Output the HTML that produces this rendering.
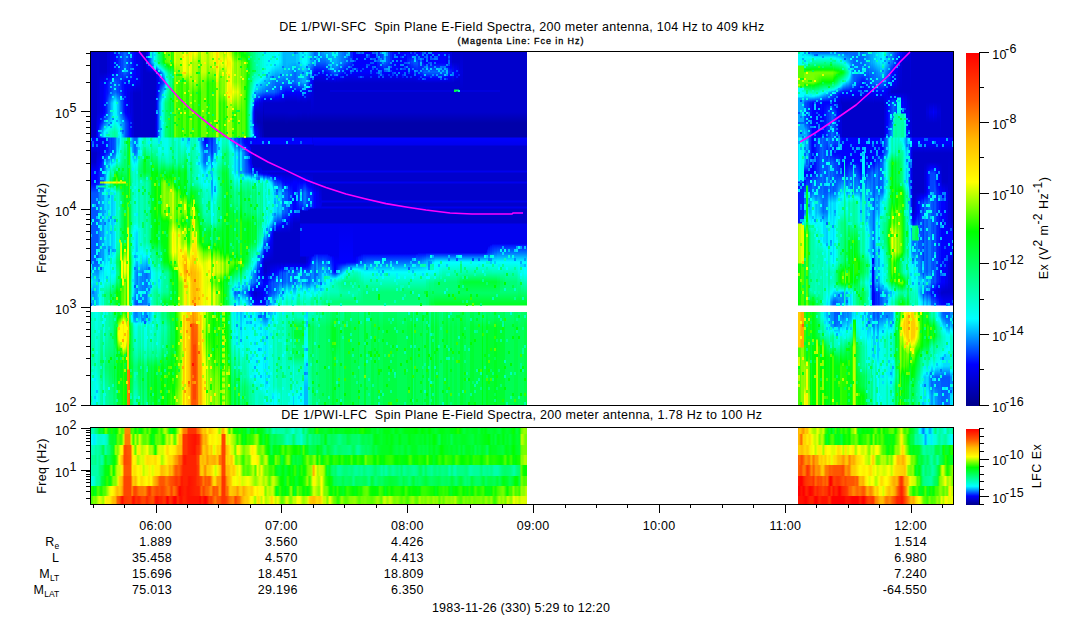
<!DOCTYPE html>
<html><head><meta charset="utf-8"><title>DE 1/PWI spectrogram</title>
<style>
html,body{margin:0;padding:0;background:#fff}
body{width:1083px;height:620px;position:relative;overflow:hidden;font-family:"Liberation Sans",sans-serif;font-size:12.5px;letter-spacing:.29px;color:#000}
.t{position:absolute;white-space:nowrap;line-height:14px;height:14px}
.r{text-align:right}
.c{text-align:center}
.sub{font-size:8.5px;position:relative;top:3px;letter-spacing:0}
.rot{position:absolute;white-space:nowrap;line-height:14px;height:14px;transform-origin:0 0;transform:rotate(-90deg);text-align:center}
.rot sup{font-size:12px;position:relative;top:-6px;vertical-align:baseline;line-height:0}
#m,#l{position:absolute;left:90px;overflow:hidden}
#m{top:51px;width:864px;height:354px}
#l{top:428px;width:864px;height:76px}
#m i{position:absolute;top:0;width:2px;height:354px}
#m i.w1{width:1px}#m i.w3{width:3px}
#l b{position:absolute}
#m s{position:absolute;top:0}
#ws{position:absolute;left:0;top:255px;width:864px;height:6px;background:#fff}
svg{position:absolute;left:0;top:0}
.cb{position:absolute;left:966px;width:13px}
</style></head><body>
<div class="t c" style="left:221.8px;width:600px;top:20.1px">DE 1/PWI-SFC&nbsp; Spin Plane E-Field Spectra, 200 meter antenna, 104 Hz to 409 kHz</div>
<div class="t c" style="left:321px;width:400px;top:33.8px;font-size:9px;letter-spacing:.93px;-webkit-text-stroke:.3px #000">(Magenta Line: Fce in Hz)</div>
<div class="t c" style="left:221.8px;width:600px;top:408.2px">DE 1/PWI-LFC&nbsp; Spin Plane E-Field Spectra, 200 meter antenna, 1.78 Hz to 100 Hz</div>
<div class="t c" style="left:321px;width:400px;top:600.9px;letter-spacing:.2px">1983-11-26 (330) 5:29 to 12:20</div>
<div id="m">
<i class=w1 style="left:0px;background:linear-gradient(#00c 0,#00c 86px,#00f 87px,#00f 92px,#00c 102px,#00c 111px,#00f 121px,#00f 132px,#05f 142px,#05f 211px,#0ef 231px,#0af 242px,#0af 254px,#fff 255px,#fff 260px,#0fe 261px,#0fc 306px,#0fe 326px,#0ff 353px)"></i>
<i style="left:1px;background:linear-gradient(#00c 0,#00c 86px,#00f 87px,#00f 92px,#00c 102px,#00c 111px,#00f 121px,#00f 132px,#05f 142px,#05f 211px,#0ef 231px,#0af 242px,#0af 254px,#fff 255px,#fff 260px,#0fc 261px,#0f9 306px,#0fa 316px,#0fc 326px,#0fd 353px)"></i>
<i style="left:3px;background:linear-gradient(#00c 0,#00c 86px,#00f 87px,#00f 92px,#00c 102px,#00c 111px,#00f 121px,#00f 132px,#05f 142px,#05f 211px,#0df 231px,#09f 242px,#09f 254px,#fff 255px,#fff 260px,#0fd 261px,#0fa 306px,#0fb 316px,#0fd 326px,#0fe 353px)"></i>
<i class=w1 style="left:5px;background:linear-gradient(#00c 0,#00c 86px,#00f 87px,#00f 92px,#00c 102px,#00c 111px,#00f 121px,#00f 131px,#05f 142px,#05f 211px,#0df 231px,#0af 242px,#0af 254px,#fff 255px,#fff 260px,#0fe 261px,#0fc 306px,#0fc 315px,#0fe 326px,#0ef 353px)"></i>
<i class=w1 style="left:6px;background:linear-gradient(#00c 0,#00c 62px,#00e 86px,#00f 87px,#00f 92px,#00c 102px,#00d 111px,#00f 121px,#00f 131px,#01f 134px,#0fd 135px,#0fd 136px,#03f 137px,#05f 142px,#05f 211px,#0cf 231px,#0af 242px,#0af 254px,#fff 255px,#fff 260px,#0fe 261px,#0fc 306px,#0fc 315px,#0fe 335px,#0ff 353px)"></i>
<i class=w1 style="left:7px;background:linear-gradient(#00c 0,#00d 61px,#00f 82px,#00f 92px,#00d 102px,#00f 120px,#01f 131px,#02f 134px,#0fd 135px,#0fc 136px,#03f 137px,#05f 142px,#05f 211px,#0cf 231px,#0bf 254px,#fff 255px,#fff 260px,#0fe 261px,#0fb 315px,#0fe 335px,#0ff 353px)"></i>
<i class=w1 style="left:8px;background:linear-gradient(#00c 0,#00d 61px,#00f 77px,#02f 81px,#02f 86px,#00f 87px,#00d 102px,#00f 118px,#01f 122px,#01f 131px,#02f 134px,#0fc 135px,#0fc 136px,#04f 137px,#06f 142px,#06f 211px,#0cf 231px,#0cf 254px,#fff 255px,#fff 260px,#0fd 261px,#0fa 315px,#0fd 335px,#0fd 353px)"></i>
<i class=w1 style="left:9px;background:linear-gradient(#00c 0,#00c 21px,#00d 32px,#00d 61px,#00f 72px,#04f 82px,#04f 86px,#00f 87px,#00d 102px,#00f 114px,#02f 121px,#02f 131px,#04f 134px,#0fa 135px,#0fa 136px,#05f 137px,#08f 142px,#08f 211px,#0cf 222px,#0ff 232px,#0ff 254px,#fff 255px,#fff 260px,#0fd 261px,#0fa 315px,#0fc 336px,#0fd 353px)"></i>
<i class=w1 style="left:10px;background:linear-gradient(#00c 0,#00c 21px,#00e 32px,#00e 61px,#00f 70px,#06f 82px,#06f 86px,#00f 87px,#00e 101px,#00f 110px,#03f 121px,#03f 130px,#9f0 131px,#9f0 132px,#04f 133px,#04f 134px,#0fa 135px,#0fa 136px,#06f 137px,#08f 142px,#08f 211px,#0df 222px,#0ff 233px,#0fe 242px,#0fe 254px,#fff 255px,#fff 260px,#0fb 261px,#0fa 276px,#0f7 315px,#0fa 336px,#0fa 353px)"></i>
<i class=w1 style="left:11px;background:linear-gradient(#00c 0,#00c 21px,#00e 32px,#00e 61px,#00f 67px,#02f 72px,#09f 82px,#09f 86px,#00f 87px,#00e 101px,#00f 107px,#03f 121px,#04f 130px,#9f0 131px,#9f0 132px,#04f 133px,#05f 134px,#0fa 135px,#0fa 136px,#06f 137px,#09f 142px,#09f 211px,#0df 222px,#0ff 233px,#0fd 242px,#0fd 254px,#fff 255px,#fff 260px,#0fa 261px,#0f9 285px,#0f6 315px,#0f9 336px,#0fa 353px)"></i>
<i class=w1 style="left:12px;background:linear-gradient(#00c 0,#00c 21px,#00e 32px,#00e 61px,#00f 65px,#03f 72px,#0bf 82px,#0bf 86px,#00f 87px,#00e 101px,#00f 105px,#03f 112px,#04f 121px,#04f 130px,#af0 131px,#af0 132px,#05f 133px,#06f 134px,#0fa 135px,#0fa 136px,#07f 137px,#09f 142px,#09f 211px,#0ef 222px,#0ff 231px,#0fc 242px,#0fc 254px,#fff 255px,#fff 260px,#0fa 261px,#0f9 285px,#0f6 315px,#0f9 336px,#0f9 353px)"></i>
<i class=w1 style="left:13px;background:linear-gradient(#00c 0,#00c 21px,#00e 32px,#00f 63px,#04f 71px,#0df 82px,#0df 86px,#00f 87px,#00e 101px,#00f 104px,#04f 112px,#04f 130px,#9f0 131px,#9f0 132px,#05f 133px,#06f 134px,#0fa 135px,#0fa 136px,#07f 137px,#09f 142px,#09f 211px,#0df 221px,#0ef 231px,#0ff 234px,#0fd 242px,#0fd 254px,#fff 255px,#fff 260px,#0fe 261px,#0fd 285px,#0fa 315px,#0fd 336px,#0fd 353px)"></i>
<i class=w1 style="left:14px;background:linear-gradient(#00c 0,#00c 21px,#00f 32px,#00f 62px,#05f 71px,#0ff 81px,#0ff 82px,#0ff 86px,#00f 87px,#00f 102px,#06f 112px,#07f 130px,#df0 131px,#df0 132px,#07f 133px,#08f 134px,#0f8 135px,#0f8 136px,#0af 137px,#0cf 142px,#0cf 211px,#0ff 217px,#0fe 222px,#0fe 231px,#0f9 242px,#0f9 254px,#fff 255px,#fff 260px,#0fe 261px,#0fd 285px,#0f9 316px,#0fc 336px,#0fd 353px)"></i>
<i class=w1 style="left:15px;background:linear-gradient(#00c 0,#00c 21px,#00f 32px,#01f 61px,#06f 71px,#0ff 80px,#0fe 82px,#0fe 86px,#00f 87px,#00f 101px,#08f 112px,#09f 130px,#ef0 131px,#ef0 132px,#0af 133px,#0af 134px,#0f7 135px,#0f7 136px,#0bf 137px,#0df 142px,#0df 211px,#0ff 216px,#0fe 222px,#0fd 231px,#0f9 242px,#0f9 254px,#fff 255px,#fff 260px,#0fb 261px,#0fa 285px,#0f6 316px,#0f9 336px,#0fa 353px)"></i>
<i class=w1 style="left:16px;background:linear-gradient(#00c 0,#00c 21px,#00f 31px,#01f 42px,#02f 52px,#02f 61px,#07f 71px,#0ff 79px,#0fd 82px,#0fd 86px,#01f 87px,#01f 101px,#09f 112px,#0cf 121px,#0ef 130px,#ef0 131px,#ef0 132px,#0ef 133px,#0ef 134px,#0f7 135px,#0f7 136px,#0ef 137px,#0df 142px,#0df 201px,#0ff 213px,#0fd 231px,#0f8 242px,#0f8 254px,#fff 255px,#fff 260px,#0fa 261px,#0fa 286px,#0f6 316px,#0f9 336px,#0f9 353px)"></i>
<i class=w1 style="left:17px;background:linear-gradient(#00d 0,#00d 21px,#00f 29px,#01f 32px,#01f 42px,#04f 52px,#04f 61px,#08f 71px,#0ff 78px,#0fd 82px,#0fd 86px,#01f 87px,#01f 101px,#09f 112px,#0ff 123px,#0fe 130px,#df0 131px,#df0 132px,#0fe 133px,#0fe 134px,#0f7 135px,#0f8 136px,#0ef 137px,#0cf 142px,#0cf 201px,#0ff 218px,#0fe 231px,#0f8 242px,#0f8 254px,#fff 255px,#fff 260px,#0fa 261px,#0fa 286px,#0f6 316px,#0f9 336px,#0f9 353px)"></i>
<i class=w1 style="left:18px;background:linear-gradient(#00d 0,#00d 21px,#00f 28px,#02f 32px,#02f 42px,#06f 52px,#06f 61px,#0af 71px,#0ff 77px,#0fd 81px,#0fc 86px,#02f 87px,#02f 101px,#0ff 118px,#0fc 130px,#ef0 131px,#ef0 132px,#0fc 133px,#0fd 134px,#0f7 135px,#0f7 136px,#0fe 137px,#0ff 139px,#0cf 142px,#0cf 201px,#0ff 210px,#0ff 221px,#0fd 231px,#0f8 242px,#0f8 254px,#fff 255px,#fff 260px,#0fa 261px,#0f9 286px,#0f6 316px,#0f8 336px,#0f9 353px)"></i>
<i class=w1 style="left:19px;background:linear-gradient(#00d 0,#00d 21px,#00f 27px,#03f 32px,#03f 41px,#07f 51px,#07f 62px,#0bf 71px,#0ff 76px,#0fc 81px,#0fc 86px,#03f 87px,#03f 101px,#0af 111px,#0ff 116px,#0fc 122px,#0f9 130px,#ef0 131px,#ef0 132px,#0fa 133px,#0fb 134px,#0f6 135px,#0f6 136px,#0fd 137px,#0ff 140px,#0df 142px,#0df 201px,#0ff 207px,#0fe 212px,#0ff 222px,#0fd 231px,#0f7 242px,#0f7 254px,#fff 255px,#fff 260px,#0f9 261px,#0f8 295px,#0f5 316px,#0f8 345px,#0f8 353px)"></i>
<i class=w1 style="left:20px;background:linear-gradient(#00e 0,#00e 21px,#00f 26px,#03f 32px,#03f 42px,#09f 52px,#09f 61px,#0cf 71px,#0ff 75px,#0fb 81px,#0fb 86px,#04f 87px,#04f 101px,#0ef 112px,#0ff 113px,#0f8 121px,#0f5 130px,#fe0 131px,#fe0 132px,#0f6 133px,#0f7 134px,#0f3 135px,#0f4 136px,#0fa 137px,#0fe 142px,#0fe 201px,#0fc 211px,#0fd 222px,#0fb 231px,#0f4 242px,#0f4 254px,#fff 255px,#fff 260px,#0f9 261px,#0f8 295px,#0f5 316px,#0f8 345px,#0f8 353px)"></i>
<i class=w1 style="left:21px;background:linear-gradient(#00e 0,#00e 21px,#00f 25px,#04f 32px,#04f 42px,#0bf 52px,#0bf 62px,#0df 71px,#0ff 74px,#0fb 81px,#0fb 86px,#03f 87px,#03f 101px,#0af 111px,#0ff 115px,#0fa 122px,#0f6 130px,#ef0 131px,#df0 132px,#0f7 133px,#0f8 134px,#0f6 135px,#0f7 136px,#0fc 137px,#0ff 140px,#0cf 142px,#0cf 201px,#0ff 208px,#0fe 212px,#0ff 217px,#0ef 221px,#0ff 225px,#0fd 232px,#0f7 242px,#0f7 254px,#fff 255px,#fff 260px,#0f9 261px,#0f8 295px,#0f5 316px,#0f8 345px,#0f8 353px)"></i>
<i class=w1 style="left:22px;background:linear-gradient(#00e 0,#00e 21px,#00f 24px,#04f 32px,#05f 42px,#0cf 52px,#0cf 62px,#0ef 71px,#0ff 73px,#0fa 81px,#0fa 86px,#04f 87px,#04f 101px,#0bf 111px,#0ef 113px,#0ff 114px,#0f8 122px,#0f4 130px,#ef0 131px,#ef0 132px,#0f5 133px,#0f7 134px,#0f6 135px,#0f6 136px,#0fb 137px,#0ff 140px,#0ef 141px,#0cf 142px,#0cf 201px,#0ff 207px,#0fe 212px,#0ff 218px,#0ef 221px,#0ff 224px,#0fd 231px,#0f6 242px,#0f6 254px,#fff 255px,#fff 260px,#0f8 261px,#0f8 295px,#0f5 316px,#0f5 326px,#0f8 345px,#0f8 353px)"></i>
<i class=w1 style="left:23px;background:linear-gradient(#00e 0,#00f 23px,#05f 32px,#06f 42px,#0ef 52px,#0ff 72px,#0fa 81px,#0fa 86px,#04f 87px,#04f 101px,#0cf 111px,#0ff 113px,#0f6 122px,#0f2 130px,#ff0 131px,#ff0 132px,#0f3 133px,#0f5 134px,#0f6 136px,#0fa 137px,#0fe 140px,#0ef 141px,#0df 142px,#0df 201px,#0ff 205px,#0fd 212px,#0ff 218px,#0ef 221px,#0ff 224px,#0fd 231px,#0f5 242px,#0f5 254px,#fff 255px,#fff 260px,#0f7 261px,#0f7 282px,#0f6 283px,#0f6 284px,#0f7 285px,#0f7 295px,#0f5 316px,#0f7 353px)"></i>
<i class=w1 style="left:24px;background:linear-gradient(#00f 0,#00f 22px,#06f 32px,#06f 42px,#0ff 51px,#0fe 71px,#0f9 81px,#0f9 86px,#05f 87px,#05f 101px,#0df 111px,#0ef 112px,#0ff 113px,#0f4 122px,#0f0 129px,#1f0 130px,#ff0 131px,#ff0 132px,#0f1 133px,#0f4 135px,#0f5 136px,#0f8 137px,#0ff 141px,#0df 142px,#0df 201px,#0ff 204px,#0fc 212px,#0ff 219px,#0ef 221px,#0ff 224px,#0fc 231px,#0f4 242px,#0f4 254px,#fff 255px,#fff 260px,#0f6 261px,#0f6 273px,#0f4 274px,#0f4 284px,#0f4 293px,#0f6 294px,#0f6 295px,#0f3 316px,#0f3 326px,#0f6 345px,#0f6 353px)"></i>
<i class=w1 style="left:25px;background:linear-gradient(#00f 0,#00f 21px,#05f 31px,#06f 41px,#0ff 51px,#0fe 71px,#0fa 81px,#0f9 86px,#06f 87px,#06f 101px,#0ef 111px,#0ff 112px,#0f5 121px,#0f1 127px,#0f0 128px,#2f0 130px,#ff0 131px,#ff0 132px,#0f0 133px,#0f4 135px,#0f5 136px,#0f8 137px,#0fd 140px,#0ff 141px,#0ef 142px,#0ff 201px,#0fb 212px,#0ff 222px,#0fb 231px,#0f3 242px,#0f3 254px,#fff 255px,#fff 260px,#0f7 261px,#0f7 269px,#0f5 270px,#0f3 284px,#0f5 297px,#0f7 298px,#0f5 315px,#0f5 325px,#0f7 345px,#0f7 353px)"></i>
<i class=w1 style="left:26px;background:linear-gradient(#01f 0,#01f 21px,#05f 32px,#05f 41px,#0ef 52px,#0ff 71px,#0fa 82px,#0fa 86px,#0af 87px,#0bf 101px,#0ff 105px,#0fc 111px,#0f2 121px,#0f0 123px,#7f0 130px,#fd0 131px,#fd0 132px,#4f0 133px,#1f0 134px,#0f1 135px,#0f2 136px,#0f4 137px,#0fa 141px,#0fb 142px,#0fb 191px,#0fa 201px,#0f6 211px,#0f9 222px,#0f6 232px,#0f0 241px,#1f0 242px,#1f0 254px,#fff 255px,#fff 260px,#0f6 261px,#0f6 266px,#0f5 267px,#0f2 276px,#0f1 284px,#0f4 300px,#0f6 301px,#0f4 325px,#0f6 345px,#0f6 353px)"></i>
<i class=w1 style="left:27px;background:linear-gradient(#01f 0,#01f 21px,#04f 31px,#04f 41px,#0cf 52px,#0cf 62px,#0ef 71px,#0ff 73px,#0fb 82px,#0fb 86px,#0cf 87px,#0cf 92px,#0ef 101px,#0ff 103px,#0fc 111px,#0f3 121px,#0f0 125px,#5f0 130px,#fd0 131px,#fd0 132px,#3f0 133px,#0f0 134px,#0f1 135px,#0f2 136px,#0f4 137px,#0fa 141px,#0fb 142px,#0fb 191px,#0f9 201px,#0f5 211px,#0f8 222px,#0f6 231px,#0f0 241px,#1f0 254px,#fff 255px,#fff 260px,#0f3 261px,#0f3 265px,#0f1 266px,#0f0 269px,#7f0 277px,#9f0 283px,#7f0 288px,#0f0 298px,#0f1 301px,#0f2 302px,#0f1 325px,#0f3 353px)"></i>
<i class=w1 style="left:28px;background:linear-gradient(#02f 0,#02f 21px,#04f 31px,#04f 41px,#0bf 52px,#0bf 62px,#0df 71px,#0ff 75px,#0fd 81px,#0fd 86px,#0bf 87px,#0bf 92px,#0df 101px,#0ff 105px,#0fd 112px,#0f5 121px,#0f0 130px,#ff0 131px,#ff0 132px,#0f1 133px,#0f4 136px,#0fb 141px,#0fc 142px,#0fc 191px,#0f9 201px,#0f5 211px,#0f8 222px,#0f7 231px,#0f1 242px,#0f1 254px,#fff 255px,#fff 260px,#0f2 261px,#0f2 263px,#0f1 264px,#0f0 267px,#bf0 276px,#ef0 280px,#ff0 283px,#ef0 285px,#df0 288px,#4f0 297px,#0f0 302px,#0f2 304px,#0f1 325px,#0f3 353px)"></i>
<i class=w1 style="left:29px;background:linear-gradient(#03f 0,#03f 41px,#09f 51px,#09f 62px,#0cf 71px,#0ff 77px,#0fe 82px,#0fe 86px,#0cf 87px,#0cf 91px,#0ff 100px,#0fc 111px,#0f5 122px,#0f1 130px,#ff0 131px,#ff0 132px,#0f2 133px,#0fa 142px,#0fa 188px,#9f0 189px,#9f0 191px,#0fa 192px,#0f8 201px,#0f3 211px,#0f5 222px,#0f5 231px,#0f1 242px,#0f1 254px,#fff 255px,#fff 260px,#0f3 261px,#0f0 266px,#1f0 267px,#ef0 276px,#ff0 278px,#ff0 289px,#3f0 298px,#0f0 302px,#0f1 304px,#0f2 305px,#0f2 325px,#0f3 353px)"></i>
<i class=w1 style="left:30px;background:linear-gradient(#03f 0,#03f 41px,#07f 52px,#07f 62px,#0ff 81px,#0ff 92px,#0fb 111px,#0f1 130px,#fe0 131px,#fe0 132px,#0f1 133px,#0f8 142px,#0f8 188px,#bf0 189px,#df0 209px,#0f1 210px,#0f1 212px,#0f2 221px,#0f3 231px,#0f0 240px,#1f0 242px,#1f0 254px,#fff 255px,#fff 260px,#0f2 261px,#0f2 262px,#0f0 263px,#0f0 264px,#1f0 266px,#7f0 270px,#ef0 274px,#ff0 275px,#ff0 292px,#4f0 299px,#0f0 303px,#0f0 304px,#0f2 305px,#0f2 306px,#0f1 325px,#0f3 353px)"></i>
<i class=w1 style="left:31px;background:linear-gradient(#04f 0,#04f 21px,#02f 31px,#02f 41px,#05f 51px,#06f 62px,#0df 81px,#0df 86px,#0fd 87px,#0fd 92px,#0f9 112px,#0f0 130px,#fe0 131px,#fe0 132px,#0f1 133px,#0f6 142px,#0f6 191px,#df0 192px,#ff0 209px,#ff0 227px,#0f0 228px,#0f1 231px,#0f0 234px,#4f0 242px,#4f0 254px,#fff 255px,#fff 260px,#0f1 261px,#1f0 262px,#4f0 266px,#ef0 272px,#ff0 273px,#ff0 294px,#4f0 301px,#0f0 305px,#0f1 306px,#0f1 325px,#0f2 353px)"></i>
<i class=w1 style="left:32px;background:linear-gradient(#04f 0,#04f 21px,#01f 31px,#01f 41px,#04f 51px,#04f 61px,#09f 72px,#0bf 81px,#0bf 86px,#0fc 87px,#0fc 92px,#0fa 101px,#0f8 112px,#0f5 121px,#0f1 130px,#fe0 131px,#fe0 132px,#0f1 133px,#0f5 142px,#0f5 191px,#0f0 202px,#5f0 209px,#ff0 210px,#ff0 234px,#3f0 235px,#5f0 242px,#5f0 254px,#fff 255px,#fff 260px,#0f0 261px,#2f0 262px,#5f0 266px,#ef0 271px,#ff0 272px,#ff0 295px,#7f0 300px,#0f1 306px,#0f1 353px)"></i>
<i class=w1 style="left:33px;background:linear-gradient(#05f 0,#05f 21px,#01f 32px,#01f 41px,#02f 52px,#02f 61px,#08f 72px,#09f 86px,#0fc 87px,#0fc 92px,#0f9 102px,#0f6 121px,#0f2 130px,#fe0 131px,#fe0 132px,#0f2 133px,#0f4 142px,#0f4 191px,#0f0 199px,#af0 212px,#9f0 221px,#6f0 227px,#ff0 228px,#ff0 234px,#4f0 235px,#5f0 242px,#5f0 254px,#fff 255px,#fff 260px,#4f0 261px,#4f0 262px,#7f0 263px,#9f0 266px,#ef0 269px,#ff0 270px,#fe0 272px,#fe0 294px,#ff0 297px,#6f0 304px,#3f0 305px,#3f0 306px,#2f0 353px)"></i>
<i class=w1 style="left:34px;background:linear-gradient(#06f 0,#06f 21px,#00f 32px,#01f 61px,#07f 72px,#07f 86px,#0fa 87px,#0fa 92px,#0f6 102px,#0f6 121px,#0f2 130px,#fe0 131px,#fe0 132px,#0f1 133px,#0f2 142px,#0f2 191px,#0f0 195px,#7f0 202px,#ff0 212px,#ff0 221px,#7f0 232px,#8f0 254px,#fff 255px,#fff 260px,#3f0 261px,#3f0 262px,#5f0 263px,#7f0 266px,#ef0 270px,#ff0 271px,#ff0 296px,#9f0 300px,#4f0 304px,#1f0 305px,#1f0 306px,#1f0 353px)"></i>
<i class=w1 style="left:35px;background:linear-gradient(#06f 0,#06f 21px,#00f 31px,#00f 62px,#05f 72px,#05f 86px,#0fa 87px,#0fa 92px,#0f6 102px,#0f6 121px,#0f2 130px,#fe0 131px,#fe0 132px,#0f2 133px,#0f2 191px,#0f0 195px,#7f0 202px,#ff0 212px,#ef0 221px,#7f0 232px,#7f0 254px,#fff 255px,#fff 260px,#2f0 261px,#2f0 263px,#4f0 264px,#5f0 266px,#ff0 272px,#ff0 294px,#ff0 295px,#4f0 303px,#1f0 304px,#1f0 306px,#0f0 353px)"></i>
<i class=w1 style="left:36px;background:linear-gradient(#05f 0,#05f 21px,#00f 31px,#00f 63px,#04f 72px,#04f 86px,#0fb 87px,#0fb 92px,#0f8 102px,#0f6 121px,#0f3 132px,#0f3 191px,#0f0 198px,#4f0 202px,#af0 212px,#af0 221px,#3f0 232px,#2f0 254px,#fff 255px,#fff 260px,#0f2 261px,#0f2 265px,#0f0 266px,#ff0 276px,#ef0 290px,#3f0 301px,#0f0 302px,#0f1 306px,#0f1 353px)"></i>
<i class=w1 style="left:37px;background:linear-gradient(#04f 0,#04f 21px,#00f 31px,#00e 42px,#00e 61px,#00f 65px,#03f 72px,#03f 86px,#0f4 87px,#0f2 151px,#5f0 152px,#5f0 176px,#df0 177px,#df0 191px,#ff0 205px,#ef0 254px,#fff 255px,#fff 260px,#fd0 261px,#fc0 283px,#fc0 318px,#f70 319px,#f70 353px)"></i>
<i class=w1 style="left:38px;background:linear-gradient(#04f 0,#04f 21px,#00f 31px,#00e 42px,#00e 61px,#00f 67px,#02f 72px,#02f 86px,#0f3 87px,#0f1 151px,#6f0 152px,#6f0 176px,#ef0 177px,#ef0 191px,#ff0 199px,#ff0 254px,#fff 255px,#fff 260px,#fd0 261px,#fc0 282px,#fc0 318px,#f70 319px,#f70 353px)"></i>
<i class=w1 style="left:39px;background:linear-gradient(#03f 0,#03f 21px,#00f 31px,#00e 42px,#00e 61px,#00f 70px,#01f 86px,#1f0 87px,#2f0 100px,#4f0 131px,#4f0 151px,#0f3 152px,#0f3 171px,#0f5 182px,#0f5 192px,#0f0 207px,#2f0 212px,#0f0 222px,#0f2 232px,#0f3 254px,#fff 255px,#fff 260px,#0f5 261px,#0f5 266px,#0f1 273px,#1f0 274px,#3f0 276px,#4f0 285px,#2f0 293px,#0f0 294px,#0f2 305px,#0f1 318px,#f60 319px,#f60 353px)"></i>
<i class=w1 style="left:40px;background:linear-gradient(#03f 0,#03f 21px,#00f 31px,#00d 42px,#00d 61px,#00f 72px,#00f 86px,#0fd 87px,#0fd 92px,#0f8 112px,#0f4 132px,#0f4 171px,#0f6 181px,#0f6 191px,#0f1 212px,#0f4 231px,#0f6 254px,#fff 255px,#fff 260px,#0f8 261px,#0f8 266px,#0f3 275px,#0f2 282px,#0f1 283px,#0f1 284px,#0f2 285px,#0f3 305px,#0f2 316px,#0f4 353px)"></i>
<i class=w1 style="left:41px;background:linear-gradient(#02f 0,#02f 21px,#00f 30px,#00d 42px,#00e 86px,#0cf 87px,#0cf 92px,#0ff 103px,#0fa 121px,#0f8 132px,#0f8 171px,#0fb 181px,#0fb 191px,#0f7 212px,#0fa 231px,#0fa 241px,#0fc 254px,#fff 255px,#fff 260px,#0ff 261px,#0ff 266px,#0fd 271px,#0f7 272px,#0f5 276px,#0f5 305px,#0f3 316px,#0f5 345px,#0f5 353px)"></i>
<i class=w1 style="left:42px;background:linear-gradient(#01f 0,#01f 21px,#00f 30px,#00d 42px,#00d 86px,#09f 87px,#0af 101px,#0ff 110px,#0fb 121px,#0fa 131px,#0fa 171px,#0fd 182px,#0fd 192px,#0fb 211px,#0fe 231px,#0fe 241px,#0ff 254px,#fff 255px,#fff 260px,#0ef 261px,#0ef 265px,#0ff 268px,#0fe 271px,#0f9 272px,#0f7 276px,#0f6 305px,#0f3 316px,#0f6 345px,#0f6 353px)"></i>
<i class=w1 style="left:43px;background:linear-gradient(#01f 0,#00f 31px,#00c 42px,#00d 86px,#07f 87px,#08f 101px,#0ff 112px,#0fc 122px,#0fb 171px,#0ff 182px,#0fd 211px,#0ff 222px,#0ef 241px,#0bf 251px,#0bf 254px,#fff 255px,#fff 260px,#0af 261px,#0af 266px,#0cf 271px,#0fd 272px,#0fb 276px,#0f8 305px,#0f6 315px,#0f9 345px,#0f9 353px)"></i>
<i class=w1 style="left:44px;background:linear-gradient(#00f 0,#00f 31px,#00c 42px,#00c 86px,#06f 87px,#06f 101px,#0ff 114px,#0fc 122px,#0fc 171px,#0ff 180px,#0ef 182px,#0ff 211px,#0bf 222px,#0bf 241px,#07f 251px,#07f 254px,#fff 255px,#fff 260px,#08f 261px,#08f 266px,#0bf 271px,#0ff 272px,#0fd 276px,#0fb 296px,#0f7 316px,#0fb 345px,#0fb 353px)"></i>
<i class=w1 style="left:45px;background:linear-gradient(#00f 0,#00f 31px,#00c 42px,#00c 86px,#06f 87px,#06f 101px,#0ff 112px,#0fb 122px,#0fc 171px,#0ff 180px,#0ef 182px,#0df 211px,#09f 222px,#09f 241px,#05f 251px,#05f 254px,#fff 255px,#fff 260px,#07f 261px,#08f 266px,#0af 271px,#0ef 272px,#0ff 273px,#0fe 276px,#0fd 286px,#0fa 305px,#0f7 316px,#0fb 345px,#0fb 353px)"></i>
<i class=w1 style="left:46px;background:linear-gradient(#00e 0,#00e 31px,#00c 42px,#00c 86px,#06f 87px,#07f 101px,#0ff 113px,#0fc 122px,#0fd 132px,#0fd 171px,#0ff 177px,#0df 182px,#0bf 211px,#08f 222px,#08f 241px,#05f 251px,#04f 254px,#fff 255px,#fff 260px,#07f 261px,#08f 266px,#0af 271px,#0ef 272px,#0ff 273px,#0fe 276px,#0fc 295px,#0fa 305px,#0f7 316px,#0fb 345px,#0fb 353px)"></i>
<i class=w1 style="left:47px;background:linear-gradient(#00e 0,#00e 31px,#00c 42px,#00c 86px,#08f 87px,#09f 101px,#0ff 110px,#0fb 122px,#0fd 132px,#0fd 171px,#0ff 178px,#0df 182px,#0df 192px,#0bf 211px,#07f 222px,#07f 241px,#04f 254px,#fff 255px,#fff 260px,#08f 261px,#08f 266px,#0bf 271px,#0ff 272px,#0fd 276px,#0fb 296px,#0fa 305px,#0f6 316px,#0fa 345px,#0fa 353px)"></i>
<i class=w1 style="left:48px;background:linear-gradient(#00e 0,#00e 31px,#00c 42px,#00c 86px,#0df 87px,#0df 92px,#0ff 100px,#0fa 112px,#0f7 121px,#0fa 132px,#0fa 171px,#0fd 182px,#0fd 192px,#0ff 209px,#0ef 212px,#0af 222px,#0af 241px,#07f 251px,#06f 254px,#fff 255px,#fff 260px,#0af 261px,#0af 266px,#0df 271px,#0fe 272px,#0fb 276px,#0fa 296px,#0f8 305px,#0f4 316px,#0f8 345px,#0f8 353px)"></i>
<i class=w1 style="left:49px;background:linear-gradient(#00e 0,#00e 31px,#00c 42px,#00c 86px,#0ff 87px,#0ff 93px,#0fd 101px,#0f9 111px,#0f6 121px,#0fa 132px,#0fa 171px,#0fc 181px,#0fc 192px,#0ff 207px,#0ef 212px,#09f 222px,#09f 241px,#06f 254px,#fff 255px,#fff 260px,#0af 261px,#0af 266px,#0df 271px,#0fe 272px,#0fb 276px,#0fa 296px,#0f8 305px,#0f4 316px,#0f7 345px,#0f7 353px)"></i>
<i class=w1 style="left:50px;background:linear-gradient(#00d 0,#00d 31px,#00c 42px,#00c 86px,#0ff 87px,#0ff 92px,#0fd 101px,#0f8 111px,#0f6 121px,#0fb 132px,#0fb 171px,#0fd 181px,#0fd 192px,#0ff 202px,#0df 211px,#08f 222px,#08f 241px,#06f 254px,#fff 255px,#fff 260px,#0af 261px,#0bf 266px,#0ef 271px,#0fd 272px,#0fb 276px,#0f9 296px,#0f7 305px,#0f4 316px,#0f6 353px)"></i>
<i class=w1 style="left:51px;background:linear-gradient(#00d 0,#00c 86px,#0fe 87px,#0fe 92px,#0fb 101px,#0f7 112px,#0f5 121px,#0fb 132px,#0fb 171px,#0fc 181px,#0fc 192px,#0ff 202px,#0cf 211px,#08f 222px,#08f 241px,#06f 254px,#fff 255px,#fff 260px,#08f 261px,#08f 266px,#0af 271px,#0ef 272px,#0ff 273px,#0fd 276px,#0fc 295px,#0fa 305px,#0f6 316px,#0f9 353px)"></i>
<i class=w1 style="left:52px;background:linear-gradient(#00d 0,#00c 86px,#0fd 87px,#0fd 92px,#0fa 101px,#0f6 112px,#0f5 121px,#0fb 132px,#0fb 171px,#0fc 191px,#0ff 201px,#0cf 211px,#07f 222px,#07f 241px,#06f 254px,#fff 255px,#fff 260px,#0af 261px,#0af 266px,#0df 271px,#0fd 272px,#0fb 276px,#0fa 295px,#0f8 305px,#0f4 316px,#0f6 353px)"></i>
<i class=w1 style="left:53px;background:linear-gradient(#00c 0,#00c 86px,#0fb 87px,#0fb 92px,#0f3 112px,#0f3 121px,#0fa 132px,#0fa 191px,#0ff 205px,#08f 222px,#07f 254px,#fff 255px,#fff 260px,#0af 261px,#0af 266px,#0df 271px,#0fd 272px,#0fb 276px,#0fa 295px,#0f8 305px,#0f4 316px,#0f5 353px)"></i>
<i style="left:54px;background:linear-gradient(#00c 0,#00c 86px,#0fa 87px,#0fa 92px,#0f2 111px,#0f2 121px,#0f9 132px,#0f9 191px,#0ff 205px,#07f 222px,#07f 254px,#fff 255px,#fff 260px,#07f 261px,#08f 266px,#0af 271px,#0df 272px,#0ff 274px,#0fe 276px,#0fd 295px,#0fb 305px,#0f7 316px,#0f7 335px,#0f8 353px)"></i>
<i class=w1 style="left:56px;background:linear-gradient(#00e 0,#00e 11px,#00c 22px,#00c 86px,#0fd 87px,#0fd 92px,#0f5 111px,#0f4 121px,#0fb 132px,#0fb 191px,#0ff 200px,#06f 222px,#07f 254px,#fff 255px,#fff 260px,#08f 261px,#08f 266px,#0af 271px,#0ef 272px,#0ff 274px,#0fd 295px,#0fb 305px,#0f7 316px,#0f7 335px,#0f8 353px)"></i>
<i class=w1 style="left:57px;background:linear-gradient(#00f 0,#00f 11px,#00c 22px,#00c 86px,#0fd 87px,#0fd 92px,#0f5 111px,#0f4 121px,#0fa 132px,#0fa 191px,#0ff 201px,#0bf 212px,#07f 222px,#07f 231px,#09f 242px,#09f 254px,#fff 255px,#fff 260px,#0cf 261px,#0cf 266px,#0ef 271px,#0fd 272px,#0fb 276px,#0fa 295px,#0f8 305px,#0f3 316px,#0f3 335px,#0f4 353px)"></i>
<i class=w1 style="left:58px;background:linear-gradient(#02f 0,#02f 11px,#00f 14px,#00c 22px,#00c 86px,#0fd 87px,#0fd 92px,#0f5 111px,#0f4 121px,#0f9 132px,#0f9 191px,#0fe 201px,#0ff 205px,#0df 212px,#08f 222px,#08f 232px,#0bf 242px,#0bf 254px,#fff 255px,#fff 260px,#0df 261px,#0df 266px,#0ef 271px,#0fc 272px,#0fb 276px,#0fa 295px,#0f8 305px,#0f3 316px,#0f2 335px,#0f3 353px)"></i>
<i class=w1 style="left:59px;background:linear-gradient(#04f 0,#04f 11px,#00f 16px,#00c 22px,#00c 86px,#0fe 87px,#0fe 92px,#0f6 111px,#0f4 121px,#0f8 132px,#0f8 191px,#0fe 201px,#0ff 209px,#0ef 212px,#09f 222px,#09f 232px,#0cf 242px,#0cf 254px,#fff 255px,#fff 260px,#0bf 261px,#0bf 266px,#0df 271px,#0fd 272px,#0fc 276px,#0fb 296px,#0f9 305px,#0f4 316px,#0f4 335px,#0f5 353px)"></i>
<i class=w1 style="left:60px;background:linear-gradient(#06f 0,#06f 11px,#00f 17px,#00c 22px,#00c 86px,#0fe 87px,#0fe 92px,#0f6 111px,#0f4 121px,#0f7 132px,#0f7 191px,#0fd 201px,#0ff 212px,#0af 222px,#0af 231px,#0ef 242px,#0ef 254px,#fff 255px,#fff 260px,#0cf 261px,#0df 271px,#0fd 272px,#0fb 296px,#0f9 305px,#0f4 316px,#0f4 335px,#0f4 353px)"></i>
<i class=w1 style="left:61px;background:linear-gradient(#09f 0,#09f 11px,#08f 12px,#01f 17px,#00f 18px,#00c 22px,#00c 86px,#0fc 87px,#0fb 92px,#0f3 111px,#0f0 121px,#0f3 132px,#0f3 191px,#0fa 202px,#0fb 211px,#0ff 221px,#0ff 232px,#0fc 242px,#0fc 254px,#fff 255px,#fff 260px,#0df 261px,#0ef 271px,#0fc 272px,#0fa 296px,#0f8 305px,#0f3 316px,#0f2 335px,#0f3 353px)"></i>
<i class=w1 style="left:62px;background:linear-gradient(#0bf 0,#0bf 11px,#0af 12px,#00f 18px,#00c 22px,#00c 86px,#0fc 87px,#0fc 92px,#0f4 111px,#0f0 122px,#0f2 132px,#0f2 191px,#0f9 201px,#0fb 212px,#0ff 222px,#0ff 232px,#0fb 242px,#0fb 254px,#fff 255px,#fff 260px,#0fe 261px,#0fc 296px,#0f9 305px,#0f4 316px,#0f3 335px,#0f4 353px)"></i>
<i class=w1 style="left:63px;background:linear-gradient(#0df 0,#0df 11px,#0cf 12px,#01f 18px,#00e 19px,#00c 22px,#00c 86px,#0fd 87px,#0fd 92px,#0f5 111px,#0f1 122px,#0f2 132px,#0f2 191px,#0f9 201px,#0fa 212px,#0fe 222px,#0fe 231px,#0fa 242px,#0fa 254px,#fff 255px,#fff 260px,#0fd 261px,#0fb 296px,#0f9 305px,#0f4 316px,#0f3 335px,#0f3 353px)"></i>
<i class=w1 style="left:64px;background:linear-gradient(#0ff 0,#0ff 11px,#0ef 12px,#01f 18px,#00f 19px,#00c 22px,#00c 86px,#0fd 87px,#0fd 92px,#0f1 122px,#0f1 191px,#0f9 201px,#0fa 212px,#0fe 222px,#0fe 231px,#0f9 242px,#0f9 254px,#fff 255px,#fff 260px,#0fb 261px,#0fb 276px,#0fa 296px,#0f8 305px,#0f2 316px,#0f1 335px,#0f1 353px)"></i>
<i class=w1 style="left:65px;background:linear-gradient(#0fd 0,#0fd 11px,#0ff 13px,#01f 19px,#00c 22px,#00c 30px,#00d 86px,#0fe 87px,#0fd 92px,#0f1 121px,#0f0 131px,#0f1 191px,#0f8 201px,#0f9 212px,#0fd 222px,#0fd 231px,#0f9 242px,#0f9 254px,#fff 255px,#fff 260px,#0fa 261px,#0fb 276px,#0fa 295px,#0f7 305px,#0f2 316px,#0f1 335px,#0f1 353px)"></i>
<i class=w1 style="left:66px;background:linear-gradient(#0fc 0,#0fc 11px,#0ff 14px,#01f 20px,#00e 22px,#00d 30px,#00e 52px,#00e 86px,#0fd 87px,#0fd 92px,#0f0 123px,#1f0 132px,#1f0 161px,#0f0 171px,#0f0 191px,#0f7 201px,#0f7 212px,#0fc 222px,#0fc 231px,#0f8 242px,#0f7 254px,#fff 255px,#fff 260px,#0fa 261px,#0fb 276px,#0fa 295px,#0f7 305px,#0f2 316px,#0f1 335px,#0f1 353px)"></i>
<i class=w1 style="left:67px;background:linear-gradient(#0fa 0,#0fa 11px,#0ff 15px,#0df 16px,#01f 21px,#00f 22px,#00e 30px,#00f 43px,#02f 52px,#02f 86px,#0fd 87px,#0fd 92px,#0f6 111px,#0f0 122px,#3f0 132px,#3f0 161px,#0f0 171px,#0f0 191px,#0f6 201px,#0f7 212px,#0fc 222px,#0fc 231px,#0f8 242px,#0f6 254px,#fff 255px,#fff 260px,#0fc 261px,#0fd 276px,#0fc 295px,#0f9 305px,#0f4 316px,#0f3 335px,#0f3 353px)"></i>
<i class=w1 style="left:68px;background:linear-gradient(#0f8 0,#0f8 11px,#0f9 12px,#0ff 16px,#0df 17px,#03f 21px,#02f 22px,#00f 26px,#00e 30px,#00f 37px,#05f 52px,#05f 86px,#0df 87px,#0df 91px,#0ff 95px,#0fd 102px,#0f9 111px,#0f4 122px,#0f1 132px,#0f1 161px,#0f4 172px,#0f4 191px,#0f9 201px,#0f9 212px,#0fe 222px,#0fe 232px,#0f9 251px,#0f9 254px,#fff 255px,#fff 260px,#0fb 261px,#0fd 276px,#0fb 295px,#0f9 305px,#0f4 316px,#0f3 335px,#0f3 353px)"></i>
<i class=w1 style="left:69px;background:linear-gradient(#0f7 0,#0f7 11px,#0f8 12px,#0fe 17px,#0df 18px,#05f 21px,#04f 22px,#00f 31px,#00f 33px,#09f 52px,#09f 86px,#0df 87px,#0df 91px,#0ff 95px,#0fd 103px,#0f9 112px,#0f4 122px,#0f1 132px,#0f1 161px,#0f4 172px,#0f4 191px,#0f8 201px,#0f8 212px,#0fe 222px,#0fe 232px,#0fc 241px,#0f8 251px,#0f8 254px,#fff 255px,#fff 260px,#0fb 261px,#0fc 276px,#0fb 296px,#0f8 305px,#0f4 316px,#0f3 335px,#0f3 353px)"></i>
<i class=w1 style="left:70px;background:linear-gradient(#0f6 0,#0f6 11px,#0f7 12px,#0fe 17px,#0ef 18px,#07f 21px,#05f 22px,#01f 31px,#0bf 52px,#0bf 86px,#0df 87px,#0ef 92px,#0ff 96px,#0fe 102px,#0fa 111px,#0f3 122px,#0f0 132px,#0f0 161px,#0f4 172px,#0f4 191px,#0f7 201px,#0f8 212px,#0fe 222px,#0fe 232px,#0fc 241px,#0f8 251px,#0f7 254px,#fff 255px,#fff 260px,#0fa 261px,#0fa 266px,#0fc 276px,#0fa 296px,#0f8 305px,#0f4 316px,#0f3 335px,#0f3 353px)"></i>
<i class=w1 style="left:71px;background:linear-gradient(#0f5 0,#0f5 11px,#0f5 12px,#0fe 18px,#0ef 19px,#09f 21px,#07f 22px,#02f 31px,#02f 32px,#0ef 52px,#0ef 86px,#0fe 87px,#0fd 101px,#0f8 111px,#0f2 121px,#0f0 125px,#5f0 132px,#5f0 161px,#0f0 168px,#0f1 172px,#0f1 191px,#0f4 201px,#0f4 211px,#0fb 222px,#0fb 231px,#0fa 241px,#0f5 251px,#0f4 254px,#fff 255px,#fff 260px,#0f8 261px,#0f8 266px,#0fa 276px,#0f8 296px,#0f6 305px,#0f1 316px,#0f0 335px,#0f0 353px)"></i>
<i class=w1 style="left:72px;background:linear-gradient(#0f3 0,#0f3 11px,#0f4 12px,#0fe 19px,#0ef 20px,#09f 22px,#03f 31px,#03f 32px,#0ff 49px,#0fe 52px,#0fe 91px,#0fd 101px,#0f9 111px,#0f2 121px,#0f0 125px,#6f0 132px,#6f0 161px,#0f0 169px,#0f1 172px,#0f1 191px,#0f4 202px,#0f4 211px,#0fb 222px,#0fa 241px,#0f4 251px,#0f4 254px,#fff 255px,#fff 260px,#0f7 261px,#0f7 266px,#0fa 276px,#0f7 296px,#0f1 316px,#0f0 335px,#0f0 353px)"></i>
<i class=w1 style="left:73px;background:linear-gradient(#0f1 0,#0f1 11px,#0f2 12px,#0fe 20px,#0ef 21px,#0cf 22px,#04f 31px,#04f 32px,#0ff 45px,#0fc 52px,#0fc 86px,#0fe 87px,#0fd 101px,#0f9 111px,#0f1 121px,#1f0 124px,#8f0 132px,#8f0 161px,#0f0 170px,#0f1 172px,#0f1 191px,#0f2 202px,#0f2 211px,#0fa 222px,#0f9 241px,#0f3 251px,#0f2 254px,#fff 255px,#fff 260px,#0f7 261px,#0f7 266px,#0f9 276px,#0f7 296px,#0f1 316px,#0f0 335px,#0f0 353px)"></i>
<i class=w1 style="left:74px;background:linear-gradient(#2f0 0,#2f0 11px,#0f0 12px,#0fe 21px,#0ef 22px,#06f 31px,#06f 32px,#0ff 42px,#0fa 52px,#0fa 86px,#0fe 87px,#0fe 101px,#0f9 111px,#0f0 123px,#1f0 124px,#9f0 132px,#9f0 161px,#0f0 170px,#0f1 172px,#0f1 211px,#0f9 222px,#0f9 241px,#0f2 251px,#0f1 254px,#fff 255px,#fff 260px,#0f8 261px,#0f8 266px,#0fb 276px,#0f9 296px,#0f3 316px,#0f2 335px,#0f2 353px)"></i>
<i class=w1 style="left:75px;background:linear-gradient(#6f0 0,#6f0 11px,#4f0 12px,#2f0 13px,#0f1 14px,#0fc 21px,#0ff 26px,#0af 31px,#0af 32px,#0ff 37px,#0f7 52px,#0f7 86px,#0fe 87px,#0fe 101px,#0fa 111px,#0f0 124px,#1f0 125px,#8f0 132px,#8f0 161px,#0f0 170px,#0f1 172px,#0f1 211px,#0f9 222px,#0f9 241px,#0f2 251px,#0f2 254px,#fff 255px,#fff 260px,#0f8 261px,#0f8 266px,#0fb 276px,#0f8 296px,#0f3 316px,#0f2 353px)"></i>
<i class=w1 style="left:76px;background:linear-gradient(#5f0 0,#5f0 11px,#4f0 12px,#1f0 13px,#0f1 14px,#0fc 22px,#0ff 29px,#0df 31px,#0df 32px,#0ff 35px,#0f7 52px,#0f7 86px,#0fe 87px,#0fe 101px,#0fb 111px,#0f3 121px,#0f0 126px,#5f0 132px,#7f0 142px,#7f0 161px,#0f0 169px,#0f1 172px,#0f1 182px,#0f1 211px,#0f9 222px,#0f9 241px,#0f3 251px,#0f2 254px,#fff 255px,#fff 260px,#0f7 261px,#0f7 266px,#0fa 276px,#0f8 296px,#0f3 316px,#0f2 353px)"></i>
<i class=w1 style="left:77px;background:linear-gradient(#6f0 0,#6f0 11px,#4f0 12px,#0f0 14px,#0fa 22px,#0fe 31px,#0f6 52px,#0f6 86px,#0fe 87px,#0fe 101px,#0fb 111px,#0f3 121px,#0f0 127px,#4f0 132px,#7f0 141px,#7f0 161px,#0f0 170px,#0f1 172px,#0f0 179px,#1f0 201px,#0f0 205px,#0f1 212px,#0f9 222px,#0f9 241px,#0f3 251px,#0f2 254px,#fff 255px,#fff 260px,#0f5 261px,#0f5 266px,#0f8 276px,#0f6 296px,#0f1 316px,#0f0 353px)"></i>
<i class=w1 style="left:78px;background:linear-gradient(#6f0 0,#6f0 11px,#5f0 12px,#1f0 14px,#0f0 15px,#0f8 22px,#0fc 31px,#0f5 52px,#0f5 86px,#0fd 87px,#0fd 101px,#0fb 111px,#0f3 121px,#1f0 128px,#3f0 132px,#7f0 142px,#7f0 161px,#0f0 171px,#3f0 182px,#3f0 201px,#0f0 211px,#0f8 222px,#0f8 241px,#0f3 251px,#0f2 254px,#fff 255px,#fff 260px,#0f5 261px,#0f5 266px,#0f7 276px,#0f5 296px,#0f1 316px,#1f0 353px)"></i>
<i class=w1 style="left:79px;background:linear-gradient(#7f0 0,#7f0 11px,#6f0 12px,#1f0 15px,#0f7 22px,#0f9 31px,#0f4 52px,#0f4 86px,#0fc 87px,#0fc 101px,#0fa 111px,#0f2 121px,#0f0 126px,#9f0 142px,#9f0 161px,#3f0 171px,#6f0 182px,#6f0 201px,#3f0 211px,#1f0 213px,#0f0 214px,#0f6 222px,#0f6 241px,#0f2 251px,#0f1 254px,#fff 255px,#fff 260px,#0f4 261px,#0f4 266px,#0f7 276px,#0f5 296px,#0f1 316px,#1f0 353px)"></i>
<i class=w1 style="left:80px;background:linear-gradient(#7f0 0,#7f0 11px,#6f0 12px,#1f0 15px,#0f0 16px,#0f6 22px,#0f8 31px,#0f3 52px,#0f3 86px,#0fc 87px,#0fc 101px,#0fa 111px,#0f2 121px,#0f0 126px,#9f0 142px,#9f0 161px,#4f0 172px,#8f0 182px,#8f0 201px,#4f0 211px,#1f0 214px,#0f0 215px,#0f5 222px,#0f5 241px,#0f2 251px,#0f1 254px,#fff 255px,#fff 260px,#0f3 261px,#0f3 266px,#0f5 276px,#0f4 295px,#0f1 316px,#0f0 330px,#2f0 345px,#2f0 353px)"></i>
<i class=w1 style="left:81px;background:linear-gradient(#2f0 0,#2f0 11px,#0f0 13px,#0f7 22px,#0f9 31px,#0f5 52px,#0f5 86px,#0fb 87px,#0fb 101px,#0fa 111px,#0f2 121px,#0f0 128px,#2f0 132px,#9f0 142px,#9f0 161px,#5f0 171px,#af0 182px,#af0 202px,#5f0 211px,#0f0 216px,#0f4 222px,#0f4 241px,#0f1 254px,#fff 255px,#fff 260px,#0f3 261px,#0f4 276px,#0f3 295px,#0f0 316px,#0f0 329px,#3f0 345px,#3f0 353px)"></i>
<i class=w1 style="left:82px;background:linear-gradient(#3f0 0,#3f0 11px,#0f0 14px,#0f5 22px,#0f6 31px,#0f4 52px,#0f4 86px,#0f9 87px,#0f9 101px,#0f8 111px,#0f0 121px,#3f0 131px,#cf0 142px,#cf0 161px,#9f0 171px,#ff0 182px,#ff0 201px,#9f0 211px,#0f0 219px,#0f2 222px,#0f2 241px,#1f0 254px,#fff 255px,#fff 260px,#0f3 261px,#0f5 276px,#0f4 285px,#0f1 315px,#0f0 340px,#1f0 346px,#1f0 353px)"></i>
<i class=w1 style="left:83px;background:linear-gradient(#3f0 0,#3f0 11px,#0f0 15px,#0f4 22px,#0f4 31px,#0f3 52px,#0f3 86px,#0f9 87px,#0f8 111px,#0f0 121px,#2f0 131px,#cf0 142px,#cf0 161px,#af0 171px,#ff0 179px,#fe0 184px,#ff0 204px,#9f0 212px,#0f0 220px,#0f1 222px,#0f1 241px,#1f0 254px,#fff 255px,#fff 260px,#0f3 261px,#0f4 276px,#0f4 285px,#0f0 339px,#2f0 346px,#2f0 353px)"></i>
<i class=w1 style="left:84px;background:linear-gradient(#df0 0,#df0 11px,#6f0 22px,#6f0 86px,#0fb 87px,#0fb 111px,#0f3 121px,#0f2 131px,#0f0 135px,#7f0 142px,#6f0 171px,#ef0 182px,#ef0 201px,#6f0 211px,#0f0 217px,#0f3 222px,#0f3 254px,#fff 255px,#fff 260px,#0f3 261px,#0f4 285px,#0f1 335px,#0f0 344px,#1f0 353px)"></i>
<i class=w1 style="left:85px;background:linear-gradient(#df0 0,#df0 11px,#8f0 22px,#7f0 86px,#0fb 87px,#0fb 111px,#0f3 121px,#0f3 131px,#0f0 135px,#0f0 136px,#6f0 142px,#7f0 153px,#6f0 171px,#ef0 182px,#ff0 201px,#8f0 211px,#0f0 219px,#0f2 222px,#0f2 254px,#fff 255px,#fff 260px,#0f0 261px,#0f1 285px,#0f0 307px,#1f0 326px,#2f0 335px,#5f0 346px,#5f0 353px)"></i>
<i class=w1 style="left:86px;background:linear-gradient(#bf0 0,#bf0 11px,#6f0 22px,#4f0 32px,#4f0 86px,#0fd 87px,#0fc 111px,#0f4 121px,#0f4 131px,#0f0 139px,#3f0 142px,#4f0 152px,#4f0 161px,#3f0 171px,#bf0 182px,#bf0 191px,#cf0 201px,#8f0 211px,#0f0 219px,#0f0 220px,#0f1 222px,#0f2 231px,#0f2 254px,#fff 255px,#fff 260px,#2f0 261px,#2f0 266px,#0f0 276px,#0f0 287px,#3f0 335px,#6f0 345px,#6f0 353px)"></i>
<i class=w1 style="left:87px;background:linear-gradient(#bf0 0,#bf0 12px,#7f0 22px,#4f0 32px,#4f0 86px,#0fd 87px,#0fb 111px,#0f4 121px,#0f4 131px,#0f0 140px,#2f0 142px,#4f0 152px,#4f0 161px,#2f0 171px,#af0 182px,#af0 191px,#cf0 201px,#af0 211px,#1f0 221px,#0f0 225px,#0f1 232px,#0f1 254px,#fff 255px,#fff 260px,#4f0 261px,#3f0 266px,#1f0 276px,#1f0 286px,#4f0 335px,#6f0 345px,#7f0 353px)"></i>
<i class=w1 style="left:88px;background:linear-gradient(#bf0 0,#bf0 12px,#3f0 32px,#3f0 86px,#0fb 87px,#0f8 111px,#0f1 121px,#0f1 131px,#0f0 134px,#6f0 142px,#9f0 151px,#9f0 161px,#6f0 171px,#6f0 172px,#ef0 182px,#ff0 194px,#fe0 202px,#ff0 213px,#9f0 222px,#5f0 232px,#5f0 254px,#fff 255px,#fff 260px,#6f0 261px,#3f0 286px,#6f0 335px,#8f0 345px,#8f0 353px)"></i>
<i class=w1 style="left:89px;background:linear-gradient(#bf0 0,#bf0 12px,#8f0 21px,#3f0 32px,#3f0 86px,#0fb 87px,#0fb 92px,#0f8 111px,#0f1 121px,#0f1 131px,#0f0 134px,#9f0 152px,#9f0 161px,#4f0 171px,#5f0 172px,#ef0 182px,#ef0 191px,#ff0 196px,#fe0 211px,#ff0 217px,#7f0 232px,#7f0 254px,#fff 255px,#fff 260px,#8f0 261px,#5f0 286px,#7f0 335px,#9f0 345px,#9f0 353px)"></i>
<i class=w1 style="left:90px;background:linear-gradient(#cf0 0,#cf0 11px,#af0 21px,#3f0 32px,#3f0 86px,#0fc 87px,#0fc 92px,#0f8 111px,#0f2 122px,#0f2 131px,#0f0 137px,#8f0 152px,#8f0 161px,#2f0 171px,#2f0 172px,#cf0 182px,#cf0 191px,#ff0 200px,#fe0 211px,#ff0 220px,#7f0 232px,#7f0 254px,#fff 255px,#fff 260px,#af0 261px,#af0 266px,#7f0 286px,#8f0 335px,#af0 345px,#af0 353px)"></i>
<i class=w1 style="left:91px;background:linear-gradient(#cf0 0,#cf0 11px,#af0 21px,#2f0 32px,#2f0 86px,#0fe 87px,#0fe 92px,#0f9 111px,#0f3 122px,#0f3 132px,#0f0 143px,#6f0 152px,#6f0 161px,#0f0 170px,#0f0 172px,#0f0 173px,#9f0 182px,#9f0 192px,#ff0 204px,#fe0 212px,#ff0 222px,#7f0 232px,#7f0 254px,#fff 255px,#fff 260px,#cf0 261px,#cf0 266px,#9f0 286px,#bf0 353px)"></i>
<i class=w1 style="left:92px;background:linear-gradient(#df0 0,#df0 11px,#bf0 21px,#2f0 32px,#2f0 86px,#0fe 87px,#0fe 92px,#0f8 111px,#0f3 122px,#0f3 132px,#0f1 141px,#1f0 145px,#6f0 152px,#6f0 161px,#0f0 169px,#0f1 171px,#0f0 174px,#8f0 182px,#8f0 192px,#ff0 203px,#fd0 212px,#ff0 225px,#9f0 232px,#9f0 254px,#fff 255px,#fff 260px,#ff0 261px,#ff0 271px,#cf0 286px,#ef0 353px)"></i>
<i class=w1 style="left:93px;background:linear-gradient(#ff0 0,#ff0 21px,#5f0 32px,#5f0 86px,#0ff 87px,#0ff 88px,#0fe 92px,#0f8 111px,#0f3 121px,#0f2 141px,#0f0 145px,#1f0 146px,#6f0 152px,#6f0 161px,#0f0 168px,#0f2 171px,#0f0 174px,#0f0 175px,#7f0 182px,#8f0 192px,#ff0 203px,#fc0 212px,#fd0 221px,#ff0 227px,#bf0 232px,#bf0 254px,#fff 255px,#fff 260px,#fc0 261px,#fc0 353px)"></i>
<i class=w1 style="left:94px;background:linear-gradient(#ff0 0,#ff0 22px,#5f0 32px,#5f0 86px,#0fd 87px,#0fd 88px,#0fd 92px,#0f1 122px,#0f0 142px,#af0 152px,#af0 161px,#0f0 171px,#0f0 172px,#af0 181px,#af0 191px,#ff0 198px,#fa0 212px,#fa0 221px,#fe0 232px,#fe0 254px,#fff 255px,#fff 260px,#fc0 261px,#fd0 353px)"></i>
<i class=w1 style="left:95px;background:linear-gradient(#ff0 0,#ff0 22px,#5f0 32px,#5f0 86px,#0fd 87px,#0fd 88px,#0fd 92px,#0f1 121px,#0f1 141px,#0f0 143px,#9f0 152px,#af0 161px,#0f0 171px,#0f0 172px,#9f0 181px,#af0 191px,#ff0 198px,#fa0 212px,#fa0 221px,#fe0 232px,#fe0 254px,#fff 255px,#fff 260px,#fd0 261px,#ff0 286px,#ff0 353px)"></i>
<i class=w1 style="left:96px;background:linear-gradient(#df0 0,#df0 21px,#3f0 32px,#2f0 42px,#2f0 86px,#0fd 87px,#0fd 92px,#0f2 121px,#0f2 132px,#0f0 142px,#0f0 143px,#8f0 152px,#af0 161px,#1f0 171px,#1f0 172px,#af0 181px,#af0 191px,#ff0 198px,#fa0 212px,#fa0 221px,#fd0 232px,#fd0 254px,#fff 255px,#fff 260px,#fd0 261px,#fd0 353px)"></i>
<i class=w1 style="left:97px;background:linear-gradient(#df0 0,#cf0 12px,#cf0 21px,#3f0 32px,#2f0 41px,#2f0 86px,#0cf 87px,#0cf 92px,#0ff 99px,#0f8 121px,#0f8 132px,#0f6 141px,#0f1 151px,#0f0 158px,#1f0 161px,#0f0 163px,#0f4 171px,#0f0 180px,#1f0 182px,#1f0 191px,#9f0 201px,#ff0 208px,#fd0 221px,#ff0 228px,#cf0 232px,#cf0 254px,#fff 255px,#fff 260px,#fc0 261px,#fd0 353px)"></i>
<i class=w1 style="left:98px;background:linear-gradient(#df0 0,#bf0 12px,#bf0 21px,#4f0 32px,#2f0 41px,#2f0 86px,#0df 87px,#0df 92px,#0ff 98px,#0f9 121px,#0f8 132px,#0f6 141px,#0f1 152px,#0f0 159px,#1f0 161px,#0f0 163px,#0f3 171px,#0f0 180px,#1f0 182px,#1f0 191px,#ff0 209px,#fd0 221px,#ff0 230px,#df0 232px,#df0 254px,#fff 255px,#fff 260px,#fc0 261px,#fc0 353px)"></i>
<i class=w1 style="left:99px;background:linear-gradient(#fe0 0,#ff0 21px,#8f0 32px,#6f0 42px,#6f0 86px,#0df 87px,#0df 88px,#0df 92px,#0ff 97px,#0fa 121px,#0f9 132px,#0f2 151px,#0f0 160px,#1f0 162px,#0f0 164px,#0f3 171px,#0f0 180px,#1f0 182px,#1f0 191px,#9f0 202px,#ff0 211px,#fd0 221px,#ff0 231px,#ff0 254px,#fff 255px,#fff 260px,#fc0 261px,#fb0 306px,#fc0 353px)"></i>
<i class=w1 style="left:100px;background:linear-gradient(#fe0 0,#ef0 21px,#9f0 32px,#6f0 42px,#6f0 86px,#0fc 87px,#0fc 88px,#0fc 92px,#0f7 121px,#0f7 131px,#0f2 142px,#0f0 150px,#7f0 161px,#2f0 172px,#7f0 182px,#7f0 191px,#ff0 202px,#fb0 221px,#fd0 232px,#fd0 254px,#fff 255px,#fff 260px,#fa0 261px,#f90 306px,#fa0 353px)"></i>
<i class=w1 style="left:101px;background:linear-gradient(#fe0 0,#ff0 8px,#ef0 12px,#df0 22px,#6f0 42px,#6f0 86px,#0fb 87px,#0fb 88px,#0f6 121px,#0f6 131px,#0f1 141px,#0f0 146px,#3f0 152px,#9f0 161px,#6f0 172px,#af0 182px,#af0 191px,#ff0 199px,#fd0 212px,#fa0 222px,#fc0 232px,#fc0 254px,#fff 255px,#fff 260px,#fa0 261px,#fa0 272px,#f60 273px,#f60 275px,#f60 353px)"></i>
<i class=w1 style="left:102px;background:linear-gradient(#ef0 0,#9f0 12px,#9f0 22px,#7f0 31px,#2f0 42px,#2f0 86px,#0fc 87px,#0f8 121px,#0f8 131px,#0f2 142px,#0f0 152px,#0f0 153px,#7f0 162px,#4f0 171px,#7f0 180px,#fe0 181px,#fe0 192px,#fb0 222px,#fc0 254px,#fff 255px,#fff 260px,#f90 261px,#f90 272px,#f50 273px,#f50 276px,#f50 353px)"></i>
<i class=w1 style="left:103px;background:linear-gradient(#ef0 0,#df0 2px,#9f0 12px,#9f0 22px,#7f0 31px,#2f0 42px,#2f0 86px,#0fb 87px,#0f9 131px,#0f3 141px,#0f2 148px,#cf0 149px,#cf0 152px,#ff0 158px,#fe0 192px,#fb0 222px,#fb0 254px,#fff 255px,#fff 260px,#f90 261px,#f80 272px,#f50 273px,#f50 293px,#f40 294px,#f40 348px,#f50 349px,#f50 353px)"></i>
<i class=w1 style="left:104px;background:linear-gradient(#ff0 0,#ff0 3px,#af0 12px,#af0 31px,#4f0 42px,#4f0 86px,#0fb 87px,#0fb 88px,#0fa 131px,#0f3 141px,#0f2 148px,#cf0 149px,#cf0 152px,#ff0 158px,#fe0 192px,#fd0 212px,#fb0 222px,#fb0 254px,#fff 255px,#fff 260px,#fa0 261px,#f90 272px,#f60 273px,#f50 293px,#f40 294px,#f40 348px,#f50 349px,#f50 353px)"></i>
<i class=w1 style="left:105px;background:linear-gradient(#ff0 0,#ff0 3px,#af0 12px,#af0 31px,#4f0 42px,#4f0 86px,#0fb 87px,#0fb 88px,#0fb 131px,#0f3 141px,#0f3 151px,#0f0 157px,#5f0 162px,#6f0 180px,#fe0 181px,#fd0 211px,#fb0 222px,#fb0 254px,#fff 255px,#fff 260px,#fa0 261px,#f90 272px,#f60 273px,#f50 293px,#f40 294px,#f40 348px,#f50 349px,#f50 353px)"></i>
<i class=w1 style="left:106px;background:linear-gradient(#ff0 0,#ef0 2px,#af0 12px,#9f0 31px,#4f0 42px,#4f0 86px,#0fd 87px,#0fb 131px,#0f4 141px,#0f4 151px,#0f0 158px,#3f0 162px,#5f0 180px,#ff0 181px,#fd0 211px,#fc0 222px,#fc0 254px,#fff 255px,#fff 260px,#fb0 261px,#fa0 272px,#f60 273px,#f60 276px,#f50 316px,#f60 353px)"></i>
<i class=w1 style="left:107px;background:linear-gradient(#ef0 0,#9f0 12px,#9f0 22px,#8f0 31px,#3f0 42px,#3f0 86px,#0fd 87px,#0fb 131px,#0f4 141px,#0f4 151px,#0f0 159px,#1f0 162px,#5f0 181px,#5f0 191px,#df0 201px,#ff0 208px,#ff0 212px,#fc0 222px,#fc0 254px,#fff 255px,#fff 260px,#fb0 261px,#fa0 272px,#f70 273px,#f70 275px,#f60 353px)"></i>
<i class=w1 style="left:108px;background:linear-gradient(#af0 0,#6f0 12px,#6f0 22px,#5f0 31px,#1f0 42px,#1f0 86px,#0ff 87px,#0fd 111px,#0fc 122px,#0fc 131px,#0f5 142px,#0f5 151px,#0f1 161px,#0f0 167px,#4f0 181px,#4f0 191px,#cf0 201px,#ff0 209px,#fc0 222px,#fc0 254px,#fff 255px,#fff 260px,#fd0 261px,#fd0 266px,#fb0 276px,#fa0 316px,#fa0 353px)"></i>
<i class=w1 style="left:109px;background:linear-gradient(#af0 0,#6f0 12px,#6f0 22px,#1f0 42px,#1f0 86px,#0cf 87px,#0df 92px,#0ff 101px,#0ff 111px,#0fd 122px,#0fd 131px,#0f6 142px,#0f6 152px,#0f3 162px,#0f0 177px,#1f0 182px,#1f0 191px,#bf0 202px,#ff0 213px,#fd0 222px,#fd0 254px,#fff 255px,#fff 260px,#fd0 261px,#fa0 315px,#fb0 353px)"></i>
<i class=w1 style="left:110px;background:linear-gradient(#9f0 0,#6f0 12px,#6f0 22px,#1f0 42px,#1f0 86px,#0af 87px,#0af 92px,#0df 102px,#0df 111px,#0ff 115px,#0fd 122px,#0fd 131px,#0f7 142px,#0f7 152px,#0f0 181px,#0f0 191px,#af0 202px,#ff0 213px,#fd0 222px,#fd0 254px,#fff 255px,#fff 260px,#fc0 261px,#fa0 316px,#fa0 353px)"></i>
<i class=w1 style="left:111px;background:linear-gradient(#ef0 0,#cf0 12px,#cf0 21px,#8f0 32px,#6f0 42px,#6f0 86px,#07f 87px,#07f 92px,#0bf 102px,#0bf 111px,#0ff 119px,#0fe 132px,#0f9 142px,#0f8 152px,#0f1 181px,#0f1 191px,#1f0 194px,#9f0 202px,#ff0 215px,#fe0 222px,#fe0 254px,#fff 255px,#fff 260px,#fd0 261px,#fd0 286px,#fb0 316px,#fb0 353px)"></i>
<i class=w1 style="left:112px;background:linear-gradient(#df0 0,#cf0 12px,#cf0 21px,#7f0 32px,#6f0 41px,#6f0 86px,#05f 87px,#05f 92px,#0af 102px,#0af 111px,#0ff 120px,#0fe 131px,#0f9 142px,#0f9 152px,#0f8 161px,#0f2 181px,#0f2 191px,#0f0 194px,#1f0 195px,#8f0 202px,#df0 211px,#ff0 216px,#fe0 254px,#fff 255px,#fff 260px,#ef0 261px,#ff0 275px,#ef0 285px,#ff0 294px,#fe0 316px,#fd0 353px)"></i>
<i class=w1 style="left:113px;background:linear-gradient(#df0 0,#cf0 21px,#7f0 32px,#6f0 41px,#6f0 86px,#02f 87px,#03f 92px,#07f 102px,#07f 111px,#0ef 121px,#0ef 131px,#0ff 133px,#0fb 142px,#0fa 162px,#0f3 181px,#0f3 191px,#0f0 197px,#5f0 202px,#cf0 212px,#ef0 222px,#ef0 254px,#fff 255px,#fff 260px,#cf0 261px,#cf0 275px,#af0 286px,#ff0 310px,#fe0 353px)"></i>
<i class=w1 style="left:114px;background:linear-gradient(#cf0 0,#cf0 21px,#6f0 32px,#6f0 86px,#01f 87px,#01f 92px,#06f 102px,#06f 111px,#0ef 122px,#0ff 132px,#0fb 142px,#0fb 161px,#0f3 181px,#0f3 191px,#0f0 196px,#1f0 197px,#6f0 202px,#df0 212px,#ef0 254px,#fff 255px,#fff 260px,#df0 261px,#df0 266px,#af0 286px,#ff0 311px,#fe0 353px)"></i>
<i class=w1 style="left:115px;background:linear-gradient(#cf0 0,#cf0 21px,#6f0 32px,#6f0 86px,#00f 87px,#00f 92px,#05f 101px,#06f 112px,#0ef 122px,#0ef 131px,#0ff 133px,#0fc 142px,#0fb 162px,#0f3 181px,#0f3 191px,#0f0 197px,#6f0 202px,#df0 212px,#df0 254px,#fff 255px,#fff 260px,#cf0 261px,#bf0 266px,#8f0 286px,#ef0 316px,#ff0 336px,#ff0 353px)"></i>
<i class=w1 style="left:116px;background:linear-gradient(#bf0 0,#af0 21px,#4f0 32px,#4f0 86px,#00f 87px,#01f 92px,#06f 102px,#07f 111px,#0ff 121px,#0ff 132px,#0fc 142px,#0fb 162px,#0f8 172px,#0f3 181px,#0f3 191px,#0f0 196px,#1f0 197px,#6f0 202px,#ef0 212px,#ef0 221px,#df0 231px,#ef0 242px,#ef0 254px,#fff 255px,#fff 260px,#5f0 261px,#5f0 266px,#1f0 286px,#7f0 315px,#af0 353px)"></i>
<i class=w1 style="left:117px;background:linear-gradient(#9f0 0,#9f0 11px,#7f0 21px,#1f0 32px,#1f0 86px,#01f 87px,#01f 92px,#06f 102px,#08f 111px,#0ff 120px,#0fe 122px,#0ff 132px,#0fc 142px,#0fb 162px,#0f8 171px,#0f3 181px,#0f3 191px,#0f0 196px,#1f0 197px,#6f0 202px,#ef0 212px,#ef0 221px,#cf0 231px,#ef0 242px,#ef0 254px,#fff 255px,#fff 260px,#8f0 261px,#5f0 286px,#bf0 316px,#df0 353px)"></i>
<i class=w1 style="left:118px;background:linear-gradient(#9f0 0,#9f0 11px,#7f0 21px,#1f0 32px,#1f0 86px,#02f 87px,#02f 92px,#0af 111px,#0ff 117px,#0fd 122px,#0fe 132px,#0fb 142px,#0fa 151px,#0fa 162px,#0f8 171px,#0f2 181px,#0f2 191px,#0f0 194px,#8f0 202px,#ff0 211px,#ff0 225px,#df0 231px,#ff0 238px,#ff0 254px,#fff 255px,#fff 260px,#4f0 261px,#2f0 286px,#7f0 316px,#af0 345px,#af0 353px)"></i>
<i class=w1 style="left:119px;background:linear-gradient(#bf0 0,#bf0 11px,#9f0 21px,#3f0 32px,#3f0 86px,#03f 87px,#03f 92px,#07f 102px,#0bf 111px,#0ff 116px,#0fc 122px,#0fe 132px,#0fa 151px,#0fa 162px,#0f8 172px,#0f2 181px,#0f2 191px,#0f0 194px,#8f0 202px,#ff0 211px,#ff0 224px,#df0 231px,#ff0 239px,#ff0 254px,#fff 255px,#fff 260px,#3f0 261px,#1f0 286px,#6f0 316px,#9f0 345px,#9f0 353px)"></i>
<i class=w1 style="left:120px;background:linear-gradient(#cf0 0,#cf0 12px,#9f0 21px,#3f0 32px,#3f0 86px,#03f 87px,#04f 92px,#06f 101px,#0cf 111px,#0ff 115px,#0fc 121px,#0fe 132px,#0fa 151px,#0fa 162px,#0f8 171px,#0f2 181px,#0f2 191px,#0f0 194px,#9f0 202px,#ff0 210px,#ff0 224px,#cf0 232px,#ff0 239px,#ff0 254px,#fff 255px,#fff 260px,#3f0 261px,#2f0 286px,#5f0 305px,#7f0 316px,#af0 345px,#af0 353px)"></i>
<i class=w1 style="left:121px;background:linear-gradient(#df0 0,#cf0 12px,#9f0 21px,#3f0 32px,#3f0 86px,#02f 87px,#03f 102px,#07f 111px,#0cf 121px,#09f 132px,#0bf 142px,#0ff 152px,#0ff 162px,#0fe 171px,#0f7 181px,#0f7 192px,#0f0 203px,#7f0 212px,#7f0 222px,#2f0 231px,#7f0 242px,#7f0 254px,#fff 255px,#fff 260px,#2f0 261px,#1f0 286px,#3f0 305px,#7f0 326px,#9f0 345px,#9f0 353px)"></i>
<i class=w1 style="left:122px;background:linear-gradient(#cf0 0,#cf0 12px,#8f0 21px,#2f0 32px,#2f0 86px,#02f 87px,#03f 102px,#0cf 121px,#09f 132px,#0af 142px,#0ff 152px,#0fe 171px,#0f7 181px,#0f7 192px,#0f0 203px,#7f0 212px,#7f0 221px,#1f0 231px,#7f0 242px,#7f0 254px,#fff 255px,#fff 260px,#1f0 261px,#1f0 286px,#2f0 306px,#6f0 326px,#8f0 345px,#8f0 353px)"></i>
<i class=w1 style="left:123px;background:linear-gradient(#ef0 0,#ef0 12px,#3f0 32px,#3f0 86px,#05f 87px,#06f 101px,#0ff 114px,#0fc 121px,#0ff 131px,#0ff 137px,#0ff 142px,#0fb 152px,#0fb 171px,#0f3 181px,#0f3 191px,#0f0 196px,#1f0 197px,#6f0 202px,#ef0 212px,#ef0 221px,#7f0 231px,#7f0 232px,#ef0 242px,#ef0 254px,#fff 255px,#fff 260px,#0f0 261px,#0f0 289px,#1f0 305px,#5f0 326px,#7f0 345px,#7f0 353px)"></i>
<i class=w1 style="left:124px;background:linear-gradient(#ef0 0,#ef0 12px,#3f0 32px,#3f0 86px,#05f 87px,#06f 101px,#0ff 113px,#0fc 121px,#0ff 131px,#0ff 141px,#0fb 152px,#0fb 171px,#0f3 181px,#0f3 191px,#0f0 196px,#1f0 197px,#6f0 202px,#ef0 212px,#ef0 221px,#7f0 231px,#7f0 232px,#ef0 242px,#ef0 254px,#fff 255px,#fff 260px,#0f1 261px,#0f0 306px,#4f0 326px,#6f0 345px,#6f0 353px)"></i>
<i class=w1 style="left:125px;background:linear-gradient(#ef0 0,#ef0 12px,#3f0 32px,#3f0 86px,#06f 87px,#06f 101px,#0ff 114px,#0fc 121px,#0ff 130px,#0ef 132px,#0ef 141px,#0ff 143px,#0fc 152px,#0fc 171px,#0f5 181px,#0f4 191px,#0f0 198px,#1f0 199px,#4f0 202px,#bf0 212px,#bf0 221px,#4f0 231px,#4f0 232px,#bf0 242px,#bf0 254px,#fff 255px,#fff 260px,#0f0 261px,#3f0 305px,#7f0 326px,#9f0 345px,#9f0 353px)"></i>
<i class=w1 style="left:126px;background:linear-gradient(#fd0 0,#fd0 12px,#ff0 25px,#cf0 32px,#bf0 52px,#bf0 86px,#07f 87px,#08f 101px,#0ff 112px,#0fb 121px,#0fe 131px,#0ff 141px,#0fb 152px,#0fb 171px,#0f4 181px,#0f4 191px,#0f0 199px,#1f0 200px,#bf0 212px,#bf0 221px,#3f0 231px,#3f0 232px,#9f0 242px,#9f0 254px,#fff 255px,#fff 260px,#1f0 261px,#3f0 305px,#7f0 326px,#9f0 353px)"></i>
<i class=w1 style="left:127px;background:linear-gradient(#fd0 0,#fd0 12px,#ff0 25px,#cf0 32px,#cf0 42px,#bf0 52px,#bf0 86px,#0af 87px,#0bf 92px,#0cf 101px,#0ff 105px,#0f9 121px,#0fc 132px,#0fc 141px,#0f8 152px,#0f8 171px,#0f3 181px,#0f2 191px,#1f0 197px,#df0 212px,#df0 221px,#5f0 231px,#5f0 232px,#af0 242px,#af0 254px,#fff 255px,#fff 260px,#2f0 261px,#4f0 305px,#7f0 326px,#9f0 353px)"></i>
<i class=w1 style="left:128px;background:linear-gradient(#fe0 0,#fe0 11px,#ff0 18px,#af0 31px,#9f0 42px,#7f0 52px,#7f0 86px,#0cf 87px,#0cf 92px,#0ff 102px,#0f8 121px,#0fa 132px,#0fa 141px,#0f8 152px,#0f8 171px,#0f3 181px,#0f2 191px,#0f0 197px,#1f0 198px,#cf0 212px,#cf0 221px,#4f0 231px,#3f0 232px,#8f0 242px,#8f0 254px,#fff 255px,#fff 260px,#0f0 261px,#2f0 305px,#6f0 335px,#7f0 353px)"></i>
<i class=w1 style="left:129px;background:linear-gradient(#cf0 0,#ef0 11px,#8f0 22px,#5f0 32px,#5f0 41px,#2f0 52px,#2f0 86px,#0ef 87px,#0ff 94px,#0fe 102px,#0fb 112px,#0f7 121px,#0f9 132px,#0f9 141px,#0f7 152px,#0f7 171px,#0f3 181px,#0f2 191px,#1f0 199px,#cf0 212px,#cf0 221px,#3f0 231px,#2f0 232px,#6f0 242px,#6f0 254px,#fff 255px,#fff 260px,#1f0 261px,#3f0 305px,#7f0 335px,#7f0 353px)"></i>
<i class=w1 style="left:130px;background:linear-gradient(#bf0 0,#ef0 11px,#8f0 22px,#6f0 31px,#6f0 42px,#2f0 52px,#2f0 86px,#0ff 87px,#0ff 92px,#0fb 111px,#0f7 121px,#0f8 132px,#0f8 141px,#0f7 152px,#0f7 171px,#0f3 181px,#0f3 192px,#0f0 202px,#af0 212px,#af0 221px,#0f0 231px,#0f0 232px,#4f0 242px,#4f0 254px,#fff 255px,#fff 260px,#0f3 261px,#0f2 305px,#0f0 332px,#1f0 353px)"></i>
<i class=w1 style="left:131px;background:linear-gradient(#bf0 0,#ff0 12px,#9f0 22px,#7f0 31px,#7f0 42px,#4f0 52px,#4f0 86px,#0fe 87px,#0fe 92px,#0fa 111px,#0f6 122px,#0f7 131px,#0f7 141px,#0f6 152px,#0f6 171px,#0f3 181px,#0f3 192px,#0f0 202px,#9f0 212px,#9f0 221px,#0f0 231px,#0f0 236px,#2f0 242px,#2f0 254px,#fff 255px,#fff 260px,#0f3 261px,#0f0 328px,#1f0 353px)"></i>
<i class=w1 style="left:132px;background:linear-gradient(#bf0 0,#ff0 12px,#9f0 22px,#8f0 31px,#8f0 41px,#4f0 52px,#4f0 86px,#0fb 87px,#0fb 92px,#0f8 101px,#0f7 111px,#0f3 122px,#0f4 141px,#0f3 152px,#0f3 171px,#0f1 181px,#0f0 196px,#2f0 202px,#cf0 212px,#cf0 221px,#2f0 232px,#4f0 242px,#4f0 254px,#fff 255px,#fff 260px,#af0 261px,#af0 264px,#0f1 265px,#0f1 266px,#af0 267px,#af0 270px,#0f0 271px,#0f0 272px,#bf0 273px,#bf0 276px,#0f0 277px,#0f0 278px,#bf0 279px,#bf0 282px,#0f0 283px,#0f0 284px,#bf0 285px,#bf0 288px,#0f0 289px,#0f0 290px,#bf0 291px,#bf0 294px,#0f0 295px,#0f0 296px,#bf0 297px,#bf0 300px,#1f0 301px,#1f0 302px,#bf0 303px,#bf0 306px,#1f0 307px,#1f0 308px,#bf0 309px,#bf0 312px,#2f0 313px,#2f0 314px,#bf0 315px,#bf0 318px,#3f0 319px,#3f0 320px,#bf0 321px,#bf0 324px,#3f0 325px,#3f0 326px,#bf0 327px,#bf0 330px,#3f0 331px,#4f0 332px,#bf0 333px,#bf0 336px,#4f0 337px,#4f0 338px,#bf0 339px,#bf0 342px,#4f0 343px,#4f0 344px,#bf0 345px,#bf0 348px,#4f0 349px,#4f0 350px,#bf0 351px,#bf0 353px)"></i>
<i class=w1 style="left:133px;background:linear-gradient(#9f0 0,#9f0 2px,#df0 12px,#8f0 22px,#7f0 41px,#2f0 52px,#2f0 86px,#0fb 87px,#0fb 92px,#0f8 102px,#0f7 111px,#0f3 122px,#0f4 141px,#0f3 171px,#0f0 202px,#0f0 203px,#9f0 212px,#9f0 221px,#0f0 230px,#0f0 231px,#0f0 254px,#fff 255px,#fff 260px,#af0 261px,#af0 264px,#0f0 265px,#0f0 266px,#bf0 267px,#bf0 270px,#0f0 271px,#0f0 272px,#bf0 273px,#bf0 276px,#1f0 277px,#1f0 278px,#bf0 279px,#bf0 282px,#1f0 283px,#1f0 284px,#bf0 285px,#bf0 288px,#1f0 289px,#1f0 290px,#bf0 291px,#bf0 294px,#1f0 295px,#1f0 296px,#bf0 297px,#bf0 300px,#1f0 301px,#1f0 302px,#bf0 303px,#bf0 306px,#2f0 307px,#2f0 308px,#bf0 309px,#bf0 312px,#3f0 313px,#3f0 314px,#bf0 315px,#bf0 318px,#3f0 319px,#3f0 320px,#bf0 321px,#bf0 324px,#3f0 325px,#3f0 326px,#bf0 327px,#bf0 330px,#4f0 331px,#4f0 332px,#bf0 333px,#bf0 336px,#4f0 337px,#4f0 338px,#bf0 339px,#bf0 342px,#4f0 343px,#4f0 344px,#bf0 345px,#bf0 348px,#4f0 349px,#4f0 350px,#bf0 351px,#bf0 353px)"></i>
<i class=w1 style="left:134px;background:linear-gradient(#8f0 0,#8f0 2px,#df0 12px,#8f0 22px,#7f0 41px,#2f0 52px,#2f0 86px,#0fc 87px,#0fb 92px,#0f8 102px,#0f7 112px,#0f3 122px,#0f3 201px,#0f1 205px,#0f0 206px,#6f0 212px,#6f0 221px,#0f0 227px,#0f1 228px,#0f3 232px,#0f2 254px,#fff 255px,#fff 260px,#bf0 261px,#bf0 264px,#0f0 265px,#0f0 266px,#bf0 267px,#bf0 270px,#1f0 271px,#1f0 272px,#bf0 273px,#bf0 276px,#1f0 277px,#1f0 278px,#bf0 279px,#bf0 282px,#1f0 283px,#1f0 284px,#bf0 285px,#bf0 288px,#1f0 289px,#1f0 290px,#bf0 291px,#bf0 294px,#1f0 295px,#1f0 296px,#bf0 297px,#bf0 300px,#2f0 301px,#2f0 302px,#bf0 303px,#bf0 306px,#2f0 307px,#3f0 308px,#bf0 309px,#bf0 312px,#3f0 313px,#3f0 314px,#bf0 315px,#bf0 318px,#3f0 319px,#3f0 320px,#bf0 321px,#bf0 324px,#4f0 325px,#4f0 326px,#bf0 327px,#bf0 330px,#4f0 331px,#4f0 332px,#bf0 333px,#cf0 336px,#5f0 337px,#5f0 338px,#cf0 339px,#cf0 342px,#5f0 343px,#5f0 344px,#cf0 345px,#cf0 348px,#5f0 349px,#5f0 350px,#cf0 351px,#cf0 353px)"></i>
<i class=w1 style="left:135px;background:linear-gradient(#af0 0,#af0 2px,#ff0 10px,#ff0 13px,#af0 22px,#bf0 41px,#5f0 52px,#4f0 86px,#0fc 87px,#0fb 92px,#0f8 102px,#0f7 112px,#0f4 122px,#0f3 201px,#0f0 206px,#6f0 212px,#5f0 221px,#0f0 226px,#0f1 227px,#0f3 232px,#0f4 254px,#fff 255px,#fff 260px,#0f1 261px,#0f0 295px,#3f0 316px,#4f0 336px,#4f0 353px)"></i>
<i class=w1 style="left:136px;background:linear-gradient(#9f0 0,#af0 2px,#ff0 12px,#af0 22px,#bf0 41px,#5f0 52px,#4f0 62px,#4f0 86px,#0fa 87px,#0fa 92px,#0f6 102px,#0f6 112px,#0f2 122px,#0f1 162px,#0f0 202px,#af0 211px,#af0 212px,#9f0 221px,#0f0 229px,#0f2 232px,#0f3 241px,#0f2 254px,#fff 255px,#fff 260px,#0f0 261px,#2f0 296px,#5f0 315px,#6f0 336px,#7f0 353px)"></i>
<i class=w1 style="left:137px;background:linear-gradient(#ef0 0,#ff0 4px,#fd0 12px,#ff0 22px,#ff0 44px,#bf0 52px,#af0 61px,#af0 86px,#0fb 87px,#0fb 92px,#0f7 102px,#0f7 111px,#0f4 122px,#0f2 141px,#0f1 162px,#0f0 202px,#af0 211px,#af0 212px,#8f0 221px,#0f0 228px,#0f3 232px,#0f5 241px,#0f4 254px,#fff 255px,#fff 260px,#0f2 261px,#0f0 300px,#3f0 315px,#5f0 335px,#5f0 353px)"></i>
<i class=w1 style="left:138px;background:linear-gradient(#df0 0,#ff0 5px,#fe0 12px,#ff0 22px,#fe0 41px,#ff0 45px,#cf0 52px,#af0 61px,#af0 86px,#0fc 87px,#0fc 92px,#0f8 102px,#0f7 112px,#0f5 122px,#0f2 141px,#0f2 151px,#0f1 162px,#0f0 202px,#af0 211px,#af0 212px,#7f0 221px,#0f0 227px,#0f4 232px,#0f6 241px,#0f5 254px,#fff 255px,#fff 260px,#0f3 261px,#0f2 295px,#0f0 312px,#3f0 336px,#4f0 353px)"></i>
<i class=w1 style="left:139px;background:linear-gradient(#cf0 0,#ff0 7px,#fe0 12px,#ff0 21px,#fe0 41px,#ff0 45px,#bf0 52px,#9f0 61px,#9f0 86px,#0ff 87px,#0ff 92px,#0fb 102px,#0fb 112px,#0f5 141px,#0f5 151px,#0f3 162px,#0f3 201px,#0f0 206px,#6f0 211px,#6f0 212px,#0f0 223px,#0f7 232px,#0fa 241px,#0f8 254px,#fff 255px,#fff 260px,#0f5 261px,#0f4 295px,#0f1 315px,#0f0 327px,#2f0 336px,#2f0 353px)"></i>
<i class=w1 style="left:140px;background:linear-gradient(#cf0 0,#cf0 2px,#ff0 8px,#fe0 12px,#ff0 32px,#fe0 41px,#ff0 46px,#cf0 52px,#9f0 62px,#9f0 86px,#0df 87px,#0df 91px,#0ff 94px,#0fc 102px,#0fb 112px,#0f5 141px,#0f5 151px,#0f3 162px,#0f3 201px,#0f0 206px,#6f0 211px,#6f0 212px,#0f0 222px,#0f7 231px,#0fc 241px,#0fa 254px,#fff 255px,#fff 260px,#0f7 261px,#0f5 295px,#0f2 316px,#0f0 334px,#1f0 353px)"></i>
<i class=w1 style="left:141px;background:linear-gradient(#bf0 0,#bf0 2px,#ff0 9px,#ff0 32px,#fe0 41px,#ff0 47px,#9f0 62px,#9f0 86px,#0cf 87px,#0cf 91px,#0ff 96px,#0fc 102px,#0fc 112px,#0fb 121px,#0f6 141px,#0f6 151px,#0f3 162px,#0f3 201px,#0f0 206px,#6f0 211px,#6f0 212px,#0f0 220px,#0f8 232px,#0fe 241px,#0fb 254px,#fff 255px,#fff 260px,#0fc 261px,#0fa 295px,#0f7 316px,#0f5 335px,#0f4 353px)"></i>
<i class=w1 style="left:142px;background:linear-gradient(#6f0 0,#6f0 2px,#cf0 12px,#af0 21px,#af0 31px,#ef0 41px,#5f0 61px,#4f0 86px,#0af 87px,#0af 92px,#0ff 98px,#0fd 102px,#0fc 121px,#0f6 141px,#0f6 151px,#0f3 162px,#0f3 201px,#0f0 206px,#6f0 211px,#6f0 212px,#0f0 219px,#0ff 240px,#0ef 241px,#0fc 254px,#fff 255px,#fff 260px,#0fe 261px,#0fc 295px,#0f8 316px,#0f5 335px,#0f5 353px)"></i>
<i class=w1 style="left:143px;background:linear-gradient(#5f0 0,#6f0 2px,#bf0 12px,#af0 31px,#ff0 41px,#4f0 62px,#4f0 86px,#09f 87px,#09f 92px,#0ff 99px,#0fe 102px,#0fd 121px,#0f6 141px,#0f6 151px,#0f2 162px,#0f2 201px,#0f0 205px,#1f0 206px,#6f0 211px,#6f0 212px,#0f0 219px,#0ff 239px,#0cf 241px,#0bf 242px,#0ff 247px,#0fd 251px,#0fd 254px,#fff 255px,#fff 260px,#0ef 261px,#0ff 277px,#0fd 296px,#0f9 316px,#0f6 335px,#0f6 353px)"></i>
<i class=w1 style="left:144px;background:linear-gradient(#3f0 0,#3f0 2px,#8f0 12px,#8f0 31px,#df0 41px,#2f0 62px,#2f0 86px,#05f 87px,#06f 92px,#0df 102px,#0df 121px,#0ff 124px,#0f9 141px,#0f8 151px,#0f4 162px,#0f4 201px,#0f0 208px,#1f0 209px,#3f0 211px,#3f0 212px,#0f0 215px,#0f4 222px,#0ff 235px,#07f 241px,#06f 242px,#0df 251px,#0df 254px,#fff 255px,#fff 260px,#0fd 261px,#0fc 275px,#0fa 295px,#0f8 305px,#0f5 316px,#0f3 335px,#0f2 353px)"></i>
<i class=w1 style="left:145px;background:linear-gradient(#2f0 0,#2f0 2px,#8f0 12px,#8f0 31px,#df0 41px,#2f0 62px,#2f0 86px,#04f 87px,#05f 92px,#0cf 102px,#0cf 121px,#0ff 126px,#0f9 141px,#0f8 152px,#0f5 162px,#0f4 201px,#0f0 209px,#2f0 211px,#2f0 212px,#0f0 214px,#0f5 222px,#0ff 234px,#05f 241px,#05f 242px,#0cf 251px,#0cf 254px,#fff 255px,#fff 260px,#0fe 261px,#0fe 275px,#0fb 295px,#0f9 305px,#0f6 316px,#0f3 335px,#0f2 353px)"></i>
<i class=w1 style="left:146px;background:linear-gradient(#1f0 0,#1f0 2px,#7f0 12px,#7f0 31px,#cf0 41px,#2f0 62px,#2f0 86px,#05f 87px,#05f 92px,#0ef 102px,#0ef 121px,#0ff 123px,#0f7 141px,#0f7 152px,#0f3 162px,#0f2 201px,#0f0 206px,#5f0 211px,#5f0 212px,#0f0 216px,#0ff 236px,#07f 241px,#06f 242px,#0ff 251px,#0ff 254px,#fff 255px,#fff 260px,#0df 261px,#0ff 283px,#0fe 295px,#0f9 316px,#0f6 335px,#0f5 353px)"></i>
<i class=w1 style="left:147px;background:linear-gradient(#4f0 0,#4f0 2px,#af0 12px,#af0 31px,#ef0 41px,#6f0 62px,#6f0 86px,#04f 87px,#05f 92px,#0df 102px,#0df 121px,#0ff 124px,#0fa 132px,#0f7 142px,#0f7 151px,#0f3 162px,#0f3 171px,#0f2 201px,#0f0 206px,#4f0 211px,#3f0 212px,#1f0 214px,#0f0 215px,#0ff 235px,#0ef 236px,#07f 241px,#06f 242px,#0ff 251px,#0ff 254px,#fff 255px,#fff 260px,#0cf 261px,#0ff 286px,#0fd 298px,#0fa 315px,#0f6 336px,#0f6 353px)"></i>
<i class=w1 style="left:148px;background:linear-gradient(#3f0 0,#3f0 2px,#9f0 12px,#9f0 31px,#df0 41px,#6f0 62px,#6f0 86px,#03f 87px,#03f 92px,#0af 102px,#0af 121px,#0ff 128px,#0f9 142px,#0f9 152px,#0f6 162px,#0f5 172px,#0f5 201px,#0f1 211px,#0ff 233px,#05f 241px,#05f 242px,#0cf 251px,#0cf 254px,#fff 255px,#fff 260px,#0fe 261px,#0fb 295px,#0f3 336px,#0f2 353px)"></i>
<i class=w1 style="left:149px;background:linear-gradient(#1f0 0,#1f0 2px,#8f0 12px,#8f0 31px,#bf0 41px,#5f0 62px,#5f0 86px,#02f 87px,#03f 92px,#09f 102px,#09f 121px,#0ff 128px,#0fd 132px,#0f9 142px,#0f9 152px,#0f5 172px,#0f5 201px,#0f1 211px,#0ff 232px,#05f 241px,#05f 242px,#0cf 251px,#0cf 254px,#fff 255px,#fff 260px,#0fe 261px,#0fb 295px,#0f3 336px,#0f3 353px)"></i>
<i class=w1 style="left:150px;background:linear-gradient(#0f0 0,#1f0 2px,#8f0 12px,#8f0 31px,#af0 41px,#5f0 62px,#5f0 86px,#04f 87px,#05f 92px,#0ef 102px,#0ef 121px,#0ff 122px,#0f7 131px,#0f3 141px,#0f3 152px,#0f0 165px,#3f0 172px,#3f0 201px,#8f0 211px,#7f0 212px,#0f0 218px,#0f8 230px,#0ff 238px,#0af 241px,#09f 242px,#0ff 247px,#0fc 251px,#0fc 254px,#fff 255px,#fff 260px,#0bf 261px,#0ff 293px,#0fb 315px,#0fa 326px,#0f8 336px,#0f7 353px)"></i>
<i class=w1 style="left:151px;background:linear-gradient(#0f1 0,#0f0 5px,#5f0 12px,#5f0 31px,#7f0 41px,#3f0 62px,#3f0 86px,#03f 87px,#04f 92px,#0df 102px,#0df 121px,#0ef 122px,#0ff 123px,#0f7 131px,#0f3 141px,#0f3 152px,#0f0 166px,#3f0 172px,#3f0 201px,#7f0 211px,#6f0 212px,#1f0 216px,#0f0 217px,#0f8 229px,#0ef 238px,#0af 241px,#09f 242px,#0ff 247px,#0fc 251px,#0fc 254px,#fff 255px,#fff 260px,#0bf 261px,#0df 285px,#0ff 294px,#0fb 315px,#0fb 325px,#0f8 336px,#0f7 353px)"></i>
<i class=w1 style="left:152px;background:linear-gradient(#0f1 0,#0f0 4px,#6f0 12px,#6f0 31px,#8f0 42px,#5f0 62px,#5f0 86px,#01f 87px,#02f 92px,#09f 102px,#09f 121px,#0ff 126px,#0fa 132px,#0f6 142px,#0f5 161px,#0f2 172px,#0f2 201px,#0f0 211px,#0f8 222px,#0ff 234px,#07f 241px,#07f 242px,#0ff 250px,#0fe 254px,#fff 255px,#fff 260px,#0df 261px,#0ff 274px,#0fe 286px,#0fa 315px,#0f9 325px,#0f6 336px,#0f5 353px)"></i>
<i class=w1 style="left:153px;background:linear-gradient(#0f1 0,#0f0 5px,#6f0 12px,#7f0 42px,#5f0 62px,#5f0 86px,#01f 87px,#01f 92px,#08f 102px,#08f 121px,#09f 122px,#0ff 126px,#0fa 132px,#0f6 142px,#0f6 161px,#0f2 172px,#0f2 201px,#0f1 211px,#0f9 222px,#0ff 233px,#0ff 234px,#07f 241px,#07f 242px,#0ff 250px,#0fe 254px,#fff 255px,#fff 260px,#0df 261px,#0df 266px,#0ff 274px,#0ff 286px,#0fa 315px,#0fa 325px,#0f7 336px,#0f6 353px)"></i>
<i class=w1 style="left:154px;background:linear-gradient(#0f2 0,#0f0 5px,#5f0 12px,#5f0 86px,#00f 87px,#00f 92px,#07f 102px,#07f 121px,#08f 122px,#0ff 126px,#0fe 127px,#0fa 132px,#0f6 142px,#0f6 161px,#0f2 172px,#0f2 211px,#0fa 222px,#0ff 233px,#07f 241px,#07f 242px,#0ff 250px,#0fe 254px,#fff 255px,#fff 260px,#0ff 261px,#0fe 286px,#0fa 306px,#0f9 325px,#0f5 336px,#0f4 353px)"></i>
<i class=w1 style="left:155px;background:linear-gradient(#0f2 0,#0f0 6px,#5f0 12px,#3f0 61px,#3f0 86px,#00f 87px,#00f 88px,#00f 93px,#05f 102px,#06f 121px,#07f 122px,#0ff 127px,#0fa 132px,#0f7 142px,#0f7 161px,#0f2 172px,#0f2 191px,#0f3 211px,#0fb 222px,#0ff 231px,#06f 241px,#06f 242px,#0ef 251px,#0ff 254px,#fff 255px,#fff 260px,#0ff 261px,#0fe 286px,#0fb 307px,#0f9 325px,#0f6 336px,#0f5 353px)"></i>
<i class=w1 style="left:156px;background:linear-gradient(#0f3 0,#0f0 8px,#3f0 12px,#3f0 22px,#0f0 45px,#0f1 62px,#0f1 86px,#00e 87px,#00e 88px,#00f 94px,#04f 102px,#05f 121px,#06f 122px,#0ff 127px,#0fa 132px,#0f7 142px,#0f7 161px,#0f2 172px,#0f2 191px,#0f4 211px,#0fc 221px,#0ff 230px,#05f 241px,#05f 242px,#0df 251px,#0df 254px,#fff 255px,#fff 260px,#0ef 261px,#0fe 286px,#0fb 310px,#0fa 325px,#0f7 336px,#0f6 353px)"></i>
<i class=w1 style="left:157px;background:linear-gradient(#0f3 0,#0f0 11px,#0f0 23px,#0f4 61px,#0f3 86px,#00e 87px,#00e 88px,#00f 95px,#03f 102px,#04f 112px,#05f 121px,#06f 122px,#0ef 126px,#0fe 127px,#0f9 132px,#0f6 141px,#0f6 161px,#0f1 172px,#0f1 191px,#0f4 211px,#0fc 222px,#0ff 230px,#0ef 232px,#04f 241px,#04f 242px,#0cf 251px,#0df 254px,#fff 255px,#fff 260px,#0ef 261px,#0fe 286px,#0fb 325px,#0f7 336px,#0f6 353px)"></i>
<i class=w1 style="left:158px;background:linear-gradient(#0f4 0,#0f1 12px,#0f1 21px,#0f7 61px,#0f6 86px,#00f 87px,#00f 88px,#00f 92px,#00e 93px,#00f 97px,#02f 102px,#02f 111px,#04f 121px,#05f 122px,#0ef 126px,#0fe 127px,#0f9 132px,#0f6 141px,#0f6 161px,#0f1 172px,#0f1 191px,#0f4 202px,#0f6 211px,#0fd 221px,#0ff 228px,#0df 232px,#03f 241px,#03f 242px,#0af 251px,#0bf 254px,#fff 255px,#fff 260px,#0ff 261px,#0fe 286px,#0fb 325px,#0f8 336px,#0f7 353px)"></i>
<i class=w1 style="left:159px;background:linear-gradient(#0f5 0,#0f2 12px,#0f2 21px,#0fa 61px,#0fa 71px,#0f9 86px,#00f 87px,#00f 88px,#00f 93px,#00e 94px,#00f 100px,#01f 111px,#03f 121px,#04f 122px,#0ff 127px,#0fe 128px,#0fa 132px,#0f6 142px,#0f6 161px,#0f2 172px,#0f2 191px,#0f6 202px,#0f8 211px,#0fe 221px,#0ff 224px,#0bf 232px,#01f 241px,#01f 242px,#08f 251px,#09f 254px,#fff 255px,#fff 260px,#0ef 261px,#0ff 288px,#0fd 325px,#0f9 336px,#0f9 353px)"></i>
<i class=w1 style="left:160px;background:linear-gradient(#0f6 0,#0f4 12px,#0f4 21px,#0f7 32px,#0f9 42px,#0fc 52px,#0fd 61px,#0fd 71px,#0fc 86px,#00f 87px,#00f 88px,#00f 93px,#00c 94px,#00c 96px,#00e 97px,#00f 101px,#00f 113px,#03f 121px,#04f 122px,#0ef 127px,#0fe 128px,#0fa 132px,#0f6 142px,#0f6 161px,#0f2 172px,#0f2 191px,#0f7 202px,#0f9 211px,#0ff 221px,#0af 232px,#00f 241px,#01f 243px,#07f 251px,#07f 254px,#fff 255px,#fff 260px,#0ef 261px,#0ff 286px,#0fd 325px,#0f9 336px,#0f9 353px)"></i>
<i class=w1 style="left:161px;background:linear-gradient(#0f7 0,#0f5 12px,#0f5 21px,#0ff 55px,#0df 62px,#0df 71px,#0ff 78px,#0fe 86px,#00f 87px,#00f 88px,#00f 93px,#00c 94px,#00c 100px,#00e 101px,#00e 111px,#00f 117px,#01f 121px,#02f 122px,#0ff 129px,#0fc 132px,#0f8 142px,#0f8 161px,#0f4 172px,#0f4 191px,#0f9 201px,#0fc 211px,#0ff 217px,#0af 222px,#07f 232px,#00f 240px,#00e 242px,#00f 245px,#04f 251px,#04f 254px,#fff 255px,#fff 260px,#0ef 261px,#0ff 286px,#0fd 325px,#0fa 336px,#0f9 353px)"></i>
<i class=w1 style="left:162px;background:linear-gradient(#0f7 0,#0f6 21px,#0ff 47px,#0cf 52px,#07f 62px,#07f 71px,#0cf 81px,#0cf 86px,#00f 87px,#00f 88px,#00f 93px,#00c 94px,#00c 113px,#00e 114px,#00f 119px,#01f 121px,#03f 122px,#0ef 127px,#0fe 128px,#0fa 132px,#0f6 142px,#0f6 161px,#0f2 172px,#0f2 191px,#0f8 201px,#0fb 211px,#0ff 218px,#0bf 222px,#08f 232px,#00f 239px,#00e 242px,#00f 246px,#03f 251px,#04f 254px,#fff 255px,#fff 260px,#0ff 261px,#0fe 325px,#0fa 336px,#0fa 353px)"></i>
<i class=w1 style="left:163px;background:linear-gradient(#0f8 0,#0f7 21px,#0fc 32px,#0ff 43px,#07f 52px,#02f 61px,#02f 71px,#07f 81px,#07f 86px,#00f 87px,#00f 88px,#00f 93px,#00c 94px,#00c 116px,#00e 117px,#00f 121px,#02f 122px,#0ff 128px,#0fb 132px,#0f7 142px,#0f7 161px,#0f3 172px,#0f3 191px,#0fa 202px,#0ff 215px,#08f 222px,#07f 232px,#00f 238px,#00d 242px,#00f 248px,#02f 251px,#02f 254px,#fff 255px,#fff 260px,#0ff 261px,#0fe 325px,#0fa 336px,#0fa 353px)"></i>
<i class=w1 style="left:164px;background:linear-gradient(#0f8 0,#0f8 21px,#0fd 31px,#0ff 37px,#0cf 42px,#02f 52px,#00f 55px,#00e 59px,#00d 71px,#00f 77px,#02f 82px,#02f 86px,#00f 87px,#00f 93px,#00c 94px,#00c 116px,#00e 117px,#00f 121px,#01f 122px,#0ff 128px,#0fe 129px,#0fb 132px,#0f7 142px,#0f7 161px,#0f3 172px,#0f3 191px,#0fb 202px,#0ff 213px,#07f 222px,#06f 232px,#00f 237px,#00c 242px,#00f 251px,#00f 254px,#fff 255px,#fff 260px,#0ff 261px,#0fe 325px,#0fb 336px,#0fa 353px)"></i>
<i class=w1 style="left:165px;background:linear-gradient(#0f9 0,#0f9 21px,#0ff 34px,#0bf 41px,#00f 51px,#00f 52px,#00c 61px,#00c 71px,#00f 82px,#00f 93px,#00c 94px,#00c 116px,#00d 117px,#00f 121px,#01f 122px,#0df 127px,#0ff 128px,#0fa 132px,#0f6 141px,#0f6 161px,#0f2 172px,#0f3 191px,#0fb 202px,#0ff 211px,#06f 221px,#06f 231px,#00f 237px,#00c 242px,#00f 251px,#00f 254px,#fff 255px,#fff 260px,#0ef 261px,#0ff 325px,#0fc 336px,#0fc 353px)"></i>
<i class=w1 style="left:166px;background:linear-gradient(#0fa 0,#0fa 21px,#0ff 33px,#0af 41px,#01f 50px,#00e 52px,#00c 61px,#00c 71px,#00e 81px,#00f 93px,#00c 94px,#00c 116px,#00d 117px,#00f 122px,#0df 127px,#0ff 128px,#0fa 132px,#0f7 141px,#0f7 161px,#0f3 172px,#0f4 191px,#0fc 202px,#0ff 209px,#05f 222px,#05f 231px,#00f 237px,#00c 242px,#00f 254px,#fff 255px,#fff 260px,#0df 261px,#0ff 276px,#0ff 325px,#0fc 336px,#0fc 353px)"></i>
<i class=w1 style="left:167px;background:linear-gradient(#0fa 0,#0fa 21px,#0ff 32px,#0af 41px,#00f 50px,#00e 52px,#00c 61px,#00b 71px,#00e 81px,#00e 86px,#00f 87px,#00f 93px,#00c 94px,#00c 116px,#00d 117px,#00f 122px,#01f 123px,#0ef 130px,#0fe 131px,#0fb 141px,#0fb 161px,#0f8 172px,#0fa 191px,#0ff 199px,#0cf 202px,#02f 221px,#03f 231px,#00f 236px,#00d 242px,#00f 254px,#fff 255px,#fff 260px,#0df 261px,#0df 266px,#0ff 276px,#0ff 325px,#0fc 336px,#0fc 353px)"></i>
<i class=w1 style="left:168px;background:linear-gradient(#0fb 0,#0fb 21px,#0ff 31px,#09f 41px,#01f 49px,#00e 52px,#00c 61px,#00b 71px,#00d 81px,#00d 86px,#00f 87px,#00f 93px,#00c 94px,#00c 116px,#00d 117px,#00e 122px,#01f 123px,#0ff 129px,#0fb 132px,#0f9 141px,#0f9 161px,#0f6 172px,#0f9 191px,#0ff 200px,#07f 211px,#02f 221px,#03f 231px,#00f 236px,#00d 242px,#00f 254px,#fff 255px,#fff 260px,#0cf 261px,#0cf 266px,#0ff 274px,#0ff 325px,#0fc 336px,#0fb 353px)"></i>
<i class=w1 style="left:169px;background:linear-gradient(#0fb 0,#0fb 21px,#0ff 30px,#09f 41px,#00f 49px,#00d 52px,#00b 71px,#00d 86px,#00f 87px,#00f 93px,#00c 94px,#00c 116px,#00d 117px,#00e 122px,#01f 123px,#0ff 129px,#0fb 132px,#0fa 141px,#0f9 161px,#0f7 172px,#0fb 191px,#0ff 198px,#0bf 202px,#05f 211px,#01f 221px,#03f 231px,#00f 236px,#00d 242px,#00f 254px,#fff 255px,#fff 260px,#0bf 261px,#0cf 266px,#0ff 274px,#0ff 325px,#0fb 345px,#0fb 353px)"></i>
<i class=w1 style="left:170px;background:linear-gradient(#0fc 0,#0fc 21px,#0ff 29px,#08f 41px,#01f 48px,#00d 52px,#00b 71px,#00c 86px,#00f 87px,#00f 93px,#00c 94px,#00c 116px,#00d 117px,#00e 122px,#01f 123px,#0ff 128px,#0fe 129px,#0fa 132px,#0f8 141px,#0f8 161px,#0f6 171px,#0fb 191px,#0ff 198px,#0bf 202px,#04f 211px,#00f 220px,#00f 223px,#03f 231px,#00f 237px,#00e 242px,#00f 254px,#fff 255px,#fff 260px,#0af 261px,#0af 266px,#0ff 276px,#0ff 325px,#0fb 345px,#0fb 353px)"></i>
<i class=w1 style="left:171px;background:linear-gradient(#0fc 0,#0fc 21px,#0ff 28px,#08f 41px,#00f 48px,#00d 52px,#00b 72px,#00c 86px,#00f 87px,#00f 93px,#00c 94px,#00c 116px,#00e 120px,#00e 122px,#00f 123px,#0ff 128px,#0fe 129px,#0fa 132px,#0f9 142px,#0f9 161px,#0f7 171px,#0fb 186px,#0ff 195px,#08f 202px,#02f 211px,#00f 216px,#00e 221px,#00f 226px,#02f 231px,#00f 237px,#00e 242px,#00f 254px,#fff 255px,#fff 260px,#09f 261px,#09f 266px,#0ff 276px,#0ff 325px,#0fe 335px,#0fb 345px,#0fb 353px)"></i>
<i class=w1 style="left:172px;background:linear-gradient(#0fd 0,#0fd 21px,#0ff 27px,#07f 41px,#00f 48px,#00d 52px,#00b 72px,#00b 86px,#00f 87px,#00f 93px,#00c 94px,#00c 116px,#00c 119px,#00e 120px,#00d 122px,#00f 123px,#0ff 128px,#0fa 131px,#0f9 132px,#0f7 171px,#0fa 182px,#0ff 193px,#06f 202px,#00f 211px,#00e 221px,#00f 228px,#02f 232px,#00f 237px,#00e 242px,#00f 254px,#fff 255px,#fff 260px,#08f 261px,#09f 266px,#0ff 276px,#0ff 326px,#0fe 335px,#0fb 346px,#0fb 353px)"></i>
<i class=w1 style="left:173px;background:linear-gradient(#0fd 0,#0fd 21px,#0ff 26px,#07f 41px,#00f 47px,#00e 48px,#00c 52px,#00a 72px,#00b 86px,#00f 87px,#00f 93px,#00c 94px,#00c 116px,#00c 119px,#00e 120px,#00d 122px,#00e 123px,#01f 124px,#0ef 130px,#0fe 131px,#0fd 132px,#0fd 141px,#0fc 171px,#0ff 180px,#00f 206px,#00d 212px,#00d 221px,#00f 232px,#00f 254px,#fff 255px,#fff 260px,#07f 261px,#07f 266px,#0ef 276px,#0ef 325px,#0ff 334px,#0fc 345px,#0fc 353px)"></i>
<i class=w1 style="left:174px;background:linear-gradient(#0fe 0,#0fe 21px,#0ff 25px,#07f 41px,#01f 46px,#00e 48px,#00c 52px,#00c 61px,#00a 72px,#00a 86px,#00f 87px,#00f 93px,#00c 94px,#00c 116px,#00c 119px,#00e 120px,#00d 122px,#00e 123px,#01f 124px,#0ef 130px,#0fe 131px,#0fd 132px,#0fd 171px,#0ff 177px,#05f 192px,#00f 202px,#00c 212px,#00c 221px,#00f 232px,#00f 254px,#fff 255px,#fff 260px,#06f 261px,#06f 266px,#0ef 276px,#0ff 336px,#0fc 345px,#0fc 353px)"></i>
<i class=w1 style="left:175px;background:linear-gradient(#0fe 0,#0fe 21px,#0ff 24px,#06f 41px,#01f 46px,#00e 48px,#00c 52px,#00c 61px,#00a 72px,#00a 86px,#00f 87px,#00f 93px,#00c 94px,#00c 116px,#00c 119px,#00e 120px,#00d 122px,#00e 123px,#01f 124px,#0df 128px,#0ff 129px,#0fb 132px,#0fb 161px,#0fb 171px,#0ff 181px,#05f 192px,#00f 201px,#00c 212px,#00c 221px,#00f 232px,#01f 254px,#fff 255px,#fff 260px,#05f 261px,#06f 266px,#0df 276px,#0df 335px,#0ff 340px,#0fd 346px,#0fd 353px)"></i>
<i class=w1 style="left:176px;background:linear-gradient(#0fe 0,#0ff 23px,#0af 32px,#06f 41px,#01f 46px,#00e 48px,#00c 52px,#00c 61px,#00a 72px,#00a 86px,#00f 87px,#00f 93px,#00c 94px,#00c 116px,#00c 119px,#00e 120px,#00e 121px,#00d 122px,#00e 123px,#01f 124px,#0ef 129px,#0fe 130px,#0fc 132px,#0fb 161px,#0fc 171px,#0ff 178px,#05f 191px,#00f 200px,#00c 212px,#00c 221px,#00f 231px,#02f 254px,#fff 255px,#fff 260px,#06f 261px,#06f 266px,#0ef 276px,#0ef 335px,#0ff 339px,#0fe 346px,#0fe 353px)"></i>
<i class=w1 style="left:177px;background:linear-gradient(#0fe 0,#0ff 22px,#0af 31px,#06f 41px,#01f 46px,#00e 48px,#00c 52px,#00c 61px,#00a 72px,#00a 86px,#00f 87px,#00f 93px,#00c 94px,#00c 116px,#00c 119px,#00e 120px,#00e 121px,#00d 122px,#00f 124px,#0ff 131px,#0ff 132px,#0fe 142px,#0fe 161px,#0ff 172px,#08f 182px,#03f 191px,#00f 197px,#00c 212px,#00d 221px,#00f 230px,#03f 254px,#fff 255px,#fff 260px,#07f 261px,#07f 266px,#0ef 276px,#0ef 335px,#0ff 338px,#0fe 353px)"></i>
<i class=w1 style="left:178px;background:linear-gradient(#0fe 0,#0ff 21px,#09f 32px,#06f 41px,#01f 46px,#00e 48px,#00c 52px,#00c 61px,#00a 72px,#00a 86px,#00f 87px,#00f 93px,#00c 94px,#00c 116px,#00c 119px,#00e 120px,#00e 121px,#00c 122px,#00f 124px,#0ef 130px,#0fe 131px,#0fc 142px,#0fc 161px,#0fd 171px,#0ff 174px,#08f 182px,#02f 191px,#00f 196px,#00c 212px,#00d 221px,#00f 228px,#02f 232px,#02f 241px,#05f 251px,#05f 254px,#fff 255px,#fff 260px,#09f 261px,#0af 266px,#0ff 273px,#0fe 276px,#0fe 335px,#0fd 353px)"></i>
<i class=w1 style="left:179px;background:linear-gradient(#0fe 0,#0ff 17px,#0ef 21px,#09f 31px,#06f 41px,#01f 46px,#00e 48px,#00c 52px,#00c 61px,#00a 72px,#00a 86px,#00f 87px,#00f 93px,#00c 94px,#00c 119px,#00e 120px,#00e 121px,#00c 122px,#00f 124px,#02f 125px,#0ff 131px,#0ff 132px,#0fc 142px,#0fc 161px,#0ff 172px,#05f 182px,#00f 194px,#00c 212px,#00d 221px,#00f 227px,#03f 232px,#03f 241px,#07f 251px,#07f 254px,#fff 255px,#fff 260px,#0af 261px,#0bf 266px,#0ff 271px,#0fd 276px,#0fd 353px)"></i>
<i class=w1 style="left:180px;background:linear-gradient(#0fe 0,#0ff 17px,#0df 22px,#08f 32px,#06f 41px,#01f 46px,#00e 48px,#00c 52px,#00c 61px,#00a 72px,#00a 86px,#00f 87px,#00f 93px,#00c 94px,#00c 116px,#00c 119px,#00e 120px,#00e 121px,#00c 122px,#00e 124px,#01f 125px,#0df 131px,#0ef 132px,#0ff 134px,#0fd 142px,#0fd 161px,#0ff 170px,#0df 172px,#04f 181px,#00f 190px,#00c 211px,#00f 226px,#03f 232px,#03f 241px,#08f 251px,#08f 254px,#fff 255px,#fff 260px,#0bf 261px,#0bf 265px,#0ff 270px,#0ff 271px,#0fd 276px,#0fd 353px)"></i>
<i class=w1 style="left:181px;background:linear-gradient(#0fe 0,#0fe 11px,#0ff 16px,#08f 31px,#06f 41px,#01f 46px,#00e 48px,#00c 52px,#00c 61px,#00a 72px,#00a 86px,#00f 87px,#00f 93px,#00c 94px,#00c 116px,#00c 119px,#00e 120px,#00e 121px,#00c 122px,#00e 124px,#00f 125px,#0cf 131px,#0ff 135px,#0fd 142px,#0fd 161px,#0ff 168px,#0cf 172px,#02f 181px,#00f 186px,#00c 211px,#00f 225px,#04f 232px,#04f 242px,#0af 251px,#0af 254px,#fff 255px,#fff 260px,#0bf 261px,#0cf 266px,#0ff 271px,#0fd 276px,#0fd 335px,#0fe 353px)"></i>
<i class=w1 style="left:182px;background:linear-gradient(#0fe 0,#0fe 11px,#0ff 15px,#07f 31px,#06f 41px,#01f 46px,#00e 48px,#00c 52px,#00c 61px,#00a 72px,#00a 86px,#00f 87px,#00f 93px,#00c 94px,#00c 119px,#00e 120px,#00e 121px,#00c 122px,#00f 125px,#0bf 132px,#0ff 137px,#0ff 138px,#0fd 142px,#0fd 161px,#0ff 166px,#0af 172px,#00f 181px,#00c 211px,#00f 224px,#05f 232px,#05f 242px,#0cf 251px,#0cf 254px,#fff 255px,#fff 260px,#0cf 261px,#0cf 265px,#0ff 270px,#0fd 276px,#0fd 335px,#0fe 345px,#0ff 353px)"></i>
<i class=w1 style="left:183px;background:linear-gradient(#0fe 0,#0fe 11px,#0ff 15px,#07f 31px,#06f 41px,#01f 46px,#00e 48px,#00c 52px,#00c 61px,#00a 72px,#00a 86px,#00f 87px,#00f 93px,#00c 94px,#00c 116px,#00c 119px,#00e 120px,#00e 121px,#00c 122px,#00e 125px,#00f 126px,#08f 132px,#0ef 142px,#0ef 162px,#08f 171px,#00f 179px,#00d 182px,#00c 211px,#00f 223px,#04f 232px,#05f 242px,#0bf 251px,#0bf 254px,#fff 255px,#fff 260px,#0fe 261px,#0fe 266px,#0fa 276px,#0fa 335px,#0fd 345px,#0fd 353px)"></i>
<i class=w1 style="left:184px;background:linear-gradient(#0fe 0,#0fe 11px,#0ff 14px,#07f 31px,#06f 41px,#01f 46px,#00e 48px,#00c 52px,#00c 61px,#00a 72px,#00a 86px,#00f 87px,#00f 93px,#00c 94px,#00c 116px,#00c 119px,#00e 120px,#00e 121px,#00c 122px,#00f 126px,#06f 132px,#0df 142px,#0df 161px,#06f 171px,#00f 177px,#00c 182px,#00c 211px,#00f 223px,#05f 232px,#05f 242px,#0cf 251px,#0cf 254px,#fff 255px,#fff 260px,#0ff 261px,#0ff 266px,#0fb 276px,#0fb 335px,#0ff 345px,#0ff 353px)"></i>
<i style="left:185px;background:linear-gradient(#0ff 0,#0ff 13px,#06f 31px,#05f 41px,#00f 46px,#00c 52px,#00c 61px,#00a 72px,#00a 86px,#00f 87px,#00f 93px,#00c 94px,#00c 116px,#00c 119px,#00e 120px,#00e 121px,#00c 122px,#00f 127px,#05f 132px,#0df 142px,#0df 161px,#05f 171px,#00f 176px,#00c 182px,#00c 211px,#00f 221px,#05f 231px,#06f 241px,#0ef 251px,#0ff 254px,#fff 255px,#fff 260px,#0ff 261px,#0ff 266px,#0fc 276px,#0fc 283px,#0fc 335px,#0ff 345px,#0ff 353px)"></i>
<i style="left:187px;background:linear-gradient(#0ff 0,#0ff 12px,#06f 31px,#04f 41px,#00f 46px,#00c 52px,#00c 61px,#00a 72px,#00a 86px,#00f 87px,#00f 93px,#00c 94px,#00c 116px,#00c 119px,#00e 120px,#00e 121px,#00c 122px,#00f 127px,#0bf 142px,#0bf 161px,#00f 176px,#00c 182px,#00c 211px,#00f 219px,#05f 231px,#08f 241px,#0ff 250px,#0fe 254px,#fff 255px,#fff 260px,#0fd 261px,#0fd 266px,#0fa 276px,#0fa 283px,#0fa 335px,#0fd 345px,#0fd 353px)"></i>
<i style="left:189px;background:linear-gradient(#0ef 0,#0ef 11px,#0bf 21px,#06f 32px,#03f 41px,#00f 45px,#00c 52px,#00c 61px,#00a 72px,#00a 86px,#00f 87px,#00f 93px,#00c 94px,#00c 116px,#00c 119px,#00e 120px,#00e 121px,#00c 122px,#00f 128px,#0cf 142px,#0cf 161px,#00f 175px,#00c 182px,#00c 211px,#00e 217px,#00f 218px,#04f 222px,#07f 232px,#0cf 241px,#0ff 244px,#0fb 251px,#0fb 254px,#fff 255px,#fff 260px,#0fc 261px,#0fa 278px,#0fa 335px,#0fc 345px,#0fc 353px)"></i>
<i class=w1 style="left:191px;background:linear-gradient(#0df 0,#0df 11px,#0bf 21px,#02f 41px,#00f 44px,#00c 52px,#00c 61px,#00a 72px,#00a 86px,#00f 87px,#00f 93px,#00c 94px,#00c 116px,#00c 119px,#00e 120px,#00e 121px,#00c 122px,#00f 128px,#00f 129px,#0bf 142px,#0bf 161px,#00f 174px,#00c 182px,#00c 211px,#00f 217px,#05f 222px,#07f 232px,#0ff 243px,#0fb 251px,#0fb 254px,#fff 255px,#fff 260px,#0fb 261px,#0fa 278px,#0fa 335px,#0fb 353px)"></i>
<i class=w1 style="left:192px;background:linear-gradient(#0cf 0,#0cf 11px,#0bf 21px,#00f 44px,#00c 52px,#00c 61px,#00a 72px,#00a 86px,#00f 87px,#00f 93px,#00c 94px,#00c 116px,#00c 119px,#00e 120px,#00e 121px,#00c 122px,#00f 130px,#06f 142px,#06f 161px,#00f 173px,#00c 182px,#00c 211px,#00f 217px,#03f 222px,#04f 232px,#0ff 250px,#0ff 254px,#fff 255px,#fff 260px,#0fd 261px,#0fc 279px,#0fc 335px,#0fd 353px)"></i>
<i style="left:193px;background:linear-gradient(#0bf 0,#0af 22px,#00f 43px,#00c 52px,#00c 61px,#00a 72px,#00a 86px,#00f 87px,#00f 93px,#00c 94px,#00c 116px,#00c 119px,#00e 120px,#00e 121px,#00c 122px,#00f 131px,#06f 142px,#06f 161px,#00f 172px,#00c 182px,#00c 211px,#00e 216px,#00f 217px,#05f 222px,#06f 232px,#0ff 245px,#0fd 251px,#0fc 254px,#fff 255px,#fff 260px,#0fc 261px,#0fc 353px)"></i>
<i class=w1 style="left:195px;background:linear-gradient(#0bf 0,#0af 22px,#06f 32px,#00f 41px,#00c 51px,#00c 61px,#00a 73px,#00a 86px,#00f 87px,#00f 93px,#00c 94px,#00c 116px,#00c 119px,#00e 120px,#00e 121px,#00c 122px,#00f 133px,#05f 142px,#05f 161px,#00f 171px,#00c 182px,#00c 211px,#00f 216px,#00f 217px,#05f 222px,#06f 232px,#0ff 244px,#0fc 251px,#0fc 254px,#fff 255px,#fff 260px,#0fc 261px,#0fc 353px)"></i>
<i style="left:196px;background:linear-gradient(#0bf 0,#0bf 12px,#0af 22px,#06f 31px,#00f 41px,#00c 51px,#00c 61px,#00a 73px,#00a 86px,#00f 87px,#00f 93px,#00c 94px,#00c 116px,#00c 119px,#00e 120px,#00e 121px,#00c 122px,#00f 132px,#05f 142px,#05f 161px,#00f 170px,#00c 182px,#00c 211px,#00f 216px,#07f 222px,#07f 231px,#0ff 240px,#0fa 251px,#0fa 254px,#fff 255px,#fff 260px,#0fb 261px,#0f9 276px,#0f9 285px,#0fc 353px)"></i>
<i style="left:198px;background:linear-gradient(#0bf 0,#0bf 11px,#09f 22px,#06f 32px,#00f 41px,#00c 51px,#00c 62px,#00a 72px,#00a 86px,#00f 87px,#00f 93px,#00c 94px,#00c 116px,#00c 119px,#00e 120px,#00e 121px,#00c 122px,#00f 132px,#03f 142px,#03f 161px,#01f 166px,#00c 182px,#00c 211px,#00f 216px,#05f 222px,#06f 232px,#0ff 243px,#0fc 251px,#0fc 254px,#fff 255px,#fff 260px,#0fb 261px,#0fb 266px,#0f8 276px,#0f8 285px,#0f9 306px,#0fb 316px,#0fb 335px,#0fc 345px,#0fc 353px)"></i>
<i class=w1 style="left:200px;background:linear-gradient(#0bf 0,#0bf 12px,#06f 31px,#00f 41px,#00c 51px,#00c 62px,#00a 72px,#00a 86px,#00f 87px,#00f 93px,#00c 94px,#00c 116px,#00c 119px,#00e 120px,#00e 121px,#00c 122px,#00f 134px,#02f 142px,#02f 161px,#00f 166px,#00d 172px,#00c 182px,#00c 211px,#00f 216px,#05f 222px,#06f 232px,#0ff 243px,#0fc 251px,#0fc 254px,#fff 255px,#fff 260px,#0fc 261px,#0fc 266px,#0f8 276px,#0f8 285px,#0f9 295px,#0f9 306px,#0fc 316px,#0fc 335px,#0fe 345px,#0fe 353px)"></i>
<i class=w1 style="left:201px;background:linear-gradient(#0bf 0,#0bf 11px,#08f 22px,#06f 31px,#00f 41px,#00c 51px,#00c 62px,#00a 72px,#00a 86px,#00f 87px,#00f 93px,#00c 94px,#00c 116px,#00c 119px,#00e 120px,#00e 121px,#00c 122px,#00f 133px,#02f 142px,#02f 161px,#00f 165px,#00d 172px,#00c 181px,#00c 211px,#00f 216px,#07f 222px,#07f 232px,#0ff 240px,#0fa 251px,#0fa 254px,#fff 255px,#fff 260px,#0fc 261px,#0fc 266px,#0f7 276px,#0f7 285px,#0f9 295px,#0f9 306px,#0fc 316px,#0fc 335px,#0fe 345px,#0fe 353px)"></i>
<i class=w1 style="left:202px;background:linear-gradient(#0bf 0,#0bf 11px,#07f 22px,#06f 31px,#00f 41px,#00c 51px,#00c 62px,#00a 72px,#00a 86px,#00f 87px,#00f 93px,#00c 94px,#00c 116px,#00c 119px,#00e 120px,#00e 121px,#00c 122px,#00f 133px,#01f 142px,#01f 161px,#00f 164px,#00d 172px,#00c 181px,#00c 211px,#00f 216px,#07f 222px,#07f 232px,#0ff 240px,#0fa 251px,#0fa 254px,#fff 255px,#fff 260px,#0fb 261px,#0fb 266px,#0f5 276px,#0f5 285px,#0f7 295px,#0f8 306px,#0fb 316px,#0fb 335px,#0fe 345px,#0fe 353px)"></i>
<i class=w1 style="left:203px;background:linear-gradient(#0bf 0,#0bf 11px,#07f 22px,#06f 31px,#00f 41px,#00c 51px,#00c 62px,#00a 72px,#00a 86px,#00f 87px,#00f 93px,#00c 94px,#00c 116px,#00c 119px,#00e 120px,#00e 121px,#00c 122px,#00f 131px,#00f 139px,#00f 162px,#00c 172px,#00c 181px,#00c 211px,#00f 216px,#00f 217px,#05f 222px,#05f 232px,#0ff 245px,#0fd 251px,#0fc 254px,#fff 255px,#fff 260px,#0fe 261px,#0fe 266px,#0f7 276px,#0f7 285px,#0fa 295px,#0fa 306px,#0fe 316px,#0fe 335px,#0ff 339px,#0cf 346px,#0cf 353px)"></i>
<i style="left:204px;background:linear-gradient(#0bf 0,#0bf 11px,#06f 22px,#06f 31px,#00f 41px,#00c 51px,#00c 62px,#00a 72px,#00a 86px,#00f 87px,#00f 93px,#00c 94px,#00c 116px,#00c 119px,#00e 120px,#00e 121px,#00c 122px,#00f 131px,#00f 142px,#00f 161px,#00c 172px,#00c 211px,#00f 216px,#00f 217px,#05f 222px,#05f 232px,#0ff 245px,#0fd 251px,#0fc 254px,#fff 255px,#fff 260px,#0fb 261px,#0fa 266px,#0f3 276px,#0f3 285px,#0f6 295px,#0f6 306px,#0fb 316px,#0fb 335px,#0fe 345px,#0fe 353px)"></i>
<i class=w1 style="left:206px;background:linear-gradient(#0cf 0,#0cf 11px,#07f 21px,#07f 31px,#00f 41px,#00c 51px,#00c 62px,#00a 72px,#00a 86px,#00f 87px,#00f 93px,#00c 94px,#00c 116px,#00c 119px,#00e 120px,#00e 121px,#00c 122px,#00f 131px,#00f 135px,#01f 151px,#00f 161px,#00c 172px,#00c 211px,#00f 216px,#06f 222px,#07f 232px,#0ff 241px,#0fb 251px,#0fa 254px,#fff 255px,#fff 260px,#0fb 261px,#0fa 266px,#0f3 276px,#0f3 285px,#0f6 295px,#0f6 306px,#0fb 316px,#0fb 335px,#0fe 345px,#0fe 353px)"></i>
<i style="left:207px;background:linear-gradient(#0cf 0,#0cf 11px,#08f 21px,#07f 31px,#00f 41px,#00f 42px,#00c 52px,#00c 61px,#00a 72px,#00a 86px,#00f 87px,#00f 93px,#00c 94px,#00c 116px,#00c 119px,#00e 120px,#00e 121px,#00c 122px,#00f 132px,#02f 142px,#02f 151px,#00f 162px,#00c 172px,#00c 211px,#00f 216px,#07f 221px,#08f 222px,#08f 231px,#0ff 238px,#0f9 249px,#0f8 254px,#fff 255px,#fff 260px,#0fb 261px,#0fb 266px,#0f3 276px,#0f3 285px,#0f6 295px,#0f6 306px,#0fb 316px,#0fb 326px,#0fc 335px,#0ff 345px,#0ff 353px)"></i>
<i class=w1 style="left:209px;background:linear-gradient(#0df 0,#0df 11px,#08f 21px,#08f 31px,#00f 41px,#00f 42px,#00c 52px,#00c 61px,#00a 72px,#00a 86px,#00f 87px,#00f 93px,#00c 94px,#00c 116px,#00c 119px,#00e 120px,#00e 121px,#00c 122px,#00f 131px,#03f 141px,#04f 151px,#00f 162px,#00c 172px,#00c 211px,#00f 216px,#07f 221px,#08f 222px,#08f 231px,#0ff 238px,#0f9 249px,#0f8 254px,#fff 255px,#fff 260px,#0fb 261px,#0fb 266px,#0f3 276px,#0f3 285px,#0f6 295px,#0f6 306px,#0fb 316px,#0fb 326px,#0ff 345px,#0ff 353px)"></i>
<i style="left:210px;background:linear-gradient(#0ef 0,#0ef 11px,#09f 21px,#09f 31px,#00f 41px,#00f 42px,#00c 51px,#00c 62px,#00a 72px,#00a 86px,#00f 87px,#00f 93px,#00c 94px,#00c 116px,#00c 119px,#00e 120px,#00e 121px,#00c 122px,#00f 132px,#04f 142px,#04f 151px,#01f 158px,#00c 159px,#00c 172px,#00e 173px,#00e 205px,#00c 206px,#00c 211px,#00f 216px,#06f 222px,#07f 232px,#0ff 241px,#0fb 251px,#0fa 254px,#fff 255px,#fff 260px,#0fb 261px,#0fb 266px,#0f3 276px,#0f3 285px,#0f6 295px,#0f6 306px,#0fb 316px,#0fb 325px,#0ff 345px,#0ff 353px)"></i>
<i class=w1 style="left:212px;background:linear-gradient(#0ff 0,#0ff 11px,#0af 22px,#0af 31px,#00f 41px,#00d 48px,#00c 52px,#00c 61px,#00a 72px,#00a 86px,#00f 87px,#00f 93px,#00c 94px,#00c 116px,#00c 119px,#00e 120px,#00e 121px,#00c 122px,#00f 132px,#04f 142px,#04f 151px,#01f 159px,#00c 160px,#00c 172px,#00e 173px,#00e 205px,#00c 206px,#00c 211px,#00f 216px,#06f 222px,#06f 232px,#0ff 242px,#0fc 251px,#0fb 254px,#fff 255px,#fff 260px,#0fb 261px,#0fb 266px,#0f3 276px,#0f3 285px,#0f6 295px,#0f6 306px,#0fb 316px,#0fb 325px,#0fe 336px,#0ff 353px)"></i>
<i class=w1 style="left:213px;background:linear-gradient(#0ff 0,#0ff 12px,#0af 22px,#0af 31px,#00f 41px,#00d 48px,#00c 52px,#00c 61px,#00a 72px,#00a 86px,#00f 87px,#00f 93px,#00c 94px,#00c 116px,#00c 119px,#00e 120px,#00e 121px,#00c 122px,#00f 131px,#06f 142px,#06f 152px,#02f 159px,#00c 160px,#00c 172px,#00e 173px,#00e 205px,#00c 206px,#00c 211px,#00f 216px,#07f 222px,#07f 231px,#0ff 239px,#0f9 251px,#0f9 254px,#fff 255px,#fff 260px,#0fb 261px,#0fb 266px,#0f3 276px,#0f3 285px,#0f6 295px,#0f6 306px,#0fb 316px,#0fb 326px,#0fe 336px,#0ff 353px)"></i>
<i style="left:214px;background:linear-gradient(#0fe 0,#0ff 13px,#0af 22px,#0af 31px,#00f 41px,#00c 52px,#00c 61px,#00a 72px,#00a 86px,#00f 87px,#00f 93px,#00c 94px,#00c 116px,#00c 119px,#00e 120px,#00e 121px,#00c 122px,#00f 131px,#07f 142px,#07f 152px,#02f 159px,#00c 160px,#00c 172px,#00e 173px,#00e 205px,#00c 206px,#00c 211px,#00f 216px,#07f 221px,#07f 222px,#07f 231px,#0ff 239px,#0f9 251px,#0f9 254px,#fff 255px,#fff 260px,#0df 261px,#0df 265px,#0ff 269px,#0fd 276px,#0ff 310px,#0df 316px,#0df 326px,#0bf 336px,#0bf 353px)"></i>
<i class=w1 style="left:216px;background:linear-gradient(#0ff 0,#0ff 11px,#09f 22px,#08f 31px,#00f 40px,#00f 41px,#00c 52px,#00c 61px,#00a 72px,#00a 86px,#00f 87px,#00f 93px,#00c 94px,#00c 116px,#00c 119px,#00e 120px,#00e 121px,#00c 122px,#00f 133px,#05f 142px,#05f 151px,#01f 159px,#00c 160px,#00c 172px,#00e 173px,#00e 205px,#00d 206px,#00d 211px,#00f 215px,#06f 222px,#06f 232px,#0ff 241px,#0fb 251px,#0fb 254px,#fff 255px,#fff 260px,#0cf 261px,#0df 266px,#0ff 272px,#0fe 276px,#0fe 285px,#0ff 306px,#0df 315px,#0df 326px,#0bf 336px,#0bf 353px)"></i>
<i class=w1 style="left:217px;background:linear-gradient(#0ef 0,#0ef 12px,#08f 21px,#06f 32px,#00f 40px,#00c 51px,#00c 62px,#00a 72px,#00a 86px,#00f 87px,#00f 93px,#00c 94px,#00c 116px,#00c 119px,#00e 120px,#00e 121px,#00c 122px,#00f 134px,#04f 142px,#04f 151px,#01f 159px,#00c 160px,#00c 172px,#00e 173px,#00e 205px,#00d 206px,#00d 211px,#00f 214px,#00f 215px,#06f 222px,#06f 232px,#0ff 242px,#0fb 251px,#0fb 254px,#fff 255px,#fff 260px,#0cf 261px,#0df 266px,#0ff 272px,#0fe 276px,#0fe 285px,#0ff 306px,#0df 315px,#0df 326px,#0bf 336px,#0bf 353px)"></i>
<i class=w1 style="left:218px;background:linear-gradient(#0df 0,#0df 12px,#07f 21px,#05f 31px,#00f 39px,#00c 51px,#00c 62px,#00a 72px,#00a 86px,#00f 87px,#00f 93px,#00c 94px,#00c 116px,#00c 119px,#00e 120px,#00e 121px,#00c 122px,#00f 135px,#03f 142px,#03f 151px,#01f 158px,#00c 159px,#00c 172px,#00e 173px,#00e 205px,#00d 206px,#00f 213px,#00f 214px,#06f 222px,#06f 232px,#0ff 242px,#0fb 251px,#0fb 254px,#fff 255px,#fff 260px,#0fb 261px,#0fb 266px,#0f5 276px,#0f5 285px,#0f7 295px,#0f7 305px,#0fa 315px,#0fa 326px,#0fc 336px,#0fc 353px)"></i>
<i class=w1 style="left:219px;background:linear-gradient(#0cf 0,#0cf 12px,#06f 21px,#03f 31px,#00f 37px,#00c 51px,#00c 61px,#00a 72px,#00a 86px,#00f 87px,#00f 93px,#00c 94px,#00c 116px,#00c 119px,#00e 120px,#00e 121px,#00c 122px,#00f 136px,#03f 142px,#03f 151px,#01f 158px,#00c 159px,#00c 172px,#00e 173px,#00e 206px,#00f 212px,#06f 222px,#06f 232px,#0ff 242px,#0fb 251px,#0fb 254px,#fff 255px,#fff 260px,#0fb 261px,#0fb 266px,#0f5 276px,#0f5 285px,#0f7 296px,#0f7 305px,#0f9 315px,#0fa 326px,#0fb 336px,#0fb 353px)"></i>
<i class=w1 style="left:220px;background:linear-gradient(#0bf 0,#0af 12px,#04f 22px,#00f 35px,#00c 51px,#00c 61px,#00a 72px,#00a 86px,#00f 87px,#00f 93px,#00c 94px,#00c 116px,#00c 119px,#00e 120px,#00e 121px,#00c 122px,#00d 130px,#00e 131px,#00e 133px,#00f 137px,#03f 142px,#03f 151px,#01f 157px,#00c 158px,#00c 172px,#00e 173px,#00e 205px,#00f 209px,#06f 221px,#07f 231px,#0ff 240px,#0fa 251px,#0fa 254px,#fff 255px,#fff 260px,#0fb 261px,#0fb 266px,#0f5 276px,#0f7 305px,#0f9 315px,#0f9 326px,#0fa 336px,#0fa 353px)"></i>
<i class=w1 style="left:221px;background:linear-gradient(#0af 0,#09f 12px,#03f 22px,#00f 31px,#00d 42px,#00c 62px,#00a 72px,#00a 86px,#00f 87px,#00f 93px,#00c 94px,#00c 116px,#00c 119px,#00e 120px,#00e 121px,#00c 122px,#00d 130px,#00e 131px,#00d 133px,#00f 137px,#03f 142px,#03f 151px,#01f 157px,#00c 158px,#00c 172px,#00e 173px,#00e 205px,#00f 206px,#08f 221px,#08f 231px,#0ff 238px,#0f9 249px,#0f8 254px,#fff 255px,#fff 260px,#0fb 261px,#0fa 266px,#0f6 276px,#0f7 305px,#0f8 315px,#0f8 326px,#0fa 336px,#0fa 353px)"></i>
<i class=w1 style="left:222px;background:linear-gradient(#09f 0,#09f 11px,#02f 22px,#00f 28px,#00d 42px,#00c 61px,#00a 72px,#00a 86px,#00e 87px,#00e 92px,#00f 93px,#00c 94px,#00c 116px,#00c 119px,#00e 120px,#00e 121px,#00c 122px,#00d 130px,#00e 131px,#00e 132px,#00d 133px,#00f 139px,#02f 142px,#02f 151px,#01f 157px,#00c 158px,#00c 172px,#00e 173px,#00e 205px,#01f 206px,#04f 211px,#08f 221px,#08f 231px,#0ef 237px,#0ff 238px,#0f9 249px,#0f8 254px,#fff 255px,#fff 260px,#0f9 261px,#0f9 266px,#0f5 276px,#0f5 305px,#0f7 336px,#0f7 353px)"></i>
<i class=w1 style="left:223px;background:linear-gradient(#08f 0,#08f 11px,#01f 22px,#00f 25px,#00d 32px,#00c 61px,#00a 72px,#00a 86px,#00f 87px,#00e 93px,#00c 94px,#00c 116px,#00c 119px,#00e 120px,#00e 121px,#00c 122px,#00c 130px,#00e 131px,#00e 132px,#00d 133px,#00f 140px,#01f 142px,#01f 157px,#00c 158px,#00c 172px,#00e 173px,#00e 205px,#02f 206px,#06f 212px,#08f 222px,#08f 231px,#0ef 237px,#0ff 238px,#0f9 249px,#0f8 254px,#fff 255px,#fff 260px,#0f9 261px,#0f9 266px,#0f5 276px,#0f7 353px)"></i>
<i style="left:224px;background:linear-gradient(#06f 0,#06f 11px,#00f 22px,#00c 32px,#00c 61px,#00a 72px,#00a 86px,#00f 87px,#00e 94px,#00c 95px,#00c 116px,#00c 119px,#00e 120px,#00e 121px,#00c 122px,#00c 130px,#00e 131px,#00e 132px,#00c 133px,#00f 142px,#00f 157px,#00c 158px,#00c 172px,#00e 173px,#00e 203px,#01f 204px,#05f 212px,#06f 231px,#0ff 242px,#0fb 251px,#0fb 254px,#fff 255px,#fff 260px,#0fa 261px,#0fa 266px,#0f7 276px,#0f7 353px)"></i>
<i class=w1 style="left:226px;background:linear-gradient(#07f 0,#06f 11px,#00f 21px,#00c 32px,#00c 61px,#00a 72px,#00a 86px,#00f 87px,#00e 94px,#00c 95px,#00c 116px,#00c 119px,#00e 120px,#00e 121px,#00c 122px,#00c 130px,#00e 131px,#00e 132px,#00c 133px,#00e 142px,#00e 157px,#00c 158px,#00c 159px,#00c 172px,#00e 173px,#00e 203px,#02f 204px,#08f 212px,#09f 222px,#09f 231px,#0ff 237px,#0f9 248px,#0f8 254px,#fff 255px,#fff 260px,#0fb 261px,#0fb 266px,#0f8 276px,#0f8 353px)"></i>
<i class=w1 style="left:227px;background:linear-gradient(#07f 0,#06f 11px,#00f 21px,#00c 32px,#00c 61px,#00a 72px,#00a 86px,#00f 87px,#00e 94px,#00c 95px,#00c 116px,#00c 119px,#00e 120px,#00e 121px,#00c 122px,#00c 130px,#00e 131px,#00e 132px,#00c 133px,#00e 142px,#00e 157px,#00c 158px,#00c 159px,#00c 172px,#00e 173px,#00e 203px,#02f 204px,#08f 212px,#0af 222px,#0af 231px,#0ff 236px,#0f9 247px,#0f8 251px,#0f7 254px,#fff 255px,#fff 260px,#0fb 261px,#0fb 266px,#0f7 276px,#0f7 353px)"></i>
<i class=w1 style="left:228px;background:linear-gradient(#08f 0,#06f 11px,#00f 21px,#00c 32px,#00c 61px,#00a 72px,#00a 86px,#00f 87px,#00e 94px,#00c 95px,#00c 116px,#00c 119px,#00e 120px,#00e 121px,#00c 122px,#00c 130px,#00e 131px,#00e 132px,#00c 133px,#00e 142px,#00e 155px,#00e 157px,#00c 158px,#00c 159px,#00c 172px,#00e 173px,#00e 203px,#01f 204px,#05f 212px,#08f 221px,#09f 232px,#0ff 240px,#0fb 251px,#0fa 254px,#fff 255px,#fff 260px,#0fa 261px,#0fa 266px,#0f7 276px,#0f7 353px)"></i>
<i style="left:229px;background:linear-gradient(#08f 0,#06f 11px,#00f 21px,#00c 32px,#00c 61px,#00a 72px,#00a 86px,#00f 87px,#00e 94px,#00c 95px,#00c 116px,#00c 119px,#00e 120px,#00e 121px,#00c 122px,#00c 130px,#00e 131px,#00e 132px,#00c 133px,#00d 142px,#00e 157px,#00c 158px,#00c 172px,#00e 173px,#00e 203px,#01f 204px,#05f 211px,#09f 221px,#0af 232px,#0ff 239px,#0fa 251px,#0fa 254px,#fff 255px,#fff 260px,#0f8 261px,#0f8 266px,#0f6 276px,#0f6 353px)"></i>
<i class=w1 style="left:231px;background:linear-gradient(#09f 0,#06f 11px,#00f 21px,#00c 32px,#00c 61px,#00a 72px,#00a 86px,#00f 87px,#00e 94px,#00c 95px,#00c 116px,#00c 119px,#00e 120px,#00e 121px,#00c 122px,#00c 130px,#00e 131px,#00e 132px,#00c 133px,#00d 149px,#00e 150px,#00d 155px,#00e 157px,#00c 158px,#00c 172px,#00e 173px,#00e 203px,#01f 204px,#0af 221px,#0bf 231px,#0ff 237px,#0f9 251px,#0f9 254px,#fff 255px,#fff 260px,#0f8 261px,#0f8 266px,#0f6 276px,#0f6 353px)"></i>
<i style="left:232px;background:linear-gradient(#0af 0,#06f 11px,#00f 21px,#00c 32px,#00c 61px,#00a 72px,#00a 86px,#00f 87px,#00e 94px,#00c 95px,#00c 116px,#00c 119px,#00e 120px,#00e 121px,#00c 122px,#00c 130px,#00e 131px,#00e 132px,#00c 133px,#00c 149px,#00e 150px,#00e 151px,#00c 152px,#00c 155px,#00e 156px,#00e 157px,#00c 158px,#00c 172px,#00e 173px,#00e 203px,#01f 204px,#0df 222px,#0df 231px,#0ff 234px,#0f8 251px,#0f8 254px,#fff 255px,#fff 260px,#0f8 261px,#0f8 266px,#0f6 276px,#0f6 353px)"></i>
<i style="left:234px;background:linear-gradient(#0bf 0,#0af 2px,#06f 11px,#00f 22px,#00c 32px,#00c 61px,#00a 72px,#00a 86px,#00f 87px,#00e 94px,#00c 95px,#00c 116px,#00c 119px,#00e 120px,#00e 121px,#00c 122px,#00c 130px,#00e 131px,#00e 132px,#00c 133px,#00c 149px,#00e 150px,#00e 151px,#00c 152px,#00c 155px,#00e 156px,#00e 157px,#00c 158px,#00c 172px,#00e 173px,#00e 203px,#01f 204px,#05f 211px,#0ef 222px,#0ff 232px,#0f7 251px,#0f7 254px,#fff 255px,#fff 260px,#0f8 261px,#0f8 266px,#0f6 276px,#0f6 353px)"></i>
<i class=w1 style="left:236px;background:linear-gradient(#0bf 0,#07f 11px,#00f 23px,#00c 32px,#00c 61px,#00a 72px,#00a 86px,#00f 87px,#00e 94px,#00c 95px,#00c 116px,#00c 119px,#00e 120px,#00e 121px,#00c 122px,#00c 130px,#00e 131px,#00e 132px,#00c 133px,#00c 141px,#00c 149px,#00e 150px,#00e 151px,#00c 152px,#00c 155px,#00e 156px,#00e 157px,#00c 158px,#00c 172px,#00e 173px,#00e 203px,#01f 204px,#05f 212px,#0cf 221px,#0ff 229px,#0fc 238px,#0f7 251px,#0f7 254px,#fff 255px,#fff 260px,#0f7 261px,#0f7 266px,#0f5 276px,#0f5 353px)"></i>
<i class=w1 style="left:237px;background:linear-gradient(#0bf 0,#07f 11px,#00f 24px,#00c 32px,#00c 61px,#00a 72px,#00a 86px,#00f 87px,#00e 94px,#00c 95px,#00c 116px,#00c 119px,#00e 120px,#00e 121px,#00c 122px,#00c 130px,#00e 131px,#00e 132px,#00c 133px,#00c 134px,#00c 149px,#00e 150px,#00e 151px,#00c 152px,#00c 155px,#00e 156px,#00e 157px,#00c 158px,#00c 172px,#00e 173px,#00e 203px,#01f 204px,#04f 212px,#0ff 230px,#0f8 251px,#0f8 254px,#fff 255px,#fff 260px,#0f7 261px,#0f7 266px,#0f5 276px,#0f5 353px)"></i>
<i class=w1 style="left:238px;background:linear-gradient(#0bf 0,#07f 12px,#00f 24px,#00c 32px,#00c 61px,#00a 72px,#00a 86px,#00f 87px,#00e 94px,#00c 95px,#00c 116px,#00c 119px,#00e 120px,#00e 121px,#00c 122px,#00c 130px,#00e 131px,#00e 132px,#00c 133px,#00c 149px,#00e 150px,#00e 151px,#00c 152px,#00c 155px,#00e 156px,#00e 157px,#00c 158px,#00c 172px,#00e 173px,#00e 204px,#01f 205px,#04f 212px,#09f 221px,#0ff 230px,#0fc 241px,#0f8 251px,#0f8 254px,#fff 255px,#fff 260px,#0f7 261px,#0f7 266px,#0f5 276px,#0f5 353px)"></i>
<i class=w1 style="left:239px;background:linear-gradient(#0bf 0,#08f 12px,#00f 25px,#00c 32px,#00c 61px,#00a 72px,#00a 86px,#00f 87px,#00e 94px,#00c 95px,#00c 116px,#00c 119px,#00e 120px,#00e 121px,#00c 122px,#00c 130px,#00e 131px,#00e 132px,#00c 133px,#00c 138px,#00c 149px,#00e 150px,#00e 151px,#00c 152px,#00c 155px,#00e 156px,#00e 157px,#00c 158px,#00c 172px,#00e 173px,#00e 204px,#01f 205px,#03f 212px,#07f 221px,#0ff 229px,#0fe 232px,#0fb 242px,#0f8 251px,#0f7 254px,#fff 255px,#fff 260px,#0f8 261px,#0f7 266px,#0f5 276px,#0f6 353px)"></i>
<i class=w1 style="left:240px;background:linear-gradient(#0bf 0,#08f 12px,#03f 21px,#00f 25px,#00c 32px,#00c 39px,#00e 40px,#00c 41px,#00c 61px,#00a 72px,#00a 86px,#00f 87px,#00e 94px,#00c 95px,#00c 116px,#00c 119px,#00e 120px,#00e 121px,#00c 122px,#00c 130px,#00e 131px,#00e 132px,#00c 133px,#00c 149px,#00e 150px,#00e 151px,#00c 152px,#00c 155px,#00e 156px,#00e 157px,#00c 158px,#00c 172px,#00e 173px,#00e 205px,#01f 206px,#07f 221px,#0ff 228px,#0fc 232px,#0fb 241px,#0f7 251px,#0f7 254px,#fff 255px,#fff 260px,#0f6 261px,#0f6 266px,#0f4 276px,#0f4 295px,#0f5 306px,#0f5 353px)"></i>
<i class=w1 style="left:241px;background:linear-gradient(#0bf 0,#09f 12px,#04f 21px,#00f 26px,#00c 32px,#00c 39px,#00e 40px,#00c 41px,#00c 61px,#00a 72px,#00a 86px,#00f 87px,#00e 94px,#00c 95px,#00c 116px,#00c 119px,#00e 120px,#00e 121px,#00c 122px,#00c 130px,#00e 131px,#00e 132px,#00c 133px,#00c 149px,#00e 150px,#00e 151px,#00c 152px,#00c 155px,#00e 156px,#00e 157px,#00c 158px,#00c 172px,#00e 173px,#00e 205px,#01f 206px,#05f 221px,#0ff 228px,#0fc 232px,#0fb 241px,#0f7 251px,#0f7 254px,#fff 255px,#fff 260px,#0f6 261px,#0f6 266px,#0f3 276px,#0f3 295px,#0f5 306px,#0f5 353px)"></i>
<i class=w1 style="left:242px;background:linear-gradient(#0bf 0,#09f 12px,#05f 21px,#00f 26px,#00c 32px,#00c 39px,#00e 40px,#00c 41px,#00c 61px,#00a 72px,#00a 86px,#00f 87px,#00e 94px,#00c 95px,#00c 116px,#00c 119px,#00e 120px,#00e 121px,#00c 122px,#00c 130px,#00e 131px,#00e 132px,#00c 133px,#00c 149px,#00e 150px,#00e 151px,#00c 152px,#00c 155px,#00e 156px,#00e 157px,#00c 158px,#00c 172px,#00e 173px,#00e 205px,#00f 206px,#03f 221px,#04f 222px,#0ff 228px,#0fc 232px,#0fb 241px,#0f7 251px,#0f7 254px,#fff 255px,#fff 260px,#0f5 261px,#0f5 266px,#0f2 276px,#0f2 295px,#0f3 306px,#0f3 353px)"></i>
<i class=w1 style="left:243px;background:linear-gradient(#0bf 0,#0af 12px,#05f 21px,#00f 26px,#00e 27px,#00c 32px,#00c 39px,#00e 40px,#00c 41px,#00c 61px,#00a 72px,#00a 86px,#00f 87px,#00e 94px,#00c 95px,#00c 116px,#00c 119px,#00e 120px,#00e 121px,#00c 122px,#00c 130px,#00e 131px,#00e 132px,#00c 133px,#00c 149px,#00e 150px,#00e 151px,#00c 152px,#00c 155px,#00e 156px,#00e 157px,#00c 158px,#00c 172px,#00e 173px,#00e 205px,#00f 206px,#02f 221px,#03f 222px,#0ff 228px,#0fb 232px,#0fb 241px,#0f7 251px,#0f7 254px,#fff 255px,#fff 260px,#0f5 261px,#0f5 266px,#0f2 276px,#0f2 295px,#0f3 306px,#0f3 353px)"></i>
<i style="left:244px;background:linear-gradient(#0bf 0,#0af 12px,#06f 21px,#00f 26px,#00f 27px,#00c 32px,#00c 39px,#00e 40px,#00c 41px,#00c 61px,#00a 72px,#00a 86px,#00f 87px,#00e 94px,#00c 95px,#00c 116px,#00c 119px,#00e 120px,#00e 121px,#00c 122px,#00c 130px,#00e 131px,#00e 132px,#00c 133px,#00c 149px,#00e 150px,#00e 151px,#00c 152px,#00c 155px,#00e 156px,#00e 157px,#00c 158px,#00c 172px,#00e 173px,#00e 205px,#00f 211px,#00f 221px,#02f 222px,#0ff 228px,#0fb 232px,#0fb 241px,#0f7 251px,#0f7 254px,#fff 255px,#fff 260px,#0f5 261px,#0f5 266px,#0f2 276px,#0f2 295px,#0f4 306px,#0f4 353px)"></i>
<i class=w1 style="left:246px;background:linear-gradient(#0af 0,#0af 12px,#05f 21px,#00f 26px,#00e 27px,#00c 32px,#00c 39px,#00e 40px,#00c 41px,#00c 61px,#00a 72px,#00a 86px,#00f 87px,#00e 94px,#00c 95px,#00c 116px,#00c 119px,#00e 120px,#00e 121px,#00c 122px,#00c 130px,#00e 131px,#00e 132px,#00c 133px,#00c 149px,#00e 150px,#00e 151px,#00c 152px,#00c 155px,#00e 156px,#00e 157px,#00c 158px,#00c 172px,#00e 173px,#00e 205px,#00f 212px,#02f 221px,#03f 222px,#0ef 227px,#0fe 228px,#0fa 232px,#0fb 241px,#0f7 251px,#0f7 254px,#fff 255px,#fff 260px,#0f8 261px,#0f7 266px,#0f4 276px,#0f4 295px,#0f6 306px,#0f6 353px)"></i>
<i class=w1 style="left:247px;background:linear-gradient(#0af 0,#09f 12px,#05f 21px,#00f 26px,#00c 32px,#00c 39px,#00e 40px,#00c 41px,#00c 61px,#00a 72px,#00a 86px,#00f 87px,#00e 94px,#00c 95px,#00c 116px,#00c 119px,#00e 120px,#00e 121px,#00c 122px,#00c 130px,#00e 131px,#00e 132px,#00c 133px,#00c 149px,#00e 150px,#00e 151px,#00c 152px,#00c 155px,#00e 156px,#00e 157px,#00c 158px,#00c 172px,#00e 173px,#00e 205px,#00f 212px,#03f 221px,#05f 222px,#0ff 227px,#0fa 232px,#0fb 241px,#0f7 251px,#0f7 254px,#fff 255px,#fff 260px,#0f8 261px,#0f7 266px,#0f4 276px,#0f4 295px,#0f6 306px,#0f6 353px)"></i>
<i class=w1 style="left:248px;background:linear-gradient(#09f 0,#09f 12px,#04f 21px,#00f 26px,#00c 32px,#00c 39px,#00e 40px,#00c 41px,#00c 61px,#00a 72px,#00a 86px,#00f 87px,#00e 94px,#00c 95px,#00c 116px,#00c 119px,#00e 120px,#00e 121px,#00c 122px,#00c 130px,#00e 131px,#00e 132px,#00c 133px,#00c 149px,#00e 150px,#00e 151px,#00c 152px,#00c 155px,#00e 156px,#00e 157px,#00c 158px,#00c 172px,#00e 173px,#00e 205px,#00f 212px,#05f 221px,#06f 222px,#0ff 226px,#0fe 227px,#0f9 232px,#0fb 241px,#0f7 251px,#0f7 254px,#fff 255px,#fff 260px,#0f8 261px,#0f7 266px,#0f5 276px,#0f5 295px,#0f6 306px,#0f6 353px)"></i>
<i class=w1 style="left:249px;background:linear-gradient(#09f 0,#08f 12px,#03f 21px,#00f 25px,#00c 32px,#00c 39px,#00e 40px,#00c 41px,#00c 61px,#00a 72px,#00a 86px,#00f 87px,#00e 94px,#00c 95px,#00c 116px,#00c 119px,#00e 120px,#00e 121px,#00c 122px,#00c 130px,#00e 131px,#00e 132px,#00c 133px,#00c 149px,#00e 150px,#00e 151px,#00c 152px,#00c 155px,#00e 156px,#00e 157px,#00c 158px,#00c 172px,#00e 173px,#00f 211px,#00f 212px,#06f 221px,#0ff 226px,#0f9 232px,#0fa 241px,#0f7 251px,#0f7 254px,#fff 255px,#fff 260px,#0f6 261px,#0f6 266px,#0f4 276px,#0f4 295px,#0f5 306px,#0f5 353px)"></i>
<i class=w1 style="left:250px;background:linear-gradient(#08f 0,#08f 12px,#00f 25px,#00c 32px,#00c 39px,#00e 40px,#00c 41px,#00c 61px,#00a 72px,#00a 86px,#00f 87px,#00e 94px,#00c 95px,#00c 116px,#00c 119px,#00e 120px,#00e 121px,#00c 122px,#00c 130px,#00e 131px,#00e 132px,#00c 133px,#00c 149px,#00e 150px,#00e 151px,#00c 152px,#00c 155px,#00e 156px,#00e 157px,#00c 158px,#00c 172px,#00e 173px,#00f 211px,#00f 212px,#08f 221px,#0ff 225px,#0f9 232px,#0fa 241px,#0f7 251px,#0f7 254px,#fff 255px,#fff 260px,#0f8 261px,#0f8 266px,#0f5 276px,#0f6 353px)"></i>
<i class=w1 style="left:251px;background:linear-gradient(#08f 0,#07f 12px,#00f 24px,#00c 32px,#00c 39px,#00e 40px,#00c 41px,#00c 61px,#00a 72px,#00a 86px,#00f 87px,#00e 94px,#00c 95px,#00c 116px,#00c 119px,#00e 120px,#00e 121px,#00c 122px,#00c 130px,#00e 131px,#00e 132px,#00c 133px,#00c 149px,#00e 150px,#00e 151px,#00c 152px,#00c 155px,#00e 156px,#00e 157px,#00c 158px,#00c 172px,#00e 173px,#00f 211px,#00f 212px,#09f 221px,#0ef 224px,#0fe 225px,#0f8 232px,#0fa 241px,#0f7 251px,#0f7 254px,#fff 255px,#fff 260px,#0f8 261px,#0f8 266px,#0f6 276px,#0f6 353px)"></i>
<i class=w1 style="left:252px;background:linear-gradient(#07f 0,#07f 12px,#00f 24px,#00c 32px,#00c 39px,#00e 40px,#00c 41px,#00c 61px,#00a 72px,#00a 86px,#00f 87px,#00e 94px,#00c 95px,#00c 116px,#00c 119px,#00e 120px,#00e 121px,#00c 122px,#00c 130px,#00e 131px,#00e 132px,#00c 133px,#00c 149px,#00e 150px,#00e 151px,#00c 152px,#00c 155px,#00e 156px,#00e 157px,#00c 158px,#00c 172px,#00e 173px,#00f 211px,#00f 212px,#0ff 224px,#0f8 231px,#0f8 232px,#0fa 242px,#0f7 251px,#0f7 254px,#fff 255px,#fff 260px,#0f8 261px,#0f8 266px,#0f6 276px,#0f6 353px)"></i>
<i class=w1 style="left:253px;background:linear-gradient(#07f 0,#07f 11px,#00f 23px,#00c 32px,#00c 39px,#00e 40px,#00c 41px,#00c 61px,#00a 72px,#00a 86px,#00f 87px,#00e 94px,#00c 95px,#00c 116px,#00c 119px,#00e 120px,#00e 121px,#00c 122px,#00c 130px,#00e 131px,#00e 132px,#00c 133px,#00c 149px,#00e 150px,#00e 151px,#00c 152px,#00c 155px,#00e 156px,#00e 157px,#00c 158px,#00c 172px,#00e 173px,#00f 211px,#00f 212px,#0ff 223px,#0f8 231px,#0f7 232px,#0fa 242px,#0f7 251px,#0f7 254px,#fff 255px,#fff 260px,#0f9 261px,#0f8 266px,#0f6 276px,#0f7 353px)"></i>
<i class=w1 style="left:254px;background:linear-gradient(#06f 0,#06f 11px,#00f 22px,#00c 32px,#00c 39px,#00e 40px,#00c 41px,#00c 61px,#00a 72px,#00a 86px,#00f 87px,#00e 94px,#00c 95px,#00c 116px,#00c 119px,#00e 120px,#00e 121px,#00c 122px,#00c 130px,#00e 131px,#00e 132px,#00c 133px,#00c 149px,#00e 150px,#00e 151px,#00c 152px,#00c 155px,#00e 156px,#00e 157px,#00c 158px,#00c 172px,#00e 173px,#00f 211px,#00f 212px,#0ff 222px,#0f7 231px,#0fa 242px,#0f7 251px,#0f7 254px,#fff 255px,#fff 260px,#0f6 261px,#0f6 266px,#0f4 276px,#0f4 353px)"></i>
<i class=w1 style="left:255px;background:linear-gradient(#06f 0,#06f 11px,#00f 21px,#00c 32px,#00c 39px,#00e 40px,#00c 41px,#00c 61px,#00a 72px,#00a 86px,#00f 87px,#00e 94px,#00c 95px,#00c 116px,#00c 119px,#00e 120px,#00e 121px,#00c 122px,#00c 130px,#00e 131px,#00e 132px,#00c 133px,#00c 149px,#00e 150px,#00e 151px,#00c 152px,#00c 155px,#00e 156px,#00e 157px,#00c 158px,#00c 172px,#00e 173px,#00f 211px,#00f 212px,#0ff 221px,#0f7 231px,#0fa 242px,#0f7 251px,#0f7 254px,#fff 255px,#fff 260px,#0f5 261px,#0f4 276px,#0f4 353px)"></i>
<i style="left:256px;background:linear-gradient(#05f 0,#05f 11px,#00f 21px,#00c 32px,#00c 39px,#00e 40px,#00c 41px,#00c 61px,#00a 72px,#00a 86px,#00f 87px,#00e 94px,#00c 95px,#00c 116px,#00c 119px,#00e 120px,#00e 121px,#00c 122px,#00c 130px,#00e 131px,#00e 132px,#00c 133px,#00c 149px,#00e 150px,#00e 151px,#00c 152px,#00c 155px,#00e 156px,#00e 157px,#00c 158px,#00c 172px,#00e 173px,#00f 211px,#01f 212px,#0ef 220px,#0fe 221px,#0f7 231px,#0fa 242px,#0f7 251px,#0f7 254px,#fff 255px,#fff 260px,#0f6 261px,#0f4 276px,#0f4 353px)"></i>
<i style="left:258px;background:linear-gradient(#04f 0,#04f 11px,#00f 21px,#00c 32px,#00c 39px,#00e 40px,#00c 41px,#00c 61px,#00a 72px,#00a 86px,#00f 87px,#00e 94px,#00c 95px,#00c 116px,#00c 119px,#00e 120px,#00e 121px,#00c 122px,#00c 130px,#00e 131px,#00e 132px,#00c 133px,#00c 149px,#00e 150px,#00e 151px,#00c 152px,#00c 155px,#00e 156px,#00e 157px,#00c 158px,#00c 172px,#00e 173px,#00f 211px,#01f 212px,#0ef 219px,#0ff 220px,#0f7 231px,#0fa 242px,#0f7 251px,#0f7 254px,#fff 255px,#fff 260px,#0f6 261px,#0f4 276px,#0f4 353px)"></i>
<i class=w1 style="left:260px;background:linear-gradient(#03f 0,#03f 11px,#00f 21px,#00c 32px,#00c 39px,#00e 40px,#00c 41px,#00c 61px,#00a 72px,#00a 86px,#00f 87px,#00e 94px,#00c 95px,#00c 116px,#00c 119px,#00e 120px,#00e 121px,#00c 122px,#00c 130px,#00e 131px,#00e 132px,#00c 133px,#00c 149px,#00e 150px,#00e 151px,#00c 152px,#00c 155px,#00e 156px,#00e 157px,#00c 158px,#00c 172px,#00e 173px,#00f 211px,#01f 212px,#0ff 219px,#0fc 222px,#0f7 231px,#0fa 242px,#0f7 251px,#0f7 254px,#fff 255px,#fff 260px,#0f6 261px,#0f4 276px,#0f4 353px)"></i>
<i style="left:261px;background:linear-gradient(#02f 0,#02f 11px,#00f 21px,#00c 32px,#00c 39px,#00e 40px,#00c 41px,#00c 61px,#00a 72px,#00a 86px,#00f 87px,#00e 94px,#00c 95px,#00c 116px,#00c 119px,#00e 120px,#00e 121px,#00c 122px,#00c 130px,#00e 131px,#00e 132px,#00c 133px,#00c 149px,#00e 150px,#00e 151px,#00c 152px,#00c 155px,#00e 156px,#00e 157px,#00c 158px,#00c 172px,#00e 173px,#00f 211px,#01f 212px,#0ef 218px,#0ff 219px,#0fc 222px,#0f7 231px,#0fa 242px,#0f7 251px,#0f7 254px,#fff 255px,#fff 260px,#0f7 261px,#0f5 276px,#0f5 353px)"></i>
<i class=w3 style="left:263px;background:linear-gradient(#00f 0,#00f 21px,#00c 32px,#00c 39px,#00e 40px,#00c 41px,#00c 61px,#00a 72px,#00a 86px,#00f 87px,#00e 94px,#00c 95px,#00c 116px,#00c 119px,#00e 120px,#00e 121px,#00c 122px,#00c 130px,#00e 131px,#00e 132px,#00c 133px,#00c 149px,#00e 150px,#00e 151px,#00c 152px,#00c 155px,#00e 156px,#00e 157px,#00c 158px,#00c 172px,#00e 173px,#00e 205px,#00f 211px,#01f 212px,#0ff 218px,#0fb 222px,#0f7 231px,#0fa 242px,#0f7 251px,#0f7 254px,#fff 255px,#fff 260px,#0f7 261px,#0f5 276px,#0f5 353px)"></i>
<i style="left:266px;background:linear-gradient(#00f 0,#00f 21px,#00c 32px,#00c 39px,#00e 40px,#00c 41px,#00c 61px,#00a 72px,#00a 86px,#00f 87px,#00e 94px,#00c 95px,#00c 116px,#00c 119px,#00e 120px,#00e 121px,#00c 122px,#00c 130px,#00e 131px,#00e 132px,#00c 133px,#00c 149px,#00e 150px,#00e 151px,#00c 152px,#00c 155px,#00e 156px,#00e 157px,#00c 158px,#00c 172px,#00e 173px,#00e 205px,#00f 206px,#01f 211px,#02f 212px,#0ff 218px,#0fe 219px,#0fb 222px,#0f8 231px,#0fa 242px,#0f7 251px,#0f7 254px,#fff 255px,#fff 260px,#0f7 261px,#0f5 276px,#0f5 353px)"></i>
<i class=w1 style="left:268px;background:linear-gradient(#00f 0,#00f 21px,#00c 32px,#00c 39px,#00e 40px,#00c 41px,#00c 61px,#00a 72px,#00a 86px,#00f 87px,#00e 94px,#00c 95px,#00c 116px,#00c 119px,#00e 120px,#00e 121px,#00c 122px,#00c 130px,#00e 131px,#00e 132px,#00c 133px,#00c 149px,#00e 150px,#00e 151px,#00c 152px,#00c 155px,#00e 156px,#00e 157px,#00c 158px,#00c 172px,#00e 173px,#00e 205px,#01f 206px,#02f 211px,#03f 212px,#0ef 218px,#0ff 219px,#0fc 222px,#0f8 231px,#0f9 241px,#0f7 254px,#fff 255px,#fff 260px,#0f6 261px,#0f4 276px,#0f4 353px)"></i>
<i style="left:269px;background:linear-gradient(#00f 0,#00f 21px,#00c 32px,#00c 39px,#00e 40px,#00c 41px,#00c 61px,#00a 72px,#00a 86px,#00f 87px,#00e 94px,#00c 95px,#00c 116px,#00c 119px,#00e 120px,#00e 121px,#00c 122px,#00c 130px,#00e 131px,#00e 132px,#00c 133px,#00c 138px,#00c 149px,#00e 150px,#00e 151px,#00c 152px,#00c 155px,#00e 156px,#00e 157px,#00c 158px,#00c 172px,#00e 173px,#00e 204px,#01f 206px,#03f 211px,#04f 212px,#0ff 219px,#0fc 222px,#0f9 231px,#0f9 241px,#0f7 254px,#fff 255px,#fff 260px,#0f8 261px,#0f6 276px,#0f6 353px)"></i>
<i style="left:271px;background:linear-gradient(#00f 0,#00f 21px,#00c 32px,#00c 39px,#00e 40px,#00c 41px,#00c 61px,#00a 72px,#00a 86px,#00f 87px,#00e 94px,#00c 95px,#00c 116px,#00c 119px,#00e 120px,#00e 121px,#00c 122px,#00c 130px,#00e 131px,#00e 132px,#00c 133px,#00c 134px,#00c 149px,#00e 150px,#00e 151px,#00c 152px,#00c 155px,#00e 156px,#00e 157px,#00c 158px,#00c 172px,#00e 173px,#00e 203px,#01f 205px,#04f 211px,#0ef 219px,#0ff 220px,#0f9 232px,#0f7 254px,#fff 255px,#fff 260px,#0f8 261px,#0f6 276px,#0f6 353px)"></i>
<i class=w1 style="left:273px;background:linear-gradient(#00f 0,#00f 21px,#00c 32px,#00c 39px,#00e 40px,#00c 41px,#00c 61px,#00a 72px,#00a 86px,#00f 87px,#00e 94px,#00c 95px,#00c 116px,#00c 119px,#00e 120px,#00e 121px,#00c 122px,#00c 130px,#00e 131px,#00e 132px,#00c 133px,#00c 134px,#00c 149px,#00e 150px,#00e 151px,#00c 152px,#00c 155px,#00e 156px,#00e 157px,#00c 158px,#00c 172px,#00e 173px,#00e 203px,#01f 204px,#06f 212px,#0ff 220px,#0fa 231px,#0f7 241px,#0f7 254px,#fff 255px,#fff 260px,#0f8 261px,#0f6 276px,#0f6 353px)"></i>
<i style="left:274px;background:linear-gradient(#00f 0,#00f 21px,#00c 32px,#00c 39px,#00e 40px,#00c 41px,#00c 61px,#00a 72px,#00a 86px,#00f 87px,#00e 94px,#00c 95px,#00c 116px,#00c 119px,#00e 120px,#00e 121px,#00c 122px,#00c 130px,#00e 131px,#00e 132px,#00c 133px,#00c 134px,#00c 149px,#00e 150px,#00e 151px,#00c 152px,#00c 155px,#00e 156px,#00e 157px,#00c 158px,#00c 172px,#00e 173px,#00e 203px,#01f 204px,#06f 212px,#0ff 221px,#0f7 241px,#0f7 254px,#fff 255px,#fff 260px,#0f5 261px,#0f3 276px,#0f3 353px)"></i>
<i class=w3 style="left:276px;background:linear-gradient(#00f 0,#00f 21px,#00c 32px,#00c 39px,#00e 40px,#00c 41px,#00c 61px,#00a 72px,#00a 86px,#00f 87px,#00e 94px,#00c 95px,#00c 116px,#00c 119px,#00e 120px,#00e 121px,#00c 122px,#00c 130px,#00e 131px,#00e 132px,#00c 133px,#00c 134px,#00c 149px,#00e 150px,#00e 151px,#00c 152px,#00c 155px,#00e 156px,#00e 157px,#00c 158px,#00c 172px,#00e 173px,#00e 203px,#01f 204px,#07f 212px,#0ff 221px,#0f7 241px,#0f7 254px,#fff 255px,#fff 260px,#0f8 261px,#0f6 276px,#0f6 353px)"></i>
<i style="left:279px;background:linear-gradient(#00f 0,#00f 21px,#00c 32px,#00c 39px,#00e 40px,#00c 41px,#00c 61px,#00a 72px,#00a 86px,#00f 87px,#00e 94px,#00c 95px,#00c 116px,#00c 119px,#00e 120px,#00e 121px,#00c 122px,#00c 130px,#00e 131px,#00e 132px,#00c 133px,#00c 134px,#00c 149px,#00e 150px,#00e 151px,#00c 152px,#00c 155px,#00e 156px,#00e 157px,#00c 158px,#00c 172px,#00e 173px,#00e 203px,#01f 204px,#07f 212px,#0ff 221px,#0f7 241px,#0f7 254px,#fff 255px,#fff 260px,#0f7 261px,#0f6 276px,#0f6 353px)"></i>
<i class=w3 style="left:281px;background:linear-gradient(#00f 0,#00f 21px,#00c 32px,#00c 39px,#00e 40px,#00c 41px,#00c 61px,#00a 72px,#00a 86px,#00f 87px,#00e 94px,#00c 95px,#00c 116px,#00c 119px,#00e 120px,#00e 121px,#00c 122px,#00c 130px,#00e 131px,#00e 132px,#00c 133px,#00c 134px,#00c 149px,#00e 150px,#00e 151px,#00c 152px,#00c 155px,#00e 156px,#00e 157px,#00c 158px,#00c 172px,#00e 173px,#00e 203px,#01f 204px,#07f 212px,#0ff 221px,#0f7 241px,#0f7 254px,#fff 255px,#fff 260px,#0f6 261px,#0f4 276px,#0f4 353px)"></i>
<i class=w3 style="left:284px;background:linear-gradient(#00f 0,#00f 21px,#00c 32px,#00c 39px,#00e 40px,#00c 41px,#00c 61px,#00a 72px,#00a 86px,#00f 87px,#00e 94px,#00c 95px,#00c 116px,#00c 119px,#00e 120px,#00e 121px,#00c 122px,#00c 130px,#00e 131px,#00e 132px,#00c 133px,#00c 134px,#00c 149px,#00e 150px,#00e 151px,#00c 152px,#00c 155px,#00e 156px,#00e 157px,#00c 158px,#00c 172px,#00e 173px,#00e 203px,#01f 204px,#07f 212px,#0ff 221px,#0f7 241px,#0f7 254px,#fff 255px,#fff 260px,#0f6 261px,#0f5 276px,#0f5 353px)"></i>
<i style="left:287px;background:linear-gradient(#02f 0,#02f 11px,#00f 21px,#00c 32px,#00c 39px,#00e 40px,#00c 41px,#00c 61px,#00a 72px,#00a 86px,#00f 87px,#00e 94px,#00c 95px,#00c 116px,#00c 119px,#00e 120px,#00e 121px,#00c 122px,#00c 130px,#00e 131px,#00e 132px,#00c 133px,#00c 134px,#00c 149px,#00e 150px,#00e 151px,#00c 152px,#00c 155px,#00e 156px,#00e 157px,#00c 158px,#00c 172px,#00e 173px,#00e 203px,#01f 204px,#07f 212px,#0ff 221px,#0f7 241px,#0f7 254px,#fff 255px,#fff 260px,#0f6 261px,#0f4 276px,#0f4 353px)"></i>
<i style="left:289px;background:linear-gradient(#03f 0,#03f 11px,#00f 21px,#00c 32px,#00c 39px,#00e 40px,#00c 41px,#00c 61px,#00a 72px,#00a 86px,#00f 87px,#00e 94px,#00c 95px,#00c 116px,#00c 119px,#00e 120px,#00e 121px,#00c 122px,#00c 130px,#00e 131px,#00e 132px,#00c 133px,#00c 134px,#00c 149px,#00e 150px,#00e 151px,#00c 152px,#00c 155px,#00e 156px,#00e 157px,#00c 158px,#00c 172px,#00e 173px,#00e 203px,#01f 204px,#07f 212px,#0ff 221px,#0f7 241px,#0f7 254px,#fff 255px,#fff 260px,#0f7 261px,#0f5 276px,#0f5 353px)"></i>
<i style="left:291px;background:linear-gradient(#04f 0,#04f 11px,#00f 21px,#00c 32px,#00c 39px,#00e 40px,#00c 41px,#00c 61px,#00a 72px,#00a 86px,#00f 87px,#00e 94px,#00c 95px,#00c 116px,#00c 119px,#00e 120px,#00e 121px,#00c 122px,#00c 130px,#00e 131px,#00e 132px,#00c 133px,#00c 134px,#00c 149px,#00e 150px,#00e 151px,#00c 152px,#00c 155px,#00e 156px,#00e 157px,#00c 158px,#00c 172px,#00e 173px,#00e 203px,#01f 204px,#07f 212px,#0ff 221px,#0f7 241px,#0f7 254px,#fff 255px,#fff 260px,#0f7 261px,#0f5 276px,#0f5 353px)"></i>
<i class=w3 style="left:293px;background:linear-gradient(#06f 0,#06f 11px,#00f 21px,#00c 32px,#00c 39px,#00e 40px,#00c 41px,#00c 61px,#00a 72px,#00a 86px,#00f 87px,#00e 94px,#00c 95px,#00c 116px,#00c 119px,#00e 120px,#00e 121px,#00c 122px,#00c 130px,#00e 131px,#00e 132px,#00c 133px,#00c 134px,#00c 149px,#00e 150px,#00e 151px,#00c 152px,#00c 155px,#00e 156px,#00e 157px,#00c 158px,#00c 172px,#00e 173px,#00e 203px,#01f 204px,#07f 212px,#0ff 221px,#0f7 241px,#0f7 254px,#fff 255px,#fff 260px,#0f6 261px,#0f4 276px,#0f4 353px)"></i>
<i style="left:296px;background:linear-gradient(#05f 0,#05f 11px,#00f 21px,#00c 32px,#00c 39px,#00e 40px,#00c 41px,#00c 61px,#00a 72px,#00a 86px,#00f 87px,#00e 94px,#00c 95px,#00c 116px,#00c 119px,#00e 120px,#00e 121px,#00c 122px,#00c 130px,#00e 131px,#00e 132px,#00c 133px,#00c 134px,#00c 149px,#00e 150px,#00e 151px,#00c 152px,#00c 155px,#00e 156px,#00e 157px,#00c 158px,#00c 172px,#00e 173px,#00e 203px,#01f 204px,#07f 212px,#0ff 221px,#0f7 241px,#0f7 254px,#fff 255px,#fff 260px,#0f6 261px,#0f4 276px,#0f4 353px)"></i>
<i style="left:298px;background:linear-gradient(#04f 0,#04f 11px,#00f 21px,#00c 32px,#00c 39px,#00e 40px,#00c 41px,#00c 61px,#00a 72px,#00a 86px,#00f 87px,#00e 94px,#00c 95px,#00c 116px,#00c 119px,#00e 120px,#00e 121px,#00c 122px,#00c 130px,#00e 131px,#00e 132px,#00c 133px,#00c 134px,#00c 149px,#00e 150px,#00e 151px,#00c 152px,#00c 155px,#00e 156px,#00e 157px,#00c 158px,#00c 172px,#00e 173px,#00e 203px,#01f 204px,#07f 212px,#0ff 221px,#0f7 241px,#0f7 254px,#fff 255px,#fff 260px,#0f6 261px,#0f4 276px,#0f4 353px)"></i>
<i style="left:300px;background:linear-gradient(#02f 0,#02f 11px,#00f 21px,#00c 32px,#00c 39px,#00e 40px,#00c 41px,#00c 61px,#00a 72px,#00a 86px,#00f 87px,#00e 94px,#00c 95px,#00c 116px,#00c 119px,#00e 120px,#00e 121px,#00c 122px,#00c 130px,#00e 131px,#00e 132px,#00c 133px,#00c 134px,#00c 149px,#00e 150px,#00e 151px,#00c 152px,#00c 155px,#00e 156px,#00e 157px,#00c 158px,#00c 172px,#00e 173px,#00e 203px,#01f 204px,#07f 212px,#0ff 221px,#0f7 241px,#0f7 254px,#fff 255px,#fff 260px,#0f6 261px,#0f4 276px,#0f4 353px)"></i>
<i style="left:302px;background:linear-gradient(#01f 0,#00f 21px,#00c 32px,#00c 39px,#00e 40px,#00c 41px,#00c 61px,#00a 72px,#00a 86px,#00f 87px,#00e 94px,#00c 95px,#00c 116px,#00c 119px,#00e 120px,#00e 121px,#00c 122px,#00c 130px,#00e 131px,#00e 132px,#00c 133px,#00c 134px,#00c 149px,#00e 150px,#00e 151px,#00c 152px,#00c 155px,#00e 156px,#00e 157px,#00c 158px,#00c 172px,#00e 173px,#00e 203px,#01f 204px,#07f 212px,#0ff 221px,#0f7 241px,#0f7 254px,#fff 255px,#fff 260px,#0f6 261px,#0f4 276px,#0f4 353px)"></i>
<i class=w3 style="left:304px;background:linear-gradient(#00f 0,#00f 21px,#00c 32px,#00c 39px,#00e 40px,#00c 41px,#00c 61px,#00a 72px,#00a 86px,#00f 87px,#00e 94px,#00c 95px,#00c 116px,#00c 119px,#00e 120px,#00e 121px,#00c 122px,#00c 130px,#00e 131px,#00e 132px,#00c 133px,#00c 134px,#00c 149px,#00e 150px,#00e 151px,#00c 152px,#00c 155px,#00e 156px,#00e 157px,#00c 158px,#00c 172px,#00e 173px,#00e 203px,#01f 204px,#07f 212px,#0ff 221px,#0f7 241px,#0f7 254px,#fff 255px,#fff 260px,#0f6 261px,#0f4 276px,#0f4 353px)"></i>
<i class=w3 style="left:307px;background:linear-gradient(#00f 0,#00f 21px,#00c 32px,#00c 39px,#00e 40px,#00c 41px,#00c 61px,#00a 72px,#00a 86px,#00f 87px,#00e 94px,#00c 95px,#00c 116px,#00c 119px,#00e 120px,#00e 121px,#00c 122px,#00c 130px,#00e 131px,#00e 132px,#00c 133px,#00c 134px,#00c 149px,#00e 150px,#00e 151px,#00c 152px,#00c 155px,#00e 156px,#00e 157px,#00c 158px,#00c 172px,#00e 173px,#00e 203px,#01f 204px,#07f 212px,#0ff 221px,#0f7 241px,#0f7 254px,#fff 255px,#fff 260px,#0f7 261px,#0f5 276px,#0f5 353px)"></i>
<i style="left:310px;background:linear-gradient(#00f 0,#00f 21px,#00c 32px,#00c 39px,#00e 40px,#00c 41px,#00c 61px,#00a 72px,#00a 86px,#00f 87px,#00e 94px,#00c 95px,#00c 116px,#00c 119px,#00e 120px,#00e 121px,#00c 122px,#00c 130px,#00e 131px,#00e 132px,#00c 133px,#00c 134px,#00c 149px,#00e 150px,#00e 151px,#00c 152px,#00c 155px,#00e 156px,#00e 157px,#00c 158px,#00c 172px,#00e 173px,#00e 203px,#01f 204px,#07f 212px,#0ff 221px,#0f7 241px,#0f7 254px,#fff 255px,#fff 260px,#0f7 261px,#0f5 276px,#0f5 353px)"></i>
<i class=w3 style="left:312px;background:linear-gradient(#00f 0,#00f 21px,#00c 32px,#00c 39px,#00e 40px,#00c 41px,#00c 61px,#00a 72px,#00a 86px,#00f 87px,#00e 94px,#00c 95px,#00c 116px,#00c 119px,#00e 120px,#00e 121px,#00c 122px,#00c 130px,#00e 131px,#00e 132px,#00c 133px,#00c 134px,#00c 149px,#00e 150px,#00e 151px,#00c 152px,#00c 155px,#00e 156px,#00e 157px,#00c 158px,#00c 172px,#00e 173px,#00e 203px,#01f 204px,#07f 212px,#0ff 221px,#0f7 241px,#0f7 254px,#fff 255px,#fff 260px,#0f7 261px,#0f5 276px,#0f5 353px)"></i>
<i style="left:315px;background:linear-gradient(#00f 0,#00f 21px,#00c 32px,#00c 39px,#00e 40px,#00c 41px,#00c 61px,#00a 72px,#00a 86px,#00f 87px,#00e 94px,#00c 95px,#00c 116px,#00c 119px,#00e 120px,#00e 121px,#00c 122px,#00c 130px,#00e 131px,#00e 132px,#00c 133px,#00c 134px,#00c 149px,#00e 150px,#00e 151px,#00c 152px,#00c 155px,#00e 156px,#00e 157px,#00c 158px,#00c 172px,#00e 173px,#00e 203px,#01f 204px,#07f 212px,#0ff 221px,#0f7 241px,#0f7 254px,#fff 255px,#fff 260px,#0f7 261px,#0f5 276px,#0f5 353px)"></i>
<i style="left:317px;background:linear-gradient(#00f 0,#02f 11px,#00f 21px,#00c 32px,#00c 39px,#00e 40px,#00c 41px,#00c 61px,#00a 72px,#00a 86px,#00f 87px,#00e 94px,#00c 95px,#00c 116px,#00c 119px,#00e 120px,#00e 121px,#00c 122px,#00c 130px,#00e 131px,#00e 132px,#00c 133px,#00c 134px,#00c 149px,#00e 150px,#00e 151px,#00c 152px,#00c 155px,#00e 156px,#00e 157px,#00c 158px,#00c 172px,#00e 173px,#00e 203px,#01f 204px,#07f 212px,#0ff 221px,#0f7 241px,#0f7 254px,#fff 255px,#fff 260px,#0f6 261px,#0f4 276px,#0f4 353px)"></i>
<i style="left:319px;background:linear-gradient(#00f 0,#00f 3px,#03f 11px,#00f 21px,#00c 32px,#00c 39px,#00e 40px,#00c 41px,#00c 61px,#00a 72px,#00a 86px,#00f 87px,#00e 94px,#00c 95px,#00c 116px,#00c 119px,#00e 120px,#00e 121px,#00c 122px,#00c 130px,#00e 131px,#00e 132px,#00c 133px,#00c 134px,#00c 149px,#00e 150px,#00e 151px,#00c 152px,#00c 155px,#00e 156px,#00e 157px,#00c 158px,#00c 172px,#00e 173px,#00e 203px,#01f 204px,#07f 212px,#0ff 221px,#0f7 241px,#0f7 254px,#fff 255px,#fff 260px,#0f6 261px,#0f4 276px,#0f4 353px)"></i>
<i style="left:321px;background:linear-gradient(#00f 0,#00f 2px,#04f 11px,#00f 21px,#00c 32px,#00c 39px,#00e 40px,#00c 41px,#00c 61px,#00a 72px,#00a 86px,#00f 87px,#00e 94px,#00c 95px,#00c 116px,#00c 119px,#00e 120px,#00e 121px,#00c 122px,#00c 130px,#00e 131px,#00e 132px,#00c 133px,#00c 134px,#00c 149px,#00e 150px,#00e 151px,#00c 152px,#00c 155px,#00e 156px,#00e 157px,#00c 158px,#00c 172px,#00e 173px,#00e 203px,#01f 204px,#07f 212px,#0ff 221px,#0f7 241px,#0f7 254px,#fff 255px,#fff 260px,#0f5 261px,#0f3 276px,#0f3 353px)"></i>
<i class=w1 style="left:323px;background:linear-gradient(#00f 0,#00f 2px,#05f 11px,#00f 21px,#00c 32px,#00c 39px,#00e 40px,#00c 41px,#00c 61px,#00a 72px,#00a 86px,#00f 87px,#00e 94px,#00c 95px,#00c 116px,#00c 119px,#00e 120px,#00e 121px,#00c 122px,#00c 130px,#00e 131px,#00e 132px,#00c 133px,#00c 134px,#00c 149px,#00e 150px,#00e 151px,#00c 152px,#00c 155px,#00e 156px,#00e 157px,#00c 158px,#00c 172px,#00e 173px,#00e 203px,#01f 204px,#07f 212px,#0ff 221px,#0f7 241px,#0f7 254px,#fff 255px,#fff 260px,#0f9 261px,#0f7 276px,#0f7 353px)"></i>
<i style="left:324px;background:linear-gradient(#00f 0,#00f 2px,#05f 11px,#05f 12px,#00f 22px,#00c 32px,#00c 39px,#00e 40px,#00c 41px,#00c 61px,#00a 72px,#00a 86px,#00f 87px,#00e 94px,#00c 95px,#00c 116px,#00c 119px,#00e 120px,#00e 121px,#00c 122px,#00c 130px,#00e 131px,#00e 132px,#00c 133px,#00c 134px,#00c 149px,#00e 150px,#00e 151px,#00c 152px,#00c 155px,#00e 156px,#00e 157px,#00c 158px,#00c 172px,#00e 173px,#00e 203px,#01f 204px,#07f 212px,#0ff 221px,#0f7 241px,#0f7 254px,#fff 255px,#fff 260px,#0f6 261px,#0f4 276px,#0f4 353px)"></i>
<i style="left:326px;background:linear-gradient(#00f 0,#00f 2px,#05f 12px,#00f 24px,#00c 32px,#00c 39px,#00e 40px,#00c 41px,#00c 61px,#00a 72px,#00a 86px,#00f 87px,#00e 94px,#00c 95px,#00c 116px,#00c 119px,#00e 120px,#00e 121px,#00c 122px,#00c 130px,#00e 131px,#00e 132px,#00c 133px,#00c 134px,#00c 149px,#00e 150px,#00e 151px,#00c 152px,#00c 155px,#00e 156px,#00e 157px,#00c 158px,#00c 172px,#00e 173px,#00e 203px,#02f 204px,#0ff 221px,#0f7 241px,#0f7 254px,#fff 255px,#fff 260px,#0f7 261px,#0f5 276px,#0f5 353px)"></i>
<i style="left:328px;background:linear-gradient(#00f 0,#00f 3px,#03f 12px,#02f 21px,#00f 25px,#00c 32px,#00c 39px,#00e 40px,#00c 41px,#00c 61px,#00a 72px,#00a 86px,#00f 87px,#00e 94px,#00c 95px,#00c 116px,#00c 119px,#00e 120px,#00e 121px,#00c 122px,#00c 130px,#00e 131px,#00e 132px,#00c 133px,#00c 134px,#00c 149px,#00e 150px,#00e 151px,#00c 152px,#00c 155px,#00e 156px,#00e 157px,#00c 158px,#00c 172px,#00e 173px,#00e 202px,#01f 203px,#0ff 221px,#0f7 241px,#0f7 254px,#fff 255px,#fff 260px,#0f7 261px,#0f5 276px,#0f5 353px)"></i>
<i style="left:330px;background:linear-gradient(#00f 0,#03f 21px,#00f 26px,#00c 32px,#00c 39px,#00e 40px,#00c 41px,#00c 61px,#00a 72px,#00a 86px,#00f 87px,#00e 94px,#00c 95px,#00c 116px,#00c 119px,#00e 120px,#00e 121px,#00c 122px,#00c 130px,#00e 131px,#00e 132px,#00c 133px,#00c 134px,#00c 149px,#00e 150px,#00e 151px,#00c 152px,#00c 155px,#00e 156px,#00e 157px,#00c 158px,#00c 172px,#00e 173px,#00e 202px,#01f 203px,#08f 211px,#0ff 221px,#0f7 241px,#0f7 254px,#fff 255px,#fff 260px,#0f6 261px,#0f5 276px,#0f5 353px)"></i>
<i class=w1 style="left:332px;background:linear-gradient(#00f 0,#01f 11px,#04f 21px,#00f 26px,#00c 32px,#00c 39px,#00e 40px,#00c 41px,#00c 61px,#00a 72px,#00a 86px,#00f 87px,#00e 94px,#00c 95px,#00c 116px,#00c 119px,#00e 120px,#00e 121px,#00c 122px,#00c 130px,#00e 131px,#00e 132px,#00c 133px,#00c 134px,#00c 149px,#00e 150px,#00e 151px,#00c 152px,#00c 155px,#00e 156px,#00e 157px,#00c 158px,#00c 172px,#00e 173px,#00e 202px,#01f 203px,#09f 211px,#0ff 221px,#0f7 241px,#0f7 254px,#fff 255px,#fff 260px,#0f6 261px,#0f4 276px,#0f4 353px)"></i>
<i class=w1 style="left:333px;background:linear-gradient(#00f 0,#01f 11px,#05f 21px,#05f 22px,#00f 26px,#00e 27px,#00c 32px,#00c 39px,#00e 40px,#00c 41px,#00c 61px,#00a 72px,#00a 86px,#00f 87px,#00e 94px,#00c 95px,#00c 116px,#00c 119px,#00e 120px,#00e 121px,#00c 122px,#00c 130px,#00e 131px,#00e 132px,#00c 133px,#00c 134px,#00c 149px,#00e 150px,#00e 151px,#00c 152px,#00c 155px,#00e 156px,#00e 157px,#00c 158px,#00c 172px,#00e 173px,#00e 202px,#01f 203px,#09f 211px,#0ff 221px,#0f7 241px,#0f7 254px,#fff 255px,#fff 260px,#0f8 261px,#0f6 276px,#0f6 353px)"></i>
<i style="left:334px;background:linear-gradient(#00f 0,#00f 12px,#06f 21px,#05f 22px,#01f 26px,#00f 27px,#00c 32px,#00c 39px,#00e 40px,#00c 41px,#00c 61px,#00a 72px,#00a 86px,#00f 87px,#00e 94px,#00c 95px,#00c 116px,#00c 119px,#00e 120px,#00e 121px,#00c 122px,#00c 130px,#00e 131px,#00e 132px,#00c 133px,#00c 134px,#00c 149px,#00e 150px,#00e 151px,#00c 152px,#00c 155px,#00e 156px,#00e 157px,#00c 158px,#00c 172px,#00e 173px,#00e 202px,#01f 203px,#0af 211px,#0ff 221px,#0f7 241px,#0f7 254px,#fff 255px,#fff 260px,#0f8 261px,#0f6 276px,#0f6 353px)"></i>
<i class=w3 style="left:336px;background:linear-gradient(#00f 0,#00f 12px,#06f 21px,#05f 22px,#00f 27px,#00c 32px,#00c 39px,#00e 40px,#00c 41px,#00c 61px,#00a 72px,#00a 86px,#00f 87px,#00e 94px,#00c 95px,#00c 116px,#00c 119px,#00e 120px,#00e 121px,#00c 122px,#00c 130px,#00e 131px,#00e 132px,#00c 133px,#00c 149px,#00e 150px,#00e 151px,#00c 152px,#00c 155px,#00e 156px,#00e 157px,#00c 158px,#00c 172px,#00e 173px,#00e 202px,#02f 203px,#0bf 211px,#0ff 220px,#0f9 232px,#0f7 241px,#0f6 254px,#fff 255px,#fff 260px,#0f5 261px,#0f3 276px,#0f3 353px)"></i>
<i style="left:339px;background:linear-gradient(#00f 0,#00f 12px,#06f 21px,#05f 22px,#00f 27px,#00c 32px,#00c 39px,#00e 40px,#00c 41px,#00c 61px,#00a 72px,#00a 86px,#00f 87px,#00e 94px,#00c 95px,#00c 116px,#00c 119px,#00e 120px,#00e 121px,#00c 122px,#00c 130px,#00e 131px,#00e 132px,#00c 133px,#00c 134px,#00c 149px,#00e 150px,#00e 151px,#00c 152px,#00c 155px,#00e 156px,#00e 157px,#00c 158px,#00c 172px,#00e 173px,#00e 202px,#02f 203px,#0df 212px,#0ff 221px,#0f8 232px,#0f4 254px,#fff 255px,#fff 260px,#0f9 261px,#0f7 276px,#0f7 353px)"></i>
<i class=w3 style="left:341px;background:linear-gradient(#00f 0,#00f 12px,#06f 21px,#05f 22px,#00f 27px,#00c 32px,#00c 39px,#00e 40px,#00c 41px,#00c 61px,#00a 72px,#00a 86px,#00f 87px,#00e 94px,#00c 95px,#00c 116px,#00c 119px,#00e 120px,#00e 121px,#00c 122px,#00c 130px,#00e 131px,#00e 132px,#00c 133px,#00c 149px,#00e 150px,#00e 151px,#00c 152px,#00c 155px,#00e 156px,#00e 157px,#00c 158px,#00c 172px,#00e 173px,#00e 202px,#02f 203px,#0df 211px,#0ef 212px,#0ff 221px,#0f8 232px,#0f7 241px,#0f4 251px,#0f3 254px,#fff 255px,#fff 260px,#0f5 261px,#0f3 276px,#0f3 353px)"></i>
<i class=w1 style="left:344px;background:linear-gradient(#00f 0,#00f 12px,#06f 21px,#05f 22px,#00f 27px,#00c 32px,#00c 39px,#00e 40px,#00c 41px,#00c 61px,#00a 72px,#00a 86px,#00f 87px,#00e 94px,#00c 95px,#00c 116px,#00c 119px,#00e 120px,#00e 121px,#00c 122px,#00c 130px,#00e 131px,#00e 132px,#00c 133px,#00c 134px,#00c 149px,#00e 150px,#00e 151px,#00c 152px,#00c 155px,#00e 156px,#00e 157px,#00c 158px,#00c 172px,#00e 173px,#00e 202px,#02f 203px,#0ef 211px,#0ff 212px,#0ff 221px,#0f7 232px,#0f7 241px,#0f3 251px,#0f3 254px,#fff 255px,#fff 260px,#0f8 261px,#0f6 276px,#0f6 353px)"></i>
<i style="left:345px;background:linear-gradient(#00f 0,#00f 12px,#06f 21px,#05f 22px,#00f 27px,#00c 32px,#00c 39px,#00e 40px,#00c 41px,#00c 61px,#00a 72px,#00a 86px,#00f 87px,#00e 94px,#00c 95px,#00c 116px,#00c 119px,#00e 120px,#00e 121px,#00c 122px,#00c 130px,#00e 131px,#00e 132px,#00c 133px,#00c 134px,#00c 149px,#00e 150px,#00e 151px,#00c 152px,#00c 155px,#00e 156px,#00e 157px,#00c 158px,#00c 172px,#00e 173px,#00e 202px,#02f 203px,#0ff 211px,#0ff 212px,#0fe 221px,#0f7 232px,#0f7 241px,#0f3 251px,#0f2 254px,#fff 255px,#fff 260px,#0f5 261px,#0f3 276px,#0f3 353px)"></i>
<i style="left:347px;background:linear-gradient(#00f 0,#00f 12px,#06f 21px,#05f 22px,#00f 27px,#00c 32px,#00c 39px,#00e 40px,#00c 41px,#00c 61px,#00a 72px,#00a 86px,#00f 87px,#00e 94px,#00c 95px,#00c 116px,#00c 119px,#00e 120px,#00e 121px,#00c 122px,#00c 130px,#00e 131px,#00e 132px,#00c 133px,#00c 134px,#00c 149px,#00e 150px,#00e 151px,#00c 152px,#00c 155px,#00e 156px,#00e 157px,#00c 158px,#00c 172px,#00e 173px,#00e 202px,#02f 203px,#0ff 211px,#0ff 212px,#0fe 221px,#0f7 232px,#0f7 241px,#0f3 251px,#0f2 254px,#fff 255px,#fff 260px,#0f6 261px,#0f4 276px,#0f4 353px)"></i>
<i class=w3 style="left:349px;background:linear-gradient(#00f 0,#00f 12px,#06f 21px,#05f 22px,#00f 27px,#00c 32px,#00c 39px,#00e 40px,#00c 41px,#00c 61px,#00a 72px,#00a 86px,#00f 87px,#00e 94px,#00c 95px,#00c 116px,#00c 119px,#00e 120px,#00e 121px,#00c 122px,#00c 130px,#00e 131px,#00e 132px,#00c 133px,#00c 149px,#00e 150px,#00e 151px,#00c 152px,#00c 155px,#00e 156px,#00e 157px,#00c 158px,#00c 172px,#00e 173px,#00e 202px,#02f 203px,#0ff 211px,#0ff 212px,#0fc 222px,#0f7 231px,#0f7 241px,#0f3 251px,#0f2 254px,#fff 255px,#fff 260px,#0f7 261px,#0f6 276px,#0f6 353px)"></i>
<i class=w1 style="left:352px;background:linear-gradient(#00f 0,#00f 12px,#06f 21px,#05f 22px,#00f 27px,#00c 32px,#00c 39px,#00e 40px,#00c 41px,#00c 61px,#00a 72px,#00a 86px,#00f 87px,#00e 94px,#00c 95px,#00c 116px,#00c 119px,#00e 120px,#00e 121px,#00c 122px,#00c 130px,#00e 131px,#00e 132px,#00c 133px,#00c 134px,#00c 149px,#00e 150px,#00e 151px,#00c 152px,#00c 155px,#00e 156px,#00e 157px,#00c 158px,#00c 172px,#00e 173px,#00e 202px,#02f 203px,#0ff 211px,#0ff 212px,#0fb 222px,#0f7 231px,#0f7 241px,#0f3 251px,#0f2 254px,#fff 255px,#fff 260px,#0f8 261px,#0f6 276px,#0f6 353px)"></i>
<i class=w3 style="left:353px;background:linear-gradient(#00f 0,#00f 12px,#06f 21px,#05f 22px,#01f 26px,#00f 27px,#00c 32px,#00c 39px,#00e 40px,#00c 41px,#00c 61px,#00a 72px,#00a 86px,#00f 87px,#00e 94px,#00c 95px,#00c 116px,#00c 119px,#00e 120px,#00e 121px,#00c 122px,#00c 130px,#00e 131px,#00e 132px,#00c 133px,#00c 149px,#00e 150px,#00e 151px,#00c 152px,#00c 155px,#00e 156px,#00e 157px,#00c 158px,#00c 172px,#00e 173px,#00e 202px,#02f 203px,#0ff 211px,#0ff 212px,#0f7 231px,#0f7 241px,#0f3 251px,#0f2 254px,#fff 255px,#fff 260px,#0f6 261px,#0f4 276px,#0f4 353px)"></i>
<i style="left:356px;background:linear-gradient(#00e 0,#00e 11px,#00f 14px,#04f 21px,#04f 22px,#00f 26px,#00c 32px,#00c 39px,#00e 40px,#00c 41px,#00c 61px,#00a 72px,#00a 86px,#00f 87px,#00e 94px,#00c 95px,#00c 116px,#00c 119px,#00e 120px,#00e 121px,#00c 122px,#00c 130px,#00e 131px,#00e 132px,#00c 133px,#00c 134px,#00c 149px,#00e 150px,#00e 151px,#00c 152px,#00c 155px,#00e 156px,#00e 157px,#00c 158px,#00c 172px,#00e 173px,#00e 202px,#02f 203px,#0ff 211px,#0ff 212px,#0f7 231px,#0f7 241px,#0f3 251px,#0f2 254px,#fff 255px,#fff 260px,#0f5 261px,#0f3 276px,#0f3 353px)"></i>
<i style="left:358px;background:linear-gradient(#00e 0,#00e 11px,#00f 15px,#03f 21px,#00f 26px,#00c 32px,#00c 39px,#00e 40px,#00c 41px,#00c 61px,#00a 72px,#00a 86px,#00f 87px,#00e 94px,#00c 95px,#00c 116px,#00c 119px,#00e 120px,#00e 121px,#00c 122px,#00c 130px,#00e 131px,#00e 132px,#00c 133px,#00c 134px,#00c 149px,#00e 150px,#00e 151px,#00c 152px,#00c 155px,#00e 156px,#00e 157px,#00c 158px,#00c 172px,#00e 173px,#00e 202px,#02f 203px,#0ff 211px,#0ff 212px,#0f7 231px,#0f7 241px,#0f3 251px,#0f2 254px,#fff 255px,#fff 260px,#0f7 261px,#0f5 276px,#0f5 353px)"></i>
<i style="left:360px;background:linear-gradient(#00d 0,#00d 11px,#00f 17px,#02f 21px,#00f 24px,#00c 32px,#00c 39px,#00e 40px,#00c 41px,#00c 61px,#00a 72px,#00a 86px,#00f 87px,#00e 94px,#00c 95px,#00c 116px,#00c 119px,#00e 120px,#00e 121px,#00c 122px,#00c 130px,#00e 131px,#00e 132px,#00c 133px,#00c 134px,#00c 149px,#00e 150px,#00e 151px,#00c 152px,#00c 155px,#00e 156px,#00e 157px,#00c 158px,#00c 172px,#00e 173px,#00e 202px,#02f 203px,#0ff 211px,#0ff 212px,#0f7 231px,#0f7 241px,#0f3 251px,#0f2 254px,#fff 255px,#fff 260px,#0f6 261px,#0f4 276px,#0f4 353px)"></i>
<i style="left:362px;background:linear-gradient(#00c 0,#00c 11px,#01f 22px,#00c 32px,#00c 39px,#00e 40px,#00c 41px,#00c 61px,#00a 72px,#00a 86px,#00f 87px,#00e 94px,#00c 95px,#00c 116px,#00c 119px,#00e 120px,#00e 121px,#00c 122px,#00c 130px,#00e 131px,#00e 132px,#00c 133px,#00c 134px,#00c 149px,#00e 150px,#00e 151px,#00c 152px,#00c 155px,#00e 156px,#00e 157px,#00c 158px,#00c 172px,#00e 173px,#00e 202px,#02f 203px,#0ff 211px,#0ff 212px,#0f7 231px,#0f7 241px,#0f3 251px,#0f2 254px,#fff 255px,#fff 260px,#0f6 261px,#0f5 276px,#0f5 353px)"></i>
<i class=w3 style="left:364px;background:linear-gradient(#00c 0,#00c 11px,#00f 21px,#00c 31px,#00c 38px,#0f6 39px,#0f6 40px,#00c 41px,#00c 43px,#00c 61px,#00a 72px,#00a 86px,#00f 87px,#00e 94px,#00c 95px,#00c 116px,#00c 119px,#00e 120px,#00e 121px,#00c 122px,#00c 130px,#00e 131px,#00e 132px,#00c 133px,#00c 149px,#00e 150px,#00e 151px,#00c 152px,#00c 155px,#00e 156px,#00e 157px,#00c 158px,#00c 172px,#00e 173px,#00e 202px,#02f 203px,#0ff 211px,#0ff 212px,#0f7 231px,#0f7 241px,#0f3 251px,#0f2 254px,#fff 255px,#fff 260px,#0f6 261px,#0f4 276px,#0f4 353px)"></i>
<i style="left:367px;background:linear-gradient(#00c 0,#00c 11px,#00e 21px,#00c 31px,#00c 38px,#0f6 39px,#0f6 40px,#00c 41px,#00c 43px,#00c 61px,#00a 72px,#00a 86px,#00f 87px,#00e 94px,#00c 95px,#00c 116px,#00c 119px,#00e 120px,#00e 121px,#00c 122px,#00c 130px,#00e 131px,#00e 132px,#00c 133px,#00c 134px,#00c 149px,#00e 150px,#00e 151px,#00c 152px,#00c 155px,#00e 156px,#00e 157px,#00c 158px,#00c 172px,#00e 173px,#00e 202px,#02f 203px,#0ff 211px,#0ff 212px,#0f6 231px,#0f7 241px,#0f3 251px,#0f2 254px,#fff 255px,#fff 260px,#0f6 261px,#0f5 276px,#0f5 353px)"></i>
<i class=w1 style="left:369px;background:linear-gradient(#00c 0,#00c 11px,#00d 21px,#00c 31px,#00c 39px,#00e 40px,#00c 41px,#00c 61px,#00a 72px,#00a 86px,#00f 87px,#00e 94px,#00c 95px,#00c 116px,#00c 119px,#00e 120px,#00e 121px,#00c 122px,#00c 130px,#00e 131px,#00e 132px,#00c 133px,#00c 134px,#00c 149px,#00e 150px,#00e 151px,#00c 152px,#00c 155px,#00e 156px,#00e 157px,#00c 158px,#00c 172px,#00e 173px,#00e 202px,#02f 203px,#0ff 211px,#0ff 212px,#0fb 221px,#0f5 231px,#0f7 241px,#0f3 251px,#0f2 254px,#fff 255px,#fff 260px,#0f6 261px,#0f5 276px,#0f5 353px)"></i>
<i class=w3 style="left:370px;background:linear-gradient(#00c 0,#00d 21px,#00c 39px,#00e 40px,#00c 41px,#00c 61px,#00a 72px,#00a 86px,#00f 87px,#00e 94px,#00c 95px,#00c 116px,#00c 119px,#00e 120px,#00e 121px,#00c 122px,#00c 130px,#00e 131px,#00e 132px,#00c 133px,#00c 149px,#00e 150px,#00e 151px,#00c 152px,#00c 155px,#00e 156px,#00e 157px,#00c 158px,#00c 172px,#00e 173px,#00e 202px,#02f 203px,#0ff 211px,#0ff 212px,#0fb 221px,#0f4 231px,#0f6 242px,#0f3 251px,#0f2 254px,#fff 255px,#fff 260px,#0f5 261px,#0f3 276px,#0f3 353px)"></i>
<i class=w3 style="left:373px;background:linear-gradient(#00c 0,#00c 39px,#00e 40px,#00c 41px,#00c 61px,#00a 72px,#00a 86px,#00f 87px,#00e 94px,#00c 95px,#00c 116px,#00c 119px,#00e 120px,#00e 121px,#00c 122px,#00c 130px,#00e 131px,#00e 132px,#00c 133px,#00c 149px,#00e 150px,#00e 151px,#00c 152px,#00c 155px,#00e 156px,#00e 157px,#00c 158px,#00c 172px,#00e 173px,#00e 202px,#02f 203px,#0ff 211px,#0ff 212px,#0fa 222px,#0f3 231px,#0f6 242px,#0f3 251px,#0f2 254px,#fff 255px,#fff 260px,#0f6 261px,#0f4 276px,#0f4 353px)"></i>
<i class=w3 style="left:376px;background:linear-gradient(#00c 0,#00c 39px,#00e 40px,#00c 41px,#00c 61px,#00a 72px,#00a 86px,#00f 87px,#00e 94px,#00c 95px,#00c 116px,#00c 119px,#00e 120px,#00e 121px,#00c 122px,#00c 130px,#00e 131px,#00e 132px,#00c 133px,#00c 149px,#00e 150px,#00e 151px,#00c 152px,#00c 155px,#00e 156px,#00e 157px,#00c 158px,#00c 172px,#00e 173px,#00e 202px,#02f 203px,#0ff 211px,#0ff 212px,#0fa 222px,#0f3 231px,#0f6 242px,#0f3 251px,#0f2 254px,#fff 255px,#fff 260px,#0f7 261px,#0f5 276px,#0f5 353px)"></i>
<i class=w1 style="left:379px;background:linear-gradient(#00c 0,#00c 39px,#00e 40px,#00c 41px,#00c 61px,#00a 72px,#00a 86px,#00f 87px,#00e 94px,#00c 95px,#00c 116px,#00c 119px,#00e 120px,#00e 121px,#00c 122px,#00c 130px,#00e 131px,#00e 132px,#00c 133px,#00c 134px,#00c 149px,#00e 150px,#00e 151px,#00c 152px,#00c 155px,#00e 156px,#00e 157px,#00c 158px,#00c 172px,#00e 173px,#00e 202px,#02f 203px,#0ff 211px,#0ff 212px,#0fa 222px,#0f3 231px,#0f6 242px,#0f3 251px,#0f2 254px,#fff 255px,#fff 260px,#0f7 261px,#0f5 276px,#0f5 353px)"></i>
<i class=w3 style="left:380px;background:linear-gradient(#00c 0,#00c 39px,#00e 40px,#00c 41px,#00c 61px,#00a 72px,#00a 86px,#00f 87px,#00e 94px,#00c 95px,#00c 116px,#00c 119px,#00e 120px,#00e 121px,#00c 122px,#00c 130px,#00e 131px,#00e 132px,#00c 133px,#00c 149px,#00e 150px,#00e 151px,#00c 152px,#00c 155px,#00e 156px,#00e 157px,#00c 158px,#00c 172px,#00e 173px,#00e 202px,#02f 203px,#0ff 211px,#0ff 212px,#0fa 222px,#0f3 231px,#0f6 242px,#0f3 251px,#0f2 254px,#fff 255px,#fff 260px,#0f5 261px,#0f3 276px,#0f3 353px)"></i>
<i class=w1 style="left:383px;background:linear-gradient(#00c 0,#00c 39px,#00e 40px,#00c 41px,#00c 61px,#00a 72px,#00a 86px,#00f 87px,#00e 94px,#00c 95px,#00c 116px,#00c 119px,#00e 120px,#00e 121px,#00c 122px,#00c 130px,#00e 131px,#00e 132px,#00c 133px,#00c 134px,#00c 149px,#00e 150px,#00e 151px,#00c 152px,#00c 155px,#00e 156px,#00e 157px,#00c 158px,#00c 172px,#00e 173px,#00e 202px,#02f 203px,#0ff 211px,#0ff 212px,#0fa 222px,#0f3 231px,#0f6 242px,#0f3 251px,#0f2 254px,#fff 255px,#fff 260px,#0f5 261px,#0f3 276px,#0f3 353px)"></i>
<i class=w3 style="left:384px;background:linear-gradient(#00c 0,#00c 39px,#00e 40px,#00c 41px,#00c 61px,#00a 72px,#00a 86px,#00f 87px,#00e 94px,#00c 95px,#00c 116px,#00c 119px,#00e 120px,#00e 121px,#00c 122px,#00c 130px,#00e 131px,#00e 132px,#00c 133px,#00c 149px,#00e 150px,#00e 151px,#00c 152px,#00c 155px,#00e 156px,#00e 157px,#00c 158px,#00c 172px,#00e 173px,#00e 202px,#02f 203px,#0ff 211px,#0ff 212px,#0fa 222px,#0f3 231px,#0f6 242px,#0f3 251px,#0f2 254px,#fff 255px,#fff 260px,#0f6 261px,#0f6 266px,#0f4 276px,#0f4 353px)"></i>
<i class=w3 style="left:387px;background:linear-gradient(#00c 0,#00c 39px,#00e 40px,#00c 41px,#00c 61px,#00a 72px,#00a 86px,#00f 87px,#00e 94px,#00c 95px,#00c 116px,#00c 119px,#00e 120px,#00e 121px,#00c 122px,#00c 130px,#00e 131px,#00e 132px,#00c 133px,#00c 149px,#00e 150px,#00e 151px,#00c 152px,#00c 155px,#00e 156px,#00e 157px,#00c 158px,#00c 172px,#00e 173px,#00e 202px,#02f 203px,#0ff 211px,#0ff 212px,#0fa 222px,#0f3 231px,#0f6 242px,#0f3 251px,#0f2 254px,#fff 255px,#fff 260px,#0f6 261px,#0f6 266px,#0f4 276px,#0f4 353px)"></i>
<i style="left:390px;background:linear-gradient(#00c 0,#00c 39px,#00e 40px,#00c 41px,#00c 61px,#00a 72px,#00a 86px,#00f 87px,#00e 94px,#00c 95px,#00c 116px,#00c 119px,#00e 120px,#00e 121px,#00c 122px,#00c 130px,#00e 131px,#00e 132px,#00c 133px,#00c 134px,#00c 149px,#00e 150px,#00e 151px,#00c 152px,#00c 155px,#00e 156px,#00e 157px,#00c 158px,#00c 172px,#00e 173px,#00e 202px,#02f 203px,#0ff 211px,#0ff 212px,#0fa 222px,#0f3 231px,#0f6 242px,#0f3 251px,#0f2 254px,#fff 255px,#fff 260px,#0f7 261px,#0f7 266px,#0f4 276px,#0f4 353px)"></i>
<i class=w1 style="left:392px;background:linear-gradient(#00c 0,#00c 39px,#00e 40px,#00c 41px,#00c 61px,#00a 72px,#00a 86px,#00f 87px,#00e 94px,#00c 95px,#00c 116px,#00c 119px,#00e 120px,#00e 121px,#00c 122px,#00c 130px,#00e 131px,#00e 132px,#00c 133px,#00c 134px,#00c 149px,#00e 150px,#00e 151px,#00c 152px,#00c 155px,#00e 156px,#00e 157px,#00c 158px,#00c 172px,#00e 173px,#00e 202px,#02f 203px,#0ff 211px,#0ff 212px,#0fa 222px,#0f3 231px,#0f6 242px,#0f3 251px,#0f2 254px,#fff 255px,#fff 260px,#0f5 261px,#0f5 266px,#0f1 276px,#0f1 353px)"></i>
<i class=w3 style="left:393px;background:linear-gradient(#00c 0,#00c 39px,#00e 40px,#00c 41px,#00c 61px,#00a 72px,#00a 86px,#00f 87px,#00e 94px,#00c 95px,#00c 116px,#00c 119px,#00e 120px,#00e 121px,#00c 122px,#00c 130px,#00e 131px,#00e 132px,#00c 133px,#00c 149px,#00e 150px,#00e 151px,#00c 152px,#00c 155px,#00e 156px,#00e 157px,#00c 158px,#00c 172px,#00e 173px,#00e 202px,#02f 203px,#0ff 211px,#0ff 212px,#0fa 222px,#0f3 231px,#0f6 242px,#0f3 251px,#0f2 254px,#fff 255px,#fff 260px,#0f7 261px,#0f7 266px,#0f4 276px,#0f4 353px)"></i>
<i class=w1 style="left:396px;background:linear-gradient(#00c 0,#00c 39px,#00e 40px,#00c 41px,#00c 61px,#00a 72px,#00a 86px,#00f 87px,#00e 94px,#00c 95px,#00c 116px,#00c 119px,#00e 120px,#00e 121px,#00c 122px,#00c 130px,#00e 131px,#00e 132px,#00c 133px,#00c 138px,#00c 149px,#00e 150px,#00e 151px,#00c 152px,#00c 155px,#00e 156px,#00e 157px,#00c 158px,#00c 172px,#00e 173px,#00e 201px,#01f 202px,#0ff 211px,#0ff 212px,#0fa 222px,#0f3 231px,#0f6 242px,#0f3 251px,#0f2 254px,#fff 255px,#fff 260px,#0f6 261px,#0f5 266px,#0f2 276px,#0f2 353px)"></i>
<i class=w1 style="left:397px;background:linear-gradient(#00c 0,#00c 39px,#00e 40px,#00c 41px,#00c 61px,#00a 72px,#00a 86px,#00f 87px,#00e 94px,#00c 95px,#00c 116px,#00c 119px,#00e 120px,#00e 121px,#00c 122px,#00c 130px,#00e 131px,#00e 132px,#00c 133px,#00c 135px,#00c 149px,#00e 150px,#00e 151px,#00c 152px,#00c 155px,#00e 156px,#00e 157px,#00c 158px,#00c 172px,#00e 173px,#00e 198px,#01f 199px,#02f 202px,#0ff 211px,#0ff 212px,#0fa 222px,#0f3 231px,#0f6 242px,#0f3 251px,#0f2 254px,#fff 255px,#fff 260px,#0f6 261px,#0f5 266px,#0f2 276px,#0f2 353px)"></i>
<i style="left:398px;background:linear-gradient(#00c 0,#00c 39px,#00e 40px,#00c 41px,#00c 61px,#00a 72px,#00a 86px,#00f 87px,#00e 94px,#00c 95px,#00c 116px,#00c 119px,#00e 120px,#00e 121px,#00c 122px,#00c 130px,#00e 131px,#00e 132px,#00c 133px,#00c 149px,#00e 150px,#00e 151px,#00c 152px,#00c 155px,#00e 156px,#00e 157px,#00c 158px,#00c 172px,#00e 173px,#00e 195px,#01f 197px,#03f 202px,#0ff 211px,#0ff 212px,#0fa 222px,#0f3 231px,#0f6 242px,#0f3 251px,#0f2 254px,#fff 255px,#fff 260px,#0f6 261px,#0f6 266px,#0f3 276px,#0f3 353px)"></i>
<i style="left:400px;background:linear-gradient(#00c 0,#00c 39px,#00e 40px,#00c 41px,#00c 61px,#00a 72px,#00a 86px,#00f 87px,#00e 94px,#00c 95px,#00c 116px,#00c 119px,#00e 120px,#00e 121px,#00c 122px,#00c 130px,#00e 131px,#00e 132px,#00c 133px,#00c 149px,#00e 150px,#00e 151px,#00c 152px,#00c 155px,#00e 156px,#00e 157px,#00c 158px,#00c 172px,#00e 173px,#00e 194px,#01f 195px,#04f 202px,#0ff 211px,#0ff 212px,#0fa 222px,#0f3 231px,#0f6 242px,#0f3 251px,#0f2 254px,#fff 255px,#fff 260px,#0f7 261px,#0f6 266px,#0f3 276px,#0f3 353px)"></i>
<i style="left:402px;background:linear-gradient(#00c 0,#00c 39px,#00e 40px,#00c 41px,#00c 61px,#00a 72px,#00a 86px,#00f 87px,#00e 94px,#00c 95px,#00c 116px,#00c 119px,#00e 120px,#00e 121px,#00c 122px,#00c 130px,#00e 131px,#00e 132px,#00c 133px,#00c 149px,#00e 150px,#00e 151px,#00c 152px,#00c 155px,#00e 156px,#00e 157px,#00c 158px,#00c 172px,#00e 173px,#00e 193px,#01f 194px,#05f 202px,#0ff 211px,#0fb 221px,#0f3 231px,#0f6 242px,#0f3 251px,#0f2 254px,#fff 255px,#fff 260px,#0f6 261px,#0f6 266px,#0f3 276px,#0f3 353px)"></i>
<i class=w3 style="left:404px;background:linear-gradient(#00c 0,#00c 39px,#00e 40px,#00c 41px,#00c 61px,#00a 72px,#00a 86px,#00f 87px,#00e 94px,#00c 95px,#00c 116px,#00c 119px,#00e 120px,#00e 121px,#00c 122px,#00c 130px,#00e 131px,#00e 132px,#00c 133px,#00c 149px,#00e 150px,#00e 151px,#00c 152px,#00c 155px,#00e 156px,#00e 157px,#00c 158px,#00c 172px,#00e 173px,#00e 193px,#01f 194px,#06f 202px,#0ff 211px,#0fb 221px,#0f3 231px,#0f6 242px,#0f3 251px,#0f2 254px,#fff 255px,#fff 260px,#0f5 261px,#0f5 266px,#0f2 276px,#0f2 353px)"></i>
<i class=w3 style="left:407px;background:linear-gradient(#00c 0,#00c 39px,#00e 40px,#00c 41px,#00c 61px,#00a 72px,#00a 86px,#00f 87px,#00e 94px,#00c 95px,#00c 116px,#00c 119px,#00e 120px,#00e 121px,#00c 122px,#00c 130px,#00e 131px,#00e 132px,#00c 133px,#00c 149px,#00e 150px,#00e 151px,#00c 152px,#00c 155px,#00e 156px,#00e 157px,#00c 158px,#00c 172px,#00e 173px,#00e 193px,#01f 194px,#07f 202px,#0ff 211px,#0fb 221px,#0f4 231px,#0f6 242px,#0f3 251px,#0f2 254px,#fff 255px,#fff 260px,#0f6 261px,#0f5 266px,#0f3 276px,#0f3 353px)"></i>
<i class=w3 style="left:410px;background:linear-gradient(#00c 0,#00c 61px,#00a 72px,#00a 86px,#00f 87px,#00e 94px,#00c 95px,#00c 116px,#00c 119px,#00e 120px,#00e 121px,#00c 122px,#00c 130px,#00e 131px,#00e 132px,#00c 133px,#00c 149px,#00e 150px,#00e 151px,#00c 152px,#00c 155px,#00e 156px,#00e 157px,#00c 158px,#00c 172px,#00e 173px,#00e 193px,#01f 194px,#07f 202px,#0ff 211px,#0fb 221px,#0f5 231px,#0f7 241px,#0f3 251px,#0f2 254px,#fff 255px,#fff 260px,#0f6 261px,#0f5 266px,#0f3 276px,#0f3 353px)"></i>
<i style="left:413px;background:linear-gradient(#00c 0,#00c 61px,#00a 72px,#00a 86px,#00f 87px,#00e 94px,#00c 95px,#00c 116px,#00c 119px,#00e 120px,#00e 121px,#00c 122px,#00c 130px,#00e 131px,#00e 132px,#00c 133px,#00c 149px,#00e 150px,#00e 151px,#00c 152px,#00c 155px,#00e 156px,#00e 157px,#00c 158px,#00c 172px,#00e 173px,#00e 193px,#01f 194px,#07f 202px,#0ff 211px,#0f6 231px,#0f7 241px,#0f3 251px,#0f2 254px,#fff 255px,#fff 260px,#0f5 261px,#0f5 266px,#0f3 276px,#0f3 353px)"></i>
<i class=w3 style="left:415px;background:linear-gradient(#00c 0,#00c 61px,#00a 72px,#00a 86px,#00f 87px,#00e 94px,#00c 95px,#00c 116px,#00c 119px,#00e 120px,#00e 121px,#00c 122px,#00c 130px,#00e 131px,#00e 132px,#00c 133px,#00c 149px,#00e 150px,#00e 151px,#00c 152px,#00c 155px,#00e 156px,#00e 157px,#00c 158px,#00c 172px,#00e 173px,#00e 193px,#01f 194px,#07f 202px,#0ff 211px,#0f7 231px,#0f7 241px,#0f3 251px,#0f2 254px,#fff 255px,#fff 260px,#0f7 261px,#0f5 276px,#0f5 353px)"></i>
<i class=w3 style="left:418px;background:linear-gradient(#00c 0,#00c 61px,#00a 72px,#00a 86px,#00f 87px,#00e 94px,#00c 95px,#00c 116px,#00c 119px,#00e 120px,#00e 121px,#00c 122px,#00c 130px,#00e 131px,#00e 132px,#00c 133px,#00c 149px,#00e 150px,#00e 151px,#00c 152px,#00c 155px,#00e 156px,#00e 157px,#00c 158px,#00c 172px,#00e 173px,#00e 193px,#01f 194px,#07f 202px,#0ff 211px,#0f7 231px,#0f7 241px,#0f3 251px,#0f2 254px,#fff 255px,#fff 260px,#0f7 261px,#0f5 276px,#0f5 353px)"></i>
<i class=w3 style="left:421px;background:linear-gradient(#00c 0,#00c 61px,#00a 72px,#00a 86px,#00f 87px,#00e 94px,#00c 95px,#00c 116px,#00c 119px,#00e 120px,#00e 121px,#00c 122px,#00c 130px,#00e 131px,#00e 132px,#00c 133px,#00c 149px,#00e 150px,#00e 151px,#00c 152px,#00c 155px,#00e 156px,#00e 157px,#00c 158px,#00c 172px,#00e 173px,#00e 193px,#01f 194px,#07f 202px,#0ff 211px,#0f7 231px,#0f7 241px,#0f3 251px,#0f2 254px,#fff 255px,#fff 260px,#0f7 261px,#0f5 276px,#0f5 353px)"></i>
<i class=w3 style="left:424px;background:linear-gradient(#00c 0,#00c 61px,#00a 72px,#00a 86px,#00f 87px,#00e 94px,#00c 95px,#00c 116px,#00c 119px,#00e 120px,#00e 121px,#00c 122px,#00c 130px,#00e 131px,#00e 132px,#00c 133px,#00c 149px,#00e 150px,#00e 151px,#00c 152px,#00c 155px,#00e 156px,#00e 157px,#00c 158px,#00c 172px,#00e 173px,#00e 193px,#01f 194px,#07f 202px,#0ff 211px,#0f7 231px,#0f7 241px,#0f3 251px,#0f2 254px,#fff 255px,#fff 260px,#0f6 261px,#0f4 276px,#0f4 353px)"></i>
<i class=w1 style="left:427px;background:linear-gradient(#00c 0,#00c 61px,#00a 72px,#00a 86px,#00f 87px,#00e 94px,#00c 95px,#00c 116px,#00c 119px,#00e 120px,#00e 121px,#00c 122px,#00c 130px,#00e 131px,#00e 132px,#00c 133px,#00c 149px,#00e 150px,#00e 151px,#00c 152px,#00c 155px,#00e 156px,#00e 157px,#00c 158px,#00c 172px,#00e 173px,#00e 193px,#01f 194px,#07f 202px,#0ff 211px,#0f8 231px,#0f7 241px,#0f3 251px,#0f2 254px,#fff 255px,#fff 260px,#0f6 261px,#0f4 276px,#0f4 353px)"></i>
<i class=w3 style="left:428px;background:linear-gradient(#00c 0,#00c 61px,#00a 72px,#00a 86px,#00f 87px,#00e 94px,#00c 95px,#00c 116px,#00c 119px,#00e 120px,#00e 121px,#00c 122px,#00c 130px,#00e 131px,#00e 132px,#00c 133px,#00c 149px,#00e 150px,#00e 151px,#00c 152px,#00c 155px,#00e 156px,#00e 157px,#00c 158px,#00c 172px,#00e 173px,#00e 193px,#01f 194px,#07f 202px,#0ff 211px,#0fd 221px,#0f8 232px,#0f6 242px,#0f3 251px,#0f2 254px,#fff 255px,#fff 260px,#0f7 261px,#0f5 276px,#0f5 353px)"></i>
<i class=w3 style="left:431px;background:linear-gradient(#00c 0,#00c 61px,#00a 72px,#00a 86px,#00f 87px,#00e 94px,#00c 95px,#00c 116px,#00c 119px,#00e 120px,#00e 121px,#00c 122px,#00c 130px,#00e 131px,#00e 132px,#00c 133px,#00c 149px,#00e 150px,#00e 151px,#00c 152px,#00c 155px,#00e 156px,#00e 157px,#00c 158px,#00c 172px,#00e 173px,#00e 193px,#01f 194px,#07f 202px,#0ff 211px,#0fe 222px,#0f3 251px,#0f2 254px,#fff 255px,#fff 260px,#0f6 261px,#0f5 276px,#0f5 353px)"></i>
<i class=w3 style="left:434px;background:linear-gradient(#00c 0,#00c 61px,#00a 72px,#00a 86px,#00f 87px,#00e 94px,#00c 95px,#00c 116px,#00c 119px,#00e 120px,#00e 121px,#00c 122px,#00c 130px,#00e 131px,#00e 132px,#00c 133px,#00c 149px,#00e 150px,#00e 151px,#00c 152px,#00c 155px,#00e 156px,#00e 157px,#00c 158px,#00c 172px,#00e 173px,#00e 193px,#01f 194px,#07f 202px,#0ff 211px,#0ff 222px,#0f3 251px,#0f2 254px,#fff 255px,#fff 260px,#0f6 261px,#0f4 276px,#0f4 353px)"></i>
<i class=w1 style="left:708px;background:linear-gradient(#0ff 0,#0ff 14px,#5f0 15px,#5f0 36px,#0ff 37px,#0ff 46px,#0af 47px,#0af 86px,#0df 87px,#0df 128px,#0ef 129px,#0ef 130px,#01f 131px,#01f 172px,#af0 173px,#af0 212px,#0f0 213px,#0f0 254px,#fff 255px,#fff 260px,#fc0 261px,#fc0 296px,#4f0 297px,#4f0 353px)"></i>
<i class=w1 style="left:709px;background:linear-gradient(#0ff 0,#0ff 14px,#5f0 15px,#5f0 36px,#0ff 37px,#0ff 46px,#0af 47px,#0af 86px,#0ff 87px,#0ff 130px,#02f 131px,#02f 172px,#cf0 173px,#cf0 212px,#1f0 213px,#1f0 254px,#fff 255px,#fff 260px,#fc0 261px,#fc0 296px,#4f0 297px,#4f0 353px)"></i>
<i class=w1 style="left:710px;background:linear-gradient(#0ff 0,#0ff 14px,#5f0 15px,#5f0 36px,#0ff 37px,#0ff 46px,#0af 47px,#0af 86px,#0ff 87px,#0ff 130px,#02f 131px,#02f 172px,#cf0 173px,#cf0 212px,#1f0 213px,#1f0 254px,#fff 255px,#fff 260px,#fb0 261px,#fb0 296px,#5f0 297px,#5f0 353px)"></i>
<i class=w3 style="left:711px;background:linear-gradient(#0ff 0,#0ff 14px,#5f0 15px,#5f0 36px,#0ff 37px,#0ff 46px,#0af 47px,#0af 86px,#0fe 87px,#0fe 128px,#0fe 130px,#02f 131px,#02f 172px,#ef0 173px,#ef0 212px,#4f0 213px,#4f0 254px,#fff 255px,#fff 260px,#fa0 261px,#fa0 296px,#8f0 297px,#8f0 353px)"></i>
<i class=w1 style="left:714px;background:linear-gradient(#0ef 0,#0fe 11px,#0fd 12px,#0f1 19px,#2f0 20px,#5f0 21px,#7f0 22px,#7f0 31px,#5f0 32px,#0f1 34px,#0fd 41px,#0ff 43px,#05f 52px,#05f 71px,#0df 82px,#0df 86px,#0cf 87px,#0cf 111px,#0bf 112px,#00f 121px,#00f 126px,#01f 132px,#05f 142px,#07f 151px,#07f 161px,#07f 162px,#0ef 167px,#0ff 168px,#0fb 172px,#0f0 181px,#1f0 182px,#1f0 201px,#0f0 203px,#0f3 212px,#0f3 241px,#0f1 254px,#fff 255px,#fff 260px,#3f0 261px,#3f0 305px,#9f0 316px,#9f0 335px,#ff0 344px,#ff0 353px)"></i>
<i class=w1 style="left:715px;background:linear-gradient(#0df 0,#0ff 6px,#0fe 11px,#0fd 12px,#0f0 19px,#2f0 20px,#5f0 21px,#7f0 22px,#7f0 31px,#5f0 32px,#0f0 34px,#0fd 41px,#0ef 44px,#05f 51px,#04f 52px,#04f 71px,#0bf 82px,#0bf 86px,#0af 87px,#0af 111px,#00f 121px,#00f 124px,#01f 131px,#05f 142px,#07f 151px,#07f 161px,#0ff 168px,#0fc 172px,#0f1 182px,#0f1 201px,#0f4 212px,#0f4 241px,#0f1 254px,#fff 255px,#fff 260px,#3f0 261px,#3f0 305px,#8f0 316px,#8f0 335px,#ef0 345px,#ef0 353px)"></i>
<i class=w1 style="left:716px;background:linear-gradient(#0cf 0,#0cf 2px,#0ff 6px,#0fd 11px,#0fc 12px,#0f0 19px,#3f0 20px,#6f0 21px,#7f0 22px,#7f0 31px,#6f0 32px,#0f0 34px,#0fc 41px,#0ff 44px,#05f 51px,#04f 52px,#04f 71px,#0af 81px,#0af 86px,#0bf 87px,#0bf 111px,#00f 121px,#00f 122px,#04f 134px,#0f3 135px,#0f2 161px,#0f0 170px,#6f0 182px,#6f0 201px,#5f0 212px,#5f0 241px,#7f0 254px,#fff 255px,#fff 260px,#0f2 261px,#0f2 265px,#0f2 305px,#0f1 310px,#ff0 311px,#fe0 353px)"></i>
<i class=w1 style="left:717px;background:linear-gradient(#0bf 0,#0cf 2px,#0ff 6px,#0fd 11px,#0fc 12px,#0f0 19px,#3f0 20px,#6f0 21px,#7f0 22px,#7f0 31px,#6f0 32px,#0f0 34px,#0fc 41px,#0ff 44px,#0ef 45px,#04f 51px,#03f 52px,#03f 71px,#08f 81px,#08f 86px,#0af 87px,#0af 111px,#00f 121px,#00f 122px,#04f 134px,#0f2 135px,#0f1 161px,#0f0 170px,#5f0 182px,#5f0 201px,#4f0 212px,#4f0 241px,#7f0 254px,#fff 255px,#fff 260px,#0f2 261px,#0f2 265px,#0f2 305px,#0f1 310px,#ff0 311px,#fe0 353px)"></i>
<i class=w1 style="left:718px;background:linear-gradient(#0af 0,#0bf 2px,#0ff 6px,#0fc 11px,#0f0 19px,#6f0 21px,#7f0 22px,#7f0 31px,#6f0 32px,#0f0 34px,#0fb 41px,#0fe 44px,#0ef 45px,#03f 51px,#03f 52px,#03f 71px,#07f 81px,#07f 86px,#08f 87px,#08f 111px,#00f 122px,#07f 141px,#0cf 151px,#0df 161px,#0ff 164px,#0fc 171px,#0f2 182px,#0f2 201px,#0f4 212px,#0f4 241px,#0f0 249px,#1f0 250px,#2f0 252px,#2f0 254px,#fff 255px,#fff 260px,#2f0 261px,#2f0 305px,#6f0 316px,#6f0 335px,#9f0 345px,#9f0 353px)"></i>
<i class=w1 style="left:719px;background:linear-gradient(#09f 0,#0af 2px,#0ff 6px,#0fc 11px,#0f0 19px,#6f0 21px,#7f0 22px,#7f0 31px,#6f0 32px,#0f0 34px,#0fb 41px,#0ff 45px,#03f 51px,#02f 52px,#02f 71px,#05f 81px,#05f 86px,#04f 87px,#04f 111px,#00f 120px,#00f 122px,#03f 132px,#05f 141px,#0af 151px,#0bf 162px,#0ff 170px,#0fe 172px,#0f6 182px,#0f6 201px,#0f8 212px,#0f8 241px,#0f2 251px,#0f2 254px,#fff 255px,#fff 260px,#2f0 261px,#2f0 305px,#5f0 316px,#5f0 335px,#8f0 345px,#8f0 353px)"></i>
<i class=w1 style="left:720px;background:linear-gradient(#08f 0,#09f 2px,#0ff 6px,#0fc 11px,#0f1 18px,#0f0 19px,#3f0 20px,#6f0 21px,#7f0 22px,#7f0 31px,#6f0 32px,#0f0 34px,#0fa 41px,#0ff 45px,#02f 51px,#01f 52px,#01f 71px,#03f 81px,#04f 86px,#03f 87px,#03f 111px,#00f 121px,#00f 123px,#04f 132px,#05f 141px,#0bf 152px,#0bf 161px,#0ff 171px,#0f8 182px,#0f9 241px,#0f2 251px,#0f2 254px,#fff 255px,#fff 260px,#0f2 261px,#0f2 305px,#0f1 316px,#0f0 340px,#1f0 346px,#1f0 353px)"></i>
<i class=w1 style="left:721px;background:linear-gradient(#07f 0,#08f 2px,#0ff 6px,#0fe 7px,#0fa 12px,#0f1 18px,#1f0 19px,#3f0 20px,#6f0 21px,#7f0 22px,#7f0 31px,#6f0 32px,#1f0 34px,#0ff 45px,#0df 46px,#02f 51px,#01f 52px,#01f 71px,#02f 86px,#01f 87px,#01f 111px,#00f 120px,#00f 123px,#04f 132px,#05f 141px,#0cf 152px,#0cf 162px,#0ef 171px,#0ff 173px,#0fa 182px,#0fa 241px,#0f2 251px,#0f2 254px,#fff 255px,#fff 260px,#0f3 261px,#0f3 305px,#0f2 353px)"></i>
<i style="left:722px;background:linear-gradient(#06f 0,#07f 2px,#0ef 6px,#0fe 7px,#0f9 12px,#0f1 18px,#1f0 19px,#3f0 20px,#6f0 21px,#7f0 22px,#7f0 31px,#6f0 32px,#1f0 34px,#0f1 35px,#0ff 45px,#0df 46px,#01f 51px,#00f 52px,#00f 63px,#00f 122px,#06f 131px,#07f 142px,#0ff 152px,#0ff 171px,#0fa 182px,#0fa 241px,#0f1 251px,#0f0 254px,#fff 255px,#fff 260px,#0f1 261px,#0f0 353px)"></i>
<i class=w1 style="left:724px;background:linear-gradient(#06f 0,#07f 2px,#0ef 6px,#0fe 7px,#0f9 12px,#0f1 18px,#1f0 19px,#3f0 20px,#6f0 21px,#7f0 22px,#6f0 31px,#5f0 32px,#0f0 34px,#0ff 45px,#01f 51px,#00f 52px,#00f 63px,#01f 121px,#06f 131px,#06f 142px,#0ef 152px,#0ef 161px,#0ff 171px,#0fb 182px,#0fa 241px,#0f2 251px,#0f2 254px,#fff 255px,#fff 260px,#0f2 261px,#0f1 285px,#0f0 295px,#0f0 353px)"></i>
<i class=w1 style="left:725px;background:linear-gradient(#06f 0,#07f 2px,#0ef 6px,#0fe 7px,#0f9 12px,#0f1 18px,#1f0 19px,#3f0 20px,#6f0 21px,#7f0 22px,#5f0 31px,#4f0 32px,#1f0 33px,#0f1 34px,#0fe 44px,#0ef 45px,#01f 51px,#00f 52px,#00f 63px,#00f 86px,#01f 87px,#01f 121px,#05f 131px,#06f 142px,#0bf 152px,#0cf 162px,#0df 171px,#0ff 174px,#0fc 182px,#0fc 191px,#0fb 202px,#0fb 241px,#0f4 251px,#0f4 254px,#fff 255px,#fff 260px,#0f3 261px,#0f2 285px,#0f0 295px,#0f0 353px)"></i>
<i class=w1 style="left:726px;background:linear-gradient(#06f 0,#07f 2px,#0ef 6px,#0fe 7px,#0f9 12px,#0f1 18px,#1f0 19px,#6f0 21px,#7f0 22px,#5f0 31px,#3f0 32px,#1f0 33px,#0f1 34px,#0ff 44px,#0ef 45px,#01f 51px,#00f 52px,#00f 55px,#00f 86px,#02f 87px,#02f 121px,#05f 131px,#05f 141px,#0af 151px,#0bf 162px,#0ff 174px,#0fd 182px,#0fd 191px,#0fb 202px,#0fb 241px,#0f5 251px,#0f5 254px,#fff 255px,#fff 260px,#0f5 261px,#0f3 276px,#0f3 285px,#0f2 288px,#af0 289px,#bf0 295px,#bf0 353px)"></i>
<i class=w1 style="left:727px;background:linear-gradient(#06f 0,#07f 2px,#0ef 6px,#0fe 7px,#0f9 12px,#0f1 18px,#1f0 19px,#6f0 21px,#7f0 22px,#4f0 31px,#0f0 33px,#0fb 41px,#0ff 44px,#01f 51px,#00f 52px,#00f 55px,#00f 86px,#03f 87px,#03f 121px,#06f 132px,#06f 141px,#0bf 151px,#0cf 161px,#0ff 170px,#0fc 181px,#0fc 191px,#0fa 202px,#0fa 241px,#0f4 251px,#0f4 254px,#fff 255px,#fff 260px,#0f6 261px,#0f6 266px,#0f4 276px,#0f4 285px,#0f2 288px,#af0 289px,#cf0 296px,#cf0 353px)"></i>
<i class=w1 style="left:728px;background:linear-gradient(#06f 0,#07f 2px,#0ef 6px,#0fe 7px,#0f9 12px,#0f1 18px,#1f0 19px,#6f0 21px,#7f0 22px,#3f0 31px,#0f0 33px,#0fe 43px,#0ff 44px,#01f 51px,#00f 55px,#00f 86px,#03f 87px,#03f 121px,#06f 131px,#07f 142px,#0bf 152px,#0bf 161px,#0ff 170px,#0fc 181px,#0fc 192px,#0fa 202px,#0fa 241px,#0f5 251px,#0f5 254px,#fff 255px,#fff 260px,#0f7 261px,#0f7 266px,#0f4 276px,#0f4 285px,#0f0 294px,#2f0 296px,#2f0 353px)"></i>
<i class=w1 style="left:729px;background:linear-gradient(#06f 0,#07f 2px,#0ef 6px,#0fe 7px,#0f9 12px,#0f1 18px,#1f0 19px,#6f0 21px,#7f0 22px,#2f0 31px,#1f0 32px,#0f1 33px,#0fc 41px,#0ff 43px,#0ef 44px,#01f 51px,#00f 55px,#00f 86px,#04f 87px,#04f 121px,#06f 132px,#06f 141px,#0af 151px,#0af 161px,#0ff 170px,#0fd 181px,#0fd 192px,#0fa 202px,#0fa 241px,#0f6 251px,#0f6 254px,#fff 255px,#fff 260px,#0f8 261px,#0f8 266px,#0f5 276px,#0f5 285px,#0f0 294px,#2f0 296px,#2f0 353px)"></i>
<i class=w1 style="left:730px;background:linear-gradient(#06f 0,#07f 2px,#0ef 6px,#0fe 7px,#0f9 12px,#0f1 18px,#1f0 19px,#3f0 20px,#6f0 21px,#7f0 22px,#2f0 31px,#0f0 32px,#0fd 41px,#0ff 43px,#01f 51px,#00f 52px,#00f 63px,#00f 86px,#05f 87px,#05f 121px,#06f 131px,#06f 142px,#09f 152px,#09f 161px,#0ff 171px,#0fd 181px,#0fd 191px,#0fa 202px,#0fa 241px,#0f7 254px,#fff 255px,#fff 260px,#0fb 261px,#0fb 266px,#0f8 276px,#0f8 285px,#0f0 296px,#0f0 353px)"></i>
<i class=w1 style="left:731px;background:linear-gradient(#06f 0,#07f 2px,#0ef 6px,#0fe 7px,#0f9 12px,#0f1 18px,#1f0 19px,#3f0 20px,#6f0 21px,#7f0 22px,#0f0 32px,#0ff 42px,#0ef 43px,#01f 51px,#00f 63px,#00f 86px,#05f 87px,#05f 121px,#06f 142px,#08f 152px,#08f 161px,#0ff 171px,#0fe 191px,#0fa 202px,#0fa 241px,#0f8 254px,#fff 255px,#fff 260px,#0fd 261px,#0fd 266px,#0f9 276px,#0f9 285px,#0f0 296px,#0f0 353px)"></i>
<i class=w1 style="left:732px;background:linear-gradient(#06f 0,#07f 2px,#0ef 6px,#0fe 7px,#0f9 12px,#0f1 18px,#1f0 19px,#6f0 21px,#7f0 22px,#0f0 31px,#0f1 32px,#0ff 42px,#00f 51px,#00f 55px,#00f 86px,#06f 87px,#07f 161px,#0ff 171px,#0ff 191px,#0fa 202px,#0f9 254px,#fff 255px,#fff 260px,#0fd 261px,#0fd 266px,#0f8 276px,#0f8 286px,#0f6 288px,#3f0 289px,#9f0 296px,#9f0 353px)"></i>
<i class=w1 style="left:733px;background:linear-gradient(#06f 0,#07f 2px,#0ef 6px,#0fe 7px,#0f9 12px,#0f1 18px,#1f0 19px,#6f0 21px,#7f0 22px,#0f0 31px,#0fe 41px,#0ef 42px,#00f 51px,#00f 55px,#00f 86px,#05f 87px,#06f 161px,#0df 172px,#0df 191px,#0ff 193px,#0fc 202px,#0fc 254px,#fff 255px,#fff 260px,#0fe 261px,#0fe 266px,#0f9 276px,#0f8 286px,#0f6 288px,#3f0 289px,#8f0 296px,#9f0 353px)"></i>
<i style="left:734px;background:linear-gradient(#06f 0,#07f 2px,#0ef 6px,#0fe 7px,#0f9 12px,#0f1 18px,#1f0 19px,#3f0 20px,#6f0 21px,#7f0 22px,#0f0 31px,#0ff 41px,#0df 42px,#00f 51px,#00f 52px,#01f 62px,#01f 86px,#05f 87px,#04f 102px,#05f 112px,#05f 141px,#07f 152px,#07f 161px,#0df 172px,#0df 191px,#0ff 194px,#0fc 202px,#0fb 222px,#0fb 232px,#0fd 254px,#fff 255px,#fff 260px,#0df 261px,#0df 265px,#0ef 267px,#0fc 276px,#0fa 285px,#0f2 296px,#0f0 305px,#0f0 353px)"></i>
<i class=w1 style="left:736px;background:linear-gradient(#06f 0,#07f 2px,#0ef 6px,#0fe 7px,#0f9 12px,#0f1 18px,#1f0 19px,#3f0 20px,#6f0 21px,#7f0 22px,#0f0 31px,#0f1 32px,#0fe 40px,#0bf 42px,#00f 51px,#00f 52px,#02f 62px,#02f 86px,#05f 87px,#03f 101px,#05f 112px,#05f 141px,#07f 152px,#07f 161px,#0cf 172px,#0cf 191px,#0ff 198px,#0fc 222px,#0fc 231px,#0ff 249px,#0ef 254px,#fff 255px,#fff 260px,#0bf 261px,#0bf 265px,#0ff 272px,#0fe 276px,#0fb 285px,#0f4 296px,#0f1 306px,#0f1 353px)"></i>
<i class=w1 style="left:737px;background:linear-gradient(#06f 0,#07f 2px,#0ef 6px,#0fe 7px,#0f9 12px,#0f1 18px,#1f0 19px,#3f0 20px,#6f0 21px,#7f0 22px,#0f0 31px,#0f1 32px,#0fe 40px,#0bf 42px,#00f 51px,#00f 52px,#03f 62px,#03f 86px,#05f 87px,#04f 92px,#02f 101px,#05f 112px,#05f 141px,#08f 151px,#08f 162px,#0cf 172px,#0cf 191px,#0ff 199px,#0fe 212px,#0fc 222px,#0fc 231px,#0ff 245px,#0df 254px,#fff 255px,#fff 260px,#0af 261px,#0bf 266px,#0ff 276px,#0f1 306px,#0f1 353px)"></i>
<i class=w1 style="left:738px;background:linear-gradient(#06f 0,#07f 2px,#0ef 6px,#0fe 7px,#0f9 12px,#0f1 18px,#1f0 19px,#3f0 20px,#6f0 21px,#7f0 22px,#0f0 31px,#0f1 32px,#0ff 40px,#0af 42px,#00f 51px,#00f 52px,#03f 62px,#03f 86px,#07f 87px,#07f 92px,#03f 102px,#07f 112px,#07f 141px,#0cf 151px,#0df 161px,#0ff 167px,#0fe 172px,#0fe 191px,#0fb 201px,#0fb 212px,#0f9 222px,#0f9 232px,#0fe 251px,#0fe 254px,#fff 255px,#fff 260px,#0af 261px,#0af 266px,#0df 275px,#0ff 277px,#0f1 306px,#0f1 353px)"></i>
<i class=w1 style="left:739px;background:linear-gradient(#06f 0,#07f 2px,#0ef 6px,#0fe 7px,#0f9 12px,#0f1 18px,#1f0 19px,#3f0 20px,#6f0 21px,#7f0 22px,#0f0 31px,#0f1 32px,#0fe 39px,#0ef 40px,#0bf 41px,#09f 42px,#00f 51px,#00f 52px,#04f 62px,#04f 86px,#07f 87px,#07f 92px,#03f 102px,#07f 112px,#07f 141px,#0ef 152px,#0ef 161px,#0ff 165px,#0fe 172px,#0fe 191px,#0fc 202px,#0fc 211px,#0f9 221px,#0f9 231px,#0ff 250px,#0ef 254px,#fff 255px,#fff 260px,#07f 261px,#07f 266px,#0af 275px,#0ff 281px,#0fc 286px,#0f8 296px,#0f2 306px,#0f2 353px)"></i>
<i class=w1 style="left:740px;background:linear-gradient(#06f 0,#07f 2px,#0ef 6px,#0fe 7px,#0f9 12px,#0f1 18px,#1f0 19px,#3f0 20px,#6f0 21px,#7f0 22px,#0f0 31px,#0f1 32px,#0fe 39px,#0ef 40px,#0af 41px,#08f 42px,#00f 51px,#00f 52px,#04f 62px,#04f 86px,#05f 87px,#05f 91px,#01f 102px,#05f 112px,#05f 141px,#0cf 152px,#0cf 161px,#0ef 172px,#0fe 211px,#0fb 222px,#0fb 232px,#0ff 243px,#0af 251px,#0af 254px,#fff 255px,#fff 260px,#09f 261px,#09f 266px,#0bf 275px,#0ff 278px,#0f9 286px,#0f7 296px,#0f0 306px,#0f0 353px)"></i>
<i class=w1 style="left:741px;background:linear-gradient(#06f 0,#07f 2px,#0ef 6px,#0fe 7px,#0f9 12px,#0f1 18px,#1f0 19px,#3f0 20px,#6f0 21px,#7f0 22px,#0f0 31px,#0f1 32px,#0fe 39px,#07f 42px,#00f 51px,#00f 52px,#05f 62px,#06f 87px,#05f 92px,#01f 102px,#06f 112px,#06f 141px,#0df 152px,#0df 161px,#0ef 172px,#0ff 211px,#0fb 222px,#0fb 232px,#0ff 242px,#08f 251px,#08f 254px,#fff 255px,#fff 260px,#08f 261px,#09f 275px,#0af 276px,#0ff 279px,#0f9 286px,#0f8 296px,#0f0 306px,#0f0 353px)"></i>
<i class=w1 style="left:742px;background:linear-gradient(#06f 0,#07f 2px,#0ef 6px,#0fe 7px,#0f9 12px,#0f1 18px,#1f0 19px,#6f0 21px,#7f0 22px,#0f0 31px,#0f1 32px,#0ff 39px,#0cf 40px,#08f 41px,#06f 42px,#00f 51px,#00f 52px,#06f 62px,#06f 91px,#00f 102px,#06f 112px,#06f 141px,#0ef 152px,#0ff 212px,#0fb 222px,#0fb 231px,#0ff 241px,#07f 251px,#06f 254px,#fff 255px,#fff 260px,#08f 261px,#09f 275px,#0af 276px,#0ef 278px,#0fe 279px,#0f8 285px,#0f7 295px,#0f0 303px,#4f0 306px,#4f0 353px)"></i>
<i class=w1 style="left:743px;background:linear-gradient(#06f 0,#07f 2px,#0ef 6px,#0fe 7px,#0fa 12px,#1f0 19px,#5f0 21px,#6f0 22px,#0f0 29px,#0f1 31px,#0f2 32px,#0ff 39px,#08f 41px,#05f 42px,#00f 51px,#00f 53px,#05f 62px,#05f 86px,#05f 87px,#04f 92px,#00f 100px,#00f 102px,#05f 112px,#05f 141px,#0df 152px,#0df 211px,#0ff 213px,#0fb 222px,#0fb 231px,#0ff 239px,#05f 251px,#05f 254px,#fff 255px,#fff 260px,#08f 261px,#08f 275px,#09f 276px,#0ff 279px,#0f8 285px,#0f7 295px,#0f0 303px,#1f0 304px,#4f0 306px,#4f0 353px)"></i>
<i class=w1 style="left:744px;background:linear-gradient(#06f 0,#07f 2px,#0ff 7px,#0fa 12px,#0f0 19px,#2f0 20px,#5f0 21px,#5f0 22px,#0f0 27px,#0f2 31px,#0fe 38px,#0ef 39px,#07f 41px,#05f 42px,#00f 50px,#00f 54px,#04f 62px,#04f 91px,#00f 100px,#00f 102px,#04f 112px,#06f 141px,#0df 152px,#0df 161px,#0ef 172px,#0ff 212px,#0fa 222px,#0fa 231px,#0ff 238px,#05f 251px,#05f 254px,#fff 255px,#fff 260px,#05f 261px,#06f 275px,#07f 276px,#0ef 281px,#0ff 282px,#0fc 286px,#0fb 296px,#0f2 306px,#0f1 316px,#0f1 353px)"></i>
<i class=w1 style="left:745px;background:linear-gradient(#06f 0,#07f 2px,#0ff 7px,#0fa 12px,#0f1 19px,#1f0 20px,#4f0 21px,#5f0 22px,#0f0 26px,#0f4 31px,#0ff 38px,#06f 41px,#04f 42px,#00f 49px,#00e 52px,#00f 55px,#03f 62px,#03f 86px,#04f 87px,#03f 92px,#00f 100px,#00f 103px,#04f 112px,#04f 122px,#06f 141px,#0df 152px,#0df 161px,#0ff 171px,#0ff 211px,#0f9 222px,#0f9 231px,#0fe 238px,#0ff 239px,#0bf 242px,#05f 251px,#05f 254px,#fff 255px,#fff 260px,#05f 261px,#06f 275px,#0ff 282px,#0fc 286px,#0fb 296px,#0f2 306px,#0f1 316px,#0f1 353px)"></i>
<i class=w1 style="left:746px;background:linear-gradient(#06f 0,#07f 2px,#0ef 7px,#0fe 8px,#0fb 12px,#0f1 19px,#1f0 20px,#3f0 21px,#4f0 22px,#0f0 25px,#0f5 31px,#0fe 37px,#0ef 38px,#05f 41px,#04f 42px,#00f 48px,#00e 52px,#00f 57px,#02f 62px,#02f 86px,#04f 87px,#04f 92px,#00f 102px,#04f 112px,#04f 122px,#07f 141px,#0ff 152px,#0ff 162px,#0fd 172px,#0fd 211px,#0f7 222px,#0f7 231px,#0fe 239px,#0ff 240px,#0bf 242px,#06f 251px,#06f 254px,#fff 255px,#fff 260px,#05f 261px,#07f 275px,#0ff 282px,#0fd 286px,#0fb 296px,#0f3 306px,#0f1 316px,#0f1 353px)"></i>
<i class=w1 style="left:747px;background:linear-gradient(#06f 0,#07f 2px,#0ff 8px,#0fb 12px,#0f0 20px,#2f0 21px,#3f0 22px,#0f0 24px,#0f6 31px,#0ff 37px,#05f 41px,#03f 42px,#00f 47px,#00e 52px,#00f 60px,#01f 86px,#03f 87px,#03f 92px,#00f 102px,#03f 111px,#03f 122px,#08f 141px,#0ff 152px,#0ff 162px,#0fd 172px,#0fd 211px,#0f6 222px,#0f6 231px,#0fe 239px,#0bf 242px,#06f 251px,#06f 254px,#fff 255px,#fff 260px,#05f 261px,#05f 266px,#07f 275px,#0ff 282px,#0ff 283px,#0fd 286px,#0fb 296px,#0f3 306px,#0f1 315px,#0f1 353px)"></i>
<i class=w1 style="left:748px;background:linear-gradient(#06f 0,#07f 2px,#0ff 8px,#0fd 11px,#0f0 20px,#2f0 21px,#2f0 22px,#0f0 23px,#0f1 24px,#0f8 31px,#0fe 36px,#0ef 37px,#04f 41px,#02f 42px,#00f 46px,#00d 52px,#00f 62px,#00f 86px,#03f 87px,#03f 92px,#00f 102px,#03f 111px,#03f 122px,#0af 141px,#0ff 148px,#0fe 152px,#0fd 162px,#0fa 172px,#0fa 211px,#0f3 221px,#0f3 231px,#0f4 232px,#0fe 240px,#0df 241px,#0cf 242px,#07f 251px,#07f 254px,#fff 255px,#fff 260px,#05f 261px,#06f 266px,#08f 275px,#0ff 283px,#0fb 295px,#0f4 306px,#0f1 315px,#0f1 353px)"></i>
<i class=w1 style="left:749px;background:linear-gradient(#06f 0,#07f 2px,#0ef 8px,#0ff 9px,#0fd 11px,#0f1 20px,#1f0 21px,#1f0 22px,#0f0 23px,#0ff 36px,#03f 41px,#02f 42px,#00f 45px,#00d 52px,#00e 62px,#00e 86px,#02f 87px,#02f 92px,#00f 102px,#02f 112px,#02f 121px,#0bf 141px,#0ff 147px,#0fe 152px,#0fd 162px,#0fa 172px,#0fa 211px,#0f2 221px,#0f2 231px,#0f3 232px,#0ff 240px,#0bf 242px,#07f 251px,#07f 254px,#fff 255px,#fff 260px,#05f 261px,#05f 266px,#08f 275px,#0ff 284px,#0fb 295px,#0f5 305px,#0f1 315px,#0f1 353px)"></i>
<i class=w1 style="left:750px;background:linear-gradient(#06f 0,#07f 2px,#0ff 9px,#0fe 11px,#0f0 21px,#0f1 23px,#0ff 35px,#02f 41px,#01f 42px,#00f 44px,#00d 49px,#00d 52px,#00d 62px,#00d 86px,#02f 87px,#00f 102px,#02f 111px,#02f 121px,#07f 132px,#0bf 141px,#0ff 147px,#0fe 152px,#0fd 162px,#0f9 172px,#0f9 211px,#0f1 222px,#0f1 231px,#0f2 232px,#0ff 240px,#0cf 241px,#0af 242px,#07f 254px,#fff 255px,#fff 260px,#08f 261px,#08f 266px,#0bf 275px,#0ff 279px,#0f8 295px,#0f2 305px,#0f0 310px,#3f0 316px,#3f0 353px)"></i>
<i class=w1 style="left:751px;background:linear-gradient(#06f 0,#07f 2px,#0ff 10px,#0fe 11px,#0f0 21px,#0f0 22px,#0fc 31px,#0ff 34px,#02f 41px,#00f 42px,#00c 51px,#00d 55px,#00d 86px,#01f 87px,#00f 101px,#01f 121px,#08f 132px,#0ff 145px,#0fd 152px,#0fd 162px,#0f8 172px,#0f8 211px,#0f0 221px,#1f0 222px,#1f0 231px,#0f0 232px,#0f9 237px,#0ff 240px,#0bf 241px,#09f 242px,#08f 254px,#fff 255px,#fff 260px,#08f 261px,#08f 266px,#0cf 275px,#0ff 279px,#0f0 311px,#3f0 316px,#3f0 353px)"></i>
<i class=w1 style="left:752px;background:linear-gradient(#06f 0,#07f 2px,#0ff 11px,#0f1 21px,#0f1 22px,#0fd 31px,#0ef 33px,#01f 41px,#00f 42px,#00d 49px,#00c 52px,#00c 86px,#00f 87px,#00f 121px,#08f 132px,#0ff 145px,#0fd 152px,#0fd 161px,#0f8 172px,#0f8 211px,#0f0 220px,#3f0 222px,#3f0 231px,#1f0 232px,#0f1 233px,#0ff 240px,#0af 241px,#08f 242px,#08f 254px,#fff 255px,#fff 260px,#07f 261px,#07f 266px,#0ff 281px,#0fd 286px,#0f0 313px,#2f0 316px,#2f0 353px)"></i>
<i class=w1 style="left:753px;background:linear-gradient(#06f 0,#07f 2px,#0ef 11px,#0fe 12px,#0f2 21px,#0f2 22px,#0fe 31px,#0ef 32px,#00f 41px,#00d 49px,#00c 52px,#00c 86px,#00f 87px,#00f 121px,#08f 132px,#0ff 145px,#0fd 152px,#0fd 161px,#0f8 172px,#0f7 211px,#0f0 219px,#1f0 220px,#4f0 222px,#4f0 231px,#2f0 232px,#0f1 233px,#0ff 240px,#0af 241px,#08f 242px,#08f 254px,#fff 255px,#fff 260px,#07f 261px,#07f 266px,#0ff 280px,#0fe 285px,#0f0 313px,#2f0 316px,#2f0 353px)"></i>
<i class=w1 style="left:754px;background:linear-gradient(#06f 0,#06f 2px,#0ef 11px,#0ff 12px,#0f4 21px,#0f4 22px,#0ff 31px,#00f 41px,#00e 46px,#00c 52px,#00c 86px,#00f 87px,#00f 108px,#0fc 109px,#0fc 122px,#0f8 151px,#0f7 162px,#0f6 172px,#0f5 211px,#0f2 222px,#0f2 232px,#0fa 242px,#0fa 254px,#fff 255px,#fff 260px,#08f 261px,#08f 266px,#0ff 280px,#0fd 285px,#0f7 296px,#0f0 313px,#2f0 316px,#2f0 353px)"></i>
<i class=w1 style="left:755px;background:linear-gradient(#06f 0,#06f 2px,#0df 11px,#0ef 12px,#0fe 13px,#0f6 21px,#0f6 22px,#0fe 30px,#0ef 31px,#00f 41px,#00f 42px,#00c 52px,#00c 86px,#00f 87px,#00f 111px,#03f 122px,#09f 132px,#0df 141px,#0ff 143px,#0fa 151px,#0fa 161px,#0f6 172px,#0f4 191px,#0f3 211px,#0f0 216px,#1f0 217px,#7f0 222px,#7f0 231px,#5f0 232px,#2f0 233px,#0f1 234px,#0f8 238px,#0ef 241px,#0cf 242px,#0cf 254px,#fff 255px,#fff 260px,#08f 261px,#08f 266px,#0ff 278px,#0fd 285px,#0f6 296px,#0f0 313px,#2f0 316px,#2f0 353px)"></i>
<i class=w1 style="left:756px;background:linear-gradient(#06f 0,#06f 2px,#0cf 11px,#0ff 13px,#0f8 21px,#0f8 22px,#0fe 29px,#0ff 30px,#0bf 32px,#00f 41px,#00f 42px,#00c 52px,#00c 86px,#00f 87px,#00f 113px,#02f 121px,#09f 141px,#0ff 148px,#0fd 152px,#0fd 162px,#0fa 172px,#0f7 191px,#0f7 211px,#0f0 222px,#0f0 231px,#0f1 232px,#0fe 239px,#0ef 240px,#0bf 241px,#09f 242px,#09f 254px,#fff 255px,#fff 260px,#09f 261px,#09f 266px,#0ff 277px,#0fc 285px,#0f5 296px,#0f0 312px,#2f0 316px,#2f0 353px)"></i>
<i class=w1 style="left:757px;background:linear-gradient(#06f 0,#06f 2px,#0bf 11px,#0ff 14px,#0f9 21px,#0f9 22px,#0ff 29px,#0bf 32px,#00f 41px,#00f 42px,#00c 52px,#00c 86px,#00f 87px,#00f 112px,#08f 141px,#0ff 148px,#0fd 152px,#0fd 162px,#0f6 191px,#0f6 211px,#0f0 222px,#0f0 231px,#0f1 232px,#0ff 240px,#0cf 241px,#0af 242px,#0af 254px,#fff 255px,#fff 260px,#07f 261px,#08f 266px,#0bf 275px,#0ff 281px,#0fd 286px,#0f6 296px,#0f1 315px,#0f1 353px)"></i>
<i class=w1 style="left:758px;background:linear-gradient(#06f 0,#0af 11px,#0ff 15px,#0ff 16px,#0fb 21px,#0fb 22px,#0ff 27px,#0ff 28px,#00f 41px,#00f 42px,#00c 52px,#00c 86px,#00f 87px,#00f 111px,#07f 131px,#0af 141px,#0ff 145px,#0fa 152px,#0fa 162px,#0f2 191px,#0f2 211px,#0f0 217px,#4f0 222px,#4f0 231px,#0f0 233px,#0f9 238px,#0ff 241px,#0ef 242px,#0ef 254px,#fff 255px,#fff 260px,#08f 261px,#08f 266px,#0cf 275px,#0ff 280px,#0fd 286px,#0f5 296px,#0f1 315px,#0f1 353px)"></i>
<i class=w1 style="left:759px;background:linear-gradient(#06f 0,#09f 11px,#0ff 17px,#0fd 21px,#0ff 25px,#0ff 26px,#00f 41px,#00f 42px,#00c 52px,#00c 86px,#00f 87px,#00f 111px,#05f 122px,#0af 141px,#0ff 145px,#0f9 152px,#0f9 161px,#0f8 171px,#0f1 192px,#0f1 211px,#0f0 216px,#4f0 222px,#4f0 231px,#0f0 233px,#0fe 241px,#0ff 242px,#0ff 254px,#fff 255px,#fff 260px,#09f 261px,#09f 266px,#0df 275px,#0ff 278px,#0fc 286px,#0f4 296px,#0f1 315px,#0f1 353px)"></i>
<i class=w1 style="left:760px;background:linear-gradient(#06f 0,#08f 11px,#0ff 21px,#0ff 22px,#09f 31px,#00f 41px,#00c 52px,#00c 86px,#00f 87px,#00f 112px,#05f 122px,#07f 141px,#08f 142px,#0ef 146px,#0ff 147px,#0fb 152px,#0fb 161px,#0fa 171px,#0f3 191px,#0f2 211px,#0f0 222px,#0f0 231px,#0f1 232px,#0ff 241px,#0df 242px,#0df 254px,#fff 255px,#fff 260px,#09f 261px,#09f 266px,#0ff 278px,#0fb 286px,#0f3 296px,#0f1 316px,#0f1 353px)"></i>
<i class=w1 style="left:761px;background:linear-gradient(#06f 0,#07f 11px,#0bf 22px,#07f 32px,#00f 41px,#00c 52px,#00c 86px,#00f 87px,#00f 112px,#05f 122px,#07f 141px,#08f 142px,#0ef 146px,#0fe 147px,#0fb 152px,#0fa 171px,#0f2 192px,#0f2 211px,#0f0 222px,#0f0 231px,#0f1 232px,#0ff 241px,#0ef 242px,#0ef 254px,#fff 255px,#fff 260px,#0af 261px,#0af 266px,#0ff 277px,#0fb 285px,#0f2 296px,#0f1 316px,#0f1 353px)"></i>
<i class=w1 style="left:762px;background:linear-gradient(#06f 0,#08f 21px,#07f 31px,#00f 41px,#00c 52px,#00c 86px,#00f 87px,#00f 112px,#06f 122px,#06f 141px,#07f 142px,#0ff 146px,#0fe 147px,#0fa 152px,#0fa 172px,#0f1 192px,#0f0 222px,#0f0 231px,#0f1 232px,#0fe 241px,#0ff 242px,#0ff 254px,#fff 255px,#fff 260px,#0df 261px,#0df 265px,#0ff 270px,#0fd 276px,#0f8 286px,#0f0 294px,#3f0 296px,#3f0 316px,#3f0 353px)"></i>
<i class=w1 style="left:763px;background:linear-gradient(#06f 0,#06f 31px,#00f 41px,#00c 52px,#00c 86px,#00f 87px,#00f 112px,#01f 113px,#0fe 114px,#0fd 122px,#0fd 141px,#0f9 152px,#0f9 171px,#0f5 192px,#0f5 231px,#0fa 242px,#0fa 254px,#fff 255px,#fff 260px,#0df 261px,#0df 265px,#0ff 268px,#0f0 269px,#2f0 276px,#5f0 285px,#bf0 296px,#cf0 353px)"></i>
<i class=w1 style="left:764px;background:linear-gradient(#06f 0,#06f 21px,#05f 31px,#00f 41px,#00c 52px,#00c 86px,#00f 87px,#00f 111px,#06f 122px,#08f 141px,#09f 142px,#0ef 145px,#0fe 146px,#0f9 152px,#0f9 171px,#0f1 191px,#0f0 204px,#2f0 212px,#2f0 221px,#0f0 231px,#0fb 242px,#0fb 254px,#fff 255px,#fff 260px,#0ef 261px,#0ef 265px,#0ff 268px,#0f0 269px,#4f0 285px,#bf0 296px,#cf0 353px)"></i>
<i class=w1 style="left:765px;background:linear-gradient(#06f 0,#06f 22px,#05f 31px,#00f 41px,#00c 52px,#00c 86px,#00f 87px,#00f 111px,#05f 122px,#08f 141px,#0ff 146px,#0fa 152px,#0fa 171px,#0f2 191px,#0f2 201px,#0f0 208px,#2f0 212px,#2f0 221px,#0f0 226px,#0f2 232px,#0fa 242px,#0fa 254px,#fff 255px,#fff 260px,#0df 261px,#0df 265px,#0ef 268px,#0f1 269px,#0f0 279px,#2f0 285px,#8f0 296px,#8f0 315px,#9f0 353px)"></i>
<i class=w1 style="left:766px;background:linear-gradient(#06f 0,#06f 22px,#04f 31px,#00f 41px,#00c 52px,#00c 86px,#00f 87px,#00f 111px,#05f 122px,#09f 141px,#0ff 146px,#0fa 152px,#0fa 171px,#0f5 182px,#0f2 191px,#0f2 201px,#1f0 209px,#2f0 212px,#2f0 221px,#0f0 225px,#0f3 232px,#0f8 242px,#0f8 254px,#fff 255px,#fff 260px,#0df 261px,#0ef 266px,#0ff 271px,#0fb 285px,#0f3 296px,#0f3 315px,#0f1 326px,#0f1 335px,#0f0 342px,#1f0 346px,#1f0 353px)"></i>
<i class=w1 style="left:767px;background:linear-gradient(#06f 0,#06f 22px,#00f 41px,#00c 52px,#00c 86px,#00f 87px,#00f 111px,#07f 131px,#09f 141px,#0ff 146px,#0fb 152px,#0fb 171px,#0f6 182px,#0f3 191px,#0f3 201px,#0f0 209px,#2f0 212px,#2f0 221px,#0f0 224px,#0f7 241px,#0f7 254px,#fff 255px,#fff 260px,#0ef 261px,#0fe 275px,#0fb 285px,#0f4 296px,#0f4 315px,#0f2 326px,#0f2 335px,#0f0 342px,#1f0 346px,#1f0 353px)"></i>
<i class=w1 style="left:768px;background:linear-gradient(#06f 0,#06f 21px,#00f 41px,#00c 52px,#00c 86px,#00f 87px,#00f 112px,#09f 141px,#0ff 147px,#0ff 148px,#0fd 152px,#0fd 171px,#0f8 182px,#0f6 191px,#0f5 202px,#0f0 212px,#0f0 222px,#0f6 232px,#0f7 242px,#0f7 254px,#fff 255px,#fff 260px,#0ef 261px,#0ff 271px,#0fc 285px,#0f5 296px,#0f5 315px,#0f3 325px,#0f2 335px,#0f0 345px,#0f0 353px)"></i>
<i class=w1 style="left:769px;background:linear-gradient(#06f 0,#06f 21px,#02f 32px,#00f 40px,#00c 52px,#00c 86px,#00f 87px,#00f 112px,#02f 121px,#09f 141px,#0ff 148px,#0fd 152px,#0fd 171px,#0f8 182px,#0f6 192px,#0f6 201px,#0f0 212px,#0f0 221px,#0f6 232px,#0f5 242px,#0f5 254px,#fff 255px,#fff 260px,#0ef 261px,#0ff 275px,#0fd 285px,#0f6 296px,#0f6 315px,#0f3 325px,#0f3 335px,#0f0 345px,#0f0 353px)"></i>
<i class=w1 style="left:770px;background:linear-gradient(#06f 0,#06f 21px,#02f 31px,#00f 40px,#00c 52px,#00c 86px,#00f 87px,#00f 117px,#01f 122px,#07f 141px,#0df 152px,#0df 171px,#0ff 173px,#0fb 182px,#0fa 191px,#0fa 201px,#0f3 212px,#0f3 221px,#0fa 232px,#0f6 242px,#0f6 254px,#fff 255px,#fff 260px,#0ff 261px,#0fd 285px,#0f7 296px,#0f7 315px,#0f4 325px,#0f3 335px,#0f0 345px,#0f0 353px)"></i>
<i class=w1 style="left:771px;background:linear-gradient(#06f 0,#06f 21px,#01f 31px,#00f 38px,#00f 42px,#00c 52px,#00c 86px,#00f 87px,#00f 120px,#07f 141px,#0df 152px,#0df 171px,#0ff 174px,#0fc 182px,#0fb 201px,#0f3 212px,#0f3 221px,#0fb 231px,#0fb 232px,#0f5 242px,#0f5 254px,#fff 255px,#fff 260px,#0ff 261px,#0fe 285px,#0f8 296px,#0f8 315px,#0f4 326px,#0f4 335px,#0f0 344px,#1f0 346px,#1f0 353px)"></i>
<i style="left:772px;background:linear-gradient(#06f 0,#06f 21px,#00f 32px,#00f 41px,#00c 52px,#00c 86px,#00f 87px,#00f 100px,#0ef 101px,#0ff 123px,#0fb 151px,#0fb 171px,#0f9 182px,#0f9 201px,#0f4 212px,#0f4 221px,#0f9 232px,#0f4 242px,#0f4 254px,#fff 255px,#fff 260px,#0ff 261px,#0fe 285px,#0f9 296px,#0f9 315px,#0f5 325px,#0f4 335px,#0f0 345px,#0f0 353px)"></i>
<i class=w1 style="left:774px;background:linear-gradient(#07f 0,#06f 21px,#01f 31px,#00f 38px,#00f 42px,#00c 52px,#00c 86px,#00f 87px,#00f 100px,#0df 101px,#0ef 121px,#0ff 127px,#0fc 151px,#0fc 171px,#0fa 182px,#0fa 201px,#0f6 212px,#0f6 221px,#0fa 232px,#0f6 242px,#0f6 254px,#fff 255px,#fff 260px,#0ff 261px,#0fe 285px,#0fa 296px,#0f9 315px,#0f5 325px,#0f5 335px,#0f1 345px,#0f1 353px)"></i>
<i class=w1 style="left:775px;background:linear-gradient(#07f 0,#07f 11px,#06f 21px,#02f 31px,#00f 40px,#00c 52px,#00c 86px,#00f 87px,#00f 114px,#01f 122px,#06f 132px,#0cf 151px,#0cf 171px,#0ff 176px,#0fd 182px,#0fd 201px,#0f6 212px,#0f6 221px,#0fd 231px,#0fd 232px,#0f7 242px,#0f7 254px,#fff 255px,#fff 260px,#0cf 261px,#0ff 286px,#0fc 296px,#0fc 305px,#0fb 315px,#0f7 325px,#0f7 335px,#0f3 345px,#0f3 353px)"></i>
<i class=w1 style="left:776px;background:linear-gradient(#08f 0,#08f 11px,#06f 21px,#02f 31px,#00f 40px,#00c 52px,#00c 86px,#00f 87px,#00f 113px,#02f 121px,#06f 132px,#0bf 151px,#0bf 171px,#0ff 179px,#0fe 182px,#0fe 201px,#0f8 212px,#0f8 221px,#0fe 232px,#0f9 242px,#0f9 254px,#fff 255px,#fff 260px,#0ef 261px,#0ff 271px,#0fe 285px,#0fa 295px,#0fa 306px,#0f8 316px,#0f5 325px,#0f5 335px,#0f2 345px,#0f2 353px)"></i>
<i class=w1 style="left:777px;background:linear-gradient(#08f 0,#08f 12px,#06f 21px,#00f 41px,#00c 52px,#00c 86px,#00f 87px,#00f 111px,#08f 132px,#0df 152px,#0df 171px,#0ff 174px,#0fd 182px,#0fd 201px,#0f7 212px,#0f7 222px,#0fd 232px,#0f9 242px,#0f9 254px,#fff 255px,#fff 260px,#0af 261px,#0af 266px,#0df 285px,#0ff 290px,#0fe 296px,#0fd 306px,#0f9 325px,#0f9 335px,#0f6 345px,#0f6 353px)"></i>
<i class=w1 style="left:778px;background:linear-gradient(#09f 0,#08f 12px,#00f 41px,#00c 52px,#00c 86px,#00f 87px,#00f 111px,#07f 131px,#0cf 151px,#0cf 171px,#0ff 178px,#0fe 182px,#0fe 201px,#0f9 212px,#0f9 222px,#0fe 232px,#0fb 242px,#0fb 254px,#fff 255px,#fff 260px,#09f 261px,#09f 266px,#0ff 291px,#0fe 296px,#0fe 306px,#0f9 325px,#0f9 335px,#0f7 345px,#0f7 353px)"></i>
<i class=w1 style="left:779px;background:linear-gradient(#09f 0,#09f 12px,#04f 31px,#00f 41px,#00c 52px,#00c 86px,#00f 87px,#00f 112px,#04f 122px,#07f 132px,#0af 151px,#0af 171px,#0df 182px,#0df 201px,#0ff 204px,#0fc 212px,#0fc 221px,#0ef 230px,#0ef 232px,#0ff 238px,#0ff 254px,#fff 255px,#fff 260px,#09f 261px,#09f 266px,#0ff 288px,#0fe 296px,#0fe 306px,#0fb 316px,#0f9 325px,#0f9 335px,#0f7 345px,#0f7 353px)"></i>
<i class=w1 style="left:780px;background:linear-gradient(#0af 0,#09f 12px,#06f 21px,#04f 32px,#00f 41px,#00c 52px,#00c 86px,#00f 87px,#00f 111px,#05f 122px,#06f 131px,#09f 151px,#09f 171px,#0bf 182px,#0bf 201px,#0ff 209px,#0fe 213px,#0ff 224px,#0bf 232px,#0bf 254px,#fff 255px,#fff 260px,#08f 261px,#08f 266px,#0ff 290px,#0fe 305px,#0fb 316px,#0fa 325px,#0f8 353px)"></i>
<i class=w1 style="left:781px;background:linear-gradient(#0af 0,#0af 12px,#06f 21px,#05f 32px,#00f 41px,#00c 52px,#00c 86px,#00f 87px,#00f 111px,#06f 122px,#09f 151px,#09f 171px,#0af 182px,#0af 201px,#0ef 212px,#0df 222px,#07f 242px,#07f 254px,#fff 255px,#fff 260px,#09f 261px,#09f 266px,#0ff 280px,#0fd 286px,#0fd 305px,#0f8 316px,#0f7 353px)"></i>
<i class=w1 style="left:782px;background:linear-gradient(#0af 0,#0af 11px,#06f 22px,#06f 31px,#00f 41px,#00c 52px,#00c 86px,#00f 87px,#00f 111px,#07f 122px,#09f 206px,#00f 207px,#00e 254px,#fff 255px,#fff 260px,#08f 261px,#08f 266px,#0ff 280px,#0fe 286px,#0fd 305px,#0f8 316px,#0f8 353px)"></i>
<i class=w1 style="left:783px;background:linear-gradient(#0bf 0,#0bf 11px,#06f 22px,#06f 31px,#00f 41px,#00c 53px,#00c 86px,#00f 87px,#00f 112px,#05f 122px,#06f 191px,#05f 206px,#00e 207px,#00e 254px,#fff 255px,#fff 260px,#05f 261px,#05f 266px,#0cf 286px,#0cf 305px,#0ff 309px,#0fc 316px,#0fc 353px)"></i>
<i class=w1 style="left:784px;background:linear-gradient(#0bf 0,#0bf 11px,#07f 22px,#06f 31px,#00f 41px,#00c 51px,#00c 55px,#00c 86px,#00f 87px,#00f 109px,#00f 112px,#05f 122px,#05f 141px,#07f 172px,#07f 191px,#06f 202px,#06f 231px,#00f 242px,#00f 254px,#fff 255px,#fff 260px,#05f 261px,#05f 266px,#0cf 286px,#0cf 305px,#0ff 310px,#0fd 316px,#0fd 353px)"></i>
<i class=w1 style="left:785px;background:linear-gradient(#0cf 0,#0cf 12px,#07f 21px,#06f 32px,#00f 41px,#00c 52px,#00c 86px,#00f 87px,#00f 102px,#02f 111px,#07f 122px,#07f 141px,#0af 151px,#0af 162px,#0cf 172px,#0cf 191px,#0af 202px,#0af 231px,#02f 242px,#02f 254px,#fff 255px,#fff 260px,#07f 261px,#07f 266px,#0ff 281px,#0fe 286px,#0fe 305px,#0fa 316px,#0fa 353px)"></i>
<i class=w1 style="left:786px;background:linear-gradient(#0cf 0,#0cf 12px,#08f 21px,#06f 32px,#00f 41px,#00c 52px,#00c 86px,#00f 87px,#00f 102px,#02f 111px,#07f 122px,#07f 141px,#0bf 152px,#0bf 162px,#0ff 172px,#0ff 191px,#0bf 202px,#0bf 231px,#02f 242px,#02f 254px,#fff 255px,#fff 260px,#06f 261px,#07f 266px,#0ff 284px,#0ff 305px,#0fb 316px,#0fb 353px)"></i>
<i class=w1 style="left:787px;background:linear-gradient(#0df 0,#0df 12px,#08f 21px,#06f 32px,#00f 41px,#00c 52px,#00c 86px,#00f 87px,#00f 102px,#07f 121px,#07f 141px,#0cf 151px,#0cf 161px,#0ff 169px,#0fe 172px,#0fe 191px,#0ff 195px,#0cf 202px,#0cf 231px,#03f 242px,#03f 254px,#fff 255px,#fff 260px,#05f 261px,#05f 266px,#0cf 286px,#0cf 305px,#0ff 313px,#0fe 353px)"></i>
<i class=w1 style="left:788px;background:linear-gradient(#0df 0,#0df 12px,#09f 21px,#06f 32px,#00f 41px,#00c 52px,#00c 86px,#00f 87px,#00f 103px,#05f 121px,#05f 141px,#09f 151px,#09f 162px,#0df 172px,#0df 191px,#09f 202px,#09f 231px,#02f 242px,#02f 254px,#fff 255px,#fff 260px,#05f 261px,#05f 266px,#0cf 286px,#0cf 305px,#0ff 314px,#0ff 353px)"></i>
<i class=w1 style="left:789px;background:linear-gradient(#0ef 0,#0df 12px,#09f 21px,#06f 31px,#00f 41px,#00c 52px,#00c 86px,#00f 87px,#00f 103px,#03f 112px,#05f 121px,#05f 141px,#0af 152px,#0af 162px,#0ff 172px,#0ff 191px,#0af 202px,#0af 231px,#03f 242px,#03f 254px,#fff 255px,#fff 260px,#07f 261px,#07f 266px,#0ff 281px,#0fe 286px,#0fe 305px,#0fc 316px,#0fc 353px)"></i>
<i style="left:790px;background:linear-gradient(#0ef 0,#0ef 12px,#06f 31px,#00f 41px,#00c 52px,#00c 86px,#00f 87px,#00f 102px,#05f 112px,#06f 122px,#06f 141px,#0ef 152px,#0ef 161px,#0fe 164px,#0fb 172px,#0fb 191px,#0ff 201px,#0ef 231px,#05f 242px,#05f 254px,#fff 255px,#fff 260px,#07f 261px,#07f 266px,#0ff 281px,#0fe 286px,#0fe 305px,#0fd 316px,#0fd 353px)"></i>
<i class=w1 style="left:792px;background:linear-gradient(#0ff 0,#0ff 12px,#06f 31px,#00f 41px,#00d 48px,#00c 52px,#00c 86px,#00f 87px,#00f 102px,#06f 112px,#06f 141px,#0ff 152px,#0ff 161px,#0fa 172px,#0fa 191px,#0ff 202px,#0ff 231px,#06f 242px,#06f 254px,#fff 255px,#fff 260px,#07f 261px,#07f 266px,#0ff 281px,#0fe 286px,#0fd 353px)"></i>
<i class=w1 style="left:793px;background:linear-gradient(#0ff 0,#0ff 12px,#06f 31px,#00f 41px,#00c 52px,#00c 71px,#00c 86px,#01f 87px,#01f 101px,#08f 112px,#08f 141px,#0ff 150px,#0fe 162px,#0f9 172px,#0f9 191px,#0fe 202px,#0fe 231px,#0ff 233px,#07f 242px,#07f 254px,#fff 255px,#fff 260px,#07f 261px,#08f 266px,#0ff 280px,#0fd 286px,#0fd 353px)"></i>
<i class=w1 style="left:794px;background:linear-gradient(#0ef 0,#0ef 12px,#05f 31px,#00f 40px,#00d 52px,#00d 86px,#03f 87px,#04f 102px,#0cf 112px,#0cf 141px,#0ff 146px,#0fc 152px,#0fc 162px,#0f8 172px,#0f7 191px,#0fb 202px,#0fc 231px,#0ff 235px,#08f 242px,#09f 254px,#fff 255px,#fff 260px,#07f 261px,#08f 266px,#0ff 280px,#0fd 286px,#0fe 316px,#0fd 353px)"></i>
<i class=w1 style="left:795px;background:linear-gradient(#0df 0,#0df 12px,#08f 21px,#05f 31px,#00f 39px,#00d 52px,#00e 86px,#05f 87px,#05f 101px,#0df 112px,#0df 141px,#0ff 145px,#0fd 152px,#0fb 162px,#0f8 172px,#0f7 191px,#0fb 202px,#0fd 231px,#0ff 235px,#08f 241px,#07f 242px,#09f 254px,#fff 255px,#fff 260px,#08f 261px,#08f 266px,#0ff 279px,#0fd 286px,#0fd 305px,#0fe 316px,#0fe 326px,#0fd 336px,#0fd 353px)"></i>
<i class=w1 style="left:796px;background:linear-gradient(#0cf 0,#0cf 12px,#07f 21px,#04f 31px,#00f 38px,#00e 42px,#00f 86px,#06f 87px,#06f 101px,#0ff 112px,#0ff 141px,#0fc 152px,#0fa 162px,#0f7 172px,#0f6 181px,#0f6 191px,#0f9 202px,#0fa 211px,#0fb 222px,#0fc 231px,#0ff 235px,#08f 241px,#07f 242px,#0af 254px,#fff 255px,#fff 260px,#0af 261px,#0af 266px,#0ff 275px,#0fb 286px,#0fb 305px,#0fd 316px,#0fd 326px,#0fb 336px,#0fb 353px)"></i>
<i class=w1 style="left:797px;background:linear-gradient(#0bf 0,#0bf 12px,#06f 21px,#03f 31px,#00f 37px,#00e 42px,#00f 52px,#00f 74px,#01f 86px,#08f 87px,#08f 101px,#0ff 109px,#0fd 112px,#0fd 141px,#0f4 181px,#0f4 191px,#0f9 211px,#0f9 222px,#0fa 231px,#0ff 236px,#0ef 237px,#09f 241px,#08f 242px,#0bf 251px,#0bf 254px,#fff 255px,#fff 260px,#0af 261px,#0bf 266px,#0ff 274px,#0fa 286px,#0fa 305px,#0fd 317px,#0fd 326px,#0fa 336px,#0fa 353px)"></i>
<i class=w1 style="left:798px;background:linear-gradient(#0af 0,#0af 12px,#05f 21px,#03f 31px,#00f 36px,#00d 42px,#00f 50px,#01f 52px,#01f 71px,#03f 81px,#03f 86px,#0cf 87px,#0cf 101px,#0ff 104px,#0fa 112px,#0fa 142px,#0f1 182px,#0f1 192px,#0f5 211px,#0f5 222px,#0f8 231px,#0ff 239px,#0bf 241px,#0af 242px,#0ff 251px,#0ff 254px,#fff 255px,#fff 260px,#08f 261px,#08f 266px,#0cf 275px,#0ff 280px,#0fd 286px,#0fd 305px,#0ff 314px,#0ef 316px,#0ef 325px,#0ff 328px,#0fd 336px,#0fd 353px)"></i>
<i class=w1 style="left:799px;background:linear-gradient(#09f 0,#09f 11px,#04f 21px,#02f 31px,#00f 35px,#00d 41px,#00f 48px,#02f 52px,#02f 71px,#05f 81px,#05f 86px,#0ff 87px,#0ff 102px,#0f8 112px,#0f8 142px,#0f0 178px,#2f0 182px,#2f0 191px,#0f0 199px,#0f3 211px,#0f4 222px,#0f6 231px,#0fe 239px,#0ef 240px,#0cf 241px,#0bf 242px,#0ff 249px,#0fe 254px,#fff 255px,#fff 260px,#08f 261px,#08f 266px,#0ff 280px,#0fd 286px,#0fd 305px,#0ff 314px,#0ef 316px,#0ef 325px,#0ff 327px,#0fd 336px,#0fd 353px)"></i>
<i class=w1 style="left:800px;background:linear-gradient(#08f 0,#08f 11px,#03f 21px,#01f 31px,#00f 34px,#00d 41px,#00f 47px,#03f 52px,#03f 71px,#06f 81px,#07f 86px,#0fe 87px,#0fe 101px,#0f6 112px,#0f6 142px,#0f5 151px,#0f2 161px,#0f0 173px,#5f0 182px,#5f0 191px,#3f0 201px,#0f0 207px,#0f2 212px,#0f2 222px,#0f5 231px,#0ff 240px,#0df 241px,#0cf 242px,#0ff 246px,#0fd 254px,#fff 255px,#fff 260px,#09f 261px,#09f 266px,#0ff 279px,#0fc 286px,#0fc 305px,#0ff 314px,#0ef 316px,#0ef 325px,#0ff 327px,#0fc 336px,#0fc 353px)"></i>
<i class=w1 style="left:801px;background:linear-gradient(#07f 0,#07f 11px,#01f 22px,#00f 33px,#00c 41px,#00f 47px,#04f 52px,#04f 71px,#08f 81px,#08f 86px,#0fb 87px,#0fb 101px,#0f2 112px,#0f2 142px,#0f2 151px,#1f0 157px,#4f0 162px,#5f0 172px,#cf0 182px,#cf0 191px,#af0 201px,#4f0 211px,#3f0 221px,#0f0 227px,#0f2 232px,#0fe 241px,#0ff 242px,#0fb 251px,#0fb 254px,#fff 255px,#fff 260px,#08f 261px,#09f 266px,#0cf 275px,#0ff 280px,#0fc 286px,#0fc 305px,#0ff 312px,#0df 315px,#0df 318px,#0df 325px,#0ff 329px,#0fc 336px,#0fc 353px)"></i>
<i class=w1 style="left:802px;background:linear-gradient(#07f 0,#07f 11px,#00f 22px,#00f 32px,#00c 41px,#00f 46px,#05f 52px,#05f 71px,#0af 81px,#0af 86px,#0fa 87px,#0fa 101px,#0f0 112px,#0f0 152px,#6f0 161px,#8f0 172px,#ff0 182px,#ff0 191px,#ef0 201px,#7f0 211px,#6f0 222px,#0f0 231px,#0fe 241px,#0fe 242px,#0fa 251px,#0fa 254px,#fff 255px,#fff 260px,#09f 261px,#09f 266px,#0df 275px,#0ff 279px,#0fc 286px,#0fc 305px,#0ff 313px,#0df 316px,#0df 325px,#0ff 328px,#0fc 336px,#0fc 353px)"></i>
<i class=w1 style="left:803px;background:linear-gradient(#06f 0,#05f 11px,#00f 21px,#00f 32px,#00c 41px,#00f 46px,#00f 47px,#06f 52px,#06f 62px,#0fb 63px,#0fa 86px,#0fd 87px,#0fc 101px,#0f3 112px,#0f3 151px,#0f0 158px,#3f0 162px,#3f0 172px,#af0 182px,#af0 201px,#2f0 212px,#2f0 221px,#0f0 224px,#0f2 231px,#0ff 240px,#0df 241px,#0df 242px,#0ff 245px,#0fc 251px,#0fc 254px,#fff 255px,#fff 260px,#0cf 261px,#0cf 266px,#0ff 273px,#0fa 286px,#0fa 305px,#0fe 315px,#0ff 325px,#0fa 336px,#0fa 353px)"></i>
<i class=w1 style="left:804px;background:linear-gradient(#05f 0,#04f 11px,#00f 20px,#00e 32px,#00c 41px,#00e 46px,#00f 47px,#05f 52px,#05f 62px,#0fb 63px,#0fa 86px,#0fd 87px,#0fc 101px,#0f4 112px,#0f4 131px,#0f3 141px,#0f3 151px,#0f0 159px,#2f0 162px,#2f0 172px,#9f0 182px,#9f0 201px,#0f0 211px,#0f1 222px,#0f2 231px,#0f3 232px,#0fe 240px,#0ef 241px,#0ef 242px,#0ff 244px,#0fb 251px,#0fb 254px,#fff 255px,#fff 260px,#0ff 261px,#0ff 266px,#0f9 286px,#0f9 305px,#0fd 315px,#0fd 325px,#0f9 336px,#0f9 353px)"></i>
<i class=w1 style="left:805px;background:linear-gradient(#04f 0,#03f 11px,#00f 18px,#00e 22px,#00e 32px,#00c 41px,#00f 47px,#04f 52px,#05f 62px,#0fa 63px,#0f9 86px,#0fb 87px,#0fb 91px,#0f9 101px,#0f2 112px,#0f2 131px,#0f0 140px,#1f0 152px,#6f0 162px,#6f0 171px,#cf0 182px,#cf0 201px,#2f0 212px,#3f0 231px,#1f0 232px,#0f1 233px,#0fc 241px,#0fd 242px,#0f7 251px,#0f7 254px,#fff 255px,#fff 260px,#0f8 261px,#0f8 266px,#0f3 286px,#0f3 305px,#0f7 316px,#0f8 325px,#0f4 336px,#0f4 353px)"></i>
<i class=w1 style="left:806px;background:linear-gradient(#04f 0,#02f 11px,#00f 16px,#00e 22px,#00e 32px,#00c 41px,#00f 47px,#04f 52px,#04f 62px,#0fa 63px,#0f9 86px,#0fc 87px,#0fc 92px,#0fb 101px,#0f4 112px,#0f4 131px,#0f1 141px,#0f0 155px,#4f0 162px,#4f0 172px,#9f0 182px,#9f0 201px,#0f0 209px,#0f0 210px,#0f1 212px,#0f1 221px,#0f0 228px,#1f0 231px,#0f0 232px,#0fd 241px,#0fd 242px,#0f7 251px,#0f7 254px,#fff 255px,#fff 260px,#0f6 261px,#0f6 266px,#0f3 276px,#0f2 286px,#0f2 305px,#0f5 316px,#0f6 325px,#0f3 336px,#0f3 353px)"></i>
<i class=w1 style="left:807px;background:linear-gradient(#03f 0,#00f 13px,#00e 21px,#00d 32px,#00c 41px,#00e 46px,#0fe 47px,#0fe 62px,#0fa 63px,#0fa 86px,#0fd 87px,#0fc 92px,#0fb 101px,#0f5 112px,#0f5 131px,#0f1 142px,#0f0 155px,#3f0 162px,#3f0 172px,#7f0 182px,#7f0 201px,#0f0 208px,#0f3 212px,#0f3 221px,#0f0 228px,#2f0 231px,#1f0 232px,#0f1 233px,#0fc 241px,#0fd 242px,#0f6 251px,#0f6 254px,#fff 255px,#fff 260px,#0f8 261px,#0f8 266px,#0f5 276px,#0f4 286px,#0f4 305px,#0f9 325px,#0f6 336px,#0f6 353px)"></i>
<i class=w1 style="left:808px;background:linear-gradient(#03f 0,#00f 10px,#00d 21px,#00d 32px,#00c 41px,#00e 46px,#0fe 47px,#0fe 62px,#0fa 63px,#0fa 86px,#0fb 87px,#0fb 92px,#0f8 102px,#0f4 111px,#0f4 131px,#0f0 140px,#2f0 142px,#2f0 152px,#5f0 162px,#5f0 172px,#9f0 182px,#9f0 201px,#8f0 202px,#0f0 208px,#0f1 209px,#0f2 212px,#0f2 221px,#0f0 225px,#5f0 231px,#5f0 232px,#0f0 234px,#0fa 241px,#0fa 242px,#0f4 251px,#0f3 254px,#fff 255px,#fff 260px,#0f6 261px,#0f6 266px,#0f4 272px,#0f2 273px,#0f1 276px,#0f1 280px,#0f3 281px,#0f3 306px,#0f7 325px,#0f5 336px,#0f5 353px)"></i>
<i class=w1 style="left:809px;background:linear-gradient(#02f 0,#00f 7px,#00d 21px,#00c 41px,#00e 46px,#0fe 47px,#0fe 62px,#0fa 63px,#0fa 86px,#0fc 87px,#0fc 91px,#0f5 112px,#0f5 131px,#0f0 140px,#2f0 142px,#2f0 151px,#4f0 162px,#4f0 171px,#7f0 182px,#7f0 201px,#0f0 207px,#0f4 212px,#0f4 221px,#0f0 226px,#6f0 231px,#5f0 232px,#1f0 234px,#0fa 241px,#0fa 242px,#0f3 251px,#0f2 254px,#fff 255px,#fff 260px,#0f4 261px,#0f4 264px,#0f3 265px,#0f0 271px,#3f0 275px,#2f0 278px,#6f0 279px,#5f0 288px,#4f0 289px,#4f0 306px,#0f0 325px,#1f0 336px,#1f0 353px)"></i>
<i class=w1 style="left:810px;background:linear-gradient(#01f 0,#00f 5px,#00d 12px,#00c 41px,#00e 46px,#0fe 47px,#0fe 62px,#0fa 63px,#0fa 86px,#0fc 87px,#0fc 91px,#0f9 101px,#0f6 111px,#0f6 131px,#0f0 140px,#2f0 142px,#2f0 151px,#4f0 161px,#4f0 171px,#6f0 182px,#6f0 201px,#5f0 202px,#1f0 205px,#0f5 212px,#0f5 221px,#0f0 227px,#7f0 231px,#6f0 232px,#1f0 234px,#0f1 235px,#0f9 241px,#0f9 242px,#0f2 251px,#0f1 254px,#fff 255px,#fff 260px,#0f0 261px,#3f0 262px,#4f0 266px,#cf0 275px,#bf0 278px,#cf0 279px,#af0 291px,#9f0 292px,#9f0 305px,#8f0 315px,#5f0 325px,#6f0 336px,#6f0 353px)"></i>
<i class=w1 style="left:811px;background:linear-gradient(#01f 0,#00d 12px,#00c 41px,#00f 51px,#01f 61px,#01f 62px,#0fa 63px,#0f9 86px,#0fd 87px,#0fd 91px,#0f9 101px,#0f7 111px,#0f7 131px,#0f0 140px,#1f0 141px,#1f0 142px,#3f0 171px,#4f0 182px,#4f0 201px,#0f0 204px,#0f7 212px,#0f7 221px,#0f1 227px,#1f0 228px,#7f0 231px,#7f0 232px,#2f0 234px,#0f0 235px,#0f9 241px,#0f9 242px,#0f1 251px,#0f1 254px,#fff 255px,#fff 260px,#7f0 261px,#9f0 266px,#ff0 272px,#fe0 276px,#ff0 280px,#bf0 286px,#8f0 294px,#6f0 295px,#6f0 305px,#5f0 315px,#0f0 323px,#0f1 326px,#0f0 353px)"></i>
<i class=w1 style="left:812px;background:linear-gradient(#00f 0,#00c 12px,#00c 41px,#00f 51px,#00f 61px,#00f 62px,#0fa 63px,#0f9 86px,#0fe 87px,#0fe 91px,#0f9 102px,#0f8 131px,#0f1 140px,#1f0 141px,#1f0 142px,#2f0 182px,#2f0 201px,#1f0 202px,#0f0 203px,#0f8 212px,#0f8 221px,#0f8 222px,#0f1 227px,#1f0 228px,#7f0 231px,#7f0 232px,#0f0 235px,#0f8 241px,#0f9 242px,#0f0 251px,#1f0 254px,#fff 255px,#fff 260px,#6f0 261px,#9f0 266px,#ff0 271px,#fe0 276px,#ff0 280px,#9f0 286px,#5f0 296px,#3f0 297px,#2f0 315px,#0f0 319px,#0f3 326px,#0f2 353px)"></i>
<i class=w1 style="left:813px;background:linear-gradient(#00f 0,#00c 12px,#00c 41px,#00f 51px,#00f 62px,#0fa 63px,#0f9 86px,#0ef 87px,#0ef 91px,#0ff 93px,#0fb 102px,#0fb 131px,#0f2 142px,#0f2 201px,#0fb 212px,#0fb 221px,#0fa 222px,#0f1 229px,#1f0 230px,#3f0 231px,#3f0 232px,#1f0 233px,#0f1 234px,#0fa 241px,#0fa 242px,#0f2 251px,#0f1 254px,#fff 255px,#fff 260px,#9f0 261px,#cf0 265px,#ff0 268px,#fd0 273px,#fd0 278px,#ff0 284px,#df0 286px,#6f0 298px,#4f0 299px,#4f0 315px,#0f0 321px,#0f2 326px,#0f2 353px)"></i>
<i class=w1 style="left:814px;background:linear-gradient(#00e 0,#00c 12px,#00c 41px,#00e 51px,#00f 62px,#0fd 63px,#0fc 72px,#0fc 86px,#0cf 87px,#0cf 90px,#0cf 92px,#0ff 96px,#0fd 102px,#0fd 131px,#0f5 142px,#0f4 182px,#0f4 201px,#0fb 211px,#0fb 221px,#0fb 222px,#0f0 231px,#0f0 232px,#0fa 241px,#0fa 242px,#0f3 251px,#0f2 254px,#fff 255px,#fff 260px,#ef0 261px,#ff0 263px,#fc0 271px,#fc0 281px,#ff0 289px,#bf0 295px,#9f0 299px,#6f0 300px,#5f0 315px,#0f0 324px,#0f1 335px,#0f1 353px)"></i>
<i class=w1 style="left:815px;background:linear-gradient(#00e 0,#00c 12px,#00c 41px,#00e 51px,#00e 62px,#0fd 63px,#0fc 86px,#0af 87px,#0af 92px,#0ef 102px,#0ef 131px,#0ff 132px,#0f8 142px,#0f8 162px,#0f7 182px,#0f7 201px,#0fc 211px,#0fd 221px,#0f3 231px,#0f3 232px,#0fb 241px,#0fb 242px,#0f5 251px,#0f4 254px,#fff 255px,#fff 260px,#df0 261px,#ff0 264px,#fd0 269px,#fd0 283px,#ff0 288px,#ff0 289px,#8f0 296px,#6f0 300px,#4f0 301px,#4f0 306px,#2f0 315px,#0f0 320px,#0f2 326px,#0f3 335px,#0f3 353px)"></i>
<i class=w1 style="left:816px;background:linear-gradient(#00e 0,#00c 12px,#00c 41px,#00e 51px,#00e 61px,#00f 67px,#02f 72px,#02f 86px,#08f 87px,#08f 92px,#0cf 102px,#0cf 131px,#0ff 135px,#0fb 142px,#0fb 162px,#0f9 182px,#0f9 201px,#0fd 211px,#0fd 221px,#0f5 231px,#0f5 232px,#0fb 241px,#0fb 242px,#0f6 251px,#0f5 254px,#fff 255px,#fff 260px,#fe0 261px,#fc0 267px,#fc0 285px,#ff0 292px,#bf0 296px,#9f0 301px,#6f0 302px,#6f0 306px,#4f0 315px,#0f0 323px,#0f2 336px,#0f2 353px)"></i>
<i class=w1 style="left:817px;background:linear-gradient(#00e 0,#00c 12px,#00c 41px,#00d 51px,#00e 62px,#00f 70px,#01f 86px,#0bf 87px,#0bf 92px,#0ef 102px,#0ef 131px,#0ef 132px,#0ff 133px,#0f9 142px,#0f9 161px,#0f6 182px,#0f6 201px,#0fa 212px,#0fa 221px,#0f2 231px,#0f2 232px,#0f7 242px,#0f2 251px,#0f2 254px,#fff 255px,#fff 260px,#fe0 261px,#fc0 266px,#fc0 287px,#ff0 293px,#bf0 297px,#9f0 302px,#7f0 303px,#6f0 306px,#0f0 323px,#0f3 336px,#0f3 353px)"></i>
<i class=w1 style="left:818px;background:linear-gradient(#00d 0,#00c 12px,#00c 41px,#00f 72px,#00f 86px,#09f 87px,#0af 102px,#0af 131px,#0ef 136px,#0ff 137px,#0fc 142px,#0fc 162px,#0f8 182px,#0f8 201px,#0fa 212px,#0fa 221px,#0f4 231px,#0f7 242px,#0f3 251px,#0f3 254px,#fff 255px,#fff 260px,#fd0 261px,#fc0 265px,#fc0 287px,#ff0 293px,#cf0 297px,#9f0 302px,#7f0 303px,#6f0 306px,#0f0 323px,#0f3 336px,#0f3 353px)"></i>
<i class=w1 style="left:819px;background:linear-gradient(#00d 0,#00c 12px,#00c 41px,#00e 72px,#00e 86px,#05f 87px,#04f 131px,#0af 142px,#0af 161px,#0ff 174px,#0fe 182px,#0fe 221px,#0f9 231px,#0fb 241px,#0f8 251px,#0f7 254px,#fff 255px,#fff 260px,#ff0 261px,#fe0 264px,#fe0 288px,#ff0 290px,#7f0 296px,#4f0 302px,#1f0 303px,#0f0 309px,#0f4 326px,#0f7 336px,#0f7 353px)"></i>
<i class=w1 style="left:820px;background:linear-gradient(#00d 0,#00c 41px,#00d 86px,#04f 87px,#04f 92px,#02f 102px,#02f 131px,#06f 142px,#06f 162px,#0ff 181px,#0ff 201px,#0fe 212px,#0fe 221px,#0fa 231px,#0fa 241px,#0f8 254px,#fff 255px,#fff 260px,#ff0 261px,#fe0 264px,#fe0 288px,#ff0 290px,#7f0 296px,#4f0 302px,#1f0 303px,#1f0 306px,#0f0 308px,#0f2 316px,#0f4 326px,#0f7 336px,#0f7 353px)"></i>
<i class=w1 style="left:821px;background:linear-gradient(#00c 0,#00c 41px,#00d 86px,#02f 87px,#02f 91px,#00f 97px,#00e 102px,#00e 131px,#00f 138px,#01f 142px,#01f 161px,#0af 182px,#0af 201px,#0ef 211px,#0ff 223px,#0fb 242px,#0fa 254px,#fff 255px,#fff 260px,#fd0 261px,#fc0 264px,#fc0 288px,#ff0 294px,#cf0 296px,#af0 301px,#7f0 302px,#7f0 306px,#1f0 316px,#0f0 325px,#0f4 336px,#0f4 353px)"></i>
<i class=w1 style="left:822px;background:linear-gradient(#00c 0,#00c 86px,#00f 87px,#00f 92px,#00d 102px,#00d 161px,#00f 168px,#03f 174px,#0f8 175px,#0f7 189px,#07f 190px,#07f 201px,#0ff 212px,#0ff 231px,#0fb 242px,#0fa 254px,#fff 255px,#fff 260px,#fd0 261px,#fc0 264px,#fc0 287px,#ff0 293px,#cf0 296px,#af0 300px,#7f0 301px,#7f0 306px,#0f0 316px,#0f0 325px,#0f5 336px,#0f5 353px)"></i>
<i class=w1 style="left:823px;background:linear-gradient(#00c 0,#00c 86px,#00f 87px,#00f 92px,#00c 102px,#00c 161px,#00f 171px,#01f 174px,#0f8 175px,#0f7 189px,#06f 190px,#06f 201px,#0ef 212px,#0ff 232px,#0fb 242px,#0fb 254px,#fff 255px,#fff 260px,#fd0 261px,#fc0 267px,#fc0 286px,#ff0 292px,#bf0 296px,#9f0 299px,#7f0 300px,#6f0 306px,#0f0 314px,#0f1 326px,#0f5 336px,#0f5 353px)"></i>
<i class=w1 style="left:824px;background:linear-gradient(#00c 0,#00c 86px,#00f 87px,#00f 92px,#00c 102px,#00c 141px,#00d 161px,#00f 170px,#02f 174px,#0f8 175px,#0f7 189px,#06f 190px,#06f 201px,#0df 212px,#0df 222px,#0ff 232px,#0fc 242px,#0fb 254px,#fff 255px,#fff 260px,#fe0 261px,#fc0 272px,#fc0 279px,#fc0 285px,#ff0 292px,#bf0 295px,#9f0 298px,#7f0 299px,#5f0 305px,#0f0 314px,#0f2 326px,#0f6 336px,#0f6 353px)"></i>
<i class=w1 style="left:825px;background:linear-gradient(#00c 0,#00c 86px,#00f 87px,#00f 92px,#00c 102px,#00c 141px,#00d 151px,#00e 162px,#00f 168px,#03f 174px,#0f6 175px,#0f5 189px,#07f 190px,#07f 201px,#0ff 211px,#0ff 222px,#0fe 231px,#0fb 242px,#0f9 254px,#fff 255px,#fff 260px,#ff0 261px,#fd0 277px,#fe0 285px,#ff0 289px,#8f0 296px,#5f0 297px,#0f0 308px,#0f2 316px,#0f4 326px,#0f7 336px,#0f7 353px)"></i>
<i class=w1 style="left:826px;background:linear-gradient(#00c 0,#00c 86px,#00f 87px,#00f 92px,#00c 102px,#00c 141px,#00e 152px,#00e 161px,#00f 165px,#04f 174px,#0f5 175px,#0f5 189px,#07f 190px,#07f 201px,#0ef 212px,#0ef 221px,#0ff 224px,#0fa 254px,#fff 255px,#fff 260px,#df0 261px,#ff0 267px,#fe0 277px,#ff0 286px,#8f0 294px,#5f0 295px,#0f0 304px,#0f8 335px,#0f8 353px)"></i>
<i class=w1 style="left:827px;background:linear-gradient(#00c 0,#00c 86px,#00f 87px,#00f 92px,#00c 102px,#00c 141px,#00f 152px,#00f 162px,#05f 174px,#0f4 175px,#0f4 189px,#08f 190px,#08f 201px,#0ef 212px,#0ef 221px,#0ff 223px,#0fd 231px,#0fc 241px,#0f9 254px,#fff 255px,#fff 260px,#9f0 261px,#bf0 262px,#ef0 272px,#ef0 280px,#cf0 286px,#9f0 291px,#6f0 292px,#4f0 296px,#0f0 302px,#0f2 306px,#0f9 335px,#0f9 353px)"></i>
<i class=w1 style="left:828px;background:linear-gradient(#00c 0,#00c 86px,#00f 87px,#00f 92px,#00c 102px,#00c 141px,#00f 151px,#00f 161px,#03f 174px,#0f9 175px,#0f9 189px,#05f 190px,#05f 201px,#08f 211px,#09f 222px,#0df 231px,#0cf 241px,#0ff 248px,#0fe 254px,#fff 255px,#fff 260px,#8f0 261px,#8f0 264px,#af0 265px,#bf0 280px,#af0 285px,#9f0 288px,#6f0 289px,#4f0 295px,#0f0 300px,#0f3 306px,#0fa 335px,#0fa 353px)"></i>
<i class=w1 style="left:829px;background:linear-gradient(#00c 0,#00c 86px,#00f 87px,#00f 92px,#00c 102px,#00c 141px,#00f 149px,#01f 152px,#01f 162px,#05f 181px,#05f 201px,#08f 211px,#08f 221px,#0df 231px,#0bf 241px,#0ff 250px,#0ff 254px,#fff 255px,#fff 260px,#6f0 261px,#6f0 272px,#8f0 273px,#8f0 280px,#6f0 281px,#6f0 286px,#3f0 295px,#0f0 298px,#0f5 306px,#0f6 316px,#0f9 326px,#0fb 336px,#0fb 353px)"></i>
<i class=w1 style="left:830px;background:linear-gradient(#00c 0,#00c 86px,#00f 87px,#00f 92px,#00c 102px,#00c 141px,#00f 148px,#02f 152px,#02f 162px,#05f 182px,#05f 201px,#07f 211px,#07f 221px,#0df 232px,#09f 242px,#0ff 251px,#0ff 254px,#fff 255px,#fff 260px,#3f0 261px,#3f0 285px,#1f0 296px,#0f7 306px,#0f8 316px,#0fb 326px,#0fd 336px,#0fd 353px)"></i>
<i class=w1 style="left:831px;background:linear-gradient(#00c 0,#00c 86px,#00f 87px,#00f 92px,#00c 102px,#00c 141px,#00f 147px,#03f 152px,#06f 221px,#0df 231px,#08f 242px,#0ef 251px,#0ef 254px,#fff 255px,#fff 260px,#2f0 261px,#2f0 285px,#0f0 295px,#0f0 296px,#0f8 306px,#0f9 315px,#0fd 326px,#0fd 353px)"></i>
<i class=w1 style="left:832px;background:linear-gradient(#00c 0,#00c 86px,#00f 87px,#00f 92px,#00c 102px,#00c 141px,#00f 147px,#04f 152px,#05f 221px,#0df 231px,#0df 232px,#06f 241px,#06f 242px,#0df 251px,#0df 254px,#fff 255px,#fff 260px,#0f0 261px,#0f0 295px,#0f9 306px,#0fa 315px,#0fe 326px,#0fe 353px)"></i>
<i class=w1 style="left:833px;background:linear-gradient(#00c 0,#00c 86px,#00f 87px,#00e 92px,#00c 102px,#00c 141px,#00f 147px,#03f 152px,#03f 221px,#09f 231px,#03f 242px,#09f 251px,#09f 254px,#fff 255px,#fff 260px,#0f2 261px,#0f2 295px,#0fb 306px,#0fc 315px,#0ff 323px,#0df 326px,#0df 353px)"></i>
<i style="left:834px;background:linear-gradient(#00c 0,#00c 61px,#00c 86px,#00f 87px,#00f 92px,#00c 102px,#00c 111px,#00d 122px,#00d 141px,#00f 145px,#06f 152px,#06f 221px,#0cf 231px,#0cf 232px,#05f 241px,#05f 242px,#0cf 251px,#0df 254px,#fff 255px,#fff 260px,#0f4 261px,#0f3 266px,#0f2 276px,#0f2 286px,#0f3 295px,#0fb 306px,#0fc 315px,#0ff 322px,#0cf 326px,#0df 353px)"></i>
<i class=w1 style="left:836px;background:linear-gradient(#00c 0,#00c 51px,#00d 61px,#00c 72px,#00c 86px,#00f 87px,#00f 92px,#00c 102px,#00c 111px,#00e 122px,#00e 141px,#00f 144px,#05f 152px,#05f 221px,#0af 231px,#0af 232px,#04f 241px,#04f 242px,#0af 251px,#0af 254px,#fff 255px,#fff 260px,#0f3 261px,#0f3 266px,#0f0 275px,#1f0 285px,#0f0 287px,#0f3 296px,#0f9 305px,#0fb 315px,#0ff 323px,#0df 326px,#0df 335px,#0ef 345px,#0ff 353px)"></i>
<i class=w1 style="left:837px;background:linear-gradient(#00c 0,#00c 51px,#00d 61px,#00c 72px,#00c 86px,#00f 87px,#00f 92px,#00c 102px,#00c 111px,#00f 122px,#00f 142px,#05f 152px,#05f 221px,#09f 231px,#03f 241px,#03f 242px,#09f 251px,#0af 254px,#fff 255px,#fff 260px,#0f3 261px,#0f3 266px,#0f0 272px,#1f0 273px,#3f0 276px,#3f0 285px,#0f0 289px,#0f8 305px,#0fa 315px,#0ff 324px,#0df 326px,#0df 335px,#0ff 344px,#0ff 353px)"></i>
<i class=w1 style="left:838px;background:linear-gradient(#00c 0,#00c 51px,#00d 61px,#00c 72px,#00c 86px,#00f 87px,#00f 92px,#00c 102px,#00c 111px,#00f 120px,#01f 122px,#01f 141px,#07f 152px,#07f 221px,#0cf 231px,#0bf 232px,#04f 241px,#04f 242px,#0bf 251px,#0cf 254px,#fff 255px,#fff 260px,#0f4 261px,#0f4 266px,#0f0 273px,#3f0 276px,#3f0 285px,#1f0 287px,#0f0 289px,#0f8 305px,#0fb 315px,#0ff 323px,#0cf 326px,#0cf 335px,#0ff 345px,#0ff 353px)"></i>
<i class=w1 style="left:839px;background:linear-gradient(#00c 0,#00c 51px,#00e 61px,#00c 72px,#00c 86px,#00f 87px,#00f 92px,#00c 102px,#00c 111px,#00f 118px,#02f 122px,#02f 141px,#07f 152px,#07f 221px,#0bf 231px,#0af 232px,#03f 241px,#03f 242px,#0af 251px,#0bf 254px,#fff 255px,#fff 260px,#0f7 261px,#0f7 266px,#0f1 276px,#0f1 286px,#0f7 296px,#0ff 319px,#09f 326px,#09f 335px,#0cf 345px,#0cf 353px)"></i>
<i class=w1 style="left:840px;background:linear-gradient(#00c 0,#00c 51px,#00e 61px,#00c 72px,#00c 86px,#00f 87px,#00f 92px,#00c 102px,#00c 111px,#00f 117px,#00f 118px,#04f 122px,#04f 141px,#07f 152px,#07f 221px,#0af 231px,#02f 241px,#02f 242px,#09f 251px,#0af 254px,#fff 255px,#fff 260px,#0f8 261px,#0f8 266px,#0f1 276px,#0f1 285px,#0f8 296px,#0fb 306px,#0ff 318px,#08f 326px,#08f 335px,#0bf 345px,#0bf 353px)"></i>
<i style="left:841px;background:linear-gradient(#00c 0,#00c 51px,#00e 61px,#00c 72px,#00c 86px,#00f 87px,#00f 92px,#00c 102px,#00c 111px,#00f 117px,#04f 122px,#04f 141px,#05f 152px,#05f 221px,#05f 231px,#00f 242px,#05f 251px,#05f 254px,#fff 255px,#fff 260px,#0fb 261px,#0fa 266px,#0f2 276px,#0f2 285px,#0fb 296px,#0fc 305px,#0ff 314px,#06f 326px,#06f 335px,#09f 345px,#09f 353px)"></i>
<i class=w1 style="left:843px;background:linear-gradient(#00c 0,#00c 51px,#00f 61px,#00c 72px,#00c 86px,#00f 87px,#00f 92px,#00c 102px,#00c 111px,#00f 117px,#04f 122px,#04f 142px,#04f 231px,#00f 240px,#00f 243px,#04f 251px,#04f 254px,#fff 255px,#fff 260px,#0f9 261px,#0f8 266px,#0f0 275px,#1f0 276px,#2f0 285px,#1f0 286px,#0f1 287px,#0f8 296px,#0f9 306px,#0ff 318px,#07f 326px,#07f 335px,#0cf 345px,#0cf 353px)"></i>
<i class=w1 style="left:844px;background:linear-gradient(#00c 0,#00c 51px,#00e 61px,#00c 72px,#00c 86px,#00f 87px,#00f 92px,#00c 102px,#00c 111px,#00f 117px,#04f 122px,#05f 142px,#05f 231px,#00f 239px,#00f 243px,#05f 251px,#05f 254px,#fff 255px,#fff 260px,#0fa 261px,#0f9 266px,#0f1 276px,#0f0 285px,#0f8 295px,#0f9 306px,#0ff 318px,#07f 326px,#07f 335px,#0bf 345px,#0cf 353px)"></i>
<i class=w1 style="left:845px;background:linear-gradient(#00c 0,#00c 51px,#00e 61px,#00c 72px,#00c 86px,#00f 87px,#00f 92px,#00c 102px,#00c 111px,#00f 118px,#03f 122px,#03f 131px,#05f 142px,#05f 231px,#00f 239px,#00e 241px,#00f 244px,#04f 251px,#05f 254px,#fff 255px,#fff 260px,#0fd 261px,#0fc 266px,#0f4 276px,#0f3 285px,#0fa 296px,#0fb 305px,#0ff 315px,#06f 326px,#06f 335px,#09f 345px,#09f 353px)"></i>
<i class=w1 style="left:846px;background:linear-gradient(#00c 0,#00c 51px,#00e 61px,#00c 72px,#00c 86px,#00f 87px,#00f 92px,#00c 102px,#00c 111px,#00f 119px,#01f 122px,#01f 132px,#03f 142px,#03f 231px,#00f 237px,#00e 241px,#00f 245px,#03f 251px,#03f 254px,#fff 255px,#fff 260px,#0fe 261px,#0fd 266px,#0f6 276px,#0f4 285px,#0fa 296px,#0fc 305px,#0ff 315px,#06f 326px,#06f 335px,#09f 345px,#09f 353px)"></i>
<i class=w1 style="left:847px;background:linear-gradient(#00c 0,#00c 51px,#00d 61px,#00c 72px,#00c 86px,#00f 87px,#00f 92px,#00c 102px,#00c 111px,#00f 121px,#00f 132px,#02f 142px,#02f 231px,#00f 236px,#00e 241px,#00f 246px,#02f 251px,#02f 254px,#fff 255px,#fff 260px,#0ff 261px,#0ff 266px,#0f8 276px,#0f6 285px,#0fb 296px,#0ff 314px,#06f 326px,#06f 335px,#08f 345px,#08f 353px)"></i>
<i class=w1 style="left:848px;background:linear-gradient(#00c 0,#00c 51px,#00d 61px,#00c 72px,#00c 86px,#00f 87px,#00f 92px,#00c 102px,#00c 111px,#00f 122px,#00f 134px,#02f 142px,#02f 231px,#00f 235px,#00d 241px,#00f 247px,#02f 251px,#02f 254px,#fff 255px,#fff 260px,#0df 261px,#0df 265px,#0ff 267px,#0f9 276px,#0f7 285px,#0fb 296px,#0ff 313px,#0ef 316px,#06f 326px,#06f 335px,#07f 345px,#07f 353px)"></i>
<i class=w1 style="left:849px;background:linear-gradient(#00c 0,#00c 51px,#00d 61px,#00c 72px,#00c 86px,#00f 87px,#00f 92px,#00c 102px,#00c 111px,#00e 121px,#00f 138px,#01f 142px,#01f 231px,#00f 234px,#00d 242px,#00f 249px,#01f 254px,#fff 255px,#fff 260px,#0cf 261px,#0cf 265px,#0ff 268px,#0fa 276px,#0f7 285px,#0fe 305px,#0ff 314px,#0ef 316px,#06f 326px,#07f 353px)"></i>
<i class=w1 style="left:850px;background:linear-gradient(#00c 0,#00c 51px,#00d 61px,#00c 86px,#00f 87px,#00f 92px,#00c 102px,#00c 111px,#00d 121px,#00e 132px,#00f 139px,#01f 142px,#01f 231px,#00f 233px,#00d 242px,#00f 249px,#01f 254px,#fff 255px,#fff 260px,#0af 261px,#0bf 266px,#0ff 270px,#0fc 276px,#0f8 286px,#0fe 305px,#0ff 313px,#0ef 316px,#06f 326px,#07f 353px)"></i>
<i class=w1 style="left:851px;background:linear-gradient(#00c 0,#00c 86px,#00f 87px,#00f 92px,#00c 102px,#00c 111px,#00d 131px,#00f 141px,#00f 232px,#00c 242px,#00f 250px,#00f 254px,#fff 255px,#fff 260px,#08f 261px,#08f 266px,#0ff 273px,#0fa 286px,#0fb 295px,#0ff 306px,#0ef 315px,#05f 326px,#06f 353px)"></i>
<i class=w1 style="left:852px;background:linear-gradient(#00c 0,#00c 86px,#00f 87px,#00f 92px,#00c 102px,#00c 131px,#00f 142px,#00f 231px,#00c 242px,#00f 251px,#00f 254px,#fff 255px,#fff 260px,#06f 261px,#07f 266px,#0ff 276px,#0fb 286px,#0fb 295px,#0ff 304px,#0ef 306px,#0ef 315px,#05f 326px,#06f 353px)"></i>
<i style="left:853px;background:linear-gradient(#00c 0,#00c 86px,#00f 87px,#00f 92px,#00c 102px,#00c 131px,#00f 142px,#00f 182px,#00f 231px,#00c 241px,#00f 254px,#fff 255px,#fff 260px,#05f 261px,#06f 266px,#0ff 279px,#0fc 286px,#0fc 295px,#0ff 303px,#0df 306px,#0df 315px,#05f 326px,#06f 353px)"></i>
<i class=w1 style="left:855px;background:linear-gradient(#00c 0,#00c 86px,#00f 87px,#00f 92px,#00c 102px,#00c 131px,#00e 142px,#00f 182px,#00e 231px,#00c 241px,#00f 254px,#fff 255px,#fff 260px,#05f 261px,#05f 266px,#0bf 275px,#0ff 280px,#0fd 286px,#0fd 295px,#0ff 303px,#0df 306px,#0df 315px,#05f 326px,#06f 353px)"></i>
<i style="left:856px;background:linear-gradient(#00c 0,#00c 86px,#00f 87px,#00f 92px,#00c 102px,#00c 131px,#00e 142px,#00e 171px,#00f 182px,#00e 231px,#00c 241px,#00f 254px,#fff 255px,#fff 260px,#05f 261px,#05f 266px,#09f 275px,#0ff 283px,#0fe 286px,#0fe 295px,#0ff 300px,#0df 306px,#0df 315px,#05f 326px,#06f 353px)"></i>
<i style="left:858px;background:linear-gradient(#00c 0,#00c 86px,#00f 87px,#00f 92px,#00c 102px,#00d 171px,#00f 182px,#00f 201px,#00d 212px,#00d 231px,#00c 241px,#00f 254px,#fff 255px,#fff 260px,#05f 261px,#05f 266px,#08f 275px,#0ff 284px,#0fe 286px,#0ff 299px,#0df 306px,#0df 315px,#05f 326px,#05f 335px,#07f 345px,#07f 353px)"></i>
<i class=w1 style="left:860px;background:linear-gradient(#00c 0,#00c 86px,#00f 87px,#00f 92px,#00c 102px,#00d 171px,#00f 182px,#00f 201px,#00d 212px,#00c 241px,#00f 254px,#fff 255px,#fff 260px,#08f 261px,#08f 266px,#0bf 275px,#0ff 279px,#0fb 286px,#0fc 315px,#0fe 319px,#0ff 320px,#08f 326px,#08f 335px,#0df 345px,#0df 353px)"></i>
<i class=w1 style="left:861px;background:linear-gradient(#00c 0,#00c 86px,#00f 87px,#00f 92px,#00c 102px,#00c 171px,#00f 182px,#00f 201px,#00c 212px,#00c 241px,#00f 251px,#00f 254px,#fff 255px,#fff 260px,#08f 261px,#0af 275px,#0ff 280px,#0fb 286px,#0fc 315px,#0fe 319px,#0ff 320px,#08f 326px,#08f 335px,#0df 345px,#0df 353px)"></i>
<i class=w1 style="left:862px;background:linear-gradient(#00c 0,#00c 86px,#00f 87px,#00f 92px,#00c 102px,#00c 171px,#00f 182px,#00f 201px,#00c 212px,#00c 241px,#00f 251px,#00f 254px,#fff 255px,#fff 260px,#08f 261px,#09f 275px,#0ff 281px,#0fc 286px,#0fc 315px,#0fe 319px,#0ff 320px,#08f 326px,#08f 335px,#0ef 345px,#0ef 353px)"></i>
<i class=w1 style="left:863px;background:linear-gradient(#00c 0,#00c 86px,#00f 87px,#00f 92px,#00c 102px,#00c 171px,#00f 182px,#00f 201px,#00c 212px,#00c 241px,#00f 251px,#00f 254px,#fff 255px,#fff 260px,#06f 261px,#06f 275px,#0ef 286px,#0ef 315px,#06f 326px,#06f 335px,#0af 345px,#0af 353px)"></i>
<s style="width:2px;height:2px;left:-2px;box-shadow:26px 1px #08f,30px 1px #09f,40px 1px #0ff,62px 1px #0fd,70px 1px #0f2,76px 1px #df0,94px 1px #7f0,98px 1px #9f0,118px 1px #5f0,136px 1px #fe0,156px 1px #2f0,176px 1px #0bf,206px 1px #07f,208px 1px #09f,214px 1px #0bf,230px 1px #0ef,244px 1px #0fd,248px 1px #0ff,258px 1px #08f,260px 1px #0cf,268px 1px #05f,270px 1px #07f,272px 1px #05f,274px 1px #07f,284px 1px #06f,286px 1px #05f,288px 1px #08f,292px 1px #08f,294px 1px #0df,296px 1px #0df,298px 1px #09f,310px 1px #06f,322px 1px #04f,326px 1px #04f,334px 1px #05f,336px 1px #07f,340px 1px #08f,342px 1px #08f,42px 3px #0df,62px 3px #0fc,66px 3px #0df,80px 3px #0f1,98px 3px #fd0,174px 3px #0f9,190px 3px #0fc,204px 3px #0fb,216px 3px #0df,230px 3px #0ff,238px 3px #0ff,244px 3px #0ff,246px 3px #0fe,248px 3px #0ef,258px 3px #0cf,260px 3px #0bf,278px 3px #08f,280px 3px #04f,288px 3px #08f,296px 3px #0df,298px 3px #0af,306px 3px #06f,316px 3px #05f,328px 3px #07f,334px 3px #08f,338px 3px #06f,344px 3px #08f,350px 3px #07f,356px 3px #08f,360px 3px #02f,28px 5px #09f,32px 5px #0df,38px 5px #0bf,42px 5px #0cf,58px 5px #09f,60px 5px #0ff,62px 5px #0fe,94px 5px #fd0,160px 5px #4f0,162px 5px #0f9,184px 5px #0f9,186px 5px #0cf,214px 5px #0af,220px 5px #0fc,222px 5px #0fc,226px 5px #0ff,228px 5px #0bf,232px 5px #0ef,238px 5px #0fe,246px 5px #0fd,256px 5px #0df,258px 5px #08f,278px 5px #06f,280px 5px #03f,288px 5px #06f,290px 5px #0af,296px 5px #0af,306px 5px #08f,308px 5px #08f,312px 5px #03f,314px 5px #07f,324px 5px #0af,326px 5px #0af,330px 5px #07f,336px 5px #05f,338px 5px #07f,342px 5px #06f,346px 5px #06f,348px 5px #06f,360px 5px #05f,76px 7px #0f2,92px 7px #1f0,124px 7px #4f0,130px 7px #9f0,150px 7px #0f0,152px 7px #0f3,160px 7px #0f9,170px 7px #0f8,182px 7px #0fb,188px 7px #0f9,212px 7px #0fc,222px 7px #07f,228px 7px #0bf,230px 7px #0ef,240px 7px #0fe,242px 7px #0fe,262px 7px #06f,268px 7px #06f,276px 7px #08f,282px 7px #07f,284px 7px #05f,286px 7px #06f,290px 7px #07f,292px 7px #08f,296px 7px #0bf,326px 7px #0bf,330px 7px #06f,332px 7px #08f,334px 7px #06f,338px 7px #06f,342px 7px #05f,344px 7px #05f,346px 7px #07f,348px 7px #07f,360px 7px #03f,66px 9px #0fa,82px 9px #0f4,110px 9px #0f0,132px 9px #fd0,166px 9px #0fa,180px 9px #0bf,226px 9px #0df,230px 9px #0ff,242px 9px #0ef,258px 9px #0bf,262px 9px #08f,264px 9px #08f,266px 9px #04f,286px 9px #08f,288px 9px #05f,290px 9px #06f,292px 9px #0bf,294px 9px #0cf,296px 9px #0cf,304px 9px #09f,308px 9px #08f,312px 9px #07f,326px 9px #0df,332px 9px #06f,338px 9px #08f,360px 9px #06f,26px 11px #09f,38px 11px #0ef,42px 11px #0cf,58px 11px #09f,70px 11px #0f3,102px 11px #5f0,116px 11px #fe0,126px 11px #4f0,134px 11px #8f0,156px 11px #ff0,158px 11px #7f0,210px 11px #08f,224px 11px #0fc,226px 11px #0cf,244px 11px #0fe,252px 11px #0df,282px 11px #05f,284px 11px #05f,294px 11px #08f,302px 11px #08f,316px 11px #05f,318px 11px #05f,320px 11px #07f,332px 11px #0bf,340px 11px #04f,342px 11px #06f,346px 11px #07f,360px 11px #06f,28px 13px #0bf,48px 13px #07f,60px 13px #08f,66px 13px #0fd,76px 13px #0f7,82px 13px #bf0,92px 13px #2f0,100px 13px #8f0,110px 13px #cf0,112px 13px #3f0,126px 13px #7f0,128px 13px #df0,168px 13px #0fc,178px 13px #0ef,182px 13px #0fb,186px 13px #0bf,212px 13px #0fc,220px 13px #09f,226px 13px #0bf,240px 13px #0bf,242px 13px #0df,248px 13px #0ef,264px 13px #05f,278px 13px #05f,280px 13px #04f,292px 13px #0bf,306px 13px #07f,312px 13px #08f,314px 13px #08f,332px 13px #0af,338px 13px #07f,342px 13px #07f,358px 13px #08f,360px 13px #04f,26px 15px #08f,30px 15px #0df,64px 15px #0bf,66px 15px #0ff,110px 15px #0f2,122px 15px #4f0,124px 15px #fe0,128px 15px #fa0,152px 15px #0f1,194px 15px #07f,204px 15px #0fe,206px 15px #0fd,218px 15px #06f,238px 15px #0df,242px 15px #0bf,252px 15px #0cf,260px 15px #09f,262px 15px #05f,278px 15px #07f,284px 15px #06f,286px 15px #07f,300px 15px #0af,302px 15px #06f,316px 15px #04f,318px 15px #08f,336px 15px #07f,338px 15px #09f,346px 15px #09f,352px 15px #07f,354px 15px #06f,356px 15px #07f,36px 17px #0ef,42px 17px #08f,44px 17px #09f,66px 17px #0ff,134px 17px #4f0,158px 17px #0f4,174px 17px #0f6,176px 17px #0fb,196px 17px #0fb,200px 17px #0fe,204px 17px #0fe,210px 17px #0fd,214px 17px #0fb,220px 17px #0ff,240px 17px #09f,242px 17px #0df,244px 17px #0ef,258px 17px #08f,264px 17px #05f,266px 17px #08f,268px 17px #03f,274px 17px #04f,284px 17px #04f,288px 17px #05f,296px 17px #08f,298px 17px #09f,300px 17px #0af,308px 17px #04f,312px 17px #07f,314px 17px #04f,316px 17px #04f,320px 17px #09f,324px 17px #07f,334px 17px #08f,338px 17px #0cf,342px 17px #0cf,348px 17px #0cf,350px 17px #0bf,352px 17px #0af,356px 17px #0af,358px 17px #08f,34px 19px #0ff,36px 19px #0cf,38px 19px #0cf,70px 19px #0fe,90px 19px #0f2,158px 19px #bf0,164px 19px #0f3,166px 19px #0f4,206px 19px #0ff,222px 19px #0df,234px 19px #09f,246px 19px #0ef,250px 19px #0df,254px 19px #09f,262px 19px #08f,264px 19px #06f,268px 19px #07f,272px 19px #05f,282px 19px #06f,290px 19px #08f,292px 19px #07f,296px 19px #05f,298px 19px #06f,300px 19px #09f,302px 19px #04f,320px 19px #08f,326px 19px #09f,328px 19px #07f,332px 19px #0af,340px 19px #09f,350px 19px #0cf,354px 19px #0af,358px 19px #0bf,368px 19px #04f,42px 21px #0ef,68px 21px #0bf,86px 21px #ef0,94px 21px #fd0,96px 21px #fc0,108px 21px #0f0,110px 21px #0f3,120px 21px #1f0,134px 21px #ff0,138px 21px #fe0,160px 21px #3f0,174px 21px #0df,180px 21px #0bf,214px 21px #06f,218px 21px #0ff,220px 21px #0cf,222px 21px #0ef,230px 21px #06f,234px 21px #04f,256px 21px #04f,262px 21px #04f,282px 21px #04f,288px 21px #04f,290px 21px #08f,292px 21px #05f,304px 21px #04f,306px 21px #06f,310px 21px #08f,316px 21px #06f,320px 21px #04f,326px 21px #05f,330px 21px #07f,352px 21px #0bf,358px 21px #0bf,364px 21px #07f,24px 23px #0bf,28px 23px #0df,72px 23px #0ff,82px 23px #0fa,88px 23px #0f3,90px 23px #1f0,92px 23px #0f1,126px 23px #0f2,134px 23px #fe0,140px 23px #fd0,146px 23px #ef0,166px 23px #0fc,170px 23px #0f8,174px 23px #0f9,176px 23px #0f8,178px 23px #09f,192px 23px #05f,194px 23px #0fe,198px 23px #0fd,202px 23px #0fd,212px 23px #0fc,218px 23px #0fc,222px 23px #0af,226px 23px #06f,228px 23px #03f,238px 23px #08f,242px 23px #07f,246px 23px #07f,248px 23px #09f,258px 23px #05f,290px 23px #02f,292px 23px #07f,294px 23px #02f,300px 23px #03f,304px 23px #03f,308px 23px #07f,314px 23px #03f,316px 23px #06f,326px 23px #07f,336px 23px #0cf,344px 23px #08f,348px 23px #09f,356px 23px #0cf,358px 23px #08f,362px 23px #09f,364px 23px #07f,370px 23px #02f,38px 25px #0af,42px 25px #08f,72px 25px #0ff,78px 25px #0f9,84px 25px #0fb,102px 25px #6f0,132px 25px #3f0,140px 25px #8f0,152px 25px #cf0,164px 25px #0fb,172px 25px #0f8,178px 25px #0af,182px 25px #08f,184px 25px #05f,190px 25px #0fd,210px 25px #0fe,212px 25px #0fe,214px 25px #0fe,222px 25px #0bf,224px 25px #0bf,240px 25px #03f,252px 25px #03f,254px 25px #05f,270px 25px #02f,272px 25px #06f,274px 25px #03f,282px 25px #03f,290px 25px #05f,294px 25px #05f,302px 25px #03f,308px 25px #02f,314px 25px #01f,318px 25px #04f,322px 25px #03f,332px 25px #04f,342px 25px #05f,350px 25px #08f,352px 25px #09f,368px 25px #01f,18px 27px #05f,24px 27px #0ff,32px 27px #0bf,48px 27px #07f,94px 27px #0f1,154px 27px #ff0,160px 27px #0f9,182px 27px #0ff,184px 27px #0fe,186px 27px #0fc,198px 27px #0fe,224px 27px #06f,238px 27px #05f,244px 27px #03f,330px 27px #01f,334px 27px #06f,336px 27px #04f,352px 27px #05f,356px 27px #06f,358px 27px #02f,24px 29px #0ef,40px 29px #0cf,78px 29px #0ef,90px 29px #af0,92px 29px #0f3,94px 29px #0f0,96px 29px #0f3,104px 29px #0f0,106px 29px #fe0,114px 29px #0f1,124px 29px #0f2,128px 29px #fe0,138px 29px #5f0,140px 29px #fc0,162px 29px #0f4,176px 29px #09f,188px 29px #0ef,200px 29px #0fd,204px 29px #0cf,218px 29px #0ef,220px 29px #0bf,16px 31px #0af,22px 31px #0bf,36px 31px #08f,40px 31px #07f,70px 31px #07f,88px 31px #ff0,96px 31px #cf0,180px 31px #0fe,194px 31px #0fd,200px 31px #0ff,202px 31px #0ef,210px 31px #0fd,26px 33px #0fe,30px 33px #09f,44px 33px #0bf,108px 33px #0f1,168px 33px #0af,172px 33px #08f,178px 33px #0fc,210px 33px #0cf,216px 33px #0ff,222px 33px #08f,22px 35px #0cf,156px 35px #0f0,186px 35px #0ff,192px 35px #0fe,202px 35px #0ef,216px 35px #0bf,218px 35px #0ff,220px 35px #0ef,222px 35px #05f,26px 37px #0fe,76px 37px #08f,78px 37px #0f9,128px 37px #3f0,156px 37px #0f1,168px 37px #0fd,184px 37px #0fe,192px 37px #0cf,206px 37px #08f,214px 37px #0cf,216px 37px #0cf,32px 39px #0af,70px 39px #0af,100px 39px #9f0,178px 39px #0fe,204px 39px #0bf,212px 39px #0af,220px 39px #09f,222px 39px #07f,366px 39px #0f3,370px 39px #0fb,22px 41px #0af,96px 41px #ef0,108px 41px #0f3,124px 41px #0f4,138px 41px #fd0,166px 41px #07f,214px 41px #0bf,216px 41px #0af,74px 43px #0fb,102px 43px #cf0,124px 43px #af0,136px 43px #ef0,152px 43px #fe0,164px 43px #0df,166px 43px #0ff,194px 43px #0bf,214px 43px #07f,24px 45px #0ef,32px 45px #0ff,36px 45px #05f,74px 45px #0cf,76px 45px #0ff,140px 45px #fb0,164px 45px #0cf,166px 45px #0fd,170px 45px #0af,194px 45px #0af,216px 45px #04f,32px 47px #0df,34px 47px #08f,68px 47px #0af,82px 47px #0f0,116px 47px #cf0,156px 47px #0f0,176px 47px #09f,182px 47px #0af,84px 49px #0f0,88px 49px #af0,106px 49px #9f0,116px 49px #0f0,142px 49px #fe0,164px 49px #0fb,18px 51px #09f,28px 51px #0fb,96px 51px #af0,102px 51px #cf0,16px 53px #08f,38px 53px #08f,110px 53px #0f4,120px 53px #0f3,142px 53px #6f0,164px 53px #0ff,118px 55px #8f0,138px 55px #0f1,88px 57px #0f3,90px 57px #cf0,96px 57px #0f0,144px 57px #ff0,22px 59px #0fc,24px 59px #0fc,68px 59px #09f,74px 59px #0f9,78px 59px #0f4,114px 59px #ef0,148px 59px #0f4,150px 59px #0f3,32px 61px #0ff,68px 61px #0bf,82px 61px #0fa,84px 61px #5f0,90px 61px #0f2,92px 61px #df0,96px 61px #ef0,104px 61px #bf0,118px 61px #0f3,120px 61px #af0,144px 61px #0f3,18px 63px #0ef,86px 63px #0f3,124px 63px #0f5,146px 63px #df0,160px 63px #0f5,16px 65px #08f,24px 65px #0fa,28px 65px #0fd,72px 65px #0fb,80px 65px #0f7,100px 65px #0f1,102px 65px #0f2,114px 65px #1f0,138px 65px #1f0,144px 65px #0f1,12px 67px #05f,24px 67px #08f,72px 67px #0fd,80px 67px #4f0,90px 67px #0f2,102px 67px #bf0,136px 67px #0f2,142px 67px #fe0,16px 69px #0cf,18px 69px #0fd,28px 69px #0af,34px 69px #0ef,126px 69px #ef0,128px 69px #fd0,130px 69px #0f2,140px 69px #fe0,144px 69px #0f2,150px 69px #df0,162px 69px #0cf,22px 71px #07f,42px 71px #04f,74px 71px #0ff,76px 71px #0fa,86px 71px #0f1,122px 71px #8f0,128px 71px #0f0,150px 71px #0f2,20px 73px #07f,32px 73px #08f,76px 73px #0fa,88px 73px #0f2,136px 73px #df0,164px 73px #0ef,16px 75px #0fc,22px 75px #0bf,42px 75px #05f,78px 75px #0f1,118px 75px #0f5,162px 75px #0bf,32px 77px #0fa,72px 77px #08f,94px 77px #0f4,104px 77px #0f5,144px 77px #cf0,162px 77px #0df,10px 79px #0cf,12px 79px #0cf,32px 79px #09f,34px 79px #05f,70px 79px #0df,94px 79px #af0,104px 79px #9f0,124px 79px #0f3,128px 79px #0f0,18px 81px #0df,30px 81px #0ff,34px 81px #07f,102px 81px #0f2,118px 81px #af0,138px 81px #0f2,144px 81px #0f1,154px 81px #0f4,12px 83px #0fe,18px 83px #0fa,20px 83px #0f9,96px 83px #0f0,164px 83px #0ff,30px 85px #0ef,70px 85px #0fe,146px 85px #0f2,150px 85px #0f3,156px 85px #ef0,166px 85px #0df,710px 1px #0f8,716px 1px #09f,718px 1px #0fd,720px 1px #05f,742px 1px #0cf,746px 1px #0ef,770px 1px #0cf,780px 1px #0fd,782px 1px #0fc,796px 1px #0fb,714px 3px #0df,726px 3px #06f,728px 3px #05f,750px 3px #0fc,754px 3px #0ef,770px 3px #0cf,774px 3px #0fe,776px 3px #0fd,788px 3px #0fd,796px 3px #0f9,802px 3px #0fd,734px 5px #09f,764px 5px #0fe,768px 5px #0fe,798px 5px #06f,810px 5px #0df,714px 7px #0af,724px 7px #0f8,726px 7px #0ff,742px 7px #0f9,756px 7px #05f,762px 7px #0ff,776px 7px #0df,786px 7px #0fe,792px 7px #0af,800px 7px #0fc,804px 7px #0fe,808px 7px #0df,714px 9px #0fc,716px 9px #0bf,722px 9px #0ff,724px 9px #0f9,744px 9px #0f9,746px 9px #0f8,752px 9px #0f9,768px 9px #0ff,778px 9px #0fd,780px 9px #0fc,788px 9px #0fb,796px 9px #08f,714px 11px #0fa,718px 11px #0ff,736px 11px #0f7,742px 11px #0f5,756px 11px #0fb,772px 11px #0cf,794px 11px #0cf,800px 11px #05f,806px 11px #0af,718px 13px #0fc,720px 13px #0f5,726px 13px #0fb,742px 13px #0f2,764px 13px #0ff,776px 13px #0fd,794px 13px #0fc,810px 13px #05f,716px 15px #0fc,730px 15px #4f0,734px 15px #0f7,762px 15px #06f,766px 15px #0df,768px 15px #0ef,774px 15px #0bf,780px 15px #0fd,794px 15px #0fa,808px 15px #0af,754px 17px #0fb,760px 17px #0cf,762px 17px #0fd,764px 17px #0df,774px 17px #0ff,776px 17px #0fe,800px 17px #0cf,716px 19px #0f3,724px 19px #0f5,766px 19px #0ff,770px 19px #0ff,774px 19px #0df,776px 19px #0fd,792px 19px #0fc,794px 19px #07f,718px 21px #ff0,764px 21px #0ff,766px 21px #0fd,768px 21px #0fd,770px 21px #0df,772px 21px #0ff,774px 21px #0fe,784px 21px #0fe,734px 23px #df0,748px 23px #0f2,776px 23px #0ff,794px 23px #0fd,800px 23px #0ff,806px 23px #06f,794px 25px #0fd,804px 25px #09f,710px 27px #ff0,712px 27px #0f2,714px 27px #0f1,716px 27px #fe0,778px 27px #0af,782px 27px #0fe,788px 27px #0fe,806px 27px #0af,714px 29px #cf0,720px 29px #2f0,722px 29px #1f0,726px 29px #ff0,754px 29px #0f7,756px 29px #0fa,784px 29px #0fe,794px 29px #0ff,796px 29px #0bf,804px 29px #0cf,734px 31px #0f5,744px 31px #0f6,766px 31px #0ef,774px 31px #0df,776px 31px #09f,782px 31px #0ff,800px 31px #0ef,802px 31px #0bf,710px 33px #af0,718px 33px #9f0,744px 33px #0f9,764px 33px #0bf,766px 33px #0df,778px 33px #0bf,788px 33px #0fe,796px 33px #0ff,802px 33px #0cf,712px 35px #0f2,740px 35px #0f2,764px 35px #09f,772px 35px #09f,774px 35px #05f,780px 35px #0bf,784px 35px #0df,788px 35px #0ff,798px 35px #07f,750px 37px #09f,714px 39px #0fc,718px 39px #0f6,724px 39px #0fb,734px 39px #0f8,748px 39px #0fd,762px 39px #0af,770px 39px #06f,772px 39px #07f,776px 39px #08f,778px 39px #0af,784px 39px #0cf,788px 39px #09f,794px 39px #08f,710px 41px #0f9,718px 41px #0f7,728px 41px #0f8,738px 41px #0fe,744px 41px #0ff,746px 41px #0ef,754px 41px #0af,758px 41px #0af,772px 41px #06f,774px 41px #05f,722px 43px #0ef,742px 43px #0fe,764px 43px #0bf,772px 43px #09f,788px 43px #0bf,792px 43px #06f,740px 45px #0bf,748px 45px #08f,802px 45px #09f,806px 45px #0af,714px 47px #0fd,718px 47px #0fd,732px 47px #0ef,746px 47px #08f,712px 49px #04f,728px 49px #0bf,742px 49px #0bf,746px 49px #0af,800px 49px #09f,808px 49px #0fc,810px 49px #0cf,726px 51px #07f,732px 51px #0af,742px 51px #06f,798px 51px #0bf,804px 51px #0fe,714px 53px #0fe,726px 53px #0cf,746px 53px #08f,748px 53px #05f,800px 53px #0df,806px 53px #0fe,726px 55px #0cf,742px 55px #09f,748px 55px #08f,716px 57px #0ef,720px 57px #0df,726px 57px #0cf,730px 57px #0bf,742px 57px #0ff,812px 57px #0fd,814px 57px #09f,816px 57px #04f,712px 59px #0fd,716px 59px #0ff,740px 59px #09f,800px 59px #0af,814px 59px #09f,710px 61px #05f,714px 61px #0ff,718px 61px #0ff,720px 61px #09f,728px 61px #05f,744px 61px #0fe,806px 61px #0fe,714px 63px #0fe,716px 63px #0df,720px 63px #0bf,730px 63px #06f,736px 63px #0af,746px 63px #09f,802px 63px #0ff,810px 63px #0fc,712px 65px #07f,722px 65px #0df,728px 65px #0af,732px 65px #08f,802px 65px #0ff,804px 65px #08f,810px 65px #0f5,718px 67px #0ef,728px 67px #0af,802px 67px #0bf,812px 67px #0f3,816px 67px #0f6,818px 67px #09f,720px 69px #0bf,722px 69px #09f,732px 69px #08f,734px 69px #06f,750px 69px #06f,816px 69px #0fe,820px 69px #09f,710px 71px #05f,712px 71px #06f,714px 71px #06f,718px 71px #0df,722px 71px #0af,728px 71px #08f,744px 71px #0ff,746px 71px #0cf,804px 71px #0bf,710px 73px #0fd,730px 73px #07f,740px 73px #0af,748px 73px #0af,806px 73px #0f4,818px 73px #0bf,722px 75px #08f,724px 75px #08f,726px 75px #0bf,730px 75px #08f,742px 75px #0bf,798px 75px #05f,730px 77px #07f,732px 77px #08f,734px 77px #06f,742px 77px #0cf,744px 77px #0ff,748px 77px #07f,800px 77px #0af,802px 77px #0ef,712px 79px #0fc,720px 79px #0ef,740px 79px #0cf,744px 79px #0ef,820px 79px #05f,712px 81px #04f,748px 81px #0df,820px 81px #0bf,716px 83px #0af,726px 83px #06f,734px 83px #06f,738px 83px #09f,748px 83px #08f,750px 83px #04f,798px 83px #07f,818px 83px #06f,714px 85px #07f,734px 85px #0af,746px 85px #0df,750px 85px #07f,798px 85px #0df,802px 85px #0fe"></s>
<s style="width:2px;height:3px;left:-2px;box-shadow:2px 87px #0af,8px 87px #0af,18px 87px #0bf,62px 87px #0f8,86px 87px #0fd,94px 87px #0bf,100px 87px #09f,110px 87px #09f,114px 87px #0bf,128px 87px #0ef,130px 87px #0f9,142px 87px #07f,204px 87px #06f,4px 90px #05f,14px 90px #07f,36px 90px #0f6,38px 90px #0f1,42px 90px #0af,46px 90px #0fe,54px 90px #0f8,60px 90px #0ef,72px 90px #0fa,128px 90px #0fe,162px 90px #06f,174px 90px #09f,180px 90px #0cf,198px 90px #0bf,212px 90px #06f,4px 93px #07f,8px 93px #07f,18px 93px #0bf,42px 93px #0bf,48px 93px #0df,56px 93px #0fb,62px 93px #0f7,70px 93px #0fa,72px 93px #0fc,98px 93px #0ef,106px 93px #0f7,118px 93px #0ef,148px 93px #0fe,50px 96px #0cf,74px 96px #0fa,82px 96px #0f5,104px 96px #0f6,108px 96px #0fe,130px 96px #0af,154px 96px #0bf,156px 96px #0ff,16px 99px #08f,24px 99px #0ef,32px 99px #0f9,52px 99px #0ff,64px 99px #0fa,84px 99px #0f6,98px 99px #0fe,116px 99px #0cf,118px 99px #0df,22px 102px #0ff,44px 102px #0fc,50px 102px #0ef,52px 102px #0fe,68px 102px #0fb,74px 102px #0f9,100px 102px #0f8,110px 102px #0fb,126px 102px #0fe,132px 102px #0ff,136px 102px #0f4,144px 102px #0fa,14px 105px #0cf,20px 105px #0ff,36px 105px #0f9,46px 105px #0fc,50px 105px #0f8,54px 105px #0fc,58px 105px #0f1,60px 105px #0f3,84px 105px #0f5,108px 105px #0f9,110px 105px #0ef,120px 105px #0ef,126px 105px #0ff,128px 105px #0f9,134px 105px #0f3,148px 105px #0fd,156px 105px #0ef,158px 105px #0cf,160px 105px #08f,16px 108px #0cf,24px 108px #0fd,28px 108px #0f9,30px 108px #0ff,56px 108px #0f0,86px 108px #0f7,98px 108px #0f3,120px 108px #0fe,128px 108px #0fb,16px 111px #0ff,62px 111px #0fa,86px 111px #0f7,100px 111px #0f9,102px 111px #0f5,108px 111px #0ff,110px 111px #0cf,118px 111px #0ff,124px 111px #0ff,136px 111px #0fb,18px 114px #0fd,20px 114px #0af,40px 114px #0f6,64px 114px #2f0,94px 114px #0fa,140px 114px #0fb,144px 114px #0fe,12px 117px #0ef,20px 117px #0df,28px 117px #0fb,30px 117px #0f2,34px 117px #0f2,44px 117px #0ef,64px 117px #0f8,102px 117px #0f4,124px 117px #0f9,152px 117px #0fc,164px 117px #0bf,6px 120px #08f,14px 120px #0ff,16px 120px #0fe,24px 120px #0fb,48px 120px #0fe,76px 120px #0f6,120px 120px #0f9,122px 120px #0bf,144px 120px #0ff,148px 120px #0fc,152px 120px #09f,164px 120px #08f,168px 120px #07f,24px 123px #0fa,26px 123px #4f0,52px 123px #0f3,72px 123px #3f0,74px 123px #0f6,84px 123px #0f4,104px 123px #0fa,110px 123px #0ff,114px 123px #0fa,118px 123px #0bf,152px 123px #0f8,154px 123px #0fb,166px 123px #0fe,168px 123px #0af,12px 126px #0bf,14px 126px #0af,34px 126px #0f8,58px 126px #0fd,62px 126px #3f0,68px 126px #0f5,76px 126px #0f3,86px 126px #5f0,90px 126px #0f6,106px 126px #0fc,108px 126px #0f5,118px 126px #0fb,122px 126px #0fc,130px 126px #0f3,154px 126px #0cf,168px 126px #08f,170px 126px #06f,182px 126px #0af,186px 126px #0cf,6px 129px #0bf,32px 129px #cf0,52px 129px #0fd,70px 129px #0f4,78px 129px #0f2,86px 129px #0f9,98px 129px #0f2,116px 129px #0fb,120px 129px #0fb,134px 129px #2f0,142px 129px #0f3,152px 129px #0f3,166px 129px #0fe,170px 129px #0f7,172px 129px #0fe,178px 129px #0f9,38px 132px #4f0,44px 132px #0fc,66px 132px #8f0,70px 132px #0f7,80px 132px #0f4,104px 132px #0fc,132px 132px #0f3,166px 132px #0f3,168px 132px #0fd,8px 135px #0bf,18px 135px #0fc,26px 135px #0fb,32px 135px #3f0,42px 135px #0fa,46px 135px #0fe,54px 135px #0f6,90px 135px #0f6,96px 135px #0f6,126px 135px #0af,142px 135px #0f2,164px 135px #0f3,166px 135px #0f5,186px 135px #0fe,188px 135px #0ff,196px 135px #0ff,198px 135px #08f,10px 138px #0df,16px 138px #0fe,20px 138px #0cf,44px 138px #0fd,50px 138px #0f4,56px 138px #0f3,82px 138px #fe0,112px 138px #0f6,118px 138px #0fa,126px 138px #09f,176px 138px #0fd,180px 138px #0f9,188px 138px #05f,194px 138px #0df,212px 138px #09f,14px 141px #0fd,16px 141px #0fe,18px 141px #0fb,22px 141px #0fb,24px 141px #0fc,34px 141px #2f0,44px 141px #0f8,54px 141px #0f4,60px 141px #0f4,98px 141px #0f9,110px 141px #0fa,138px 141px #4f0,150px 141px #0f5,170px 141px #0f4,180px 141px #0f9,184px 141px #0ef,186px 141px #0af,188px 141px #07f,206px 141px #0cf,208px 141px #07f,212px 141px #0fe,222px 141px #0ef,20px 144px #09f,26px 144px #0fb,38px 144px #7f0,62px 144px #0f2,72px 144px #9f0,92px 144px #0f2,104px 144px #2f0,136px 144px #0fa,142px 144px #0f2,162px 144px #0fa,178px 144px #0fe,188px 144px #0fa,194px 144px #0ef,202px 144px #08f,208px 144px #0df,212px 144px #0df,8px 147px #0bf,26px 147px #0f9,40px 147px #0f3,46px 147px #0fd,64px 147px #0f9,114px 147px #0fc,156px 147px #0f1,160px 147px #0f1,186px 147px #0bf,190px 147px #0fb,204px 147px #0df,208px 147px #0cf,212px 147px #0ef,220px 147px #0ef,10px 150px #0ef,14px 150px #0fe,20px 150px #0fc,32px 150px #0fd,42px 150px #0f9,46px 150px #0f6,60px 150px #0f5,70px 150px #0f7,72px 150px #0f4,92px 150px #cf0,114px 150px #0fc,120px 150px #0f4,126px 150px #0fe,180px 150px #0ff,186px 150px #0af,192px 150px #0fe,196px 150px #0ff,198px 150px #0ff,200px 150px #0cf,202px 150px #0ef,222px 150px #0df,4px 153px #0fe,6px 153px #0bf,34px 153px #2f0,40px 153px #0f5,78px 153px #ff0,90px 153px #0f0,92px 153px #0f2,96px 153px #ff0,100px 153px #3f0,106px 153px #0f0,118px 153px #0f7,120px 153px #0f5,142px 153px #0fa,162px 153px #0f1,168px 153px #0f2,184px 153px #0f9,188px 153px #0fd,198px 153px #0bf,200px 153px #0cf,218px 153px #0ff,222px 153px #08f,8px 156px #0fe,12px 156px #0fd,30px 156px #0fd,60px 156px #0fb,66px 156px #5f0,80px 156px #0f1,88px 156px #0f1,96px 156px #ff0,104px 156px #ff0,120px 156px #0f4,128px 156px #0fb,130px 156px #0f1,148px 156px #0f9,166px 156px #0f1,176px 156px #0fe,178px 156px #0f6,194px 156px #0df,214px 156px #09f,16px 159px #0af,20px 159px #0fd,36px 159px #0f8,56px 159px #0f4,62px 159px #0f1,76px 159px #1f0,80px 159px #0f2,92px 159px #0f1,118px 159px #0f7,146px 159px #0fa,178px 159px #0fe,182px 159px #0fa,202px 159px #0df,206px 159px #0af,208px 159px #08f,210px 159px #08f,10px 162px #0fe,12px 162px #0fe,20px 162px #0fb,36px 162px #5f0,46px 162px #0fe,48px 162px #0ef,58px 162px #0f5,78px 162px #ff0,110px 162px #0f7,124px 162px #0ff,138px 162px #5f0,156px 162px #0f2,174px 162px #0f4,184px 162px #0bf,186px 162px #08f,200px 162px #0af,8px 165px #0bf,10px 165px #0fe,14px 165px #0fd,18px 165px #0fb,22px 165px #09f,24px 165px #0fb,26px 165px #0fa,82px 165px #cf0,98px 165px #df0,102px 165px #0f2,106px 165px #0f0,132px 165px #0fd,136px 165px #0f0,164px 165px #0f0,178px 165px #0ef,4px 168px #0fe,12px 168px #0fe,20px 168px #09f,26px 168px #09f,28px 168px #0f6,58px 168px #0f6,66px 168px #0f6,88px 168px #0f3,94px 168px #6f0,98px 168px #0f6,104px 168px #fe0,114px 168px #0f1,116px 168px #0fa,130px 168px #0f2,136px 168px #6f0,148px 168px #4f0,174px 168px #0f6,176px 168px #0fd,194px 168px #09f,196px 168px #0df,2px 171px #0fe,8px 171px #0fe,16px 171px #07f,42px 171px #0f2,54px 171px #0f5,70px 171px #1f0,104px 171px #fd0,112px 171px #0f8,138px 171px #0f6,140px 171px #0f4,166px 171px #0f8,174px 171px #0fc,186px 171px #0df,198px 171px #05f,10px 174px #0ff,12px 174px #0ef,22px 174px #0fc,26px 174px #0fb,46px 174px #0ff,54px 174px #0f5,62px 174px #0fa,90px 174px #0f2,122px 174px #0f5,142px 174px #2f0,174px 174px #0fd,186px 174px #07f,194px 174px #0af,12px 177px #0fd,22px 177px #0fb,26px 177px #0f9,32px 177px #0f4,50px 177px #0fd,96px 177px #ef0,100px 177px #6f0,104px 177px #2f0,116px 177px #0fb,126px 177px #0f1,146px 177px #0fa,156px 177px #0f7,178px 177px #08f,182px 177px #0ff,186px 177px #06f,212px 177px #07f,8px 180px #0df,18px 180px #0fd,22px 180px #0bf,34px 180px #0f1,70px 180px #0f7,74px 180px #5f0,76px 180px #0f6,94px 180px #ff0,106px 180px #9f0,114px 180px #0f6,178px 180px #0fc,2px 183px #0bf,38px 183px #0f3,42px 183px #0f2,56px 183px #0fb,68px 183px #0f5,78px 183px #0f4,90px 183px #fd0,98px 183px #0f2,106px 183px #8f0,114px 183px #0f6,116px 183px #2f0,148px 183px #1f0,174px 183px #0fb,180px 183px #0ff,12px 186px #0fd,16px 186px #0fd,32px 186px #0f4,44px 186px #0fb,70px 186px #0fa,96px 186px #2f0,114px 186px #3f0,122px 186px #0f9,128px 186px #0f9,130px 186px #6f0,148px 186px #0f6,36px 189px #0f8,62px 189px #0f1,104px 189px #8f0,114px 189px #4f0,150px 189px #0f8,152px 189px #0f3,156px 189px #1f0,166px 189px #0f8,8px 192px #0ff,14px 192px #0fe,36px 192px #4f0,42px 192px #0f2,52px 192px #0f9,126px 192px #4f0,142px 192px #0f9,178px 192px #0ef,12px 195px #0fc,16px 195px #09f,20px 195px #09f,22px 195px #0bf,44px 195px #0fb,64px 195px #0f2,120px 195px #cf0,122px 195px #0f7,144px 195px #0f6,158px 195px #7f0,176px 195px #09f,178px 195px #08f,180px 195px #07f,414px 195px #09f,428px 195px #09f,430px 195px #0ef,432px 195px #09f,436px 195px #0bf,8px 198px #0ff,10px 198px #0fd,20px 198px #07f,24px 198px #09f,26px 198px #0af,36px 198px #ff0,58px 198px #0f9,62px 198px #0f7,76px 198px #0f5,92px 198px #fc0,160px 198px #0f8,178px 198px #07f,412px 198px #0ef,416px 198px #0fe,420px 198px #0bf,426px 198px #0cf,428px 198px #0df,8px 201px #0ff,20px 201px #09f,24px 201px #0fd,44px 201px #0ff,48px 201px #0fe,58px 201px #0fb,68px 201px #0f0,72px 201px #0fa,104px 201px #ef0,144px 201px #8f0,158px 201px #0f0,168px 201px #0f8,170px 201px #0fa,414px 201px #0df,6px 204px #0ff,46px 204px #0af,52px 204px #0fd,62px 204px #0f8,70px 204px #0f5,94px 204px #fc0,146px 204px #0f7,152px 204px #0f4,170px 204px #06f,174px 204px #0cf,342px 204px #0fe,344px 204px #0af,360px 204px #0bf,368px 204px #0df,370px 204px #0fe,372px 204px #0ff,396px 204px #0fe,398px 204px #0cf,402px 204px #0fd,404px 204px #0fe,420px 204px #0fd,424px 204px #0fe,8px 207px #0cf,10px 207px #0ff,12px 207px #0ff,20px 207px #0cf,22px 207px #0fa,48px 207px #0fe,52px 207px #0fc,60px 207px #0f9,72px 207px #0fb,106px 207px #fb0,108px 207px #bf0,142px 207px #0f5,164px 207px #0fe,168px 207px #0fd,170px 207px #0ff,294px 207px #0ff,296px 207px #0fe,324px 207px #0bf,326px 207px #0df,360px 207px #07f,368px 207px #05f,384px 207px #04f,390px 207px #06f,400px 207px #07f,402px 207px #08f,416px 207px #0fb,426px 207px #08f,436px 207px #09f,4px 210px #0bf,10px 210px #0ff,14px 210px #0ff,22px 210px #0fa,38px 210px #4f0,52px 210px #0fb,60px 210px #0f9,62px 210px #0ef,64px 210px #0f5,82px 210px #0f2,86px 210px #0f1,96px 210px #fe0,106px 210px #af0,128px 210px #fe0,140px 210px #0f1,150px 210px #9f0,152px 210px #fe0,224px 210px #0ff,234px 210px #0ff,238px 210px #0af,240px 210px #0ff,272px 210px #0df,286px 210px #0fe,288px 210px #0fe,290px 210px #0ff,294px 210px #0fe,302px 210px #0cf,308px 210px #0ff,322px 210px #0bf,330px 210px #0fc,340px 210px #08f,342px 210px #09f,352px 210px #0f9,372px 210px #0fa,382px 210px #0fc,398px 210px #0fc,400px 210px #0fc,402px 210px #0cf,406px 210px #0cf,432px 210px #0af,2px 213px #0ff,12px 213px #0fc,14px 213px #0fe,26px 213px #0fe,66px 213px #0f6,70px 213px #0fd,124px 213px #3f0,154px 213px #4f0,172px 213px #0cf,268px 213px #0df,276px 213px #0fd,282px 213px #0fe,288px 213px #0fc,292px 213px #0ef,298px 213px #0fc,302px 213px #0fe,316px 213px #0fd,324px 213px #0fe,326px 213px #0ef,332px 213px #0fb,334px 213px #0fa,336px 213px #0fa,340px 213px #08f,342px 213px #0fb,344px 213px #0fa,350px 213px #0bf,358px 213px #0cf,372px 213px #0f7,390px 213px #0ef,394px 213px #0f8,404px 213px #0f9,410px 213px #0ef,414px 213px #0f9,432px 213px #0df,434px 213px #0df,436px 213px #0bf,2px 216px #0fd,6px 216px #0ff,10px 216px #0fc,12px 216px #06f,24px 216px #0f9,46px 216px #07f,50px 216px #0fc,60px 216px #06f,86px 216px #cf0,88px 216px #ef0,148px 216px #5f0,162px 216px #0fb,196px 216px #09f,198px 216px #0bf,202px 216px #06f,204px 216px #06f,208px 216px #0bf,212px 216px #0df,234px 216px #0fb,240px 216px #0fe,260px 216px #0fe,262px 216px #07f,276px 216px #0fc,278px 216px #08f,286px 216px #0fc,304px 216px #0fe,320px 216px #06f,340px 216px #09f,342px 216px #0fb,344px 216px #0fb,360px 216px #0f7,372px 216px #0f7,376px 216px #0f7,388px 216px #0f7,398px 216px #0fa,410px 216px #0ff,412px 216px #0f7,418px 216px #0ff,426px 216px #0f9,432px 216px #0f8,4px 219px #0fe,56px 219px #0ef,58px 219px #0fd,60px 219px #0fe,74px 219px #0f5,98px 219px #f80,120px 219px #fd0,158px 219px #0fd,166px 219px #0fe,170px 219px #08f,200px 219px #0af,204px 219px #0fe,212px 219px #0ff,216px 219px #0ff,222px 219px #0fe,228px 219px #0fd,234px 219px #09f,238px 219px #08f,242px 219px #0df,248px 219px #0cf,250px 219px #0ef,258px 219px #0f9,264px 219px #0fa,290px 219px #0cf,294px 219px #09f,320px 219px #0fc,324px 219px #0bf,366px 219px #0f8,372px 219px #0f7,378px 219px #0f8,386px 219px #0f7,394px 219px #0fe,2px 222px #0fc,50px 222px #0ff,52px 222px #0ef,92px 222px #fc0,100px 222px #fa0,118px 222px #8f0,124px 222px #fe0,184px 222px #09f,210px 222px #0fe,212px 222px #0fd,218px 222px #0df,220px 222px #0cf,228px 222px #06f,236px 222px #0bf,260px 222px #0f6,284px 222px #0f9,286px 222px #0ef,288px 222px #0fb,292px 222px #0cf,296px 222px #0fa,298px 222px #0f8,300px 222px #0df,308px 222px #0ef,326px 222px #0fa,334px 222px #0df,338px 222px #0f9,346px 222px #0f7,358px 222px #0fc,360px 222px #0fd,368px 222px #0f5,386px 222px #0fb,396px 222px #0fc,418px 222px #0f3,424px 222px #0f7,432px 222px #0ff,6px 225px #0fb,18px 225px #0cf,30px 225px #0f2,72px 225px #0f9,76px 225px #0fc,126px 225px #0f1,136px 225px #0f6,140px 225px #7f0,142px 225px #0fa,156px 225px #0f6,158px 225px #0ff,162px 225px #0fc,170px 225px #0df,174px 225px #0bf,180px 225px #04f,182px 225px #0bf,188px 225px #0bf,202px 225px #0fd,206px 225px #0ff,208px 225px #0ff,210px 225px #0ff,236px 225px #0f9,238px 225px #0fa,240px 225px #0fb,254px 225px #0fe,258px 225px #0f7,288px 225px #0ef,294px 225px #0ff,308px 225px #0ef,310px 225px #0ff,316px 225px #0ff,324px 225px #0ff,332px 225px #0f7,338px 225px #0ff,340px 225px #0ff,346px 225px #0fe,352px 225px #0fb,374px 225px #0fa,376px 225px #0f3,378px 225px #0fa,432px 225px #0fd,2px 228px #0fc,10px 228px #09f,16px 228px #0ff,18px 228px #0f9,20px 228px #0ef,36px 228px #3f0,44px 228px #0df,58px 228px #0df,62px 228px #0fd,70px 228px #0df,82px 228px #0f0,96px 228px #f90,106px 228px #f70,122px 228px #3f0,130px 228px #cf0,142px 228px #0fa,154px 228px #0fe,156px 228px #0ef,168px 228px #0af,188px 228px #0ff,192px 228px #0ff,202px 228px #0ef,210px 228px #0fd,212px 228px #0cf,214px 228px #0fe,216px 228px #0ff,218px 228px #0cf,224px 228px #0fe,230px 228px #0fe,236px 228px #0fb,242px 228px #0cf,246px 228px #0fb,282px 228px #0f7,288px 228px #0f7,306px 228px #0fe,322px 228px #0f7,356px 228px #0fc,394px 228px #0f9,8px 231px #0fa,12px 231px #0f9,54px 231px #0ff,60px 231px #0ff,64px 231px #0f9,66px 231px #0df,70px 231px #0ef,84px 231px #4f0,140px 231px #0f9,142px 231px #0fb,150px 231px #0cf,156px 231px #0bf,158px 231px #0fb,170px 231px #0ff,206px 231px #0cf,212px 231px #0cf,226px 231px #0cf,232px 231px #06f,236px 231px #0cf,244px 231px #0fd,256px 231px #0fe,262px 231px #0fb,266px 231px #0fb,292px 231px #0fd,308px 231px #0fc,320px 231px #0f7,350px 231px #0f1,398px 231px #0f7,416px 231px #0f0,432px 231px #0f3,2px 234px #0fb,24px 234px #0f6,46px 234px #05f,48px 234px #0fd,62px 234px #09f,70px 234px #0ef,78px 234px #0fb,96px 234px #fb0,98px 234px #fb0,152px 234px #0fe,154px 234px #0af,160px 234px #0fe,168px 234px #0df,178px 234px #0af,204px 234px #0fd,208px 234px #0fe,212px 234px #0fc,228px 234px #0fa,230px 234px #0fd,244px 234px #0f8,264px 234px #0fc,270px 234px #0f5,278px 234px #0f4,312px 234px #0fb,314px 234px #0fb,320px 234px #0fc,370px 234px #0f0,374px 234px #0fa,406px 234px #0f0,424px 234px #0f4,6px 237px #0fb,12px 237px #0fa,14px 237px #0fa,32px 237px #6f0,58px 237px #0ef,60px 237px #07f,108px 237px #f90,110px 237px #fb0,144px 237px #0bf,146px 237px #0fc,148px 237px #0fb,150px 237px #0ff,152px 237px #0fc,160px 237px #0fd,164px 237px #09f,176px 237px #09f,186px 237px #0ef,194px 237px #0fd,210px 237px #0fb,220px 237px #0fc,228px 237px #0df,232px 237px #0bf,234px 237px #0df,238px 237px #0f7,270px 237px #0fb,284px 237px #0fb,288px 237px #0ff,308px 237px #0fd,312px 237px #0fb,314px 237px #0f5,358px 237px #0fb,378px 237px #0f1,416px 237px #0fc,426px 237px #0fc,4px 240px #07f,50px 240px #0ff,52px 240px #0ff,54px 240px #0fe,56px 240px #0ff,82px 240px #0f9,86px 240px #0f6,98px 240px #af0,128px 240px #0f1,130px 240px #ef0,156px 240px #0fe,178px 240px #08f,190px 240px #08f,194px 240px #06f,202px 240px #0fa,216px 240px #0fa,228px 240px #0fe,230px 240px #0fc,260px 240px #0fd,278px 240px #0fd,322px 240px #0f3,324px 240px #0fc,336px 240px #0f4,338px 240px #0f2,344px 240px #0f4,356px 240px #0fd,370px 240px #0f1,10px 243px #0fd,14px 243px #0f8,16px 243px #0f4,22px 243px #0f2,26px 243px #0f7,48px 243px #0ff,52px 243px #0fd,60px 243px #0fb,62px 243px #0f8,70px 243px #0f7,114px 243px #fc0,136px 243px #2f0,150px 243px #0fe,192px 243px #0af,210px 243px #0f8,222px 243px #0ff,252px 243px #0f6,264px 243px #0fc,290px 243px #0f0,316px 243px #0fa,330px 243px #0fd,338px 243px #0f0,360px 243px #0f0,364px 243px #1f0,382px 243px #0f1,388px 243px #0f1,408px 243px #0fa,4px 246px #0fc,24px 246px #0f1,28px 246px #af0,44px 246px #0af,48px 246px #0ff,54px 246px #0df,62px 246px #0ff,82px 246px #0f9,90px 246px #ff0,106px 246px #f90,110px 246px #fa0,118px 246px #fc0,138px 246px #0f7,144px 246px #0fb,158px 246px #0fd,162px 246px #0ff,176px 246px #08f,180px 246px #0fe,182px 246px #0fd,194px 246px #0bf,204px 246px #0df,226px 246px #0f7,232px 246px #0f7,266px 246px #0f3,290px 246px #0f0,314px 246px #0fc,330px 246px #0f2,366px 246px #2f0,382px 246px #3f0,404px 246px #0fb,426px 246px #0f9,434px 246px #0fb,6px 249px #0fd,20px 249px #0fa,22px 249px #1f0,28px 249px #0f3,50px 249px #0ff,52px 249px #0fe,72px 249px #0fb,104px 249px #f80,146px 249px #0fb,164px 249px #0df,172px 249px #0cf,178px 249px #08f,182px 249px #0fe,186px 249px #08f,188px 249px #0fa,216px 249px #0fc,228px 249px #0f5,238px 249px #0fc,242px 249px #0fa,268px 249px #0fd,306px 249px #0fb,374px 249px #0f6,378px 249px #0f9,2px 252px #05f,6px 252px #0fc,30px 252px #0f6,42px 252px #0f6,60px 252px #08f,74px 252px #0f8,78px 252px #0f6,86px 252px #1f0,90px 252px #bf0,106px 252px #f60,132px 252px #8f0,146px 252px #09f,156px 252px #0fa,162px 252px #0df,178px 252px #08f,190px 252px #0f7,204px 252px #0fc,240px 252px #0f3,252px 252px #0fc,296px 252px #0fb,332px 252px #0f1,378px 252px #2f0,384px 252px #6f0,392px 252px #0f7,714px 87px #0bf,726px 87px #0cf,730px 87px #0bf,738px 87px #0cf,744px 87px #0ef,748px 87px #0fe,750px 87px #09f,758px 87px #06f,770px 87px #0bf,780px 87px #08f,792px 87px #07f,812px 87px #0fe,820px 87px #0ff,836px 87px #06f,838px 87px #06f,858px 87px #0af,710px 90px #0af,714px 90px #0cf,718px 90px #0fd,730px 90px #0df,750px 90px #09f,754px 90px #08f,770px 90px #0bf,778px 90px #0bf,780px 90px #0cf,784px 90px #0af,788px 90px #0af,792px 90px #05f,794px 90px #0df,820px 90px #0df,822px 90px #0ff,830px 90px #0cf,844px 90px #0cf,846px 90px #07f,864px 90px #0bf,712px 93px #0fa,726px 93px #07f,732px 93px #0cf,742px 93px #0bf,750px 93px #0af,752px 93px #0cf,762px 93px #07f,784px 93px #07f,794px 93px #09f,818px 93px #07f,822px 93px #0df,830px 93px #08f,832px 93px #09f,836px 93px #09f,848px 93px #07f,854px 93px #0af,864px 93px #0af,712px 96px #0bf,716px 96px #07f,744px 96px #0cf,748px 96px #0cf,750px 96px #0ef,752px 96px #0bf,764px 96px #09f,768px 96px #0af,770px 96px #09f,774px 96px #0bf,776px 96px #0cf,786px 96px #09f,790px 96px #06f,798px 96px #0df,814px 96px #0fe,718px 99px #07f,720px 99px #0df,738px 99px #0df,742px 99px #0cf,746px 99px #05f,766px 99px #06f,776px 99px #0cf,782px 99px #09f,788px 99px #0af,794px 99px #08f,810px 99px #0f3,820px 99px #0fe,716px 102px #06f,724px 102px #06f,728px 102px #0ef,738px 102px #0df,742px 102px #0bf,762px 102px #09f,772px 102px #0cf,774px 102px #0bf,788px 102px #09f,808px 102px #0fb,714px 105px #0f9,718px 105px #0fc,726px 105px #07f,756px 105px #0bf,778px 105px #08f,784px 105px #09f,790px 105px #08f,796px 105px #0fe,818px 105px #0fd,820px 105px #0fd,718px 108px #05f,722px 108px #0af,724px 108px #08f,726px 108px #09f,734px 108px #0fe,748px 108px #0df,750px 108px #09f,754px 108px #0af,764px 108px #0af,772px 108px #0af,786px 108px #09f,792px 108px #0bf,798px 108px #0fc,818px 108px #07f,820px 108px #0df,822px 108px #0af,718px 111px #05f,724px 111px #06f,738px 111px #0ff,740px 111px #0fe,750px 111px #0df,762px 111px #09f,778px 111px #07f,782px 111px #0cf,804px 111px #2f0,822px 111px #07f,722px 114px #0af,734px 114px #0ef,742px 114px #0fe,766px 114px #0af,780px 114px #0ef,818px 114px #0fd,822px 114px #06f,720px 117px #08f,742px 117px #0df,744px 117px #0df,752px 117px #08f,792px 117px #0fd,812px 117px #0f1,820px 117px #0ef,846px 117px #0bf,726px 120px #0cf,736px 120px #0ff,748px 120px #0af,752px 120px #0af,794px 120px #0ff,796px 120px #0fd,810px 120px #1f0,840px 120px #09f,850px 120px #08f,718px 123px #0af,722px 123px #0cf,728px 123px #0cf,732px 123px #0cf,766px 123px #0ef,774px 123px #0bf,778px 123px #0af,786px 123px #0ff,796px 123px #0fb,820px 123px #0df,848px 123px #0cf,716px 126px #06f,738px 126px #0df,744px 126px #0fe,754px 126px #0fe,758px 126px #0ef,762px 126px #0df,776px 126px #0fd,792px 126px #0fe,802px 126px #2f0,848px 126px #0bf,712px 129px #07f,722px 129px #0ff,726px 129px #0fe,738px 129px #0bf,742px 129px #0bf,746px 129px #0cf,772px 129px #0ff,776px 129px #07f,798px 129px #0cf,816px 129px #0cf,818px 129px #0fb,822px 129px #09f,710px 132px #09f,714px 132px #0ef,726px 132px #0ff,732px 132px #0fd,736px 132px #0df,738px 132px #0ef,740px 132px #0ef,744px 132px #0fe,762px 132px #0cf,812px 132px #0fa,850px 132px #05f,712px 135px #0af,730px 135px #0fe,758px 135px #0fe,770px 135px #0fe,788px 135px #0ff,792px 135px #0cf,796px 135px #0fd,798px 135px #0fb,802px 135px #0f0,822px 135px #08f,840px 135px #08f,710px 138px #0ef,724px 138px #0df,728px 138px #0fe,740px 138px #0cf,752px 138px #0fc,758px 138px #0fd,760px 138px #0ff,762px 138px #0fd,764px 138px #0fa,768px 138px #0ff,772px 138px #0ef,778px 138px #0fc,780px 138px #0fd,790px 138px #0fe,800px 138px #0fb,804px 138px #3f0,716px 141px #0bf,720px 141px #0ff,726px 141px #0ff,728px 141px #0fe,746px 141px #0df,750px 141px #0fe,762px 141px #0fe,778px 141px #0fe,782px 141px #0df,790px 141px #0bf,808px 141px #0f6,812px 141px #af0,842px 141px #0cf,844px 141px #0af,854px 141px #08f,856px 141px #08f,716px 144px #0df,720px 144px #0fd,734px 144px #0df,760px 144px #0f8,764px 144px #0f7,800px 144px #0fa,802px 144px #1f0,808px 144px #8f0,818px 144px #0f7,822px 144px #0bf,840px 144px #0bf,844px 144px #0ef,846px 144px #0fe,850px 144px #09f,852px 144px #07f,856px 144px #06f,722px 147px #0ff,750px 147px #0fb,752px 147px #0df,780px 147px #05f,782px 147px #0fe,784px 147px #0fd,796px 147px #0ef,820px 147px #0f9,842px 147px #0fe,844px 147px #0df,850px 147px #0df,852px 147px #07f,854px 147px #05f,856px 147px #08f,726px 150px #0fc,728px 150px #0fc,750px 150px #0ff,768px 150px #0f4,776px 150px #0f9,780px 150px #0fd,788px 150px #08f,794px 150px #0fc,820px 150px #09f,830px 150px #07f,712px 153px #08f,716px 153px #0fe,720px 153px #07f,732px 153px #0ff,780px 153px #0fb,782px 153px #0fd,814px 153px #7f0,834px 153px #0ff,838px 153px #0fe,840px 153px #0fe,712px 156px #07f,716px 156px #0fe,724px 156px #0f8,738px 156px #0fd,754px 156px #0f6,758px 156px #0ff,778px 156px #0af,782px 156px #0ff,784px 156px #0ff,788px 156px #08f,794px 156px #0ef,796px 156px #0f6,822px 156px #09f,746px 159px #09f,772px 159px #08f,808px 159px #9f0,812px 159px #0f3,816px 159px #0fc,818px 159px #0fd,822px 159px #0ef,832px 159px #0af,838px 159px #0fe,840px 159px #0fd,842px 159px #0fe,850px 159px #0bf,856px 159px #09f,746px 162px #0bf,762px 162px #0fe,780px 162px #0fe,798px 162px #0f5,806px 162px #0f1,810px 162px #ff0,816px 162px #0fa,818px 162px #0fc,836px 162px #0ff,838px 162px #0ff,848px 162px #0bf,852px 162px #07f,716px 165px #0fa,724px 165px #0bf,734px 165px #07f,750px 165px #0ff,778px 165px #09f,792px 165px #0f7,794px 165px #0f9,800px 165px #0f9,804px 165px #ff0,822px 165px #0ef,834px 165px #0df,836px 165px #0cf,838px 165px #0fe,842px 165px #0cf,844px 165px #0fe,712px 168px #0bf,714px 168px #0bf,726px 168px #09f,728px 168px #0fa,732px 168px #0af,796px 168px #0fa,818px 168px #0fb,844px 168px #0ff,854px 168px #06f,714px 171px #0fd,718px 171px #0f5,738px 171px #06f,740px 171px #0f9,760px 171px #0fc,762px 171px #0fc,772px 171px #0fb,774px 171px #0f7,778px 171px #0fc,788px 171px #0fc,810px 171px #df0,820px 171px #0ef,832px 171px #0bf,848px 171px #0cf,852px 171px #0df,856px 171px #07f,720px 174px #0f7,722px 174px #0f9,724px 174px #0f8,738px 174px #0fc,742px 174px #0fc,744px 174px #09f,746px 174px #0fb,764px 174px #0fa,766px 174px #0f2,790px 174px #0bf,822px 174px #0fd,830px 174px #06f,852px 174px #09f,854px 174px #0cf,726px 177px #0fa,728px 177px #0ff,740px 177px #0fa,748px 177px #0fa,772px 177px #0fa,778px 177px #0df,802px 177px #bf0,832px 177px #0cf,838px 177px #0fe,862px 177px #05f,770px 180px #0fb,784px 180px #0fd,794px 180px #0f5,818px 180px #0f1,858px 180px #0af,718px 183px #cf0,726px 183px #0fe,728px 183px #0f6,732px 183px #0fb,734px 183px #0fc,748px 183px #0fa,752px 183px #0fc,780px 183px #0fb,800px 183px #cf0,802px 183px #0f1,804px 183px #4f0,806px 183px #ff0,808px 183px #0f0,818px 183px #0f2,830px 183px #0bf,844px 183px #0fe,728px 186px #0ff,732px 186px #0ef,760px 186px #0f7,770px 186px #0fd,784px 186px #0fe,790px 186px #09f,832px 186px #0df,840px 186px #0fd,844px 186px #0ff,852px 186px #0bf,730px 189px #0f6,742px 189px #09f,748px 189px #0ff,764px 189px #5f0,794px 189px #0fc,864px 189px #0bf,712px 192px #7f0,732px 192px #0fa,738px 192px #0af,742px 192px #0af,746px 192px #0fa,750px 192px #0f5,788px 192px #0fa,790px 192px #0f9,792px 192px #0f9,812px 192px #af0,820px 192px #0fd,826px 192px #0df,834px 192px #0af,846px 192px #0fe,850px 192px #0af,860px 192px #0bf,740px 195px #0f6,748px 195px #0f8,762px 195px #0f6,794px 195px #0f7,818px 195px #0fb,824px 195px #0fd,856px 195px #05f,864px 195px #0af,754px 198px #0f1,780px 198px #0bf,784px 198px #0fe,790px 198px #07f,804px 198px #1f0,806px 198px #fe0,824px 198px #0fe,826px 198px #0ef,830px 198px #0bf,834px 198px #0af,720px 201px #1f0,734px 201px #0fe,742px 201px #0bf,752px 201px #0f5,758px 201px #0f3,788px 201px #0fb,798px 201px #0f4,832px 201px #0fe,846px 201px #0cf,862px 201px #0cf,728px 204px #0fc,774px 204px #0f2,784px 204px #0ef,790px 204px #0fb,800px 204px #0f7,802px 204px #0f2,828px 204px #0fd,846px 204px #0fe,858px 204px #05f,716px 207px #0f8,736px 207px #0ff,748px 207px #0f8,758px 207px #0f9,766px 207px #9f0,812px 207px #0f9,814px 207px #0f3,820px 207px #0fd,822px 207px #0fb,824px 207px #06f,828px 207px #07f,844px 207px #0ef,856px 207px #06f,858px 207px #05f,714px 210px #fc0,724px 210px #0fb,738px 210px #0ef,764px 210px #1f0,814px 210px #0fb,824px 210px #09f,834px 210px #0cf,848px 210px #09f,854px 210px #05f,714px 213px #0f3,724px 213px #0f7,730px 213px #0fb,744px 213px #0fa,752px 213px #0f3,760px 213px #0f4,778px 213px #0f2,780px 213px #0f6,784px 213px #05f,794px 213px #0cf,798px 213px #0fc,818px 213px #0f6,820px 213px #0fe,828px 213px #09f,834px 213px #0df,852px 213px #09f,856px 213px #05f,718px 216px #ff0,730px 216px #0fb,734px 216px #0fd,786px 216px #0fd,790px 216px #0fc,806px 216px #cf0,818px 216px #0f6,826px 216px #0fc,834px 216px #0ef,848px 216px #0af,722px 219px #0fc,728px 219px #0fc,748px 219px #0f3,758px 219px #0f6,770px 219px #0f4,782px 219px #0af,798px 219px #0fc,806px 219px #9f0,834px 219px #0bf,844px 219px #0cf,852px 219px #0cf,710px 222px #af0,738px 222px #0fe,744px 222px #0fc,758px 222px #7f0,790px 222px #0fe,796px 222px #0fe,810px 222px #4f0,822px 222px #0cf,826px 222px #0fb,828px 222px #0fc,830px 222px #0fc,844px 222px #0fe,852px 222px #06f,854px 222px #08f,856px 222px #09f,718px 225px #0f2,732px 225px #0fc,742px 225px #0fe,754px 225px #9f0,768px 225px #0f6,788px 225px #0fb,826px 225px #0df,838px 225px #0fd,840px 225px #0fd,842px 225px #0fd,712px 228px #9f0,722px 228px #0f5,728px 228px #0f6,788px 228px #07f,798px 228px #0f7,802px 228px #2f0,806px 228px #7f0,810px 228px #cf0,812px 228px #0f2,820px 228px #0fc,834px 228px #0fe,730px 231px #0fc,748px 231px #0f2,782px 231px #0fc,820px 231px #0fd,824px 231px #0af,830px 231px #09f,838px 231px #0fb,714px 234px #0f4,720px 234px #1f0,746px 234px #0f8,760px 234px #4f0,762px 234px #1f0,782px 234px #07f,794px 234px #0af,818px 234px #0fa,822px 234px #0fe,834px 234px #0fd,844px 234px #0df,850px 234px #07f,722px 237px #0fb,736px 237px #0f6,748px 237px #0fa,758px 237px #0fe,766px 237px #0f2,774px 237px #1f0,776px 237px #0fa,788px 237px #0df,806px 237px #0f3,822px 237px #0f6,834px 237px #0fe,838px 237px #0df,840px 237px #0bf,712px 240px #0f2,714px 240px #bf0,726px 240px #0fc,730px 240px #0fb,762px 240px #0fb,766px 240px #0fd,768px 240px #0f2,794px 240px #0fd,802px 240px #0bf,834px 240px #0fe,844px 240px #07f,728px 243px #0fa,746px 243px #0fe,750px 243px #06f,752px 243px #0fc,758px 243px #0fb,760px 243px #0fa,770px 243px #0f1,792px 243px #0cf,794px 243px #0ff,796px 243px #0fd,800px 243px #0fc,802px 243px #0cf,816px 243px #0fb,846px 243px #0af,718px 246px #ef0,720px 246px #0f9,724px 246px #0f2,772px 246px #0f0,780px 246px #0ff,728px 249px #0f9,732px 249px #0f3,734px 249px #0fd,758px 249px #06f,782px 249px #0ff,798px 249px #07f,812px 249px #0f6,822px 249px #0fb,864px 249px #05f,748px 252px #0ef,750px 252px #0fd,754px 252px #0fe,776px 252px #0fb,782px 252px #0fd,796px 252px #0fc,824px 252px #0fc,846px 252px #0bf,858px 252px #08f,860px 252px #0bf,18px 261px #0fd,22px 261px #0fa,26px 261px #0f0,32px 261px #0f6,42px 261px #0f9,54px 261px #0ff,64px 261px #0ff,94px 261px #ef0,96px 261px #df0,102px 261px #fe0,112px 261px #ef0,126px 261px #0f6,140px 261px #0f1,150px 261px #0ef,158px 261px #0fa,164px 261px #0fc,174px 261px #0fe,178px 261px #0fd,186px 261px #0cf,194px 261px #0ef,204px 261px #0f6,214px 261px #0f7,216px 261px #0fb,224px 261px #0fb,228px 261px #0f7,234px 261px #0f3,248px 261px #0f3,280px 261px #0f2,320px 261px #0fc,328px 261px #0f1,338px 261px #0f1,362px 261px #0fa,374px 261px #0f2,390px 261px #0f1,406px 261px #0f2,422px 261px #0fc,14px 264px #0ff,16px 264px #0f8,58px 264px #06f,66px 264px #0f5,98px 264px #bf0,116px 264px #2f0,124px 264px #bf0,126px 264px #9f0,132px 264px #0f8,156px 264px #09f,160px 264px #0fa,162px 264px #09f,170px 264px #06f,172px 264px #05f,178px 264px #0fe,180px 264px #0fe,184px 264px #0fb,198px 264px #0f5,204px 264px #0f9,232px 264px #0fb,334px 264px #0f2,336px 264px #0f4,360px 264px #0fd,368px 264px #0f3,370px 264px #0f3,394px 264px #1f0,410px 264px #0fc,430px 264px #0f2,436px 264px #0fb,2px 267px #0f9,6px 267px #0fa,16px 267px #0fe,26px 267px #0fb,38px 267px #6f0,48px 267px #0fd,54px 267px #07f,58px 267px #0fb,60px 267px #09f,68px 267px #0fd,84px 267px #4f0,88px 267px #0f4,98px 267px #f90,100px 267px #f90,128px 267px #7f0,166px 267px #0f8,172px 267px #0fc,184px 267px #0f8,224px 267px #0f2,228px 267px #0fc,230px 267px #0f5,248px 267px #0f2,262px 267px #0fb,278px 267px #0fd,280px 267px #0fd,282px 267px #0f1,300px 267px #0f8,304px 267px #0fb,316px 267px #0f2,322px 267px #0f8,328px 267px #0fd,334px 267px #0f1,364px 267px #0f2,372px 267px #1f0,382px 267px #0fa,388px 267px #0f2,412px 267px #0fa,416px 267px #2f0,428px 267px #0f8,12px 270px #0fc,14px 270px #0ff,34px 270px #fb0,56px 270px #05f,60px 270px #0df,64px 270px #0f9,74px 270px #0f3,92px 270px #2f0,108px 270px #fe0,110px 270px #df0,140px 270px #0fb,148px 270px #0fc,158px 270px #0bf,160px 270px #0cf,162px 270px #0af,182px 270px #0df,188px 270px #0ff,194px 270px #0f7,200px 270px #0f5,204px 270px #0f3,214px 270px #0f3,216px 270px #0f9,218px 270px #0bf,246px 270px #5f0,250px 270px #0fc,254px 270px #0f3,258px 270px #0f8,270px 270px #1f0,272px 270px #0fa,302px 270px #0f8,314px 270px #0f9,338px 270px #0f9,354px 270px #0f2,400px 270px #0f7,414px 270px #0f9,12px 273px #0fc,14px 273px #0f8,28px 273px #0f5,56px 273px #0fa,64px 273px #0ff,68px 273px #0f5,92px 273px #3f0,102px 273px #f30,120px 273px #cf0,134px 273px #2f0,148px 273px #09f,166px 273px #0cf,172px 273px #0fc,180px 273px #0f8,186px 273px #0f8,202px 273px #0f1,206px 273px #3f0,218px 273px #0cf,220px 273px #0f2,230px 273px #0fb,246px 273px #0f8,256px 273px #5f0,258px 273px #0fa,286px 273px #3f0,326px 273px #0f1,340px 273px #0fa,390px 273px #2f0,406px 273px #5f0,414px 273px #0fa,424px 273px #0f2,12px 276px #0fb,20px 276px #0fb,30px 276px #fc0,38px 276px #ff0,68px 276px #0f8,88px 276px #cf0,120px 276px #af0,126px 276px #0f5,130px 276px #9f0,132px 276px #4f0,152px 276px #0af,156px 276px #0fa,164px 276px #0fa,170px 276px #0fc,172px 276px #0cf,176px 276px #0fc,178px 276px #0f9,184px 276px #0fe,186px 276px #0fe,194px 276px #0f9,206px 276px #0f7,208px 276px #5f0,210px 276px #0f6,212px 276px #0f7,216px 276px #0f9,252px 276px #0f9,266px 276px #1f0,290px 276px #1f0,306px 276px #0f9,352px 276px #0f9,376px 276px #0f8,414px 276px #1f0,428px 276px #0f0,434px 276px #0f8,6px 279px #0f9,10px 279px #0fe,62px 279px #0fe,92px 279px #fe0,98px 279px #f90,114px 279px #7f0,120px 279px #af0,126px 279px #8f0,136px 279px #0f0,142px 279px #0f3,166px 279px #0fa,190px 279px #0fd,252px 279px #0f0,294px 279px #0f8,298px 279px #0f0,308px 279px #0fa,314px 279px #0f1,326px 279px #4f0,338px 279px #0f6,358px 279px #2f0,386px 279px #0f9,388px 279px #0f8,398px 279px #0f7,412px 279px #0f9,428px 279px #0f9,16px 282px #0f6,22px 282px #0f4,36px 282px #fb0,66px 282px #0f7,128px 282px #0f4,146px 282px #0fe,166px 282px #0f9,168px 282px #0fb,172px 282px #0df,182px 282px #0df,188px 282px #0f5,194px 282px #0f9,200px 282px #0f5,214px 282px #1f0,216px 282px #0ef,262px 282px #0fa,278px 282px #0f2,332px 282px #0f2,342px 282px #0fb,344px 282px #0f7,374px 282px #0f0,394px 282px #3f0,8px 285px #0fa,24px 285px #0f4,58px 285px #0fe,62px 285px #0fd,92px 285px #3f0,100px 285px #fe0,142px 285px #0f2,144px 285px #0ef,148px 285px #0cf,158px 285px #0f8,174px 285px #0fa,176px 285px #0fc,178px 285px #09f,184px 285px #0f6,254px 285px #0fa,278px 285px #0f2,282px 285px #0fb,286px 285px #3f0,318px 285px #0fb,370px 285px #0fb,376px 285px #0f2,406px 285px #3f0,424px 285px #0f0,430px 285px #0f0,34px 288px #fa0,46px 288px #0f6,62px 288px #0f5,92px 288px #fe0,114px 288px #fc0,136px 288px #9f0,146px 288px #0fd,152px 288px #09f,172px 288px #0f9,174px 288px #0bf,190px 288px #0fd,192px 288px #0fc,198px 288px #0f4,202px 288px #0fd,206px 288px #0fa,208px 288px #4f0,210px 288px #0f9,240px 288px #0fa,260px 288px #3f0,262px 288px #0fb,286px 288px #0f0,290px 288px #0f7,294px 288px #0f1,344px 288px #0f8,354px 288px #0f1,386px 288px #0f0,408px 288px #0f6,412px 288px #0f9,418px 288px #0f9,14px 291px #0f7,32px 291px #af0,68px 291px #0fe,90px 291px #cf0,110px 291px #fd0,134px 291px #fe0,146px 291px #0fd,148px 291px #0df,162px 291px #0fa,166px 291px #0cf,168px 291px #0f9,176px 291px #0fa,196px 291px #0fe,200px 291px #0fa,226px 291px #0fc,244px 291px #4f0,246px 291px #5f0,270px 291px #1f0,276px 291px #0f9,278px 291px #0f0,298px 291px #0f9,368px 291px #3f0,382px 291px #0f0,74px 294px #0fb,78px 294px #0f1,84px 294px #5f0,128px 294px #0f1,134px 294px #0f4,150px 294px #0fe,154px 294px #0ff,182px 294px #0ff,198px 294px #0f6,206px 294px #0f9,214px 294px #0fb,230px 294px #0f1,302px 294px #0f7,304px 294px #0f1,308px 294px #0fb,322px 294px #0fa,326px 294px #0fa,336px 294px #0f1,350px 294px #0fa,356px 294px #0f0,358px 294px #0f8,376px 294px #0f9,436px 294px #0fa,4px 297px #0f5,32px 297px #2f0,44px 297px #0f5,96px 297px #fc0,124px 297px #0f6,158px 297px #0f7,160px 297px #0fa,170px 297px #0af,172px 297px #0cf,198px 297px #0f4,204px 297px #0f5,216px 297px #0cf,218px 297px #0af,244px 297px #0f5,264px 297px #0f0,286px 297px #0f2,308px 297px #1f0,316px 297px #1f0,330px 297px #0f0,348px 297px #0f0,360px 297px #0fa,362px 297px #0f1,376px 297px #0f8,380px 297px #0fa,402px 297px #2f0,406px 297px #6f0,434px 297px #0f9,4px 300px #0fc,8px 300px #0fe,30px 300px #0f6,56px 300px #0f9,64px 300px #0f7,78px 300px #0f9,86px 300px #0f6,94px 300px #af0,110px 300px #f50,154px 300px #0ff,162px 300px #0f9,166px 300px #0f9,176px 300px #0fb,196px 300px #0fe,202px 300px #0fc,204px 300px #0f4,208px 300px #0f1,210px 300px #0fa,260px 300px #2f0,280px 300px #0f2,282px 300px #0f1,288px 300px #0f1,302px 300px #3f0,316px 300px #0fa,346px 300px #0f1,364px 300px #1f0,370px 300px #0f1,420px 300px #0f1,434px 300px #0f9,4px 303px #0f4,28px 303px #0f1,36px 303px #0f5,68px 303px #0fa,76px 303px #0fb,84px 303px #1f0,86px 303px #7f0,94px 303px #7f0,120px 303px #0f3,122px 303px #df0,140px 303px #0f5,154px 303px #0fe,158px 303px #0f7,164px 303px #0df,168px 303px #0f9,174px 303px #0fb,184px 303px #0f9,194px 303px #0ff,214px 303px #0f2,222px 303px #0f4,224px 303px #0fa,264px 303px #0fa,272px 303px #0f1,278px 303px #0fa,282px 303px #0f0,286px 303px #1f0,290px 303px #1f0,296px 303px #0f8,300px 303px #5f0,304px 303px #0f7,330px 303px #1f0,340px 303px #0f0,396px 303px #0f1,400px 303px #0f6,432px 303px #3f0,2px 306px #0fc,16px 306px #0fb,22px 306px #0f0,28px 306px #0f8,32px 306px #0f6,34px 306px #7f0,38px 306px #fe0,78px 306px #1f0,88px 306px #9f0,120px 306px #cf0,146px 306px #0f4,158px 306px #0f6,162px 306px #0df,176px 306px #0af,178px 306px #0fb,190px 306px #0f4,200px 306px #0f6,202px 306px #0f4,246px 306px #4f0,282px 306px #0f9,290px 306px #0f8,322px 306px #1f0,342px 306px #0f0,358px 306px #0fa,360px 306px #0fb,364px 306px #0f7,406px 306px #0f5,12px 309px #0f4,14px 309px #0f4,20px 309px #0f1,28px 309px #2f0,32px 309px #2f0,72px 309px #2f0,92px 309px #3f0,126px 309px #af0,140px 309px #0f7,160px 309px #0f8,162px 309px #0ff,168px 309px #0bf,170px 309px #0f9,176px 309px #0fd,228px 309px #0f1,248px 309px #0f9,266px 309px #0f2,278px 309px #0fc,286px 309px #0f0,302px 309px #0f9,318px 309px #0f0,352px 309px #0f3,368px 309px #4f0,370px 309px #2f0,376px 309px #0f8,400px 309px #5f0,416px 309px #0fb,6px 312px #0f6,36px 312px #0f4,86px 312px #3f0,90px 312px #cf0,104px 312px #f10,114px 312px #9f0,128px 312px #0f2,134px 312px #0f1,168px 312px #0fc,188px 312px #0f5,192px 312px #0fb,218px 312px #09f,222px 312px #0fc,246px 312px #2f0,252px 312px #0f1,276px 312px #1f0,312px 312px #0f0,336px 312px #0f9,422px 312px #0f0,432px 312px #0f8,4px 315px #0fd,12px 315px #0fc,26px 315px #0f0,36px 315px #0f3,52px 315px #0fa,58px 315px #0f9,70px 315px #3f0,80px 315px #5f0,82px 315px #6f0,88px 315px #0f4,94px 315px #fa0,118px 315px #ff0,122px 315px #fe0,132px 315px #0f4,134px 315px #2f0,140px 315px #6f0,146px 315px #0fc,150px 315px #0fc,152px 315px #0fd,166px 315px #0af,180px 315px #0fa,192px 315px #0f5,200px 315px #0f6,212px 315px #0f5,236px 315px #0f0,240px 315px #0fb,256px 315px #3f0,270px 315px #0f9,300px 315px #0f0,326px 315px #4f0,334px 315px #0f8,340px 315px #0fa,346px 315px #0fb,396px 315px #0f9,416px 315px #0f0,432px 315px #0f8,434px 315px #0f1,2px 318px #0f9,36px 318px #af0,42px 318px #0f7,58px 318px #0fb,70px 318px #5f0,76px 318px #0f9,90px 318px #0f3,140px 318px #8f0,164px 318px #0fb,168px 318px #0f9,176px 318px #0fc,188px 318px #0f5,210px 318px #0f5,290px 318px #1f0,292px 318px #0f1,302px 318px #1f0,304px 318px #0f7,316px 318px #1f0,318px 318px #0f8,328px 318px #0f0,338px 318px #1f0,362px 318px #0f1,388px 318px #0fa,390px 318px #1f0,392px 318px #4f0,400px 318px #1f0,402px 318px #0f6,410px 318px #0f7,432px 318px #0f0,434px 318px #0fa,4px 321px #0fd,46px 321px #0fb,48px 321px #0fb,68px 321px #0f8,72px 321px #0f6,80px 321px #4f0,84px 321px #0f5,138px 321px #cf0,140px 321px #cf0,152px 321px #0f7,170px 321px #0fa,178px 321px #0fa,182px 321px #0ff,194px 321px #0f7,202px 321px #0f7,208px 321px #0fc,216px 321px #08f,218px 321px #09f,228px 321px #0f3,264px 321px #1f0,290px 321px #0f1,300px 321px #0f9,306px 321px #0fb,316px 321px #0f2,348px 321px #0f9,376px 321px #1f0,378px 321px #0f9,392px 321px #0fb,404px 321px #0f8,422px 321px #0fb,426px 321px #0f9,4px 324px #0f8,12px 324px #0f5,42px 324px #3f0,46px 324px #0fb,76px 324px #7f0,78px 324px #4f0,88px 324px #cf0,104px 324px #f70,114px 324px #af0,156px 324px #0fa,162px 324px #0ff,166px 324px #0cf,172px 324px #0bf,180px 324px #0cf,188px 324px #0f7,194px 324px #0f6,196px 324px #0f8,214px 324px #0f7,266px 324px #0f8,276px 324px #7f0,306px 324px #0f9,324px 324px #2f0,334px 324px #0f2,348px 324px #2f0,398px 324px #0f7,408px 324px #1f0,416px 324px #0fb,4px 327px #0ff,6px 327px #0ef,32px 327px #4f0,46px 327px #0fa,54px 327px #0f1,72px 327px #2f0,84px 327px #6f0,122px 327px #fe0,148px 327px #0f3,150px 327px #0f1,166px 327px #0f8,178px 327px #0fa,180px 327px #0ff,202px 327px #0f7,214px 327px #0f6,250px 327px #3f0,256px 327px #3f0,280px 327px #0fa,300px 327px #0f7,340px 327px #0f9,356px 327px #0fa,376px 327px #1f0,378px 327px #0f8,380px 327px #0f0,390px 327px #0fa,398px 327px #4f0,402px 327px #4f0,404px 327px #0f8,420px 327px #0f1,436px 327px #0f0,12px 330px #0fa,30px 330px #7f0,38px 330px #fd0,84px 330px #3f0,94px 330px #fc0,100px 330px #f60,104px 330px #f80,106px 330px #f90,116px 330px #fc0,166px 330px #0ff,178px 330px #0bf,204px 330px #0f9,206px 330px #0fd,208px 330px #0f8,224px 330px #0f1,248px 330px #0fb,268px 330px #0f9,332px 330px #0f1,342px 330px #0fc,344px 330px #0f6,356px 330px #2f0,384px 330px #0f6,388px 330px #0fa,400px 330px #1f0,24px 333px #0fb,76px 333px #6f0,96px 333px #af0,100px 333px #f90,122px 333px #1f0,140px 333px #cf0,148px 333px #0fb,164px 333px #0f5,172px 333px #0f9,174px 333px #0fb,180px 333px #0ff,202px 333px #0f6,208px 333px #0fd,230px 333px #0f3,250px 333px #0f1,272px 333px #0f2,284px 333px #0f9,298px 333px #0f0,342px 333px #2f0,386px 333px #0fa,412px 333px #0f7,20px 336px #0ff,62px 336px #5f0,94px 336px #8f0,116px 336px #fb0,122px 336px #1f0,140px 336px #0f2,146px 336px #4f0,168px 336px #0f6,172px 336px #0ff,194px 336px #0fe,202px 336px #0f7,212px 336px #0f7,220px 336px #0f6,224px 336px #0f4,246px 336px #0f0,278px 336px #0f3,320px 336px #0f0,360px 336px #2f0,392px 336px #0f8,400px 336px #0f7,408px 336px #0f6,416px 336px #0f0,8px 339px #0bf,14px 339px #0f5,28px 339px #0fb,30px 339px #5f0,40px 339px #fb0,72px 339px #6f0,78px 339px #0f5,80px 339px #6f0,96px 339px #f90,118px 339px #1f0,132px 339px #9f0,164px 339px #0f5,178px 339px #0fa,204px 339px #0ef,208px 339px #0f8,224px 339px #0f2,228px 339px #0fc,270px 339px #0f0,290px 339px #2f0,292px 339px #0f8,302px 339px #0f9,320px 339px #5f0,332px 339px #0f1,336px 339px #0fc,354px 339px #0f1,358px 339px #0f8,374px 339px #0fa,376px 339px #3f0,386px 339px #0f9,16px 342px #0fd,42px 342px #0f9,62px 342px #0f0,64px 342px #0f9,126px 342px #fe0,150px 342px #6f0,184px 342px #0ef,190px 342px #0fe,200px 342px #0ff,204px 342px #0fa,212px 342px #0bf,226px 342px #0f4,234px 342px #0f3,256px 342px #0f0,280px 342px #0f9,292px 342px #0f2,294px 342px #0fa,338px 342px #0f0,344px 342px #0f9,362px 342px #4f0,370px 342px #0f8,382px 342px #0f9,406px 342px #0f5,424px 342px #0f1,432px 342px #0f0,436px 342px #3f0,2px 345px #0f9,6px 345px #0cf,42px 345px #0fb,46px 345px #0fc,50px 345px #0fd,72px 345px #0f6,74px 345px #8f0,86px 345px #cf0,100px 345px #ff0,122px 345px #fe0,152px 345px #0fa,154px 345px #2f0,156px 345px #0f8,176px 345px #0f9,178px 345px #0f8,184px 345px #0df,190px 345px #0fe,210px 345px #0df,240px 345px #0fb,270px 345px #2f0,290px 345px #0fb,422px 345px #0fa,430px 345px #0fa,2px 348px #0f8,28px 348px #0fa,48px 348px #0f4,70px 348px #0f7,88px 348px #df0,122px 348px #fe0,176px 348px #0ff,178px 348px #0f7,182px 348px #0f9,190px 348px #0f9,212px 348px #0fb,230px 348px #0f9,248px 348px #1f0,252px 348px #0fb,308px 348px #2f0,322px 348px #0f0,324px 348px #0f9,328px 348px #0f2,336px 348px #0f3,342px 348px #0f8,406px 348px #0f8,414px 348px #2f0,426px 348px #4f0,2px 351px #0fb,8px 351px #0f9,50px 351px #0f1,58px 351px #0fb,64px 351px #0f6,122px 351px #5f0,158px 351px #0f1,178px 351px #0ef,200px 351px #0fe,228px 351px #0fb,236px 351px #0f1,252px 351px #0f0,264px 351px #0f1,290px 351px #0fb,300px 351px #2f0,302px 351px #4f0,316px 351px #0f9,354px 351px #0fb,362px 351px #0f7,380px 351px #0f0,386px 351px #0f1,418px 351px #0fa,436px 351px #0fa,740px 261px #0fd,752px 261px #0fe,768px 261px #0fa,776px 261px #0af,778px 261px #0fe,794px 261px #0ff,798px 261px #08f,808px 261px #0f1,826px 261px #9f0,830px 261px #1f0,832px 261px #ef0,722px 264px #2f0,728px 264px #0fb,750px 264px #0fe,772px 264px #0fa,774px 264px #0bf,782px 264px #0ff,792px 264px #0df,798px 264px #06f,814px 264px #1f0,820px 264px #f90,826px 264px #cf0,838px 264px #6f0,858px 264px #0fe,864px 264px #0df,716px 267px #df0,720px 267px #bf0,740px 267px #0ff,750px 267px #0ef,758px 267px #0ff,774px 267px #0bf,778px 267px #0fa,806px 267px #0fc,808px 267px #0f2,822px 267px #df0,830px 267px #0f0,848px 267px #0ff,862px 267px #0fd,712px 270px #ff0,718px 270px #5f0,722px 270px #0f5,736px 270px #0df,744px 270px #0fc,752px 270px #0fe,774px 270px #0fa,780px 270px #06f,784px 270px #0ff,786px 270px #0fe,788px 270px #0fe,798px 270px #0fd,802px 270px #0fb,804px 270px #08f,820px 270px #fa0,864px 270px #0fd,714px 273px #f60,718px 273px #0f6,730px 273px #0f0,740px 273px #0fd,752px 273px #07f,762px 273px #0fb,774px 273px #0fc,778px 273px #08f,780px 273px #0fb,782px 273px #0fc,784px 273px #07f,796px 273px #0fd,802px 273px #09f,836px 273px #4f0,852px 273px #0ef,858px 273px #0ef,716px 276px #bf0,738px 276px #0cf,742px 276px #0fb,746px 276px #0fd,748px 276px #0ef,758px 276px #0af,762px 276px #0cf,774px 276px #0df,778px 276px #0fa,808px 276px #0f9,812px 276px #4f0,820px 276px #f90,828px 276px #fc0,836px 276px #0f8,842px 276px #6f0,852px 276px #0f9,722px 279px #5f0,730px 279px #0fa,732px 279px #0fb,758px 279px #0fa,794px 279px #0af,832px 279px #0f3,846px 279px #0f8,734px 282px #0f2,736px 282px #0fc,748px 282px #0af,752px 282px #0ef,802px 282px #0f9,806px 282px #0f0,812px 282px #fe0,712px 285px #ff0,720px 285px #0f2,748px 285px #0f7,756px 285px #0fe,772px 285px #0ff,784px 285px #0cf,788px 285px #0af,792px 285px #0ef,794px 285px #0fa,802px 285px #0f6,836px 285px #0f7,840px 285px #0f6,842px 285px #7f0,724px 288px #8f0,768px 288px #0fa,788px 288px #0fa,792px 288px #0fa,796px 288px #0f7,820px 288px #fc0,716px 291px #0f3,720px 291px #9f0,724px 291px #0f5,732px 291px #0f6,742px 291px #0fb,750px 291px #0fe,760px 291px #0f3,768px 291px #0f3,772px 291px #0f7,786px 291px #0cf,796px 291px #0f9,802px 291px #0f7,818px 291px #fc0,858px 291px #0f7,740px 294px #0f5,742px 294px #0fc,786px 294px #0fa,796px 294px #0f9,816px 294px #fd0,848px 294px #0f5,858px 294px #0ef,718px 297px #0f8,746px 297px #0f4,758px 297px #1f0,760px 297px #0f1,784px 297px #0af,786px 297px #0fb,790px 297px #0cf,802px 297px #0f7,808px 297px #0f8,822px 297px #ff0,824px 297px #fe0,842px 297px #0fb,854px 297px #0f9,726px 300px #bf0,786px 300px #0fa,824px 300px #ff0,834px 300px #0f9,838px 300px #1f0,860px 300px #0fa,864px 300px #0fa,728px 303px #0f0,732px 303px #0f7,742px 303px #6f0,766px 303px #0f1,784px 303px #0cf,796px 303px #0fa,802px 303px #0f6,806px 303px #1f0,832px 303px #0f0,842px 303px #0f7,846px 303px #0fc,848px 303px #0fe,856px 303px #0bf,862px 303px #0f6,864px 303px #0df,710px 306px #cf0,714px 306px #fe0,734px 306px #0f0,780px 306px #0f9,822px 306px #0f3,836px 306px #0f6,840px 306px #0f7,852px 306px #0cf,854px 306px #08f,710px 309px #cf0,722px 309px #0f8,726px 309px #0f3,760px 309px #3f0,778px 309px #0fe,780px 309px #0fe,784px 309px #0f8,794px 309px #0f7,800px 309px #0cf,804px 309px #0ff,810px 309px #0f6,822px 309px #af0,854px 309px #0fc,856px 309px #0fd,860px 309px #0fc,710px 312px #df0,732px 312px #9f0,754px 312px #5f0,760px 312px #3f0,770px 312px #0fa,780px 312px #0f8,792px 312px #0f7,798px 312px #0f9,802px 312px #0fc,834px 312px #0f7,848px 312px #0cf,710px 315px #0f1,718px 315px #8f0,734px 315px #0f2,758px 315px #0f4,780px 315px #0fd,782px 315px #0f4,794px 315px #0ff,802px 315px #0fb,804px 315px #0af,808px 315px #0f2,810px 315px #2f0,836px 315px #0ef,840px 315px #0ef,862px 315px #0f9,772px 318px #0fc,784px 318px #0fc,790px 318px #0f7,792px 318px #0fe,796px 318px #0f9,852px 318px #07f,714px 321px #0f1,758px 321px #0f3,760px 321px #5f0,784px 321px #0fc,788px 321px #0f7,794px 321px #0f7,798px 321px #0ef,802px 321px #0af,818px 321px #7f0,820px 321px #6f0,838px 321px #0cf,842px 321px #07f,844px 321px #0fe,856px 321px #0ef,710px 324px #bf0,726px 324px #af0,748px 324px #0f6,788px 324px #0ff,790px 324px #0fa,792px 324px #0ef,794px 324px #0df,842px 324px #0ef,852px 324px #0fd,864px 324px #0ef,710px 327px #af0,732px 327px #0f4,738px 327px #5f0,746px 327px #3f0,754px 327px #bf0,782px 327px #0fb,824px 327px #0f6,834px 327px #0fc,844px 327px #0df,846px 327px #0fe,850px 327px #0ff,864px 327px #0fe,750px 330px #6f0,758px 330px #8f0,764px 330px #0f1,768px 330px #0f5,780px 330px #0f4,794px 330px #0df,802px 330px #0bf,822px 330px #0f8,830px 330px #0fb,710px 333px #cf0,750px 333px #3f0,762px 333px #0f6,802px 333px #0fe,810px 333px #7f0,824px 333px #0f0,832px 333px #0ff,834px 333px #0cf,836px 333px #07f,846px 333px #0fe,862px 333px #0fd,864px 333px #0fd,732px 336px #6f0,756px 336px #0f4,760px 336px #6f0,788px 336px #0f8,812px 336px #0f5,836px 336px #0fc,842px 336px #0fd,854px 336px #0ff,856px 336px #0ef,858px 336px #0ff,718px 339px #6f0,734px 339px #0f1,778px 339px #0fc,788px 339px #0f7,802px 339px #0f6,814px 339px #1f0,836px 339px #0fb,860px 339px #0ef,862px 339px #05f,760px 342px #0f4,768px 342px #af0,770px 342px #4f0,790px 342px #0ff,802px 342px #0f9,804px 342px #0fe,808px 342px #2f0,824px 342px #0f1,828px 342px #0fa,836px 342px #0fb,846px 342px #0fd,848px 342px #0fe,854px 342px #0fe,736px 345px #5f0,738px 345px #4f0,792px 345px #0fe,812px 345px #0f4,832px 345px #0f7,744px 348px #ef0,760px 348px #0f6,778px 348px #0fa,780px 348px #0fb,782px 348px #0f2,804px 348px #0f5,816px 348px #0f8,818px 348px #0f6,820px 348px #0f9,824px 348px #0f9,836px 348px #0fb,840px 348px #0fa,858px 348px #0fd,712px 351px #0f1,748px 351px #4f0,788px 351px #0f7,790px 351px #0ff,792px 351px #0f7,810px 351px #1f0,814px 351px #2f0,824px 351px #0f2,830px 351px #0f4,834px 351px #0bf,854px 351px #0ff"></s>
<div id="ws"></div>
</div>
<div id="l">
<b style="left:0px;top:0px;width:437px;height:6px;background:linear-gradient(90deg,#0fa 0,#0f9 1px,#0fa 2px,#0fb 3px,#0fa 4px,#0f8 5px,#0f7 6px,#0f7 7px,#0f5 8px,#0f2 9px,#0f2 10px,#0f3 11px,#0f3 12px,#0f2 13px,#0f0 14px,#5f0 15px,#6f0 16px,#4f0 17px,#1f0 18px,#0f2 19px,#0f2 20px,#1f0 21px,#2f0 22px,#0f1 23px,#0f2 24px,#0f0 25px,#0f0 26px,#0f0 27px,#3f0 28px,#8f0 29px,#9f0 30px,#6f0 31px,#4f0 32px,#7f0 34px,#f80 35px,#f80 40px,#3f0 41px,#5f0 43px,#3f0 44px,#0f1 45px,#0f0 46px,#3f0 47px,#3f0 48px,#0f1 49px,#0f2 50px,#0f0 51px,#2f0 53px,#6f0 55px,#5f0 56px,#2f0 57px,#2f0 58px,#6f0 59px,#6f0 60px,#2f0 61px,#0f0 62px,#0f0 65px,#1f0 67px,#3f0 68px,#6f0 69px,#6f0 70px,#2f0 71px,#3f0 72px,#6f0 73px,#9f0 74px,#bf0 75px,#af0 76px,#5f0 78px,#2f0 79px,#0f1 80px,#0f2 81px,#0f2 82px,#0f0 83px,#0f0 84px,#0f0 85px,#3f0 86px,#7f0 87px,#af0 88px,#bf0 89px,#ff0 90px,#fd0 91px,#fc0 92px,#f80 93px,#f70 95px,#f70 97px,#f30 98px,#f30 105px,#f30 106px,#f60 107px,#f60 108px,#f80 110px,#fc0 113px,#fc0 114px,#fb0 115px,#fc0 116px,#fe0 117px,#fe0 118px,#fc0 119px,#fc0 120px,#fe0 124px,#ff0 127px,#df0 128px,#9f0 129px,#9f0 130px,#cf0 131px,#fb0 132px,#fb0 134px,#ff0 135px,#ff0 136px,#ef0 137px,#9f0 138px,#3f0 139px,#3f0 140px,#af0 141px,#af0 142px,#3f0 143px,#0f0 144px,#0f1 145px,#0f0 146px,#1f0 147px,#0f0 148px,#0f2 149px,#0f2 150px,#1f0 151px,#1f0 152px,#0f1 153px,#0f2 154px,#0f1 155px,#0f1 156px,#0f4 157px,#0f5 158px,#0f5 159px,#0f3 160px,#0f0 161px,#2f0 162px,#0f0 163px,#0f1 164px,#0f4 165px,#0f4 166px,#0f2 167px,#0f0 168px,#0f1 170px,#0f1 171px,#0f1 172px,#0f4 175px,#0f5 176px,#0f7 177px,#0f7 178px,#0f5 179px,#0f5 180px,#0fb 183px,#0fb 184px,#0fa 185px,#0f9 186px,#0fa 188px,#0fa 191px,#0fa 193px,#0fa 194px,#0f9 195px,#0f8 196px,#0f8 197px,#0fa 200px,#0fb 201px,#0fd 203px,#0fc 204px,#0fa 205px,#0f9 206px,#0fc 211px,#0fa 212px,#0f6 213px,#0f6 214px,#0f9 215px,#0f9 216px,#0f4 219px,#0f3 220px,#0f4 223px,#0f3 224px,#0f1 225px,#2f0 226px,#3f0 227px,#2f0 228px,#0f1 229px,#0f2 230px,#0f2 232px,#0f3 235px,#0f3 236px,#0f2 238px,#0f1 241px,#0f1 242px,#0f3 243px,#0f3 244px,#0f1 245px,#0f1 246px,#0f2 249px,#0f2 252px,#0f2 254px,#0f1 255px,#0f1 258px,#0f1 260px,#0f2 263px,#0f2 264px,#0f1 265px,#0f1 266px,#0f2 267px,#0f2 268px,#0f1 269px,#1f0 270px,#2f0 273px,#0f0 275px,#0f1 277px,#0f1 279px,#0f1 280px,#0f2 281px,#0f3 282px,#0f2 285px,#0f2 286px,#0f4 287px,#0f4 288px,#0f3 289px,#0f2 290px,#0f3 291px,#0f3 292px,#0f2 293px,#0f1 294px,#0f1 299px,#0f3 303px,#0f3 304px,#0f1 305px,#0f1 306px,#0f1 307px,#0f3 310px,#0f3 311px,#0f1 315px,#0f1 319px,#0f1 321px,#0f1 323px,#0f0 326px,#0f1 328px,#0f2 329px,#0f2 330px,#0f1 331px,#0f0 332px,#0f2 337px,#0f1 338px,#0f0 339px,#0f0 340px,#0f1 341px,#0f2 342px,#0f2 343px,#0f2 344px,#0f3 345px,#0f3 346px,#0f2 348px,#0f1 350px,#0f1 353px,#0f2 356px,#0f2 359px,#0f1 361px,#0f1 364px,#0f0 366px,#1f0 367px,#2f0 368px,#0f0 370px,#0f2 372px,#0f3 373px,#0f4 374px,#0f2 377px,#0f3 380px,#0f2 384px,#0f2 387px,#0f4 389px,#0f3 390px,#0f2 391px,#0f1 392px,#0f2 393px,#0f2 394px,#0f1 395px,#0f1 396px,#0f2 397px,#0f3 398px,#0f3 402px,#0f2 405px,#0f4 409px,#0f4 410px,#0f2 412px,#0f1 413px,#0f3 417px,#0f2 421px,#0f1 422px,#1f0 423px,#0f0 424px,#0f3 426px,#0f4 427px,#0f1 430px,#6f0 431px,#7f0 432px,#8f0 433px,#9f0 434px,#9f0 435px,#8f0 436px)"></b>
<b style="left:708px;top:0px;width:156px;height:6px;background:linear-gradient(90deg,#fa0 0,#fb0 1px,#fc0 2px,#fb0 3px,#f90 5px,#f90 6px,#fc0 7px,#fc0 8px,#fb0 9px,#fc0 10px,#fe0 11px,#ef0 12px,#df0 13px,#af0 15px,#9f0 17px,#af0 18px,#ef0 19px,#ef0 20px,#cf0 21px,#af0 22px,#9f0 23px,#af0 24px,#df0 25px,#bf0 26px,#5f0 27px,#2f0 28px,#2f0 29px,#0f0 30px,#0f3 31px,#0f3 32px,#0f0 33px,#0f0 34px,#0f4 35px,#0f3 36px,#3f0 37px,#4f0 38px,#0f0 39px,#0f2 40px,#1f0 42px,#4f0 43px,#3f0 44px,#1f0 45px,#1f0 46px,#3f0 47px,#4f0 48px,#1f0 50px,#0f1 51px,#0f0 52px,#5f0 53px,#8f0 54px,#8f0 55px,#9f0 56px,#ef0 57px,#cf0 58px,#4f0 59px,#0f1 60px,#0f1 61px,#0f2 62px,#0f0 65px,#0f0 66px,#0f1 67px,#0f0 70px,#0f1 71px,#0f1 72px,#0f0 73px,#0f0 74px,#1f0 75px,#3f0 76px,#6f0 77px,#6f0 78px,#1f0 80px,#0f1 81px,#0f0 82px,#5f0 83px,#6f0 84px,#1f0 85px,#0f0 86px,#1f0 87px,#2f0 88px,#1f0 89px,#2f0 90px,#4f0 91px,#5f0 92px,#6f0 95px,#4f0 96px,#0f0 97px,#0f0 98px,#6f0 100px,#7f0 101px,#9f0 102px,#df0 103px,#cf0 104px,#7f0 105px,#4f0 106px,#3f0 107px,#4f0 108px,#6f0 109px,#5f0 110px,#2f0 111px,#0f1 112px,#0f2 113px,#0f3 115px,#0f4 116px,#0f6 117px,#0f7 118px,#0f7 119px,#0f9 120px,#0fd 121px,#0ff 122px,#0ef 123px,#0bf 124px,#07f 125px,#08f 126px,#0df 127px,#0fe 128px,#0fe 129px,#0ff 130px,#0bf 131px,#0af 132px,#0bf 133px,#0ef 134px,#0fd 135px,#0f7 137px,#0f7 138px,#0fb 139px,#0fc 140px,#0fa 141px,#0f9 142px,#0fb 145px,#0fe 147px,#0fd 148px,#0f9 149px,#0f8 150px,#0fb 152px,#0fb 153px,#0fa 154px,#0f7 155px)"></b>
<b style="left:0px;top:6px;width:437px;height:11px;background:linear-gradient(90deg,#0fe 0,#0ff 2px,#0ef 4px,#0ef 5px,#0fe 6px,#0fd 7px,#0fc 8px,#0fc 11px,#0fd 14px,#0fb 17px,#0f9 18px,#0f5 19px,#0f3 20px,#0f2 23px,#0f3 25px,#0f1 26px,#4f0 27px,#6f0 28px,#3f0 31px,#5f0 32px,#9f0 33px,#df0 34px,#f70 35px,#f70 40px,#df0 41px,#9f0 42px,#3f0 43px,#3f0 44px,#bf0 45px,#bf0 46px,#5f0 47px,#5f0 48px,#cf0 49px,#df0 50px,#9f0 51px,#7f0 52px,#5f0 53px,#5f0 55px,#5f0 56px,#7f0 57px,#7f0 58px,#4f0 59px,#2f0 60px,#0f0 61px,#0f1 62px,#0f2 63px,#0f1 64px,#3f0 65px,#6f0 66px,#5f0 67px,#5f0 68px,#6f0 69px,#6f0 70px,#1f0 73px,#2f0 74px,#cf0 77px,#bf0 78px,#8f0 79px,#9f0 80px,#df0 81px,#ef0 82px,#6f0 84px,#4f0 85px,#7f0 86px,#df0 87px,#fe0 88px,#fc0 89px,#fb0 90px,#fc0 91px,#fb0 92px,#f30 93px,#f30 97px,#f20 98px,#f10 105px,#f10 106px,#f20 107px,#f20 109px,#f40 110px,#fa0 113px,#fb0 114px,#fa0 115px,#fa0 116px,#fe0 119px,#ff0 120px,#fe0 122px,#ff0 126px,#ef0 127px,#fe0 129px,#fe0 130px,#ef0 131px,#f40 132px,#f40 135px,#fe0 136px,#df0 137px,#cf0 138px,#ef0 139px,#ef0 140px,#cf0 141px,#bf0 142px,#8f0 145px,#6f0 146px,#2f0 147px,#2f0 148px,#6f0 149px,#6f0 150px,#3f0 151px,#0f0 152px,#0f2 154px,#0f1 155px,#0f0 156px,#2f0 157px,#3f0 158px,#2f0 159px,#2f0 160px,#3f0 162px,#3f0 163px,#7f0 165px,#9f0 167px,#7f0 168px,#3f0 169px,#0f0 170px,#0f0 171px,#0f1 172px,#0f3 173px,#0f3 174px,#0f1 175px,#1f0 176px,#2f0 177px,#0f0 178px,#0f4 180px,#0f5 181px,#0f6 182px,#0f4 185px,#0f6 188px,#0f6 190px,#0f7 193px,#0fb 197px,#0fb 198px,#0fa 199px,#0fa 200px,#0fa 201px,#0f9 202px,#0f6 203px,#0f6 204px,#0f8 205px,#0fb 207px,#0fb 208px,#0fb 209px,#0fb 210px,#0fd 211px,#0fc 212px,#0fa 213px,#0f9 214px,#0f9 215px,#0f8 216px,#0f5 217px,#0f6 218px,#0f8 219px,#0f9 220px,#0f6 223px,#0f6 224px,#0f7 225px,#0f7 226px,#0f6 227px,#0f6 228px,#0f7 229px,#0f6 230px,#0f4 231px,#0f4 232px,#0f5 233px,#0f4 234px,#0f1 235px,#0f1 236px,#0f4 237px,#0f6 238px,#0f6 239px,#0f6 240px,#0f5 241px,#0f5 242px,#0f6 246px,#0f8 249px,#0f8 250px,#0f6 253px,#0f6 254px,#0f6 255px,#0f6 256px,#0f4 257px,#0f4 258px,#0f4 259px,#0f6 262px,#0f6 267px,#0f7 269px,#0f6 270px,#0f5 271px,#0f4 273px,#0f5 276px,#0f4 279px,#0f5 281px,#0f5 282px,#0f3 283px,#0f2 284px,#0f1 285px,#0f2 289px,#0f3 291px,#0f3 292px,#0f2 293px,#0f2 294px,#0f2 295px,#0f1 297px,#0f2 299px,#0f2 300px,#0f1 301px,#0f1 302px,#0f3 305px,#0f3 307px,#0f3 308px,#0f1 309px,#0f1 310px,#0f2 311px,#0f3 312px,#0f3 315px,#0f3 317px,#0f1 319px,#0f1 320px,#0f2 321px,#0f2 322px,#0f2 324px,#0f3 327px,#0f2 331px,#0f3 333px,#0f2 334px,#0f1 335px,#0f2 336px,#0f3 337px,#0f3 338px,#0f2 339px,#0f1 340px,#0f3 341px,#0f2 342px,#0f1 343px,#0f0 344px,#0f1 346px,#0f5 349px,#0f5 350px,#0f2 351px,#0f1 352px,#0f2 353px,#0f2 354px,#0f2 355px,#0f2 356px,#0f3 357px,#0f3 358px,#0f2 359px,#0f3 360px,#0f5 361px,#0f5 362px,#0f3 363px,#0f2 365px,#0f3 369px,#0f2 372px,#0f2 375px,#0f3 379px,#0f4 383px,#0f3 384px,#0f2 385px,#0f2 386px,#0f3 388px,#0f1 395px,#0f1 397px,#0f0 399px,#0f1 400px,#0f3 401px,#0f3 402px,#0f2 403px,#0f2 404px,#0f4 405px,#0f4 406px,#0f2 407px,#0f1 408px,#0f2 410px,#0f3 411px,#0f1 413px,#0f1 414px,#0f3 415px,#0f3 416px,#0f2 417px,#0f2 418px,#0f3 419px,#0f4 420px,#0f3 421px,#0f1 423px,#0f1 424px,#0f3 427px,#0f3 428px,#0f2 430px,#af0 431px,#bf0 432px,#9f0 434px,#7f0 435px,#7f0 436px)"></b>
<b style="left:708px;top:6px;width:156px;height:11px;background:linear-gradient(90deg,#fb0 0,#fb0 1px,#f90 2px,#f60 3px,#f70 4px,#fc0 5px,#fd0 6px,#fc0 7px,#fd0 8px,#fe0 9px,#fe0 10px,#fd0 11px,#fd0 12px,#ff0 14px,#bf0 17px,#cf0 18px,#ef0 19px,#df0 20px,#8f0 21px,#7f0 22px,#af0 23px,#bf0 24px,#af0 25px,#7f0 26px,#2f0 27px,#0f1 28px,#0f3 29px,#0f2 30px,#0f0 31px,#4f0 33px,#5f0 35px,#3f0 36px,#0f1 37px,#0f2 38px,#0f1 41px,#0f2 42px,#0f4 43px,#0f4 44px,#0f1 45px,#0f0 46px,#1f0 48px,#2f0 49px,#1f0 50px,#0f0 51px,#0f0 52px,#4f0 53px,#5f0 54px,#4f0 55px,#4f0 56px,#6f0 57px,#7f0 58px,#6f0 59px,#4f0 60px,#0f0 61px,#0f0 62px,#2f0 65px,#3f0 66px,#2f0 67px,#3f0 68px,#5f0 69px,#6f0 70px,#5f0 71px,#2f0 72px,#0f1 73px,#0f0 74px,#7f0 75px,#8f0 76px,#2f0 77px,#1f0 78px,#4f0 79px,#5f0 80px,#2f0 81px,#2f0 82px,#4f0 83px,#5f0 84px,#4f0 85px,#2f0 86px,#0f1 87px,#0f1 88px,#0f1 89px,#0f1 90px,#0f2 91px,#0f1 92px,#1f0 93px,#1f0 94px,#0f1 95px,#0f1 96px,#2f0 97px,#4f0 98px,#8f0 101px,#ff0 103px,#fe0 104px,#cf0 105px,#8f0 106px,#7f0 107px,#6f0 108px,#1f0 110px,#0f1 111px,#0f4 113px,#0f4 114px,#0f4 115px,#0f5 116px,#0f9 117px,#0fa 118px,#0f9 119px,#0f9 120px,#0fa 121px,#0fb 123px,#0fd 125px,#0ff 126px,#0af 127px,#0af 128px,#0ef 129px,#0fe 130px,#0fd 131px,#0fe 132px,#0ef 133px,#0ef 134px,#0fe 135px,#0fd 136px,#0fd 137px,#0fd 138px,#0f9 141px,#0f9 142px,#0fb 143px,#0fb 144px,#0f9 147px,#0f9 148px,#0fc 150px,#0ff 154px,#0ef 155px)"></b>
<b style="left:0px;top:17px;width:437px;height:10px;background:linear-gradient(90deg,#0f8 0,#0fa 1px,#0fb 2px,#0fb 3px,#0fb 4px,#0fa 5px,#0f9 6px,#0fa 7px,#0fa 8px,#0f8 11px,#0f6 12px,#0f4 13px,#0f5 14px,#0fa 15px,#0fa 16px,#0f8 17px,#0f7 18px,#0f7 19px,#0f6 20px,#0f4 21px,#0f3 22px,#0f3 23px,#0f1 24px,#7f0 25px,#af0 26px,#7f0 27px,#7f0 28px,#df0 30px,#ff0 31px,#fe0 33px,#f50 34px,#f40 35px,#f50 38px,#f50 41px,#fe0 42px,#fe0 43px,#cf0 44px,#5f0 45px,#6f0 46px,#ef0 47px,#fe0 48px,#fe0 49px,#fe0 50px,#cf0 51px,#af0 52px,#cf0 54px,#df0 56px,#ff0 57px,#ef0 58px,#af0 59px,#9f0 60px,#af0 61px,#af0 62px,#8f0 63px,#5f0 64px,#0f0 65px,#1f0 66px,#8f0 67px,#cf0 68px,#df0 70px,#cf0 73px,#ff0 75px,#fd0 77px,#fd0 78px,#ff0 80px,#fe0 85px,#fc0 87px,#fb0 88px,#fb0 91px,#fa0 92px,#f30 93px,#f30 95px,#f30 97px,#f20 98px,#f10 105px,#f20 106px,#f30 107px,#f30 109px,#f60 111px,#fc0 113px,#fc0 114px,#fa0 117px,#fb0 118px,#fd0 119px,#fd0 120px,#fc0 121px,#fc0 122px,#ff0 123px,#cf0 124px,#ef0 125px,#fe0 126px,#fd0 127px,#fc0 128px,#fd0 129px,#fd0 130px,#fb0 131px,#f40 132px,#f40 135px,#fb0 136px,#fc0 138px,#fe0 140px,#ef0 141px,#cf0 142px,#df0 143px,#af0 144px,#5f0 145px,#7f0 146px,#ff0 147px,#fe0 148px,#ff0 149px,#7f0 153px,#6f0 154px,#9f0 156px,#9f0 157px,#af0 159px,#ff0 161px,#fe0 162px,#ff0 165px,#ef0 166px,#af0 167px,#7f0 168px,#6f0 169px,#6f0 170px,#8f0 172px,#9f0 173px,#7f0 174px,#4f0 175px,#2f0 176px,#0f0 178px,#0f0 179px,#0f2 180px,#0f5 181px,#0f5 182px,#0f2 183px,#0f1 184px,#0f1 185px,#0f1 186px,#0f2 187px,#0f2 188px,#0f0 190px,#5f0 193px,#4f0 194px,#1f0 195px,#1f0 196px,#3f0 197px,#4f0 198px,#4f0 199px,#3f0 200px,#0f0 204px,#0f0 206px,#2f0 209px,#0f0 210px,#0f3 211px,#0f2 212px,#4f0 213px,#5f0 214px,#0f0 215px,#0f2 216px,#0f1 217px,#0f2 218px,#0f4 219px,#0f5 220px,#0f4 223px,#0f4 225px,#0f4 226px,#0f1 227px,#0f1 228px,#0f2 229px,#0f3 230px,#0f2 231px,#0f3 232px,#0f5 233px,#0f6 234px,#0f7 235px,#0f6 236px,#0f4 237px,#0f3 238px,#0f5 241px,#0f6 243px,#0f8 245px,#0f8 246px,#0f7 247px,#0f6 249px,#0f7 253px,#0f7 256px,#0f8 260px,#0f6 262px,#0f5 263px,#0f5 264px,#0f6 265px,#0f9 267px,#0f9 268px,#0f9 269px,#0f7 271px,#0f6 272px,#0f6 274px,#0f5 276px,#0f6 278px,#0f5 280px,#0f5 281px,#0f3 283px,#0f3 284px,#0f4 285px,#0f5 286px,#0f3 288px,#0f2 292px,#0f2 295px,#0f2 298px,#0f1 301px,#0f3 304px,#0f4 307px,#0f3 309px,#0f3 310px,#0f4 311px,#0f4 313px,#0f3 314px,#0f2 315px,#0f2 316px,#0f3 317px,#0f4 318px,#0f4 319px,#0f2 322px,#0f2 326px,#0f4 329px,#0f3 332px,#0f4 333px,#0f3 336px,#0f4 337px,#0f4 338px,#0f2 339px,#0f2 340px,#0f3 341px,#0f3 342px,#0f2 343px,#0f1 344px,#0f3 346px,#0f3 347px,#0f2 349px,#0f0 351px,#0f0 352px,#0f2 355px,#0f2 358px,#0f3 359px,#0f2 362px,#0f3 363px,#0f3 365px,#0f2 367px,#0f3 368px,#0f4 369px,#0f4 370px,#0f2 371px,#0f2 372px,#0f4 373px,#0f4 374px,#0f3 375px,#0f2 376px,#0f2 378px,#0f2 379px,#0f2 380px,#0f3 381px,#0f3 382px,#0f2 383px,#0f3 384px,#0f5 385px,#0f5 386px,#0f3 387px,#0f3 388px,#0f4 389px,#0f4 390px,#0f3 391px,#0f2 392px,#0f3 395px,#0f4 396px,#0f6 397px,#0f5 398px,#0f2 399px,#0f1 400px,#0f2 402px,#0f2 406px,#0f3 408px,#0f3 410px,#0f4 413px,#0f3 414px,#0f2 415px,#0f1 416px,#0f2 419px,#0f3 420px,#0f1 422px,#0f0 423px,#0f0 424px,#0f2 426px,#0f3 430px,#6f0 431px,#7f0 433px,#7f0 436px)"></b>
<b style="left:708px;top:17px;width:156px;height:10px;background:linear-gradient(90deg,#fc0 0,#fc0 2px,#fb0 4px,#fd0 7px,#fc0 9px,#fc0 10px,#fe0 12px,#ef0 14px,#ff0 15px,#ff0 16px,#bf0 17px,#bf0 18px,#ef0 19px,#fe0 20px,#fe0 21px,#fe0 22px,#fe0 23px,#ef0 24px,#9f0 25px,#af0 26px,#fe0 27px,#fe0 28px,#ff0 29px,#ff0 32px,#df0 34px,#df0 35px,#df0 37px,#ff0 38px,#fe0 39px,#fd0 40px,#fe0 43px,#ff0 44px,#af0 45px,#cf0 46px,#fe0 47px,#fd0 48px,#ef0 49px,#cf0 50px,#ff0 52px,#ff0 53px,#fe0 55px,#fe0 56px,#af0 57px,#9f0 58px,#cf0 59px,#ff0 60px,#ff0 62px,#df0 63px,#cf0 64px,#cf0 65px,#cf0 66px,#ef0 67px,#ef0 68px,#9f0 70px,#7f0 71px,#8f0 72px,#df0 73px,#ef0 74px,#bf0 75px,#bf0 76px,#ef0 77px,#ff0 78px,#ff0 80px,#df0 81px,#bf0 82px,#8f0 83px,#6f0 84px,#4f0 85px,#4f0 86px,#4f0 87px,#2f0 88px,#0f1 89px,#0f1 90px,#0f0 91px,#2f0 92px,#2f0 93px,#0f0 95px,#3f0 96px,#7f0 97px,#9f0 98px,#8f0 100px,#9f0 101px,#bf0 102px,#ff0 103px,#fd0 104px,#fd0 105px,#fe0 106px,#cf0 107px,#9f0 108px,#7f0 109px,#5f0 110px,#2f0 111px,#0f1 112px,#0f2 113px,#0f2 114px,#0f1 115px,#0f1 116px,#0f2 117px,#0f2 118px,#0f2 119px,#0f2 120px,#0f2 121px,#0f5 123px,#0f9 125px,#0fa 126px,#0f8 129px,#0f9 131px,#0f9 132px,#0f8 133px,#0f9 135px,#0f8 136px,#0f5 137px,#0f4 138px,#0f4 139px,#0f4 141px,#0f7 143px,#0f5 144px,#0f0 145px,#2f0 146px,#0f2 147px,#0f3 148px,#0f3 149px,#0f3 150px,#0f0 152px,#2f0 153px,#2f0 154px,#1f0 155px)"></b>
<b style="left:0px;top:27px;width:437px;height:10px;background:linear-gradient(90deg,#0fe 0,#0fa 1px,#0f8 2px,#0f9 3px,#0f9 4px,#0f8 5px,#0f8 6px,#0fa 7px,#0fa 8px,#0f8 9px,#0f8 10px,#0fa 11px,#0fa 12px,#0f9 13px,#0f6 14px,#0f2 15px,#0f2 16px,#0f4 17px,#0f5 18px,#0f4 20px,#0f2 22px,#0f1 23px,#0f0 25px,#5f0 27px,#9f0 28px,#ff0 29px,#fe0 30px,#fa0 33px,#f40 34px,#f50 41px,#fd0 42px,#fe0 43px,#ff0 44px,#fe0 45px,#fe0 46px,#bf0 47px,#9f0 48px,#cf0 50px,#df0 51px,#df0 52px,#cf0 53px,#df0 54px,#fe0 55px,#fe0 56px,#fd0 57px,#fe0 63px,#fd0 65px,#fd0 66px,#fe0 67px,#ff0 68px,#fe0 69px,#ff0 70px,#bf0 71px,#9f0 72px,#ef0 75px,#ff0 76px,#fd0 79px,#fd0 80px,#fd0 81px,#fd0 82px,#fa0 85px,#f90 86px,#f90 87px,#f80 88px,#f60 89px,#f60 90px,#f60 91px,#f50 92px,#f20 93px,#f10 95px,#f20 97px,#f20 98px,#f20 106px,#f40 107px,#f40 109px,#fb0 110px,#fc0 111px,#fb0 112px,#fb0 113px,#fb0 114px,#fc0 115px,#fb0 116px,#f90 117px,#f90 118px,#fb0 119px,#fb0 120px,#fa0 125px,#fc0 127px,#fc0 128px,#f80 129px,#f60 130px,#f80 131px,#f40 132px,#f40 135px,#fd0 136px,#fc0 137px,#fc0 138px,#fd0 139px,#fd0 140px,#fc0 141px,#fc0 142px,#ff0 144px,#9f0 145px,#6f0 146px,#af0 149px,#9f0 150px,#6f0 151px,#4f0 152px,#2f0 153px,#3f0 154px,#6f0 155px,#8f0 156px,#6f0 159px,#7f0 160px,#cf0 161px,#ff0 162px,#ff0 163px,#ff0 166px,#fe0 167px,#fe0 168px,#cf0 169px,#9f0 170px,#6f0 171px,#5f0 172px,#6f0 173px,#9f0 174px,#bf0 175px,#cf0 176px,#af0 177px,#6f0 178px,#1f0 179px,#0f1 180px,#0f1 183px,#0f0 184px,#6f0 185px,#8f0 186px,#5f0 187px,#4f0 188px,#5f0 189px,#2f0 190px,#0f3 191px,#0f4 192px,#0f1 194px,#2f0 195px,#7f0 197px,#8f0 198px,#8f0 199px,#5f0 200px,#1f0 201px,#0f2 202px,#0f4 203px,#0f4 204px,#0f3 205px,#0f2 206px,#0f4 207px,#0f4 208px,#0f3 209px,#0f3 211px,#0f2 212px,#0f0 213px,#2f0 214px,#2f0 215px,#4f0 216px,#7f0 217px,#7f0 218px,#5f0 219px,#3f0 220px,#3f0 221px,#4f0 222px,#6f0 223px,#8f0 224px,#8f0 225px,#5f0 226px,#0f0 227px,#0f0 228px,#6f0 229px,#5f0 230px,#0f1 231px,#0f2 232px,#0f0 233px,#2f0 234px,#2f0 235px,#4f0 237px,#4f0 238px,#0f0 240px,#0f1 241px,#0f0 242px,#2f0 243px,#3f0 244px,#2f0 246px,#2f0 247px,#2f0 248px,#0f0 249px,#0f0 250px,#2f0 251px,#3f0 252px,#1f0 254px,#0f1 255px,#0f1 256px,#1f0 258px,#0f0 259px,#1f0 260px,#4f0 261px,#4f0 262px,#1f0 263px,#0f0 264px,#0f1 265px,#0f0 266px,#2f0 267px,#3f0 268px,#1f0 270px,#1f0 271px,#0f0 272px,#0f1 273px,#1f0 274px,#6f0 275px,#7f0 276px,#4f0 277px,#3f0 278px,#3f0 281px,#3f0 282px,#0f0 284px,#0f0 285px,#0f0 286px,#3f0 287px,#3f0 288px,#0f0 290px,#0f1 293px,#0f0 294px,#2f0 296px,#3f0 301px,#2f0 303px,#0f0 305px,#0f0 307px,#0f0 308px,#1f0 309px,#0f1 312px,#0f0 317px,#1f0 318px,#3f0 319px,#4f0 320px,#4f0 321px,#2f0 322px,#0f1 323px,#0f1 324px,#0f0 325px,#1f0 326px,#0f0 327px,#1f0 328px,#2f0 329px,#2f0 330px,#1f0 333px,#0f0 335px,#1f0 336px,#5f0 337px,#5f0 338px,#1f0 339px,#0f0 340px,#1f0 341px,#0f0 342px,#0f2 343px,#0f2 344px,#0f0 347px,#3f0 349px,#3f0 350px,#1f0 352px,#0f0 353px,#1f0 354px,#3f0 355px,#4f0 356px,#3f0 357px,#2f0 359px,#2f0 360px,#2f0 361px,#1f0 362px,#0f1 363px,#0f1 364px,#2f0 365px,#4f0 366px,#4f0 367px,#3f0 368px,#1f0 370px,#0f0 371px,#0f0 373px,#2f0 378px,#1f0 379px,#0f0 380px,#0f1 381px,#0f1 382px,#2f0 383px,#3f0 384px,#2f0 385px,#2f0 386px,#2f0 389px,#0f0 391px,#0f0 392px,#2f0 394px,#2f0 395px,#3f0 396px,#5f0 397px,#5f0 398px,#2f0 399px,#1f0 400px,#2f0 404px,#0f0 411px,#1f0 413px,#5f0 415px,#4f0 416px,#1f0 417px,#0f0 418px,#1f0 419px,#4f0 421px,#3f0 422px,#0f0 423px,#0f1 424px,#0f0 426px,#1f0 428px,#1f0 430px,#8f0 431px,#8f0 433px,#bf0 435px,#af0 436px)"></b>
<b style="left:708px;top:27px;width:156px;height:10px;background:linear-gradient(90deg,#f50 0,#f60 1px,#f60 2px,#f40 3px,#f40 4px,#f50 5px,#f80 7px,#f90 8px,#f70 11px,#f80 12px,#fb0 13px,#fa0 14px,#f70 15px,#f70 16px,#f90 17px,#fa0 18px,#f90 19px,#fa0 20px,#fc0 21px,#fd0 22px,#fc0 23px,#fc0 24px,#fd0 25px,#fd0 26px,#fc0 27px,#fc0 28px,#fe0 29px,#fe0 30px,#fd0 31px,#fd0 32px,#ef0 33px,#df0 34px,#fe0 35px,#fd0 36px,#fd0 38px,#fb0 40px,#fb0 43px,#f90 45px,#f90 46px,#fb0 47px,#fc0 49px,#fb0 50px,#f80 51px,#f80 52px,#fa0 53px,#fb0 54px,#fa0 55px,#fa0 56px,#fd0 59px,#fd0 60px,#ff0 66px,#df0 67px,#cf0 68px,#cf0 69px,#bf0 70px,#9f0 71px,#bf0 72px,#ff0 73px,#fc0 75px,#fd0 76px,#df0 77px,#8f0 78px,#6f0 79px,#6f0 80px,#6f0 81px,#8f0 82px,#af0 83px,#bf0 84px,#af0 85px,#af0 86px,#bf0 87px,#9f0 88px,#6f0 89px,#6f0 90px,#af0 91px,#af0 92px,#7f0 93px,#7f0 94px,#bf0 95px,#ef0 96px,#ff0 97px,#fe0 98px,#fc0 99px,#fb0 100px,#fc0 103px,#fb0 104px,#fa0 105px,#fb0 106px,#fd0 108px,#ff0 109px,#df0 110px,#ef0 111px,#cf0 112px,#8f0 113px,#6f0 114px,#7f0 115px,#7f0 116px,#1f0 119px,#0f2 120px,#0f4 121px,#0f4 122px,#0f3 123px,#0f3 124px,#0f7 127px,#0f7 128px,#0f5 129px,#0f5 130px,#0f7 131px,#0fa 133px,#0fa 134px,#0f6 136px,#0f6 137px,#0f7 138px,#0fa 139px,#0fa 140px,#0f7 141px,#0f5 142px,#0f5 143px,#0f3 145px,#0f2 146px,#2f0 147px,#3f0 148px,#0f0 149px,#0f2 152px,#0f2 155px)"></b>
<b style="left:0px;top:37px;width:437px;height:11px;background:linear-gradient(90deg,#0fc 0,#0fb 1px,#0fa 2px,#0fa 4px,#0fa 6px,#0fa 7px,#0fa 8px,#0f8 9px,#0f7 10px,#0f6 12px,#0f5 13px,#0f1 15px,#0f1 16px,#0f1 17px,#0f1 18px,#0f0 19px,#3f0 20px,#8f0 21px,#7f0 22px,#1f0 23px,#0f0 24px,#4f0 25px,#8f0 26px,#bf0 27px,#cf0 28px,#cf0 29px,#cf0 30px,#ef0 31px,#fe0 32px,#fd0 33px,#f50 34px,#f50 38px,#f50 41px,#fe0 42px,#fd0 45px,#ff0 48px,#fe0 51px,#ff0 52px,#bf0 53px,#bf0 54px,#df0 55px,#ef0 56px,#df0 57px,#ef0 58px,#fe0 59px,#fe0 60px,#ff0 61px,#df0 62px,#df0 63px,#ef0 64px,#fe0 65px,#fe0 66px,#fe0 69px,#fd0 70px,#fb0 71px,#fb0 72px,#fc0 75px,#fd0 77px,#fd0 78px,#fb0 79px,#fa0 80px,#fb0 81px,#fb0 82px,#f60 85px,#f50 86px,#f60 89px,#f20 93px,#f20 95px,#f20 97px,#f20 98px,#f20 99px,#f20 106px,#f30 107px,#f40 109px,#fa0 110px,#fc0 111px,#fc0 112px,#fc0 113px,#fa0 114px,#f80 115px,#f90 116px,#fc0 117px,#fc0 118px,#fc0 120px,#fe0 123px,#ff0 124px,#cf0 125px,#cf0 126px,#ef0 127px,#fe0 128px,#fd0 129px,#fc0 130px,#fb0 131px,#f40 132px,#f40 135px,#fb0 136px,#fb0 139px,#fd0 141px,#fd0 142px,#fc0 143px,#fc0 144px,#fe0 146px,#df0 147px,#df0 148px,#ff0 149px,#ff0 150px,#cf0 151px,#5f0 153px,#4f0 154px,#6f0 155px,#6f0 156px,#5f0 157px,#4f0 158px,#6f0 160px,#7f0 161px,#9f0 162px,#bf0 163px,#af0 164px,#4f0 165px,#5f0 166px,#df0 167px,#ff0 168px,#af0 169px,#af0 170px,#ef0 171px,#ef0 172px,#af0 173px,#8f0 174px,#6f0 175px,#6f0 176px,#7f0 177px,#6f0 178px,#4f0 179px,#3f0 180px,#3f0 181px,#3f0 182px,#5f0 183px,#4f0 184px,#1f0 185px,#0f1 186px,#0f2 187px,#0f3 189px,#0f3 190px,#0f0 193px,#0f1 194px,#0f3 195px,#0f3 196px,#0f2 197px,#0f0 199px,#0f0 200px,#0f2 201px,#0f2 202px,#0f0 203px,#2f0 204px,#4f0 205px,#2f0 206px,#0f2 207px,#0f3 208px,#0f0 210px,#2f0 211px,#3f0 212px,#0f0 213px,#0f1 214px,#0f0 215px,#2f0 216px,#5f0 217px,#7f0 218px,#8f0 221px,#af0 222px,#fb0 223px,#fa0 224px,#fe0 225px,#ff0 226px,#bf0 227px,#9f0 228px,#cf0 229px,#cf0 230px,#bf0 233px,#9f0 234px,#6f0 235px,#1f0 236px,#0f3 237px,#0f4 238px,#0f2 239px,#0f2 240px,#0f5 241px,#0f6 242px,#0f7 244px,#0f6 245px,#0f6 246px,#0f8 247px,#0f9 248px,#0f9 250px,#0f7 254px,#0f7 257px,#0f8 259px,#0f7 262px,#0f9 265px,#0f9 267px,#0f8 269px,#0f8 270px,#0f9 271px,#0f9 272px,#0f8 273px,#0f7 274px,#0f9 278px,#0f8 282px,#0f6 285px,#0f6 286px,#0f7 287px,#0f8 288px,#0f7 289px,#0f8 290px,#0f9 291px,#0fa 292px,#0f8 293px,#0f8 294px,#0f9 295px,#0fa 296px,#0f7 299px,#0f7 300px,#0f9 303px,#0f7 307px,#0f7 308px,#0f8 309px,#0f8 310px,#0f6 311px,#0f6 312px,#0f8 313px,#0f9 314px,#0f7 318px,#0f9 324px,#0f8 327px,#0f6 329px,#0f5 330px,#0f5 331px,#0f6 332px,#0f8 333px,#0f8 334px,#0f6 335px,#0f5 336px,#0f7 337px,#0f8 338px,#0f8 339px,#0f8 340px,#0f9 341px,#0f9 342px,#0f7 344px,#0f7 346px,#0f8 347px,#0f8 348px,#0f7 349px,#0f7 350px,#0f8 352px,#0f8 353px,#0f7 357px,#0f8 358px,#0fa 359px,#0fa 360px,#0f8 361px,#0f7 362px,#0fa 364px,#0fa 365px,#0fa 366px,#0f8 367px,#0f8 368px,#0f8 373px,#0f7 376px,#0f7 377px,#0fa 380px,#0fa 381px,#0f9 384px,#0f9 389px,#0f8 390px,#0f7 391px,#0f7 392px,#0f9 393px,#0f9 394px,#0f8 398px,#0f9 399px,#0f8 401px,#0f8 402px,#0fa 404px,#0fa 407px,#0fa 408px,#0f7 412px,#0f6 415px,#0f7 420px,#0f9 423px,#0fa 424px,#0f7 427px,#0f6 430px,#6f0 431px,#4f0 432px,#1f0 433px,#0f0 434px,#0f0 435px,#0f0 436px)"></b>
<b style="left:708px;top:37px;width:156px;height:11px;background:linear-gradient(90deg,#f60 0,#f40 3px,#f50 4px,#f70 5px,#f70 6px,#f70 7px,#f30 9px,#f30 10px,#f40 11px,#f50 12px,#f80 13px,#f80 14px,#f60 15px,#f50 16px,#f80 17px,#f90 18px,#f80 21px,#f90 22px,#fb0 23px,#fc0 24px,#fc0 25px,#fb0 26px,#f80 27px,#f70 28px,#f70 29px,#f70 30px,#f60 31px,#f50 32px,#f60 33px,#f50 36px,#f50 41px,#f50 43px,#f40 45px,#f50 46px,#f80 47px,#f90 48px,#f70 51px,#f80 52px,#fb0 53px,#fc0 54px,#fc0 55px,#fc0 57px,#ff0 62px,#fe0 66px,#ff0 69px,#fd0 72px,#fd0 73px,#fe0 74px,#ef0 75px,#df0 76px,#ff0 77px,#ff0 78px,#cf0 79px,#cf0 80px,#ef0 82px,#ef0 83px,#cf0 86px,#df0 88px,#ff0 90px,#ff0 91px,#ef0 92px,#cf0 93px,#bf0 94px,#ef0 95px,#fe0 96px,#fd0 98px,#fc0 106px,#fb0 107px,#fd0 108px,#df0 109px,#8f0 110px,#8f0 111px,#7f0 113px,#8f0 114px,#9f0 115px,#6f0 116px,#0f0 117px,#0f2 118px,#0f3 119px,#0f2 120px,#0f0 121px,#0f1 122px,#0f9 125px,#0f9 126px,#0f6 127px,#0f6 128px,#0f7 129px,#0f8 130px,#0f7 131px,#0f7 132px,#0fa 134px,#0fa 135px,#0f7 138px,#0f2 141px,#2f0 142px,#8f0 143px,#cf0 144px,#df0 145px,#bf0 146px,#7f0 147px,#4f0 148px,#1f0 149px,#1f0 150px,#6f0 153px,#8f0 155px)"></b>
<b style="left:0px;top:48px;width:437px;height:10px;background:linear-gradient(90deg,#0fe 0,#0fd 4px,#0fa 6px,#0f9 7px,#0f9 9px,#0f8 10px,#0f5 11px,#0f3 12px,#0f3 13px,#0f1 15px,#1f0 16px,#3f0 17px,#2f0 18px,#0f1 19px,#0f1 20px,#1f0 21px,#7f0 23px,#8f0 24px,#7f0 25px,#8f0 26px,#af0 27px,#ef0 28px,#fd0 29px,#fc0 30px,#fc0 31px,#fb0 32px,#f90 33px,#f40 34px,#f40 41px,#fa0 42px,#fc0 43px,#fc0 44px,#fb0 45px,#fb0 46px,#fd0 47px,#fe0 48px,#ff0 49px,#fe0 50px,#fd0 51px,#fd0 52px,#fe0 54px,#ff0 57px,#fe0 58px,#fd0 59px,#fe0 60px,#ff0 61px,#fe0 62px,#fc0 63px,#fb0 64px,#f90 67px,#f80 68px,#f60 69px,#f50 70px,#f50 74px,#f70 76px,#f70 77px,#f50 80px,#f40 84px,#f30 86px,#f30 87px,#f40 89px,#f30 90px,#f10 92px,#f20 93px,#f20 97px,#f10 99px,#f20 106px,#f30 107px,#f30 109px,#f40 110px,#f40 111px,#f50 112px,#f70 113px,#f70 114px,#f50 115px,#f50 116px,#f60 117px,#f50 118px,#f50 119px,#f50 120px,#f70 121px,#fc0 123px,#fd0 124px,#fd0 125px,#fc0 126px,#f90 127px,#f90 128px,#f90 130px,#f90 131px,#f30 132px,#f30 135px,#f70 136px,#f90 137px,#fa0 138px,#fc0 141px,#ff0 143px,#ef0 144px,#ff0 145px,#ff0 146px,#ef0 147px,#ef0 148px,#fe0 149px,#fe0 150px,#ef0 151px,#cf0 152px,#ff0 158px,#df0 161px,#8f0 165px,#8f0 166px,#cf0 169px,#df0 170px,#df0 171px,#cf0 172px,#af0 173px,#9f0 174px,#bf0 175px,#cf0 176px,#8f0 178px,#5f0 179px,#5f0 180px,#8f0 181px,#bf0 182px,#cf0 183px,#cf0 184px,#8f0 186px,#7f0 187px,#1f0 190px,#0f0 191px,#0f0 193px,#0f1 194px,#0f3 195px,#0f2 196px,#3f0 197px,#4f0 198px,#2f0 199px,#0f0 200px,#0f1 201px,#0f1 202px,#1f0 203px,#0f0 204px,#0f2 205px,#0f3 206px,#0f2 208px,#0f0 209px,#0f0 212px,#1f0 213px,#3f0 215px,#5f0 216px,#9f0 217px,#8f0 218px,#3f0 219px,#3f0 220px,#7f0 221px,#ff0 223px,#fe0 224px,#ff0 225px,#df0 226px,#9f0 229px,#bf0 230px,#ff0 231px,#ff0 232px,#bf0 233px,#5f0 235px,#3f0 236px,#0f0 239px,#0f0 240px,#1f0 241px,#0f1 242px,#0f3 243px,#0f5 244px,#0f5 246px,#0f6 248px,#0f6 251px,#0f4 253px,#0f5 254px,#0f6 255px,#0f6 256px,#0f5 261px,#0f6 262px,#0f8 263px,#0f8 264px,#0f6 265px,#0f5 266px,#0f6 271px,#0f5 274px,#0f5 276px,#0f8 279px,#0f7 280px,#0f4 281px,#0f3 282px,#0f5 284px,#0f7 285px,#0f7 286px,#0f5 289px,#0f6 292px,#0f4 295px,#0f4 297px,#0f3 300px,#0f4 307px,#0f6 310px,#0f6 311px,#0f6 312px,#0f4 313px,#0f4 314px,#0f5 315px,#0f5 317px,#0f6 318px,#0f7 319px,#0f7 320px,#0f3 323px,#0f3 324px,#0f5 325px,#0f6 326px,#0f5 327px,#0f5 328px,#0f6 329px,#0f6 330px,#0f5 332px,#0f3 336px,#0f5 339px,#0f6 341px,#0f4 349px,#0f6 352px,#0f5 357px,#0f6 359px,#0f5 360px,#0f4 361px,#0f3 362px,#0f6 365px,#0f7 366px,#0f4 369px,#0f3 371px,#0f4 372px,#0f7 375px,#0f7 376px,#0f6 377px,#0f6 378px,#0f7 379px,#0f6 380px,#0f4 381px,#0f3 382px,#0f5 384px,#0f6 386px,#0f6 390px,#0f4 392px,#0f3 393px,#0f3 394px,#0f5 395px,#0f6 396px,#0f4 398px,#0f4 400px,#0f4 401px,#0f5 404px,#0f5 405px,#0f3 407px,#0f3 408px,#0f5 409px,#0f5 410px,#0f1 413px,#0f1 414px,#0f2 416px,#0f2 417px,#0f3 418px,#0f4 419px,#0f5 420px,#0f3 423px,#0f0 425px,#0f0 426px,#0f0 427px,#0f1 428px,#0f4 429px,#0f4 430px,#6f0 431px,#7f0 432px,#5f0 433px,#4f0 434px,#5f0 436px)"></b>
<b style="left:708px;top:48px;width:156px;height:10px;background:linear-gradient(90deg,#f10 0,#f10 1px,#f00 2px,#f00 4px,#f10 5px,#f20 6px,#f30 8px,#f40 13px,#f40 14px,#f30 15px,#f30 16px,#f60 17px,#f60 18px,#f50 19px,#f40 20px,#f50 22px,#f40 23px,#f50 24px,#f60 25px,#f60 26px,#f50 27px,#f50 28px,#f70 29px,#f50 30px,#f20 31px,#f00 32px,#f00 33px,#f10 34px,#f30 35px,#f40 36px,#f30 39px,#f30 41px,#f40 43px,#f50 45px,#f50 46px,#f40 47px,#f40 48px,#f50 49px,#f50 50px,#f50 55px,#f50 56px,#f60 57px,#f60 58px,#f50 59px,#f60 60px,#fa0 61px,#fb0 62px,#fb0 64px,#fa0 65px,#fb0 66px,#fd0 67px,#fe0 68px,#ff0 70px,#df0 71px,#df0 72px,#ff0 73px,#ff0 75px,#ef0 76px,#bf0 77px,#af0 78px,#bf0 79px,#ff0 81px,#fd0 83px,#fd0 84px,#ff0 87px,#ff0 89px,#fa0 96px,#fb0 99px,#f90 100px,#f60 101px,#f40 102px,#f30 103px,#f30 104px,#f50 105px,#f80 106px,#fa0 107px,#fa0 108px,#fa0 109px,#fb0 110px,#fd0 111px,#ff0 112px,#df0 114px,#cf0 117px,#af0 118px,#5f0 119px,#4f0 120px,#6f0 121px,#3f0 122px,#0f2 123px,#0f5 124px,#0f7 125px,#0f8 126px,#0f9 131px,#0fa 133px,#0f9 134px,#0f6 136px,#0f5 138px,#0f5 139px,#0f3 140px,#4f0 141px,#8f0 142px,#8f0 143px,#cf0 146px,#ff0 147px,#ef0 148px,#af0 149px,#9f0 150px,#bf0 151px,#cf0 152px,#af0 153px,#6f0 155px)"></b>
<b style="left:0px;top:58px;width:437px;height:10px;background:linear-gradient(90deg,#0f1 0,#1f0 1px,#2f0 2px,#0f0 3px,#0f2 5px,#0f1 6px,#3f0 7px,#5f0 8px,#4f0 9px,#1f0 11px,#2f0 12px,#4f0 13px,#5f0 14px,#4f0 15px,#6f0 16px,#8f0 17px,#cf0 19px,#ef0 20px,#ff0 22px,#fe0 24px,#fb0 27px,#fb0 28px,#fc0 29px,#fc0 30px,#fb0 31px,#fa0 32px,#f80 33px,#f40 34px,#f40 41px,#f90 42px,#f60 43px,#f40 44px,#f40 45px,#f40 46px,#f70 49px,#f70 50px,#f70 53px,#f80 55px,#f70 56px,#f50 57px,#f40 58px,#f30 59px,#f30 60px,#f60 62px,#f60 63px,#f40 67px,#f50 70px,#f40 71px,#f40 73px,#f50 75px,#f70 78px,#f70 79px,#f60 80px,#f40 81px,#f40 82px,#f60 83px,#f70 84px,#f60 85px,#f40 87px,#f10 89px,#f00 90px,#f10 91px,#f20 95px,#f10 98px,#f20 106px,#f20 107px,#f20 109px,#f30 110px,#f60 111px,#f60 112px,#f40 113px,#f40 114px,#f50 115px,#f60 116px,#f60 117px,#f60 118px,#f90 121px,#f80 122px,#f50 123px,#f50 124px,#f60 126px,#f50 127px,#f60 128px,#f90 129px,#fa0 130px,#f80 131px,#f30 132px,#f30 135px,#f70 136px,#f60 137px,#f70 138px,#fa0 139px,#fc0 140px,#fc0 141px,#fb0 145px,#fb0 146px,#f90 147px,#f90 148px,#fb0 149px,#fc0 150px,#fc0 152px,#fa0 153px,#fa0 154px,#fb0 155px,#fd0 159px,#fc0 162px,#ff0 165px,#ff0 166px,#fe0 167px,#fe0 168px,#ff0 169px,#ef0 170px,#ff0 171px,#fe0 172px,#ff0 173px,#df0 174px,#7f0 175px,#7f0 176px,#bf0 177px,#cf0 178px,#af0 179px,#af0 180px,#bf0 181px,#cf0 182px,#cf0 183px,#9f0 184px,#0f0 186px,#0f2 187px,#0f2 188px,#2f0 189px,#4f0 190px,#0f0 192px,#0f1 193px,#0f1 194px,#0f0 195px,#0f0 196px,#0f2 197px,#0f1 198px,#2f0 199px,#6f0 200px,#9f0 201px,#7f0 202px,#0f0 203px,#0f2 204px,#0f3 205px,#0f1 206px,#5f0 207px,#7f0 208px,#4f0 209px,#3f0 210px,#4f0 211px,#2f0 212px,#0f0 213px,#0f1 214px,#1f0 215px,#2f0 216px,#0f0 217px,#0f1 218px,#1f0 219px,#4f0 221px,#7f0 222px,#bf0 223px,#df0 224px,#7f0 229px,#9f0 230px,#ff0 231px,#ff0 232px,#bf0 233px,#7f0 234px,#7f0 237px,#5f0 238px,#2f0 239px,#0f0 240px,#0f1 241px,#0f0 242px,#2f0 243px,#2f0 244px,#0f1 245px,#0f0 246px,#3f0 247px,#3f0 248px,#0f0 249px,#0f1 250px,#0f1 251px,#0f2 253px,#0f2 254px,#0f0 255px,#3f0 257px,#3f0 258px,#2f0 259px,#1f0 261px,#0f0 263px,#0f1 265px,#0f1 266px,#0f0 267px,#2f0 269px,#1f0 271px,#2f0 272px,#4f0 273px,#5f0 274px,#6f0 277px,#5f0 278px,#3f0 279px,#1f0 280px,#0f0 282px,#0f0 286px,#0f1 287px,#0f0 288px,#3f0 289px,#4f0 290px,#2f0 293px,#0f0 294px,#0f2 295px,#0f2 296px,#0f0 297px,#1f0 298px,#2f0 299px,#2f0 300px,#0f0 301px,#0f0 302px,#2f0 305px,#2f0 309px,#2f0 310px,#1f0 311px,#0f0 313px,#0f0 314px,#3f0 315px,#4f0 316px,#0f0 319px,#0f0 320px,#1f0 321px,#0f0 323px,#0f0 326px,#0f1 328px,#0f0 330px,#2f0 331px,#3f0 332px,#3f0 335px,#1f0 341px,#1f0 343px,#0f0 344px,#0f1 345px,#0f2 346px,#0f0 348px,#2f0 349px,#2f0 350px,#2f0 351px,#2f0 352px,#3f0 353px,#3f0 354px,#2f0 355px,#2f0 356px,#3f0 357px,#2f0 358px,#0f0 359px,#0f2 360px,#0f2 361px,#0f2 362px,#0f0 363px,#1f0 364px,#0f0 365px,#0f0 366px,#0f0 367px,#2f0 369px,#3f0 371px,#2f0 372px,#0f0 373px,#0f0 374px,#1f0 375px,#1f0 376px,#0f1 377px,#0f1 378px,#2f0 379px,#2f0 380px,#0f1 381px,#0f1 382px,#0f0 383px,#4f0 385px,#4f0 386px,#2f0 387px,#1f0 388px,#1f0 389px,#3f0 392px,#4f0 393px,#3f0 394px,#0f0 395px,#0f1 396px,#0f1 397px,#0f1 401px,#0f0 402px,#3f0 403px,#3f0 404px,#1f0 405px,#1f0 406px,#3f0 407px,#4f0 408px,#7f0 413px,#6f0 414px,#0f0 417px,#0f0 418px,#3f0 419px,#4f0 420px,#3f0 421px,#4f0 422px,#8f0 423px,#8f0 424px,#4f0 425px,#4f0 426px,#5f0 427px,#5f0 428px,#3f0 429px,#3f0 430px,#9f0 431px,#8f0 434px,#9f0 435px,#bf0 436px)"></b>
<b style="left:708px;top:58px;width:156px;height:10px;background:linear-gradient(90deg,#f00 0,#f00 2px,#f10 3px,#f10 4px,#f00 5px,#f00 6px,#f20 8px,#f20 9px,#f00 12px,#f10 15px,#f30 17px,#f30 18px,#f20 19px,#f20 20px,#f30 21px,#f30 22px,#f30 23px,#f40 25px,#f30 27px,#f30 29px,#f20 30px,#f10 31px,#f10 32px,#f30 33px,#f30 34px,#f10 35px,#f10 36px,#f20 37px,#f20 39px,#f10 40px,#f00 41px,#f00 42px,#f10 43px,#f20 44px,#f30 48px,#f40 50px,#f60 51px,#f60 52px,#f60 53px,#f80 55px,#f80 56px,#f60 59px,#f60 60px,#f70 61px,#f70 62px,#f50 65px,#f50 66px,#f60 67px,#fa0 69px,#fa0 70px,#f90 71px,#f80 72px,#f80 73px,#fa0 75px,#fd0 77px,#fd0 78px,#fc0 79px,#fc0 80px,#fe0 81px,#ff0 82px,#fe0 83px,#ff0 84px,#cf0 85px,#df0 86px,#fe0 87px,#fd0 88px,#fb0 91px,#fb0 92px,#fc0 93px,#fc0 94px,#fa0 97px,#f50 100px,#f20 103px,#f20 104px,#f80 108px,#fd0 110px,#bf0 111px,#6f0 112px,#7f0 113px,#4f0 114px,#1f0 115px,#1f0 116px,#5f0 119px,#3f0 120px,#0f1 121px,#0f2 122px,#0f1 125px,#1f0 126px,#5f0 127px,#4f0 128px,#0f1 129px,#0f3 130px,#0f0 132px,#2f0 133px,#1f0 134px,#0f1 135px,#0f0 136px,#3f0 137px,#4f0 138px,#4f0 139px,#4f0 140px,#6f0 141px,#8f0 142px,#8f0 143px,#7f0 144px,#5f0 145px,#5f0 146px,#8f0 147px,#8f0 148px,#5f0 149px,#8f0 150px,#fe0 151px,#fe0 152px,#ef0 153px,#bf0 154px,#cf0 155px)"></b>
<b style="left:0px;top:68px;width:437px;height:8px;background:linear-gradient(90deg,#9f0 0,#4f0 1px,#4f0 2px,#7f0 3px,#8f0 4px,#7f0 5px,#7f0 6px,#df0 9px,#df0 10px,#bf0 12px,#9f0 13px,#af0 14px,#ff0 15px,#fe0 16px,#fe0 17px,#fe0 19px,#fe0 20px,#fb0 23px,#fb0 24px,#fb0 25px,#fa0 26px,#f60 27px,#f50 28px,#f50 29px,#f40 30px,#f10 32px,#f10 33px,#f30 34px,#f40 41px,#f10 43px,#f10 44px,#f30 46px,#f20 49px,#f40 52px,#f40 55px,#f20 57px,#f30 58px,#f40 60px,#f50 63px,#f40 64px,#f20 65px,#f10 66px,#f10 68px,#f20 69px,#f20 72px,#f30 73px,#f30 75px,#f20 76px,#f00 77px,#f00 78px,#f20 79px,#f30 80px,#f20 82px,#f00 84px,#f00 86px,#f20 87px,#f30 88px,#f10 90px,#f10 92px,#f20 93px,#f20 95px,#f10 98px,#f10 109px,#f00 110px,#f20 112px,#f00 115px,#f00 116px,#f10 117px,#f20 118px,#f40 119px,#f40 120px,#f30 121px,#f40 122px,#f70 125px,#f70 126px,#f50 127px,#f50 128px,#f50 129px,#f50 130px,#f30 132px,#f30 135px,#f40 137px,#f70 140px,#f70 141px,#f80 143px,#f70 144px,#f40 145px,#f40 146px,#f60 148px,#f60 149px,#f70 150px,#fa0 152px,#fc0 155px,#fc0 157px,#fc0 158px,#fe0 160px,#ff0 161px,#ef0 163px,#cf0 164px,#8f0 165px,#bf0 166px,#fe0 167px,#fd0 168px,#fd0 169px,#fe0 170px,#bf0 171px,#bf0 172px,#ff0 173px,#ff0 174px,#bf0 175px,#af0 176px,#bf0 177px,#cf0 178px,#cf0 179px,#ef0 180px,#fd0 181px,#fd0 182px,#ff0 184px,#cf0 185px,#bf0 186px,#ef0 187px,#ef0 188px,#cf0 189px,#9f0 190px,#6f0 191px,#5f0 192px,#7f0 194px,#cf0 196px,#df0 197px,#cf0 198px,#9f0 199px,#7f0 200px,#7f0 201px,#8f0 202px,#bf0 203px,#cf0 204px,#bf0 205px,#cf0 206px,#ff0 207px,#ff0 208px,#ff0 210px,#9f0 213px,#9f0 214px,#bf0 216px,#bf0 217px,#ef0 218px,#fd0 219px,#fc0 220px,#fb0 224px,#fd0 227px,#fc0 230px,#fe0 232px,#df0 233px,#bf0 234px,#cf0 235px,#bf0 236px,#7f0 237px,#8f0 238px,#df0 239px,#ff0 240px,#af0 242px,#8f0 243px,#6f0 244px,#6f0 245px,#5f0 246px,#3f0 247px,#2f0 248px,#3f0 249px,#5f0 250px,#8f0 251px,#9f0 252px,#6f0 254px,#5f0 255px,#5f0 256px,#5f0 257px,#7f0 259px,#8f0 260px,#8f0 262px,#9f0 265px,#8f0 266px,#5f0 269px,#5f0 270px,#6f0 271px,#7f0 272px,#6f0 273px,#7f0 274px,#7f0 275px,#7f0 276px,#6f0 277px,#6f0 278px,#6f0 279px,#5f0 282px,#7f0 285px,#9f0 287px,#9f0 288px,#8f0 289px,#7f0 290px,#5f0 291px,#6f0 292px,#af0 293px,#cf0 294px,#cf0 295px,#bf0 296px,#9f0 297px,#9f0 298px,#bf0 299px,#cf0 300px,#bf0 301px,#af0 302px,#8f0 303px,#7f0 304px,#7f0 305px,#8f0 307px,#8f0 308px,#5f0 311px,#5f0 312px,#6f0 313px,#7f0 314px,#6f0 315px,#5f0 316px,#4f0 317px,#4f0 318px,#7f0 320px,#8f0 321px,#9f0 323px,#8f0 324px,#6f0 325px,#5f0 327px,#6f0 328px,#9f0 329px,#af0 330px,#8f0 331px,#7f0 332px,#8f0 333px,#8f0 334px,#7f0 335px,#7f0 336px,#8f0 337px,#9f0 338px,#7f0 341px,#7f0 342px,#9f0 343px,#9f0 344px,#8f0 345px,#8f0 346px,#9f0 347px,#8f0 348px,#5f0 349px,#5f0 350px,#8f0 351px,#8f0 352px,#6f0 353px,#6f0 354px,#8f0 355px,#9f0 356px,#8f0 359px,#8f0 360px,#9f0 361px,#9f0 362px,#8f0 363px,#9f0 364px,#bf0 365px,#af0 366px,#7f0 367px,#6f0 368px,#4f0 371px,#5f0 372px,#7f0 373px,#8f0 374px,#7f0 375px,#6f0 376px,#7f0 377px,#7f0 378px,#6f0 379px,#6f0 380px,#7f0 381px,#8f0 382px,#7f0 383px,#6f0 384px,#7f0 387px,#7f0 389px,#7f0 390px,#8f0 391px,#7f0 392px,#6f0 393px,#6f0 394px,#8f0 395px,#9f0 396px,#7f0 398px,#6f0 399px,#7f0 400px,#9f0 401px,#8f0 402px,#5f0 403px,#3f0 404px,#3f0 405px,#4f0 406px,#6f0 407px,#8f0 408px,#af0 409px,#af0 410px,#8f0 411px,#8f0 412px,#af0 413px,#9f0 414px,#7f0 415px,#7f0 416px,#bf0 417px,#cf0 418px,#8f0 421px,#9f0 422px,#df0 423px,#ff0 424px,#df0 425px,#cf0 426px,#df0 427px,#df0 428px,#bf0 429px,#bf0 430px,#df0 431px,#df0 434px,#df0 436px)"></b>
<b style="left:708px;top:68px;width:156px;height:8px;background:linear-gradient(90deg,#f10 0,#f10 2px,#f10 4px,#f00 8px,#f20 12px,#f20 15px,#f00 17px,#f00 18px,#f00 19px,#f20 21px,#f20 22px,#f10 24px,#f10 29px,#f20 30px,#f30 31px,#f30 32px,#f00 34px,#f00 46px,#f10 48px,#f10 50px,#f10 51px,#f00 54px,#f00 60px,#f20 62px,#f00 65px,#f00 66px,#f30 69px,#f40 71px,#f30 75px,#f40 76px,#f70 77px,#f80 78px,#f80 79px,#f90 80px,#fb0 82px,#fb0 85px,#f70 88px,#f70 89px,#f70 90px,#f80 91px,#f80 92px,#f60 94px,#f40 97px,#f20 99px,#f20 100px,#f20 102px,#f10 104px,#f60 109px,#fb0 113px,#fb0 114px,#fa0 115px,#fa0 116px,#fc0 117px,#fd0 118px,#ff0 121px,#df0 123px,#7f0 125px,#5f0 126px,#5f0 127px,#4f0 128px,#3f0 129px,#3f0 130px,#7f0 131px,#7f0 132px,#5f0 133px,#4f0 134px,#5f0 135px,#5f0 137px,#7f0 138px,#9f0 139px,#9f0 140px,#7f0 141px,#8f0 142px,#df0 143px,#ef0 144px,#af0 145px,#bf0 146px,#ff0 147px,#fe0 148px,#ff0 149px,#df0 150px,#ef0 155px)"></b>
</div>
<div class="cb" style="top:53px;height:353px;background:linear-gradient(#f00 0,#ff5400 13.3%,#ffb900 24.7%,#ff0 36.5%,#0f0 50.6%,#0ff 75.3%,#00f 88.2%,#000089 100%)"></div>
<div class="cb" style="top:429px;height:76px;background:linear-gradient(#f00 0,#ff5400 13.3%,#ffb900 24.7%,#ff0 36.5%,#0f0 50.6%,#0ff 75.3%,#00f 88.2%,#000089 100%)"></div>
<svg width="1083" height="620" viewBox="0 0 1083 620" shape-rendering="crispEdges" stroke="#000" stroke-width="1" fill="none">
<rect x="90.5" y="51.5" width="863" height="354" fill="none"/>
<rect x="90.5" y="427.5" width="863" height="77" fill="none"/>
<path d="M81 405.5L90 405.5"/>
<path d="M86 375.5L90 375.5"/>
<path d="M86 358.5L90 358.5"/>
<path d="M86 346.5L90 346.5"/>
<path d="M86 336.5L90 336.5"/>
<path d="M86 329.5L90 329.5"/>
<path d="M86 322.5L90 322.5"/>
<path d="M86 316.5L90 316.5"/>
<path d="M86 311.5L90 311.5"/>
<path d="M81 307.5L90 307.5"/>
<path d="M86 277.5L90 277.5"/>
<path d="M86 260.5L90 260.5"/>
<path d="M86 248.5L90 248.5"/>
<path d="M86 239.5L90 239.5"/>
<path d="M86 231.5L90 231.5"/>
<path d="M86 224.5L90 224.5"/>
<path d="M86 219.5L90 219.5"/>
<path d="M86 214.5L90 214.5"/>
<path d="M81 209.5L90 209.5"/>
<path d="M86 180.5L90 180.5"/>
<path d="M86 163.5L90 163.5"/>
<path d="M86 150.5L90 150.5"/>
<path d="M86 141.5L90 141.5"/>
<path d="M86 133.5L90 133.5"/>
<path d="M86 127.5L90 127.5"/>
<path d="M86 121.5L90 121.5"/>
<path d="M86 116.5L90 116.5"/>
<path d="M81 111.5L90 111.5"/>
<path d="M86 82.5L90 82.5"/>
<path d="M86 65.5L90 65.5"/>
<path d="M86 53.5L90 53.5"/>
<path d="M81 428.5L90 428.5"/>
<path d="M81 470.5L90 470.5"/>
<path d="M86 430.5L90 430.5"/>
<path d="M86 432.5L90 432.5"/>
<path d="M86 435.5L90 435.5"/>
<path d="M86 438.5L90 438.5"/>
<path d="M86 441.5L90 441.5"/>
<path d="M86 445.5L90 445.5"/>
<path d="M86 451.5L90 451.5"/>
<path d="M86 458.5L90 458.5"/>
<path d="M86 471.5L90 471.5"/>
<path d="M86 474.5L90 474.5"/>
<path d="M86 476.5L90 476.5"/>
<path d="M86 479.5L90 479.5"/>
<path d="M86 482.5L90 482.5"/>
<path d="M86 486.5L90 486.5"/>
<path d="M86 491.5L90 491.5"/>
<path d="M86 498.5L90 498.5"/>
<path d="M93.5 504L93.5 508"/>
<path d="M124.5 504L124.5 508"/>
<path d="M156.5 504L156.5 513"/>
<path d="M187.5 504L187.5 508"/>
<path d="M218.5 504L218.5 508"/>
<path d="M250.5 504L250.5 508"/>
<path d="M281.5 504L281.5 513"/>
<path d="M313.5 504L313.5 508"/>
<path d="M344.5 504L344.5 508"/>
<path d="M376.5 504L376.5 508"/>
<path d="M407.5 504L407.5 513"/>
<path d="M439.5 504L439.5 508"/>
<path d="M470.5 504L470.5 508"/>
<path d="M502.5 504L502.5 508"/>
<path d="M533.5 504L533.5 513"/>
<path d="M565.5 504L565.5 508"/>
<path d="M596.5 504L596.5 508"/>
<path d="M627.5 504L627.5 508"/>
<path d="M659.5 504L659.5 513"/>
<path d="M690.5 504L690.5 508"/>
<path d="M722.5 504L722.5 508"/>
<path d="M753.5 504L753.5 508"/>
<path d="M785.5 504L785.5 513"/>
<path d="M816.5 504L816.5 508"/>
<path d="M848.5 504L848.5 508"/>
<path d="M879.5 504L879.5 508"/>
<path d="M911.5 504L911.5 513"/>
<path d="M942.5 504L942.5 508"/>
<path d="M979.5 52L979.5 406"/>
<path d="M979 405.5L989 405.5"/>
<path d="M979 369.5L984 369.5"/>
<path d="M979 334.5L989 334.5"/>
<path d="M979 299.5L984 299.5"/>
<path d="M979 263.5L989 263.5"/>
<path d="M979 228.5L984 228.5"/>
<path d="M979 193.5L989 193.5"/>
<path d="M979 157.5L984 157.5"/>
<path d="M979 122.5L989 122.5"/>
<path d="M979 87.5L984 87.5"/>
<path d="M979 52.5L989 52.5"/>
<path d="M979.5 428L979.5 505"/>
<path d="M979 504.5L984 504.5"/>
<path d="M979 496.5L989 496.5"/>
<path d="M979 489.5L984 489.5"/>
<path d="M979 481.5L984 481.5"/>
<path d="M979 474.5L984 474.5"/>
<path d="M979 466.5L984 466.5"/>
<path d="M979 459.5L989 459.5"/>
<path d="M979 451.5L984 451.5"/>
<path d="M979 443.5L984 443.5"/>
<path d="M979 436.5L984 436.5"/>
<path d="M979 428.5L984 428.5"/>
<g stroke="#f0f" stroke-width="1.6" shape-rendering="auto" stroke-linejoin="round">
<polyline points="139,51.5 149,64 160,76 170,88 180,99 190,108.5 200,117 214,128 228,138 250,152 268,162 286,170.4 306,180 326,187.5 346,194 366,199 386,203.6 406,207 426,210 450,213 472,214 512,214 513,213 523,213"/>
<polyline points="800,142 815,133 830,123 843,114 856,105 866,96 876,87 888,76 894,69 900,62 905,57 910,52"/>
</g>
</svg>
<div class="t r" style="left:40px;width:29.6px;top:400.8px">10</div><div class="t" style="left:69.4px;top:394.5px">2</div>
<div class="t r" style="left:40px;width:29.6px;top:302.8px">10</div><div class="t" style="left:69.4px;top:296.5px">3</div>
<div class="t r" style="left:40px;width:29.6px;top:204.8px">10</div><div class="t" style="left:69.4px;top:198.5px">4</div>
<div class="t r" style="left:40px;width:29.6px;top:106.8px">10</div><div class="t" style="left:69.4px;top:100.5px">5</div>
<div class="t r" style="left:40px;width:29.6px;top:423.8px">10</div><div class="t" style="left:69.4px;top:417.5px">2</div>
<div class="t r" style="left:40px;width:29.6px;top:465.8px">10</div><div class="t" style="left:69.4px;top:459.5px">1</div>
<div class="t" style="left:992.3px;top:401.1px">10</div><div class="t" style="left:1005px;top:394.8px">-16</div>
<div class="t" style="left:992.3px;top:330.1px">10</div><div class="t" style="left:1005px;top:323.8px">-14</div>
<div class="t" style="left:992.3px;top:259.1px">10</div><div class="t" style="left:1005px;top:252.8px">-12</div>
<div class="t" style="left:992.3px;top:189.1px">10</div><div class="t" style="left:1005px;top:182.8px">-10</div>
<div class="t" style="left:992.3px;top:118.1px">10</div><div class="t" style="left:1005px;top:111.8px">-8</div>
<div class="t" style="left:992.3px;top:48.1px">10</div><div class="t" style="left:1005px;top:41.8px">-6</div>
<div class="t" style="left:992.3px;top:454.3px">10</div><div class="t" style="left:1005px;top:448px">-10</div>
<div class="t" style="left:992.3px;top:492.3px">10</div><div class="t" style="left:1005px;top:486px">-15</div>
<div class="t r" style="left:112px;width:60px;top:519.1px">06:00</div>
<div class="t r" style="left:112px;width:60px;top:535.1px">1.889</div>
<div class="t r" style="left:112px;width:60px;top:551.1px">35.458</div>
<div class="t r" style="left:112px;width:60px;top:567.1px">15.696</div>
<div class="t r" style="left:112px;width:60px;top:583.1px">75.013</div>
<div class="t r" style="left:237.85px;width:60px;top:519.1px">07:00</div>
<div class="t r" style="left:237.85px;width:60px;top:535.1px">3.560</div>
<div class="t r" style="left:237.85px;width:60px;top:551.1px">4.570</div>
<div class="t r" style="left:237.85px;width:60px;top:567.1px">18.451</div>
<div class="t r" style="left:237.85px;width:60px;top:583.1px">29.196</div>
<div class="t r" style="left:363.7px;width:60px;top:519.1px">08:00</div>
<div class="t r" style="left:363.7px;width:60px;top:535.1px">4.426</div>
<div class="t r" style="left:363.7px;width:60px;top:551.1px">4.413</div>
<div class="t r" style="left:363.7px;width:60px;top:567.1px">18.809</div>
<div class="t r" style="left:363.7px;width:60px;top:583.1px">6.350</div>
<div class="t r" style="left:489.55px;width:60px;top:519.1px">09:00</div>
<div class="t r" style="left:615.4px;width:60px;top:519.1px">10:00</div>
<div class="t r" style="left:741.25px;width:60px;top:519.1px">11:00</div>
<div class="t r" style="left:867.1px;width:60px;top:519.1px">12:00</div>
<div class="t r" style="left:867.1px;width:60px;top:535.1px">1.514</div>
<div class="t r" style="left:867.1px;width:60px;top:551.1px">6.980</div>
<div class="t r" style="left:867.1px;width:60px;top:567.1px">7.240</div>
<div class="t r" style="left:867.1px;width:60px;top:583.1px">-64.550</div>
<div class="t r" style="left:0;width:59.2px;top:535.1px">R<span class="sub">e</span></div>
<div class="t r" style="left:0;width:59.2px;top:551.1px">L<span class="sub"></span></div>
<div class="t r" style="left:0;width:59.2px;top:567.1px">M<span class="sub">LT</span></div>
<div class="t r" style="left:0;width:59.2px;top:583.1px">M<span class="sub">LAT</span></div>
<div class="rot" style="left:35px;top:328.3px;width:200px">Frequency (Hz)</div>
<div class="rot" style="left:35px;top:565.8px;width:200px">Freq (Hz)</div>
<div class="rot" style="left:1037px;top:328px;width:200px;letter-spacing:.45px">Ex (V<sup>2</sup> m<sup>-2</sup> Hz<sup>-1</sup>)</div>
<div class="rot" style="left:1030px;top:566px;width:200px;letter-spacing:.5px">LFC Ex</div>
</body></html>
